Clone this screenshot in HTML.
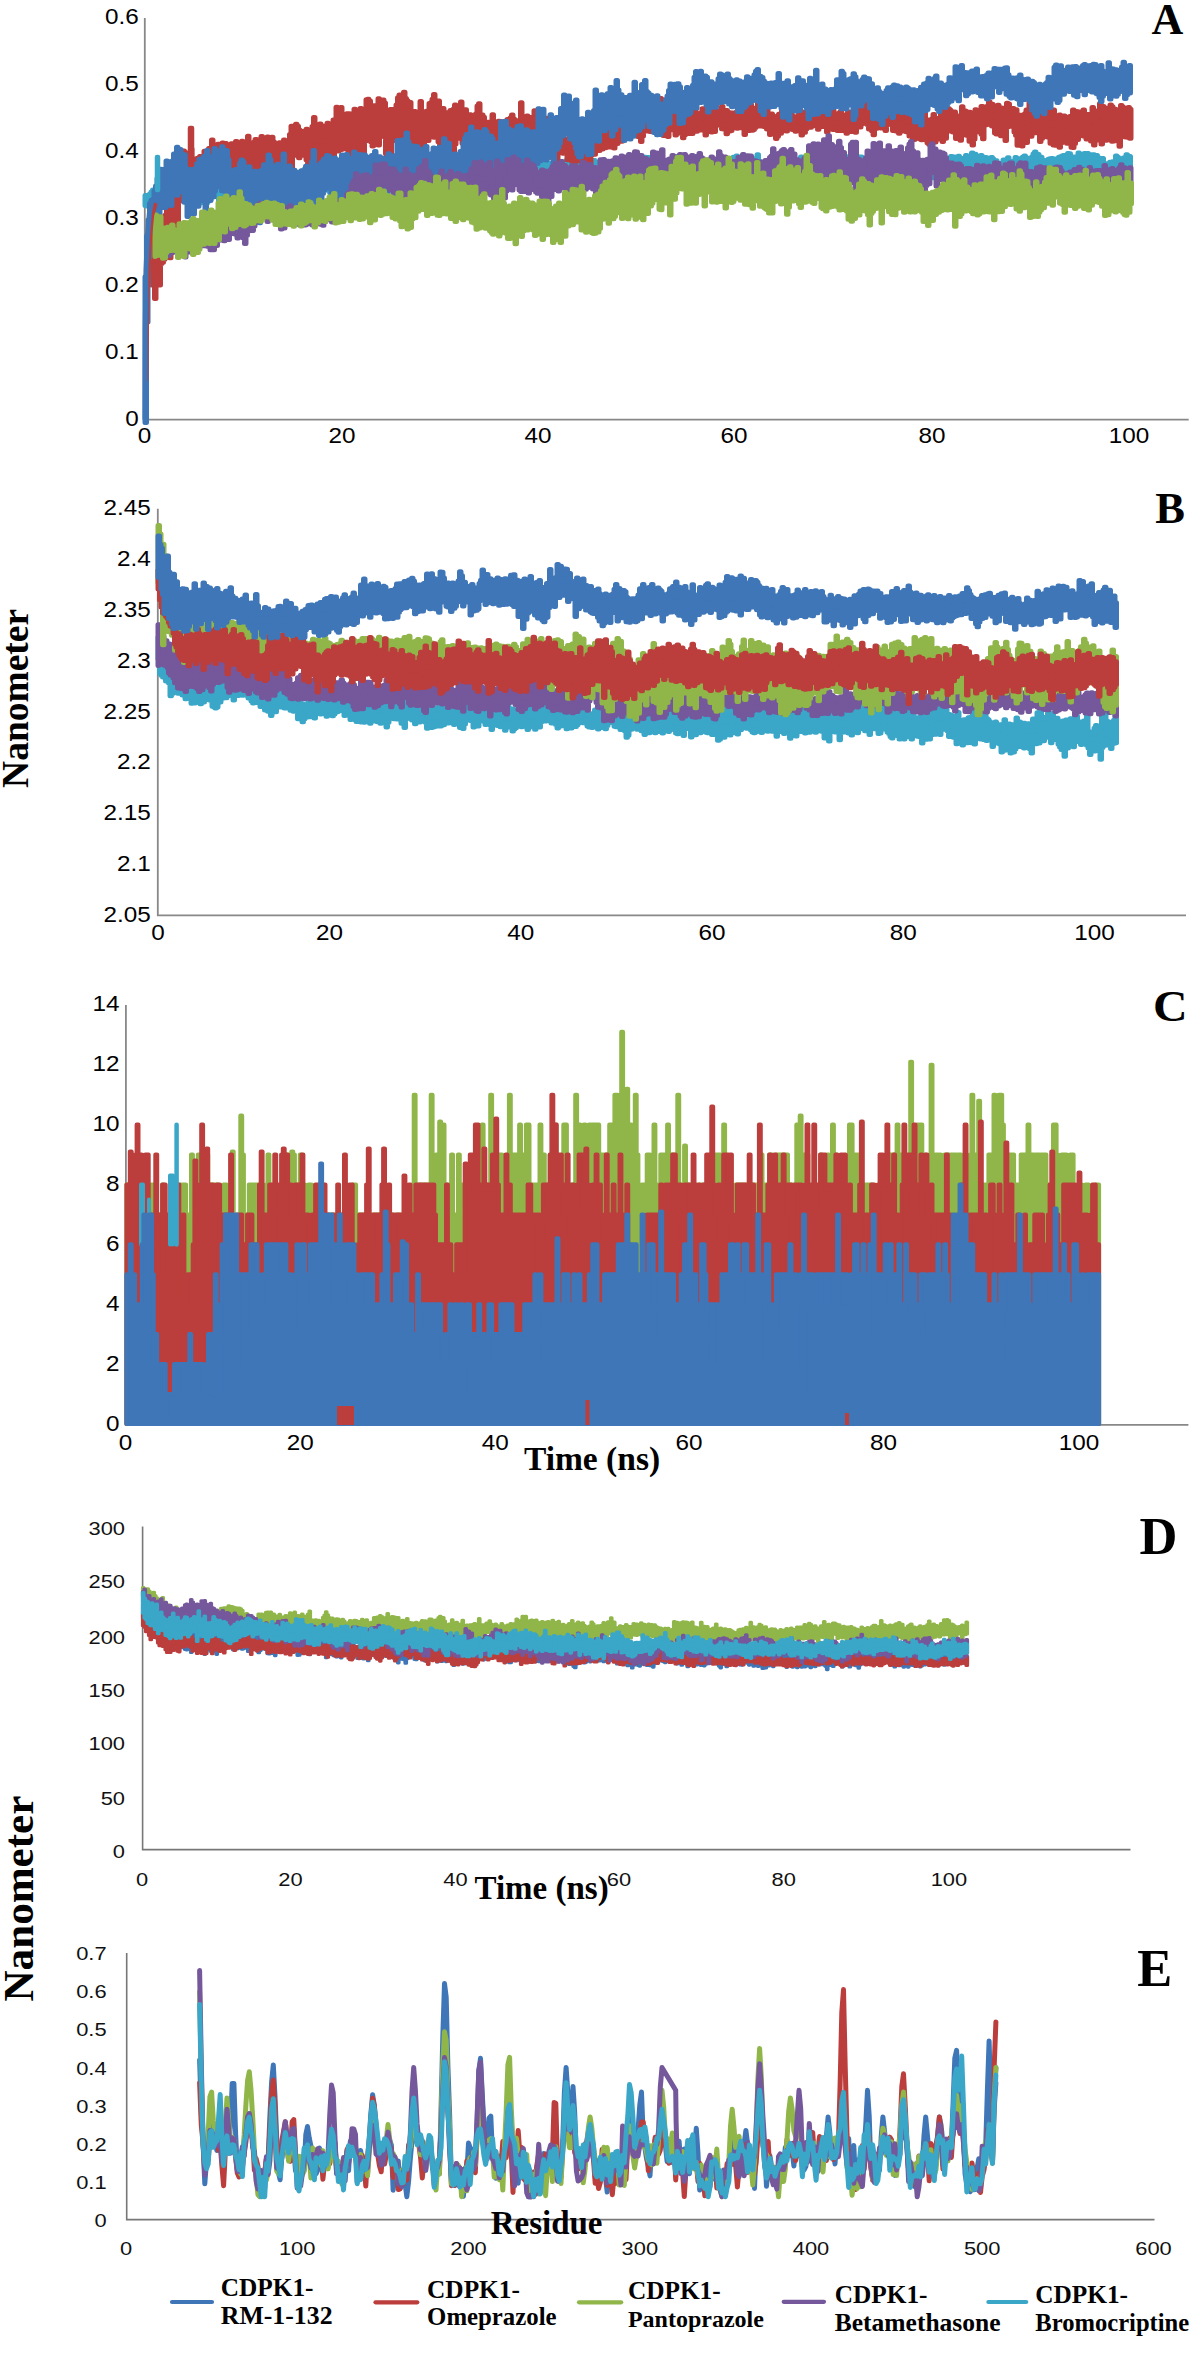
<!DOCTYPE html>
<html><head><meta charset="utf-8"><title>CDPK1 MD analysis</title>
<style>html,body{margin:0;padding:0;background:#fff;width:1192px;height:2361px;overflow:hidden}svg{display:block}</style>
</head><body>
<svg width="1192" height="2361" viewBox="0 0 1192 2361">
<path d="M144.8,18.0 V419.7 H1188.7" fill="none" stroke="#888" stroke-width="1.8"/>
<path d="M157.8,508.8 V915.3 H1186.0" fill="none" stroke="#888" stroke-width="1.8"/>
<path d="M125.9,1005.1 V1424.9 H1188.4" fill="none" stroke="#888" stroke-width="1.8"/>
<path d="M142.6,1526.4 V1849.6 H1130.5" fill="none" stroke="#777" stroke-width="1.6"/>
<path d="M126.7,1953.0 V2219.6 H1154.5" fill="none" stroke="#777" stroke-width="1.6"/>
<path d="M145.0,205.3V195.6h1.5v1.7h1.5v0.4h1.5v-3.6h1.5v-2.0h1.5v-2.0h1.5v0.9h1.5v-1.0h1.5v1.4h1.5v-0.8h1.5v-1.2h1.5v-3.1h1.5v-0.6h1.5v0.2h1.5v2.0h1.5v0.5h1.5v-3.4h1.5v-0.4h1.5v2.8h1.5v1.9h1.5v-3.0h1.5v-0.0h1.5v0.0h1.5v2.7h1.5v-3.1h1.5v2.5h1.5v-3.6h1.5v1.5h1.5v-2.2h1.5v3.2h1.5v-2.4h1.5v3.4h1.5v0.2h1.5v-0.9h1.5v-0.4h1.5v-4.7h1.5v6.7h1.5v-1.9h1.5v-4.9h1.5v6.2h1.5v2.1h1.5v0.4h1.5v-3.6h1.5v-0.6h1.5v-2.8h1.5v4.3h1.5v-4.3h1.5v3.8h1.5v-5.7h1.5v3.0h1.5v-1.2h1.5v-1.8h1.5v1.2h1.5v3.6h1.5v1.6h1.5v1.3h1.5v-2.3h1.5v-1.7h1.5v3.3h1.5v2.9h1.5v-5.1h1.5v-0.2h1.5v2.3h1.5v-5.3h1.5v1.5h1.5v3.8h1.5v-6.4h1.5v-0.1h1.5v5.9h1.5v-5.9h1.5v3.4h1.5v-0.7h1.5v-0.5h1.5v-0.7h1.5v-6.2h1.5v0.9h1.5v-0.7h1.5v2.9h1.5v2.3h1.5v-3.2h1.5v-0.7h1.5v4.7h1.5v-2.6h1.5v-3.0h1.5v-1.0h1.5v1.7h1.5v-2.6h1.5v2.4h1.5v-0.5h1.5v2.2h1.5v-5.3h1.5v-0.8h1.5v-2.6h1.5v7.2h1.5v-9.4h1.5v7.1h1.5v-0.7h1.5v0.1h1.5v2.9h1.5v-1.4h1.5v-5.0h1.5v3.1h1.5v-3.7h1.5v0.0h1.5v2.4h1.5v1.9h1.5v-7.2h1.5v4.3h1.5v-1.4h1.5v1.7h1.5v1.3h1.5v2.6h1.5v-2.7h1.5v-2.3h1.5v-3.1h1.5v0.2h1.5v5.3h1.5v-5.8h1.5v9.0h1.5v-7.6h1.5v5.0h1.5v2.4h1.5v-4.0h1.5v0.6h1.5v0.6h1.5v-1.5h1.5v0.7h1.5v-0.8h1.5v-0.4h1.5v1.7h1.5v1.9h1.5v-1.6h1.5v1.4h1.5v-2.1h1.5v-1.2h1.5v3.0h1.5v1.4h1.5v-7.3h1.5v8.2h1.5v-7.3h1.5v-3.3h1.5v0.0h1.5v-1.0h1.5v-1.3h1.5v-0.7h1.5v-1.9h1.5v8.4h1.5v-3.0h1.5v-6.3h1.5v8.0h1.5v-0.8h1.5v-5.2h1.5v2.5h1.5v9.3h1.5v-4.7h1.5v2.8h1.5v-1.7h1.5v1.0h1.5v-4.5h1.5v0.1h1.5v2.1h1.5v-8.9h1.5v2.4h1.5v1.7h1.5v3.8h1.5v-2.7h1.5v3.5h1.5v-1.4h1.5v-0.5h1.5v2.7h1.5v-1.0h1.5v-4.5h1.5v5.0h1.5v0.0h1.5v3.5h1.5v-0.2h1.5v-1.2h1.5v-4.3h1.5v2.8h1.5v-5.7h1.5v-0.2h1.5v-1.4h1.5v-0.0h1.5v-2.4h1.5v4.2h1.5v2.6h1.5v-1.2h1.5v-4.9h1.5v3.3h1.5v-0.3h1.5v-2.3h1.5v2.5h1.5v-2.6h1.5v1.0h1.5v-5.9h1.5v3.7h1.5v-1.3h1.5v8.5h1.5v-0.3h1.5v-2.1h1.5v-1.5h1.5v-1.0h1.5v4.7h1.5v-0.4h1.5v2.8h1.5v-3.2h1.5v4.3h1.5v3.2h1.5v-4.8h1.5v-1.8h1.5v-0.3h1.5v-0.4h1.5v0.1h1.5v-1.6h1.5v0.8h1.5v1.1h1.5v-1.8h1.5v-3.6h1.5v1.0h1.5v4.4h1.5v-2.4h1.5v-0.6h1.5v5.0h1.5v-8.4h1.5v-1.3h1.5v0.4h1.5v2.4h1.5v-7.7h1.5v1.9h1.5v3.4h1.5v-2.4h1.5v2.9h1.5v-2.3h1.5v0.8h1.5v1.6h1.5v-2.0h1.5v-2.4h1.5v3.1h1.5v-0.1h1.5v-4.9h1.5v4.4h1.5v-3.6h1.5v3.7h1.5v0.1h1.5v2.2h1.5v-1.3h1.5v3.0h1.5v-1.9h1.5v2.5h1.5v-2.7h1.5v1.9h1.5v1.8h1.5v-5.8h1.5v9.8h1.5v-7.2h1.5v3.9h1.5v5.3h1.5v-4.3h1.5v-4.4h1.5v3.9h1.5v-2.3h1.5v-1.5h1.5v-4.1h1.5v5.6h1.5v-4.5h1.5v-2.1h1.5v0.5h1.5v-2.3h1.5v8.3h1.5v-1.7h1.5v2.0h1.5v1.1h1.5v-0.3h1.5v-4.3h1.5v1.5h1.5v-0.6h1.5v3.9h1.5v-2.2h1.5v1.0h1.5v-1.8h1.5v-0.9h1.5v-2.8h1.5v0.1h1.5v2.1h1.5v-3.6h1.5v-1.7h1.5v6.1h1.5v-1.7h1.5v-3.7h1.5v4.0h1.5v-0.2h1.5v-0.3h1.5v0.4h1.5v-1.0h1.5v2.3h1.5v1.4h1.5v-3.4h1.5v3.6h1.5v0.3h1.5v-4.2h1.5v1.5h1.5v1.6h1.5v0.5h1.5v-1.7h1.5v-1.4h1.5v3.5h1.5v4.4h1.5v-2.0h1.5v-0.1h1.5v-1.9h1.5v2.9h1.5v1.0h1.5v-4.1h1.5v-0.7h1.5v-2.5h1.5v3.9h1.5v-0.3h1.5v-4.2h1.5v4.9h1.5v-3.4h1.5v-0.8h1.5v5.2h1.5v-5.3h1.5v1.0h1.5v1.8h1.5v-2.9h1.5v3.5h1.5v-0.4h1.5v-2.9h1.5v-2.8h1.5v4.3h1.5v0.4h1.5v-3.9h1.5v-2.4h1.5v3.4h1.5v-3.2h1.5v4.2h1.5v1.2h1.5v-1.4h1.5v3.0h1.5v-1.5h1.5v1.8h1.5v3.8h1.5v-4.5h1.5v2.8h1.5v3.7h1.5v-1.3h1.5v-0.4h1.5v-3.0h1.5v2.8h1.5v-2.4h1.5v-5.4h1.5v2.1h1.5v-3.5h1.5v-3.0h1.5v8.9h1.5v-4.3h1.5v2.3h1.5v3.7h1.5v-0.2h1.5v-2.5h1.5v-0.4h1.5v1.1h1.5v-0.3h1.5v-0.6h1.5v-2.3h1.5v0.5h1.5v-5.9h1.5v4.8h1.5v3.4h1.5v0.3h1.5v0.1h1.5v5.2h1.5v-2.9h1.5v-2.5h1.5v0.0h1.5v-0.6h1.5v2.1h1.5v-3.6h1.5v3.0h1.5v-2.4h1.5v-1.9h1.5v-2.2h1.5v0.6h1.5v2.5h1.5v-0.3h1.5v-1.6h1.5v0.2h1.5v4.9h1.5v-2.2h1.5v-3.7h1.5v-0.4h1.5v-2.0h1.5v2.0h1.5v-3.3h1.5v5.5h1.5v-3.2h1.5v-0.3h1.5v0.3h1.5v1.4h1.5v1.7h1.5v-0.9h1.5v1.7h1.5v1.0h1.5v3.5h1.5v-7.9h1.5v2.0h1.5v4.3h1.5v-10.2h1.5v6.5h1.5v3.7h1.5v2.9h1.5v-4.0h1.5v2.0h1.5v-0.2h1.5v2.3h1.5v-0.7h1.5v-4.8h1.5v3.9h1.5v0.2h1.5v-3.6h1.5v-3.9h1.5v3.0h1.5v4.2h1.5v-9.8h1.5v5.5h1.5v-2.7h1.5v1.9h1.5v-1.8h1.5v-1.3h1.5v7.5h1.5v-0.4h1.5v-4.3h1.5v6.3h1.5v-6.6h1.5v1.2h1.5v0.7h1.5v-5.5h1.5v3.6h1.5v-1.0h1.5v2.4h1.5v-6.0h1.5v2.1h1.5v4.2h1.5v0.9h1.5v-0.6h1.5v-4.9h1.5v7.8h1.5v-4.6h1.5v1.1h1.5v2.1h1.5v-3.8h1.5v-1.7h1.5v4.2h1.5v-5.7h1.5v2.9h1.5v5.5h1.5v-3.9h1.5v-0.5h1.5v1.4h1.5v-2.9h1.5v1.1h1.5v-0.1h1.5v4.0h1.5v-8.1h1.5v8.8h1.5v-0.4h1.5v-7.6h1.5v3.5h1.5v-4.2h1.5v-0.6h1.5v4.1h1.5v-2.2h1.5v1.3h1.5v-3.2h1.5v4.2h1.5v-3.0h1.5v-0.2h1.5v1.8h1.5v0.8h1.5v1.1h1.5v1.6h1.5v-0.4h1.5v0.4h1.5v1.7h1.5v3.2h1.5v-8.9h1.5v9.8h1.5v-6.4h1.5v4.6h1.5v-1.7h1.5v-4.3h1.5v1.2h1.5v-2.2h1.5v2.4h1.5v2.2h1.5v-5.4h1.5v1.9h1.5v0.6h1.5v1.7h1.5v-0.1h1.5v-2.4h1.5v3.7h1.5v-1.5h1.5v0.2h1.5v2.3h1.5v1.2h1.5v-0.7h1.5v-3.2h1.5v9.7h1.5v-5.0h1.5v-1.1h1.5v-3.2h1.5v1.5h1.5v0.7h1.5v0.6h1.5v0.5h1.5v-0.3h1.5v-4.9h1.5v4.3h1.5v-0.8h1.5v-0.5h1.5v-2.5h1.5v0.6h1.5v1.2h1.5v2.4h1.5v-4.2h1.5v-0.1h1.5v-0.3h1.5v1.4h1.5v-3.5h1.5v-0.5h1.5v-0.1h1.5v3.4h1.5v-2.2h1.5v1.7h1.5v-1.6h1.5v-2.8h1.5v1.2h1.5v-0.9h1.5v5.7h1.5v-4.1h1.5v-2.2h1.5v3.7h1.5v0.0h1.5v-1.6h1.5v1.1h1.5v-4.0h1.5v3.9h1.5v-2.6h1.5v0.3h1.5v-4.0h1.5v2.7h1.5v-1.6h1.5v3.4h1.5v0.6h1.5v1.4h1.5v-4.1h1.5v1.4h1.5v4.6h1.5v-4.0h1.5v0.4h1.5v0.9h1.5v3.2h1.5v-4.6h1.5v1.9h1.5v3.8h1.5v-2.3h1.5v6.1h1.5v-2.9h1.5v0.9h1.5v-1.7h1.5v-3.1h1.5v2.5h1.5v-1.7h1.5v-3.1h1.5v5.5h1.5v-0.1h1.5v-1.8h1.5v0.3h1.5v-4.1h1.5v1.0h1.5v0.2h1.5v2.2h1.5v-0.6h1.5v-3.5h1.5v-0.9h1.5v1.8h1.5v4.6h1.5v-3.0h1.5v0.7h1.5v-3.2h1.5v-3.0h1.5v-2.0h1.5v3.1h1.5v-0.5h1.5v2.4h1.5v0.4h1.5v3.0h1.5v0.3h1.5v2.3h1.5v2.2h1.5v-5.8h1.5v-0.6h1.5v-0.3h1.5v2.5h1.5v-2.0h1.5v3.4h1.5v-3.1h1.5v-2.0h1.5v-0.4h1.5v-0.8h1.5v-0.5h1.5v0.9h1.5v-0.3h1.5v-2.6h1.5v0.3h1.5v3.6h1.5v3.4h1.5v-3.7h1.5v-0.1h1.5v2.1h1.5v-6.0h1.5v1.3h1.5v2.2h1.5v0.5h1.5v-3.6h1.5v4.4h1.5v-4.4h1.5v3.6h1.5v-0.7h1.5v-1.7h1.5v0.1h1.5v4.1h1.5v-3.3h1.5v2.5h1.5v0.2h1.5v0.2h1.5v-0.1h1.5v4.8h1.5v1.3h1.5v2.2h1.5v-2.0h1.5v-2.5h1.5v0.9h1.5v-1.3h1.5v4.1h1.5v-9.8h1.5v1.1h1.5v5.7h1.5v-1.9h1.5v0.5h1.5v-3.6h1.5v-0.2h1.5v-3.0h1.5v2.2h1.5v-0.5h1.5V170.1h-1.5v-2.3h-1.5v1.3h-1.5v0.6h-1.5v2.3h-1.5v2.9h-1.5v0.2h-1.5v2.2h-1.5v0.0h-1.5v1.7h-1.5v-3.8h-1.5v-2.3h-1.5v2.7h-1.5v-3.3h-1.5v3.8h-1.5v1.0h-1.5v-3.5h-1.5v-0.3h-1.5v2.8h-1.5v-0.7h-1.5v-3.2h-1.5v-0.1h-1.5v-0.5h-1.5v-1.3h-1.5v3.2h-1.5v-4.8h-1.5v-1.9h-1.5v0.0h-1.5v3.9h-1.5v1.9h-1.5v-3.1h-1.5v4.3h-1.5v-5.8h-1.5v4.9h-1.5v-5.0h-1.5v2.5h-1.5v-3.3h-1.5v5.1h-1.5v1.6h-1.5v-4.5h-1.5v0.5h-1.5v3.4h-1.5v-2.4h-1.5v-1.1h-1.5v3.4h-1.5v3.4h-1.5v-4.8h-1.5v5.8h-1.5v-6.8h-1.5v1.9h-1.5v2.7h-1.5v-1.3h-1.5v2.3h-1.5v-1.9h-1.5v0.0h-1.5v1.9h-1.5v-1.6h-1.5v-5.1h-1.5v3.4h-1.5v-2.7h-1.5v-0.1h-1.5v1.1h-1.5v-1.2h-1.5v-1.0h-1.5v3.2h-1.5v-3.1h-1.5v1.5h-1.5v5.8h-1.5v-5.6h-1.5v1.2h-1.5v3.0h-1.5v-1.8h-1.5v1.0h-1.5v1.6h-1.5v-1.3h-1.5v-2.7h-1.5v0.6h-1.5v1.6h-1.5v3.8h-1.5v-3.2h-1.5v-1.5h-1.5v0.8h-1.5v3.0h-1.5v0.4h-1.5v-3.0h-1.5v-0.7h-1.5v3.7h-1.5v1.3h-1.5v-0.0h-1.5v-4.5h-1.5v0.9h-1.5v-1.8h-1.5v2.2h-1.5v-3.4h-1.5v-2.2h-1.5v-2.3h-1.5v4.5h-1.5v-2.1h-1.5v2.9h-1.5v-3.5h-1.5v2.4h-1.5v-1.3h-1.5v2.9h-1.5v-7.2h-1.5v2.8h-1.5v-1.5h-1.5v-0.3h-1.5v1.0h-1.5v4.0h-1.5v-2.5h-1.5v1.1h-1.5v-0.7h-1.5v2.8h-1.5v-2.3h-1.5v2.3h-1.5v-3.0h-1.5v3.3h-1.5v-2.6h-1.5v-2.2h-1.5v-0.1h-1.5v3.8h-1.5v-2.6h-1.5v0.5h-1.5v5.9h-1.5v-3.3h-1.5v-2.8h-1.5v1.1h-1.5v2.3h-1.5v-0.6h-1.5v5.5h-1.5v-0.1h-1.5v-0.9h-1.5v-2.5h-1.5v0.3h-1.5v-3.4h-1.5v4.4h-1.5v0.2h-1.5v0.4h-1.5v-1.1h-1.5v-0.1h-1.5v-1.7h-1.5v4.9h-1.5v0.1h-1.5v-0.8h-1.5v-3.0h-1.5v6.0h-1.5v1.3h-1.5v-0.4h-1.5v-6.3h-1.5v4.1h-1.5v-2.6h-1.5v0.4h-1.5v-1.2h-1.5v1.1h-1.5v0.5h-1.5v4.2h-1.5v-3.3h-1.5v-2.9h-1.5v-3.1h-1.5v3.6h-1.5v-4.3h-1.5v5.1h-1.5v-6.3h-1.5v3.9h-1.5v1.0h-1.5v-3.4h-1.5v5.6h-1.5v1.9h-1.5v-3.4h-1.5v0.4h-1.5v0.8h-1.5v2.2h-1.5v-2.5h-1.5v-3.1h-1.5v0.1h-1.5v-3.4h-1.5v4.0h-1.5v-6.0h-1.5v5.5h-1.5v-3.2h-1.5v-0.1h-1.5v1.8h-1.5v3.1h-1.5v-8.1h-1.5v6.0h-1.5v-5.1h-1.5v3.0h-1.5v-3.5h-1.5v2.9h-1.5v-2.2h-1.5v4.0h-1.5v3.2h-1.5v-2.8h-1.5v2.4h-1.5v-3.2h-1.5v-1.0h-1.5v2.3h-1.5v0.8h-1.5v-0.6h-1.5v-1.4h-1.5v2.2h-1.5v-5.8h-1.5v4.3h-1.5v1.5h-1.5v-4.0h-1.5v3.4h-1.5v-1.2h-1.5v-0.5h-1.5v4.0h-1.5v4.0h-1.5v-4.8h-1.5v3.7h-1.5v-3.1h-1.5v-4.3h-1.5v0.3h-1.5v-0.1h-1.5v1.8h-1.5v-3.3h-1.5v1.5h-1.5v1.0h-1.5v-1.8h-1.5v3.0h-1.5v-3.5h-1.5v4.5h-1.5v-2.6h-1.5v4.0h-1.5v3.4h-1.5v-2.5h-1.5v-5.5h-1.5v0.3h-1.5v5.0h-1.5v-4.1h-1.5v1.1h-1.5v-0.2h-1.5v-0.5h-1.5v-1.7h-1.5v3.1h-1.5v1.8h-1.5v-0.6h-1.5v-1.4h-1.5v3.2h-1.5v-0.3h-1.5v1.5h-1.5v-2.4h-1.5v0.4h-1.5v-0.1h-1.5v-3.5h-1.5v-3.1h-1.5v2.6h-1.5v2.2h-1.5v-3.0h-1.5v2.6h-1.5v3.8h-1.5v-4.4h-1.5v-1.0h-1.5v-1.3h-1.5v-0.3h-1.5v1.6h-1.5v-4.2h-1.5v-0.6h-1.5v1.7h-1.5v2.6h-1.5v-3.6h-1.5v3.0h-1.5v1.5h-1.5v-4.0h-1.5v7.3h-1.5v-2.5h-1.5v-0.5h-1.5v-4.7h-1.5v1.4h-1.5v2.3h-1.5v0.5h-1.5v0.6h-1.5v-2.7h-1.5v2.8h-1.5v7.7h-1.5v-8.2h-1.5v0.5h-1.5v-1.8h-1.5v5.1h-1.5v-3.1h-1.5v3.5h-1.5v-0.8h-1.5v0.3h-1.5v-1.8h-1.5v-3.3h-1.5v3.0h-1.5v-0.4h-1.5v-2.2h-1.5v0.2h-1.5v6.8h-1.5v-4.0h-1.5v-0.4h-1.5v4.6h-1.5v-3.3h-1.5v0.5h-1.5v-0.6h-1.5v-3.6h-1.5v3.7h-1.5v0.1h-1.5v2.8h-1.5v-6.5h-1.5v-0.1h-1.5v4.5h-1.5v-2.9h-1.5v4.2h-1.5v1.3h-1.5v-0.1h-1.5v2.1h-1.5v-0.8h-1.5v1.2h-1.5v-7.0h-1.5v-0.4h-1.5v6.0h-1.5v-6.9h-1.5v0.7h-1.5v-2.2h-1.5v-1.6h-1.5v4.5h-1.5v-4.1h-1.5v-1.4h-1.5v2.1h-1.5v-0.9h-1.5v3.9h-1.5v-4.3h-1.5v-0.3h-1.5v4.5h-1.5v-0.9h-1.5v-3.7h-1.5v4.3h-1.5v-1.0h-1.5v3.6h-1.5v-4.5h-1.5v0.4h-1.5v3.8h-1.5v-3.2h-1.5v0.9h-1.5v4.9h-1.5v-2.6h-1.5v0.1h-1.5v5.3h-1.5v-6.3h-1.5v2.6h-1.5v0.1h-1.5v-2.3h-1.5v1.3h-1.5v-1.3h-1.5v0.1h-1.5v1.5h-1.5v-1.6h-1.5v-3.3h-1.5v-0.2h-1.5v-0.3h-1.5v0.8h-1.5v2.1h-1.5v-1.2h-1.5v-0.5h-1.5v1.7h-1.5v-3.9h-1.5v2.8h-1.5v-1.5h-1.5v-1.3h-1.5v2.3h-1.5v-0.7h-1.5v-0.3h-1.5v-2.3h-1.5v1.1h-1.5v3.7h-1.5v-2.2h-1.5v-0.8h-1.5v2.7h-1.5v-0.6h-1.5v0.1h-1.5v-6.2h-1.5v5.5h-1.5v1.8h-1.5v-4.4h-1.5v5.9h-1.5v-1.9h-1.5v1.3h-1.5v3.4h-1.5v-2.0h-1.5v0.7h-1.5v0.2h-1.5v-0.4h-1.5v4.3h-1.5v-8.6h-1.5v6.3h-1.5v-9.0h-1.5v1.9h-1.5v-0.8h-1.5v1.6h-1.5v-0.3h-1.5v-1.1h-1.5v3.5h-1.5v3.2h-1.5v0.4h-1.5v0.3h-1.5v-0.5h-1.5v0.0h-1.5v-2.8h-1.5v-5.4h-1.5v11.9h-1.5v-8.4h-1.5v-0.2h-1.5v3.0h-1.5v2.7h-1.5v-4.5h-1.5v1.8h-1.5v-3.0h-1.5v3.1h-1.5v0.7h-1.5v-4.7h-1.5v0.5h-1.5v-1.5h-1.5v2.1h-1.5v-8.0h-1.5v8.3h-1.5v-3.5h-1.5v1.0h-1.5v-1.0h-1.5v1.1h-1.5v1.7h-1.5v-3.1h-1.5v3.2h-1.5v-3.7h-1.5v-0.5h-1.5v5.7h-1.5v-3.7h-1.5v10.1h-1.5v-5.9h-1.5v0.6h-1.5v1.4h-1.5v-1.1h-1.5v2.2h-1.5v-0.4h-1.5v-0.3h-1.5v-2.0h-1.5v2.9h-1.5v3.7h-1.5v-2.0h-1.5v1.8h-1.5v-3.7h-1.5v6.0h-1.5v-1.6h-1.5v1.5h-1.5v-3.2h-1.5v-0.4h-1.5v4.0h-1.5v-1.3h-1.5v-4.1h-1.5v4.7h-1.5v-2.2h-1.5v1.3h-1.5v-5.9h-1.5v8.1h-1.5v-8.0h-1.5v2.9h-1.5v-2.7h-1.5v5.8h-1.5v-10.4h-1.5v5.4h-1.5v-1.2h-1.5v1.0h-1.5v1.8h-1.5v1.3h-1.5v-0.2h-1.5v-4.2h-1.5v-3.1h-1.5v5.8h-1.5v4.0h-1.5v-4.9h-1.5v-1.1h-1.5v3.5h-1.5v-1.9h-1.5v-2.4h-1.5v5.3h-1.5v2.5h-1.5v1.0h-1.5v-0.5h-1.5v8.1h-1.5v-3.5h-1.5v-8.2h-1.5v6.1h-1.5v-4.5h-1.5v-0.0h-1.5v1.3h-1.5v1.8h-1.5v-5.6h-1.5v2.2h-1.5v1.9h-1.5v-2.6h-1.5v-4.3h-1.5v0.2h-1.5v5.1h-1.5v5.2h-1.5v-4.5h-1.5v0.2h-1.5v-0.2h-1.5v-0.4h-1.5v4.2h-1.5v4.6h-1.5v-3.3h-1.5v-2.8h-1.5v-2.7h-1.5v0.4h-1.5v-1.8h-1.5v-3.7h-1.5v5.7h-1.5v-1.7h-1.5v4.2h-1.5v-5.1h-1.5v1.7h-1.5v3.5h-1.5v-7.1h-1.5v8.0h-1.5v-1.5h-1.5v1.7h-1.5v-3.8h-1.5v4.9h-1.5v4.9h-1.5v-0.8h-1.5v-1.6h-1.5v4.3h-1.5v-7.0h-1.5v-1.4h-1.5v1.6h-1.5v-0.9h-1.5v0.7h-1.5v-2.8h-1.5v0.5h-1.5v-1.5h-1.5v6.1h-1.5v-7.0h-1.5v0.2h-1.5v2.0h-1.5v0.9h-1.5v1.7h-1.5v1.0h-1.5v-4.1h-1.5v-0.7h-1.5v-0.8h-1.5v-3.3h-1.5v4.1h-1.5v3.6h-1.5v-1.9h-1.5v1.0h-1.5v-3.5h-1.5v4.4h-1.5v-1.8h-1.5v3.5h-1.5v-5.4h-1.5v0.2h-1.5v-2.6h-1.5v4.1h-1.5v0.1h-1.5v-3.4h-1.5v2.3h-1.5v0.4h-1.5v0.0h-1.5v3.7h-1.5v-2.3h-1.5v2.3h-1.5v-2.4h-1.5v5.2h-1.5v-0.9h-1.5v-1.3h-1.5v-3.0h-1.5v6.5h-1.5v-2.1h-1.5v-1.0h-1.5v0.1h-1.5v5.2h-1.5v0.3h-1.5v0.5h-1.5v-6.9h-1.5v3.1h-1.5v2.6h-1.5v-2.7h-1.5v-3.3h-1.5v4.6h-1.5v-1.4h-1.5v6.1h-1.5v-6.0h-1.5v1.1h-1.5v0.9h-1.5v1.0h-1.5v0.2h-1.5v2.4h-1.5v1.7h-1.5v1.6h-1.5v-0.9h-1.5v-3.2h-1.5v2.5h-1.5v-2.7h-1.5v1.2h-1.5v-1.5h-1.5v4.8h-1.5v-3.9h-1.5v3.8h-1.5v-4.5h-1.5v3.6h-1.5v-1.2h-1.5v-2.7h-1.5v-3.1h-1.5v1.7h-1.5v2.9h-1.5v-4.2h-1.5v0.5h-1.5v-0.1h-1.5v0.5h-1.5v-0.3h-1.5v3.0h-1.5v-1.6h-1.5v4.6h-1.5v-1.0h-1.5v-3.0h-1.5v3.3h-1.5v0.9h-1.5v-4.4h-1.5v-2.1h-1.5v1.7h-1.5v0.4h-1.5v4.1h-1.5v-3.6h-1.5v-2.4h-1.5v0.2h-1.5v-1.7h-1.5v0.1h-1.5v6.2h-1.5v-6.3h-1.5v2.3h-1.5v-1.9h-1.5v-0.5h-1.5v0.3h-1.5v2.7h-1.5v2.1h-1.5v1.7h-1.5v-2.4h-1.5v-2.9h-1.5v2.2h-1.5v1.1h-1.5v-0.4h-1.5v0.2h-1.5v1.0h-1.5v-2.4h-1.5v2.4h-1.5v1.8h-1.5v-0.3h-1.5v1.2h-1.5v-1.6h-1.5v0.3h-1.5v-1.3h-1.5v5.1h-1.5v0.5h-1.5v-0.5h-1.5Z" fill="#3aa6c8" stroke="#3aa6c8" stroke-width="5.0" stroke-linejoin="round"/>
<path d="M150.0,284.0V247.1h1.5v-16.3h1.5v-4.5h1.5v4.4h1.5v11.5h1.5v-24.4h1.5v11.7h1.5v-0.2h1.5v1.5h1.5v-12.2h1.5v-3.3h1.5v-11.8h1.5v15.4h1.5v5.1h1.5v-23.8h1.5v-7.1h1.5v3.4h1.5v-9.4h1.5v-2.5h1.5v-24.1h1.5v-5.5h1.5v8.4h1.5v-12.5h1.5v1.7h1.5v8.2h1.5v1.2h1.5v3.7h1.5v-16.6h1.5v13.7h1.5v0.8h1.5v0.1h1.5v-5.2h1.5v13.2h1.5v-15.3h1.5v7.9h1.5v8.0h1.5v-21.1h1.5v4.7h1.5v-4.1h1.5v-3.3h1.5v1.6h1.5v-10.0h1.5v6.7h1.5v5.4h1.5v-6.2h1.5v-1.8h1.5v7.8h1.5v-4.5h1.5v-4.5h1.5v6.6h1.5v-6.2h1.5v4.2h1.5v1.0h1.5v-1.4h1.5v-3.4h1.5v3.9h1.5v-4.0h1.5v-2.2h1.5v2.8h1.5v-0.9h1.5v2.8h1.5v-4.9h1.5v5.4h1.5v1.3h1.5v6.7h1.5v-18.5h1.5v12.7h1.5v-5.9h1.5v4.8h1.5v-5.6h1.5v-2.7h1.5v5.3h1.5v-4.9h1.5v0.8h1.5v-4.2h1.5v1.4h1.5v4.6h1.5v-1.8h1.5v-3.6h1.5v4.4h1.5v10.3h1.5v-14.5h1.5v4.8h1.5v9.6h1.5v-4.5h1.5v-1.1h1.5v-3.3h1.5v5.2h1.5v-3.9h1.5v-4.0h1.5v4.4h1.5v-0.6h1.5v-0.7h1.5v-8.7h1.5v-8.3h1.5v2.2h1.5v2.1h1.5v-6.2h1.5v2.0h1.5v3.7h1.5v7.5h1.5v-4.4h1.5v-1.6h1.5v1.3h1.5v-3.5h1.5v4.8h1.5v5.1h1.5v-9.0h1.5v-3.7h1.5v-9.1h1.5v10.9h1.5v1.1h1.5v1.4h1.5v-6.7h1.5v7.6h1.5v4.8h1.5v-10.3h1.5v7.5h1.5v-10.5h1.5v14.3h1.5v-1.4h1.5v-11.6h1.5v-4.6h1.5v6.0h1.5v-18.6h1.5v12.0h1.5v-9.8h1.5v-2.1h1.5v9.9h1.5v13.0h1.5v-6.5h1.5v-10.1h1.5v0.1h1.5v8.2h1.5v-8.1h1.5v12.3h1.5v-16.9h1.5v6.2h1.5v10.8h1.5v-14.1h1.5v-3.7h1.5v15.6h1.5v-8.7h1.5v2.8h1.5v-18.4h1.5v-0.6h1.5v1.8h1.5v5.1h1.5v8.5h1.5v-8.9h1.5v6.8h1.5v3.3h1.5v-17.0h1.5v11.5h1.5v-9.0h1.5v-1.4h1.5v3.1h1.5v15.0h1.5v-3.0h1.5v7.2h1.5v-12.6h1.5v-0.1h1.5v5.5h1.5v-1.5h1.5v-8.6h1.5v-7.1h1.5v-2.7h1.5v11.6h1.5v1.9h1.5v-16.4h1.5v6.3h1.5v2.2h1.5v11.2h1.5v-9.4h1.5v10.1h1.5v2.5h1.5v-3.6h1.5v4.0h1.5v6.5h1.5v-0.9h1.5v-19.7h1.5v13.4h1.5v8.9h1.5v-11.1h1.5v-1.4h1.5v1.9h1.5v-9.7h1.5v-0.7h1.5v-3.5h1.5v-4.6h1.5v13.8h1.5v5.2h1.5v-12.7h1.5v17.8h1.5v-5.0h1.5v-5.1h1.5v10.1h1.5v-0.3h1.5v-5.6h1.5v6.5h1.5v-8.9h1.5v13.1h1.5v-14.2h1.5v-4.4h1.5v7.9h1.5v-0.1h1.5v-6.0h1.5v-4.7h1.5v7.8h1.5v4.9h1.5v-4.9h1.5v7.0h1.5v6.2h1.5v-8.2h1.5v6.8h1.5v0.0h1.5v1.9h1.5v-9.6h1.5v-7.8h1.5v-2.3h1.5v12.9h1.5v-1.8h1.5v2.3h1.5v6.1h1.5v3.4h1.5v-4.5h1.5v2.7h1.5v5.5h1.5v-15.7h1.5v10.8h1.5v6.3h1.5v-2.1h1.5v-8.5h1.5v0.2h1.5v0.3h1.5v0.9h1.5v3.7h1.5v-3.3h1.5v-3.6h1.5v2.6h1.5v-3.9h1.5v-3.2h1.5v4.0h1.5v3.2h1.5v5.1h1.5v-6.5h1.5v3.1h1.5v-21.1h1.5v27.6h1.5v1.3h1.5v-5.6h1.5v-10.1h1.5v11.9h1.5v3.2h1.5v-13.6h1.5v2.3h1.5v-8.9h1.5v8.0h1.5v-4.6h1.5v10.6h1.5v-13.8h1.5v10.6h1.5v1.4h1.5v2.5h1.5v-7.2h1.5v2.2h1.5v10.6h1.5v-1.4h1.5v0.8h1.5v3.0h1.5v4.2h1.5v-4.9h1.5v1.4h1.5v-0.6h1.5v1.7h1.5v2.5h1.5v2.4h1.5v4.3h1.5v-1.7h1.5v-4.9h1.5v7.9h1.5v-2.6h1.5v5.2h1.5v-3.4h1.5v5.4h1.5v-3.1h1.5v-4.6h1.5v1.6h1.5v1.5h1.5v0.1h1.5v-0.0h1.5v0.2h1.5v-1.7h1.5v0.4h1.5v-4.5h1.5v-7.0h1.5v3.6h1.5v-0.1h1.5v-1.0h1.5v-4.2h1.5v-4.6h1.5v5.4h1.5v0.5h1.5v-3.0h1.5v4.7h1.5v-6.5h1.5v3.7h1.5v-0.9h1.5v-2.7h1.5v-3.0h1.5v3.9h1.5v-3.1h1.5v-4.2h1.5v-3.9h1.5v9.2h1.5v-14.8h1.5v3.3h1.5v-5.6h1.5v-1.2h1.5v-5.1h1.5v-2.4h1.5v1.0h1.5v8.0h1.5v-3.3h1.5v5.6h1.5v-0.6h1.5v-2.5h1.5v3.0h1.5v-0.1h1.5v-1.3h1.5v-7.3h1.5v-2.8h1.5v17.2h1.5v-9.4h1.5v7.3h1.5v-9.4h1.5v1.6h1.5v-3.5h1.5v-4.6h1.5v7.6h1.5v-9.2h1.5v6.2h1.5v9.3h1.5v-2.5h1.5v-4.6h1.5v6.2h1.5v-9.7h1.5v9.6h1.5v-2.3h1.5v-2.4h1.5v7.4h1.5v0.9h1.5v-1.0h1.5v1.8h1.5v-3.2h1.5v5.8h1.5v-6.9h1.5v-0.4h1.5v1.4h1.5v-7.1h1.5v12.6h1.5v-2.0h1.5v-4.1h1.5v-3.3h1.5v5.5h1.5v-2.0h1.5v5.5h1.5v-6.4h1.5v-4.2h1.5v7.6h1.5v-1.4h1.5v0.4h1.5v-6.9h1.5v6.0h1.5v-4.6h1.5v2.2h1.5v-4.3h1.5v6.2h1.5v-3.1h1.5v0.6h1.5v2.4h1.5v-7.4h1.5v6.5h1.5v7.6h1.5v-10.0h1.5v7.6h1.5v-5.3h1.5v0.1h1.5v0.2h1.5v1.1h1.5v-0.3h1.5v-2.4h1.5v0.7h1.5v-2.6h1.5v3.9h1.5v-3.7h1.5v-3.2h1.5v6.5h1.5v-2.6h1.5v4.3h1.5v-10.2h1.5v5.1h1.5v-1.5h1.5v4.0h1.5v-3.7h1.5v-5.2h1.5v1.3h1.5v0.9h1.5v-2.8h1.5v7.4h1.5v1.5h1.5v-4.4h1.5v9.2h1.5v-2.5h1.5v0.2h1.5v1.8h1.5v4.5h1.5v0.8h1.5v-2.3h1.5v-4.6h1.5v-0.3h1.5v-2.9h1.5v-3.5h1.5v-0.9h1.5v5.7h1.5v-6.8h1.5v5.5h1.5v-0.2h1.5v5.3h1.5v0.7h1.5v1.6h1.5v-0.7h1.5v-2.7h1.5v5.7h1.5v-6.7h1.5v-2.0h1.5v3.8h1.5v-0.3h1.5v-2.4h1.5v-6.1h1.5v-1.7h1.5v-0.2h1.5v3.0h1.5v-1.1h1.5v-0.7h1.5v6.5h1.5v-7.8h1.5v2.1h1.5v6.0h1.5v-3.3h1.5v-5.6h1.5v10.9h1.5v-7.5h1.5v6.0h1.5v-0.6h1.5v-2.4h1.5v7.6h1.5v-2.7h1.5v-1.0h1.5v-1.4h1.5v-1.6h1.5v4.1h1.5v-0.6h1.5v1.3h1.5v-0.4h1.5v-3.9h1.5v5.1h1.5v-1.3h1.5v-4.5h1.5v5.3h1.5v-4.5h1.5v-2.2h1.5v-1.9h1.5v-1.7h1.5v2.4h1.5v-3.9h1.5v2.7h1.5v1.3h1.5v-5.9h1.5v12.2h1.5v-3.3h1.5v6.1h1.5v-7.6h1.5v2.5h1.5v-2.8h1.5v0.4h1.5v-6.7h1.5v2.0h1.5v-0.0h1.5v2.0h1.5v-3.5h1.5v3.2h1.5v-0.2h1.5v-2.2h1.5v4.6h1.5v-6.3h1.5v5.0h1.5v2.5h1.5v4.3h1.5v-8.9h1.5v10.5h1.5v0.9h1.5v-4.0h1.5v-7.4h1.5v9.1h1.5v-3.7h1.5v9.2h1.5v-16.1h1.5v8.4h1.5v4.4h1.5v-2.0h1.5v-1.2h1.5v7.8h1.5v-7.4h1.5v5.7h1.5v-3.2h1.5v-4.9h1.5v9.3h1.5v-1.6h1.5v3.1h1.5v-1.0h1.5v-3.1h1.5v-4.5h1.5v7.0h1.5v0.7h1.5v-3.7h1.5v-0.6h1.5v-8.9h1.5v3.2h1.5v-4.8h1.5v7.4h1.5v-4.2h1.5v-1.9h1.5v1.5h1.5v6.8h1.5v-3.7h1.5v-1.5h1.5v7.7h1.5v-3.5h1.5v2.2h1.5v-1.2h1.5v-10.3h1.5v8.5h1.5v-4.2h1.5v0.9h1.5v1.2h1.5v-0.9h1.5v3.4h1.5v4.7h1.5v-6.9h1.5v-3.8h1.5v2.4h1.5v2.0h1.5v-3.0h1.5v-4.7h1.5v3.4h1.5v-2.8h1.5v3.3h1.5v-3.9h1.5v-4.6h1.5v6.1h1.5v-3.6h1.5v5.5h1.5v-0.5h1.5v-2.7h1.5v-1.3h1.5v7.2h1.5v-4.5h1.5v0.3h1.5v7.6h1.5v-3.2h1.5v-9.4h1.5v0.6h1.5v5.5h1.5v1.4h1.5v-2.2h1.5v2.8h1.5v-1.6h1.5v17.6h1.5v-10.6h1.5v-1.6h1.5v0.2h1.5v2.8h1.5v-4.5h1.5v-3.6h1.5v6.4h1.5v-18.7h1.5v8.9h1.5v0.0h1.5v-4.6h1.5v5.2h1.5v2.7h1.5v-0.1h1.5v9.6h1.5v-9.9h1.5v-0.1h1.5v-6.7h1.5v9.7h1.5v6.8h1.5v-12.9h1.5v9.9h1.5v-6.2h1.5v-0.2h1.5v9.2h1.5v0.1h1.5v6.0h1.5v-10.3h1.5v8.4h1.5v-5.3h1.5v-2.1h1.5v6.8h1.5v3.8h1.5v2.7h1.5v-12.6h1.5v4.3h1.5v-11.0h1.5v7.7h1.5v-6.0h1.5v4.2h1.5v-3.8h1.5v0.9h1.5v3.0h1.5v-5.8h1.5v7.7h1.5v1.9h1.5v-5.3h1.5v6.7h1.5v-2.5h1.5v-11.0h1.5v7.1h1.5v2.5h1.5v-6.2h1.5v4.0h1.5v-11.4h1.5v10.5h1.5v-7.6h1.5v7.0h1.5v-5.3h1.5v5.3h1.5v-3.1h1.5v-5.5h1.5v1.9h1.5v12.4h1.5v-9.9h1.5v5.5h1.5v0.4h1.5v1.2h1.5v-10.9h1.5v1.6h1.5v7.6h1.5v0.0h1.5v2.0h1.5v-9.2h1.5v1.8h1.5V138.3h-1.5v-0.9h-1.5v-0.3h-1.5v-0.0h-1.5v-4.1h-1.5v0.5h-1.5v-1.5h-1.5v14.3h-1.5v-6.0h-1.5v-9.3h-1.5v3.4h-1.5v6.5h-1.5v0.4h-1.5v-1.3h-1.5v-11.0h-1.5v5.5h-1.5v5.8h-1.5v-5.3h-1.5v-3.3h-1.5v12.4h-1.5v-22.4h-1.5v18.4h-1.5v-5.9h-1.5v2.0h-1.5v8.9h-1.5v-18.0h-1.5v13.8h-1.5v-8.1h-1.5v1.3h-1.5v4.9h-1.5v-6.7h-1.5v3.7h-1.5v-5.3h-1.5v-0.1h-1.5v4.7h-1.5v4.2h-1.5v-3.7h-1.5v7.6h-1.5v4.2h-1.5v-0.4h-1.5v-5.1h-1.5v-3.0h-1.5v4.2h-1.5v-4.5h-1.5v-0.6h-1.5v0.3h-1.5v4.3h-1.5v4.4h-1.5v-7.2h-1.5v-4.7h-1.5v9.9h-1.5v-0.1h-1.5v-12.2h-1.5v10.3h-1.5v-7.3h-1.5v1.2h-1.5v-7.5h-1.5v2.8h-1.5v-0.6h-1.5v6.7h-1.5v3.0h-1.5v-13.6h-1.5v-1.6h-1.5v6.5h-1.5v-6.7h-1.5v-2.0h-1.5v12.1h-1.5v-11.0h-1.5v3.0h-1.5v14.2h-1.5v-1.5h-1.5v-6.7h-1.5v11.7h-1.5v-10.7h-1.5v3.8h-1.5v6.2h-1.5v-10.0h-1.5v-3.3h-1.5v-7.6h-1.5v1.9h-1.5v-2.8h-1.5v1.8h-1.5v1.8h-1.5v13.4h-1.5v-11.1h-1.5v0.5h-1.5v5.9h-1.5v-8.2h-1.5v3.8h-1.5v2.6h-1.5v-1.0h-1.5v-10.8h-1.5v3.9h-1.5v-4.8h-1.5v2.3h-1.5v0.3h-1.5v0.9h-1.5v0.0h-1.5v14.0h-1.5v-4.5h-1.5v-2.0h-1.5v-4.9h-1.5v4.1h-1.5v-2.0h-1.5v9.7h-1.5v5.9h-1.5v-12.8h-1.5v9.1h-1.5v-18.5h-1.5v12.5h-1.5v-8.0h-1.5v4.0h-1.5v-1.5h-1.5v10.4h-1.5v-3.7h-1.5v-4.2h-1.5v6.2h-1.5v-6.5h-1.5v-0.1h-1.5v-4.7h-1.5v3.7h-1.5v-1.6h-1.5v-1.4h-1.5v10.3h-1.5v-4.4h-1.5v7.7h-1.5v-13.0h-1.5v8.8h-1.5v-2.8h-1.5v4.9h-1.5v2.5h-1.5v-9.3h-1.5v9.3h-1.5v2.6h-1.5v-0.3h-1.5v-1.5h-1.5v-3.7h-1.5v-0.6h-1.5v1.1h-1.5v0.2h-1.5v-0.6h-1.5v-3.9h-1.5v2.1h-1.5v-2.7h-1.5v5.0h-1.5v-2.3h-1.5v-9.6h-1.5v8.2h-1.5v-4.7h-1.5v0.6h-1.5v-3.7h-1.5v2.8h-1.5v-1.1h-1.5v-6.1h-1.5v9.6h-1.5v-6.2h-1.5v3.8h-1.5v-6.0h-1.5v5.7h-1.5v-8.0h-1.5v-1.6h-1.5v1.5h-1.5v2.3h-1.5v5.8h-1.5v-6.9h-1.5v-1.0h-1.5v5.4h-1.5v-8.6h-1.5v7.9h-1.5v0.8h-1.5v-2.9h-1.5v9.4h-1.5v-4.0h-1.5v-7.6h-1.5v5.9h-1.5v-4.5h-1.5v-3.4h-1.5v1.5h-1.5v-2.1h-1.5v3.4h-1.5v3.1h-1.5v-4.9h-1.5v2.5h-1.5v7.6h-1.5v-6.8h-1.5v2.5h-1.5v3.6h-1.5v-2.0h-1.5v-6.6h-1.5v10.3h-1.5v-2.1h-1.5v-1.5h-1.5v-3.9h-1.5v4.9h-1.5v-3.8h-1.5v3.8h-1.5v-2.1h-1.5v-0.1h-1.5v1.1h-1.5v-2.1h-1.5v-1.5h-1.5v-4.9h-1.5v11.0h-1.5v-5.7h-1.5v-1.8h-1.5v2.1h-1.5v-1.7h-1.5v-2.9h-1.5v7.2h-1.5v-3.1h-1.5v-3.7h-1.5v-0.5h-1.5v4.0h-1.5v1.3h-1.5v-6.9h-1.5v4.8h-1.5v3.7h-1.5v3.5h-1.5v-5.2h-1.5v8.0h-1.5v-5.0h-1.5v-0.3h-1.5v-1.5h-1.5v2.9h-1.5v-3.5h-1.5v1.9h-1.5v-10.6h-1.5v4.7h-1.5v1.9h-1.5v5.4h-1.5v-3.4h-1.5v3.2h-1.5v-2.2h-1.5v4.7h-1.5v-4.7h-1.5v7.7h-1.5v2.1h-1.5v-5.5h-1.5v-1.9h-1.5v-2.1h-1.5v5.6h-1.5v-5.9h-1.5v0.5h-1.5v-3.2h-1.5v0.6h-1.5v-1.9h-1.5v-1.8h-1.5v3.1h-1.5v-6.1h-1.5v2.2h-1.5v5.4h-1.5v2.0h-1.5v0.8h-1.5v-1.1h-1.5v1.3h-1.5v-6.0h-1.5v5.0h-1.5v5.2h-1.5v-12.0h-1.5v5.2h-1.5v-1.4h-1.5v1.1h-1.5v0.8h-1.5v-1.2h-1.5v-2.1h-1.5v1.0h-1.5v4.5h-1.5v0.4h-1.5v0.2h-1.5v2.6h-1.5v-4.4h-1.5v-0.2h-1.5v-0.3h-1.5v-3.4h-1.5v-0.5h-1.5v-0.5h-1.5v0.1h-1.5v6.9h-1.5v-0.1h-1.5v0.8h-1.5v-5.2h-1.5v2.1h-1.5v2.1h-1.5v3.9h-1.5v-9.3h-1.5v2.4h-1.5v1.8h-1.5v-2.1h-1.5v2.4h-1.5v1.0h-1.5v-0.9h-1.5v0.2h-1.5v2.9h-1.5v-2.3h-1.5v2.4h-1.5v-4.1h-1.5v2.4h-1.5v3.0h-1.5v3.0h-1.5v-4.3h-1.5v-1.4h-1.5v-0.1h-1.5v-3.8h-1.5v6.7h-1.5v-10.5h-1.5v5.4h-1.5v-6.7h-1.5v1.8h-1.5v11.5h-1.5v-4.1h-1.5v-1.9h-1.5v5.1h-1.5v-9.6h-1.5v-3.6h-1.5v6.6h-1.5v-1.8h-1.5v-0.5h-1.5v3.6h-1.5v-3.6h-1.5v1.8h-1.5v3.0h-1.5v-1.3h-1.5v-1.4h-1.5v2.4h-1.5v0.1h-1.5v4.8h-1.5v5.5h-1.5v-8.5h-1.5v3.5h-1.5v-8.7h-1.5v2.7h-1.5v0.2h-1.5v2.1h-1.5v-10.2h-1.5v7.4h-1.5v-0.4h-1.5v-2.9h-1.5v7.2h-1.5v1.3h-1.5v6.0h-1.5v-4.8h-1.5v3.3h-1.5v3.7h-1.5v0.5h-1.5v4.0h-1.5v-5.1h-1.5v3.8h-1.5v0.5h-1.5v-1.9h-1.5v-1.2h-1.5v3.7h-1.5v-1.1h-1.5v2.4h-1.5v-1.9h-1.5v3.3h-1.5v-1.9h-1.5v-0.2h-1.5v6.0h-1.5v-0.5h-1.5v1.0h-1.5v8.6h-1.5v-5.5h-1.5v1.7h-1.5v7.9h-1.5v-9.3h-1.5v4.5h-1.5v-4.3h-1.5v-2.3h-1.5v3.5h-1.5v1.6h-1.5v-4.3h-1.5v4.5h-1.5v-0.2h-1.5v-2.2h-1.5v-3.8h-1.5v4.6h-1.5v-6.4h-1.5v-2.3h-1.5v2.2h-1.5v-4.6h-1.5v-6.4h-1.5v5.0h-1.5v12.1h-1.5v-1.2h-1.5v-9.2h-1.5v-2.3h-1.5v-0.9h-1.5v11.4h-1.5v-7.0h-1.5v-11.2h-1.5v8.9h-1.5v-6.6h-1.5v4.4h-1.5v-9.2h-1.5v4.1h-1.5v0.2h-1.5v8.8h-1.5v-0.1h-1.5v-9.2h-1.5v-3.0h-1.5v7.1h-1.5v5.4h-1.5v-4.6h-1.5v-2.6h-1.5v14.6h-1.5v-7.6h-1.5v-2.8h-1.5v-1.4h-1.5v4.0h-1.5v-1.2h-1.5v-0.9h-1.5v-4.3h-1.5v4.7h-1.5v-4.0h-1.5v-4.6h-1.5v-4.0h-1.5v16.0h-1.5v-7.1h-1.5v-2.1h-1.5v2.1h-1.5v-2.6h-1.5v2.1h-1.5v4.8h-1.5v4.9h-1.5v-0.1h-1.5v-2.7h-1.5v-0.9h-1.5v-3.5h-1.5v1.3h-1.5v0.8h-1.5v-7.3h-1.5v2.9h-1.5v-0.7h-1.5v-11.4h-1.5v4.5h-1.5v-1.0h-1.5v2.8h-1.5v5.7h-1.5v5.3h-1.5v-9.2h-1.5v5.0h-1.5v1.9h-1.5v-2.2h-1.5v-4.8h-1.5v-4.2h-1.5v7.9h-1.5v-7.7h-1.5v2.6h-1.5v-2.6h-1.5v-0.1h-1.5v8.4h-1.5v11.7h-1.5v-5.8h-1.5v6.7h-1.5v6.7h-1.5v-15.8h-1.5v2.6h-1.5v3.4h-1.5v-14.8h-1.5v-4.4h-1.5v14.6h-1.5v-7.1h-1.5v-4.1h-1.5v-4.4h-1.5v4.0h-1.5v-10.8h-1.5v5.3h-1.5v-2.6h-1.5v11.5h-1.5v-5.8h-1.5v4.4h-1.5v16.0h-1.5v-5.8h-1.5v-7.2h-1.5v6.5h-1.5v1.8h-1.5v-8.0h-1.5v18.3h-1.5v-12.2h-1.5v-0.6h-1.5v-9.4h-1.5v-6.3h-1.5v9.9h-1.5v-4.9h-1.5v-12.0h-1.5v16.8h-1.5v-1.0h-1.5v-15.9h-1.5v18.6h-1.5v-5.9h-1.5v2.7h-1.5v-8.6h-1.5v4.3h-1.5v17.6h-1.5v-4.5h-1.5v-9.1h-1.5v13.5h-1.5v-17.1h-1.5v-12.0h-1.5v8.6h-1.5v-1.3h-1.5v13.1h-1.5v-7.0h-1.5v-1.0h-1.5v-3.9h-1.5v12.9h-1.5v-4.4h-1.5v-4.4h-1.5v-0.8h-1.5v-7.9h-1.5v12.5h-1.5v18.2h-1.5v-9.6h-1.5v-3.7h-1.5v1.9h-1.5v4.3h-1.5v-12.8h-1.5v9.4h-1.5v4.3h-1.5v-1.9h-1.5v-5.0h-1.5v16.1h-1.5v-15.3h-1.5v-8.8h-1.5v10.6h-1.5v0.3h-1.5v0.4h-1.5v-15.6h-1.5v17.1h-1.5v-6.6h-1.5v-1.1h-1.5v14.2h-1.5v-2.9h-1.5v11.8h-1.5v-7.3h-1.5v3.9h-1.5v-8.0h-1.5v17.0h-1.5v-3.0h-1.5v-12.7h-1.5v-6.1h-1.5v11.2h-1.5v-15.2h-1.5v0.2h-1.5v-1.4h-1.5v5.9h-1.5v6.5h-1.5v-7.2h-1.5v14.6h-1.5v-5.1h-1.5v-9.6h-1.5v-5.7h-1.5v10.8h-1.5v-0.1h-1.5v2.6h-1.5v-5.1h-1.5v2.7h-1.5v-1.6h-1.5v-2.2h-1.5v18.3h-1.5v-14.2h-1.5v11.3h-1.5v2.6h-1.5v2.4h-1.5v-6.5h-1.5v2.4h-1.5v2.0h-1.5v-2.9h-1.5v-5.0h-1.5v8.9h-1.5v0.2h-1.5v-4.7h-1.5v-2.0h-1.5v3.2h-1.5v-4.8h-1.5v1.5h-1.5v-2.1h-1.5v1.0h-1.5v-3.7h-1.5v13.6h-1.5v-2.3h-1.5v-5.1h-1.5v-6.0h-1.5v5.0h-1.5v4.8h-1.5v-7.1h-1.5v2.3h-1.5v4.1h-1.5v3.9h-1.5v-1.0h-1.5v1.0h-1.5v-3.0h-1.5v-0.4h-1.5v-1.5h-1.5v0.9h-1.5v2.1h-1.5v-2.0h-1.5v-6.0h-1.5v11.7h-1.5v0.7h-1.5v1.8h-1.5v-3.5h-1.5v2.8h-1.5v-14.8h-1.5v8.8h-1.5v-2.6h-1.5v5.7h-1.5v4.2h-1.5v-2.9h-1.5v-0.7h-1.5v-3.6h-1.5v12.9h-1.5v-3.6h-1.5v-1.4h-1.5v-3.9h-1.5v-3.6h-1.5v13.9h-1.5v-2.1h-1.5v7.2h-1.5v4.4h-1.5v-4.8h-1.5v5.4h-1.5v0.2h-1.5v0.4h-1.5v-8.4h-1.5v2.5h-1.5v7.1h-1.5v-2.8h-1.5v-7.3h-1.5v-2.2h-1.5v-3.4h-1.5v9.0h-1.5v2.1h-1.5v-2.6h-1.5v12.0h-1.5v26.4h-1.5v-16.6h-1.5v12.3h-1.5v19.7h-1.5v-2.1h-1.5v16.8h-1.5v-14.3h-1.5v1.9h-1.5v3.5h-1.5v10.3h-1.5v3.0h-1.5v1.2h-1.5v21.5h-1.5v-11.1h-1.5v3.9h-1.5v20.9h-1.5v-32.7h-1.5v19.0h-1.5v-0.5h-1.5Z" fill="#bb3e3c" stroke="#bb3e3c" stroke-width="5.0" stroke-linejoin="round"/>
<path d="M145.0,422.1V276.7h1.5v-40.8h1.5v-16.0h1.5v-16.5h1.5v-3.1h1.5v-0.0h1.5v-9.2h1.5v-5.1h1.5v-7.6h1.5v10.9h1.5v-20.1h1.5v4.0h1.5v-3.7h1.5v2.0h1.5v-10.5h1.5v13.3h1.5v-12.6h1.5v4.1h1.5v-4.9h1.5v-6.8h1.5v2.2h1.5v-9.0h1.5v11.2h1.5v-9.1h1.5v4.8h1.5v8.1h1.5v-7.6h1.5v5.1h1.5v7.8h1.5v-7.6h1.5v21.0h1.5v-12.2h1.5v2.7h1.5v-7.3h1.5v5.9h1.5v1.6h1.5v-12.4h1.5v5.0h1.5v0.0h1.5v-8.0h1.5v8.8h1.5v-14.6h1.5v5.6h1.5v9.8h1.5v-1.6h1.5v-5.3h1.5v-10.6h1.5v7.4h1.5v-4.9h1.5v0.1h1.5v1.6h1.5v-5.9h1.5v6.9h1.5v-1.2h1.5v-1.8h1.5v8.9h1.5v12.9h1.5v-1.4h1.5v1.7h1.5v-2.1h1.5v-1.1h1.5v3.6h1.5v-3.0h1.5v-6.8h1.5v-3.3h1.5v1.7h1.5v9.9h1.5v-0.6h1.5v4.6h1.5v-8.9h1.5v4.6h1.5v1.0h1.5v2.0h1.5v-3.1h1.5v12.8h1.5v-7.9h1.5v-3.0h1.5v-2.7h1.5v-0.1h1.5v-5.5h1.5v8.9h1.5v-5.4h1.5v-13.2h1.5v4.4h1.5v13.8h1.5v-7.3h1.5v10.9h1.5v-8.1h1.5v-4.6h1.5v5.0h1.5v-0.6h1.5v1.4h1.5v-16.0h1.5v20.9h1.5v13.0h1.5v-16.5h1.5v-5.5h1.5v6.0h1.5v2.9h1.5v-4.6h1.5v22.2h1.5v-19.7h1.5v3.6h1.5v12.1h1.5v-17.6h1.5v8.6h1.5v-6.0h1.5v-7.1h1.5v17.7h1.5v-9.9h1.5v-1.9h1.5v-10.7h1.5v-10.9h1.5v18.4h1.5v-1.8h1.5v-1.8h1.5v1.6h1.5v-3.9h1.5v-1.5h1.5v-2.7h1.5v0.5h1.5v-4.0h1.5v0.5h1.5v5.9h1.5v4.9h1.5v5.4h1.5v-14.1h1.5v6.8h1.5v13.0h1.5v-16.2h1.5v-2.2h1.5v-4.3h1.5v6.3h1.5v4.5h1.5v-11.5h1.5v7.8h1.5v1.2h1.5v4.1h1.5v-9.5h1.5v-5.9h1.5v5.0h1.5v-2.2h1.5v7.7h1.5v-8.1h1.5v10.5h1.5v2.0h1.5v-11.9h1.5v8.2h1.5v-3.4h1.5v8.1h1.5v-11.2h1.5v-1.2h1.5v0.4h1.5v-4.4h1.5v9.7h1.5v-3.0h1.5v-1.5h1.5v1.4h1.5v7.3h1.5v-3.0h1.5v-4.6h1.5v11.0h1.5v-15.2h1.5v2.7h1.5v-0.1h1.5v7.5h1.5v-8.1h1.5v3.6h1.5v-18.7h1.5v5.0h1.5v6.9h1.5v-12.5h1.5v7.4h1.5v-6.1h1.5v-8.4h1.5v8.8h1.5v14.5h1.5v-10.4h1.5v9.1h1.5v1.5h1.5v-10.1h1.5v0.5h1.5v9.1h1.5v2.1h1.5v4.8h1.5v-13.6h1.5v1.6h1.5v-4.4h1.5v10.7h1.5v-2.9h1.5v1.2h1.5v-1.8h1.5v-5.6h1.5v11.1h1.5v-0.5h1.5v-10.2h1.5v-1.2h1.5v10.4h1.5v-1.9h1.5v-17.0h1.5v6.1h1.5v14.2h1.5v-15.8h1.5v17.3h1.5v0.7h1.5v-0.0h1.5v-7.1h1.5v4.1h1.5v0.9h1.5v-2.4h1.5v-5.2h1.5v7.1h1.5v-15.3h1.5v-5.1h1.5v-3.6h1.5v10.7h1.5v-8.6h1.5v-9.8h1.5v12.8h1.5v7.7h1.5v-8.5h1.5v-7.1h1.5v8.4h1.5v-6.3h1.5v3.1h1.5v-5.0h1.5v-2.5h1.5v2.0h1.5v6.0h1.5v-0.8h1.5v-0.8h1.5v2.7h1.5v7.5h1.5v-2.6h1.5v3.5h1.5v-1.2h1.5v-3.8h1.5v-20.2h1.5v17.6h1.5v-4.0h1.5v-14.2h1.5v8.0h1.5v-0.3h1.5v6.2h1.5v-4.6h1.5v7.8h1.5v-6.2h1.5v0.9h1.5v-6.5h1.5v11.8h1.5v-12.6h1.5v13.7h1.5v-5.4h1.5v2.2h1.5v-6.4h1.5v3.0h1.5v2.3h1.5v-3.2h1.5v2.2h1.5v-2.4h1.5v3.9h1.5v3.2h1.5v-30.0h1.5v22.5h1.5v1.2h1.5v-23.3h1.5v16.4h1.5v-4.5h1.5v0.7h1.5v5.9h1.5v-13.0h1.5v5.9h1.5v1.2h1.5v-0.4h1.5v-3.9h1.5v3.3h1.5v-3.1h1.5v-9.2h1.5v3.3h1.5v-16.9h1.5v8.4h1.5v-4.4h1.5v-2.9h1.5v6.7h1.5v3.4h1.5v-0.3h1.5v6.2h1.5v-12.1h1.5v20.5h1.5v0.8h1.5v2.3h1.5v-4.8h1.5v5.5h1.5v-4.5h1.5v11.6h1.5v-19.1h1.5v0.9h1.5v7.2h1.5v-1.1h1.5v-8.6h1.5v-20.6h1.5v12.4h1.5v-7.0h1.5v-0.2h1.5v-0.5h1.5v5.4h1.5v1.6h1.5v-3.9h1.5v-4.1h1.5v9.2h1.5v-15.3h1.5v10.4h1.5v-9.1h1.5v0.9h1.5v-9.3h1.5v9.5h1.5v5.6h1.5v-0.8h1.5v5.4h1.5v1.9h1.5v-4.7h1.5v5.4h1.5v-2.8h1.5v-4.7h1.5v9.0h1.5v2.5h1.5v-24.5h1.5v18.2h1.5v5.7h1.5v-4.6h1.5v-9.6h1.5v-7.6h1.5v14.9h1.5v-18.8h1.5v10.9h1.5v1.6h1.5v3.4h1.5v-1.2h1.5v3.7h1.5v3.3h1.5v6.4h1.5v-12.9h1.5v12.1h1.5v-4.1h1.5v6.8h1.5v-2.7h1.5v0.2h1.5v-8.5h1.5v-3.6h1.5v-5.5h1.5v-6.4h1.5v4.8h1.5v-2.5h1.5v-2.1h1.5v2.5h1.5v-2.9h1.5v2.9h1.5v10.2h1.5v2.2h1.5v-6.9h1.5v3.7h1.5v-8.5h1.5v2.8h1.5v-0.5h1.5v-0.3h1.5v-4.2h1.5v-7.9h1.5v-5.9h1.5v6.8h1.5v3.0h1.5v-10.0h1.5v5.1h1.5v2.2h1.5v-2.6h1.5v1.3h1.5v9.7h1.5v-1.4h1.5v-3.7h1.5v5.3h1.5v-0.9h1.5v-2.3h1.5v2.6h1.5v-7.7h1.5v-4.7h1.5v0.6h1.5v7.5h1.5v-3.0h1.5v-1.1h1.5v-4.2h1.5v4.5h1.5v1.6h1.5v0.7h1.5v3.0h1.5v0.4h1.5v-4.4h1.5v1.0h1.5v0.2h1.5v1.9h1.5v4.5h1.5v-3.2h1.5v-2.5h1.5v-4.8h1.5v8.6h1.5v-7.1h1.5v7.5h1.5v-7.4h1.5v-3.6h1.5v-3.6h1.5v-1.8h1.5v15.8h1.5v-8.6h1.5v0.8h1.5v3.5h1.5v6.2h1.5v-3.8h1.5v1.4h1.5v1.0h1.5v-2.6h1.5v2.8h1.5v4.2h1.5v-7.5h1.5v2.6h1.5v-11.8h1.5v15.9h1.5v-2.0h1.5v-4.1h1.5v0.7h1.5v-1.0h1.5v-2.1h1.5v11.3h1.5v-3.3h1.5v-2.1h1.5v5.3h1.5v-6.4h1.5v6.3h1.5v-14.2h1.5v5.6h1.5v6.8h1.5v-9.3h1.5v6.4h1.5v-1.9h1.5v0.6h1.5v1.7h1.5v-9.4h1.5v9.4h1.5v3.6h1.5v-2.2h1.5v-18.8h1.5v16.0h1.5v4.6h1.5v-6.0h1.5v-0.7h1.5v11.6h1.5v-6.6h1.5v3.3h1.5v4.2h1.5v-2.0h1.5v-5.2h1.5v2.1h1.5v2.5h1.5v-5.2h1.5v-9.1h1.5v8.2h1.5v-2.5h1.5v-14.2h1.5v2.3h1.5v9.9h1.5v0.1h1.5v-1.1h1.5v-2.9h1.5v-0.7h1.5v2.3h1.5v-7.4h1.5v3.1h1.5v4.1h1.5v1.8h1.5v-0.4h1.5v-0.2h1.5v-2.6h1.5v-2.5h1.5v3.7h1.5v-2.3h1.5v0.3h1.5v5.9h1.5v-0.9h1.5v4.2h1.5v4.2h1.5v3.4h1.5v-7.8h1.5v3.9h1.5v4.3h1.5v-0.8h1.5v-1.7h1.5v2.5h1.5v-5.4h1.5v-2.7h1.5v4.0h1.5v-1.8h1.5v-3.2h1.5v-1.7h1.5v6.8h1.5v-6.2h1.5v4.1h1.5v-2.8h1.5v6.9h1.5v-1.3h1.5v-1.8h1.5v-3.9h1.5v1.1h1.5v5.9h1.5v-4.2h1.5v1.1h1.5v-1.1h1.5v4.1h1.5v-0.0h1.5v-3.4h1.5v5.1h1.5v-8.3h1.5v3.3h1.5v-6.6h1.5v1.1h1.5v-2.3h1.5v-4.4h1.5v10.4h1.5v-4.8h1.5v-2.4h1.5v-3.1h1.5v-2.4h1.5v8.5h1.5v3.3h1.5v-4.8h1.5v8.5h1.5v-3.0h1.5v-3.3h1.5v1.0h1.5v-2.2h1.5v-6.2h1.5v6.5h1.5v-6.3h1.5v4.1h1.5v-15.4h1.5v10.2h1.5v3.1h1.5v-5.4h1.5v-9.2h1.5v9.6h1.5v-2.5h1.5v4.0h1.5v-3.8h1.5v0.4h1.5v0.2h1.5v-2.2h1.5v3.3h1.5v-2.3h1.5v-3.2h1.5v7.7h1.5v2.8h1.5v0.7h1.5v-3.6h1.5v6.8h1.5v-7.3h1.5v-0.9h1.5v-2.2h1.5v2.1h1.5v2.4h1.5v-4.9h1.5v-3.9h1.5v0.4h1.5v5.3h1.5v-5.1h1.5v-0.0h1.5v1.6h1.5v0.6h1.5v-3.5h1.5v-0.1h1.5v7.0h1.5v3.9h1.5v-0.5h1.5v-0.2h1.5v0.4h1.5v4.7h1.5v-5.4h1.5v4.2h1.5v-6.9h1.5v4.0h1.5v2.0h1.5v0.2h1.5v-1.8h1.5v-0.5h1.5v6.9h1.5v1.3h1.5v-5.8h1.5v1.2h1.5v4.7h1.5v-1.7h1.5v4.1h1.5v-5.4h1.5v6.4h1.5v-2.9h1.5v0.9h1.5v-4.7h1.5v-1.3h1.5v-5.4h1.5v1.9h1.5v-1.4h1.5v2.9h1.5v-13.4h1.5v-2.1h1.5v7.4h1.5v-5.3h1.5v-1.4h1.5v10.2h1.5v-5.8h1.5v4.3h1.5v-1.2h1.5v-6.2h1.5v6.3h1.5v2.5h1.5v-9.2h1.5v3.7h1.5v-3.9h1.5v10.5h1.5v-9.0h1.5v2.5h1.5v-1.1h1.5v-4.0h1.5v-1.0h1.5v5.4h1.5v-2.2h1.5v-1.9h1.5v-0.2h1.5v4.1h1.5v-5.4h1.5v0.2h1.5v8.7h1.5v-3.2h1.5v-0.9h1.5v-3.6h1.5v5.5h1.5v1.4h1.5v1.2h1.5v1.4h1.5v-12.1h1.5v8.5h1.5v-2.5h1.5v0.2h1.5v2.3h1.5v-1.5h1.5v3.3h1.5v3.6h1.5v-5.7h1.5v-3.9h1.5v-4.8h1.5v10.8h1.5v1.0h1.5v-5.1h1.5v-3.5h1.5V93.1h-1.5v-2.4h-1.5v4.4h-1.5v3.4h-1.5v-9.4h-1.5v0.9h-1.5v0.2h-1.5v1.5h-1.5v2.5h-1.5v2.0h-1.5v-2.7h-1.5v-4.4h-1.5v0.5h-1.5v9.3h-1.5v-17.0h-1.5v7.9h-1.5v3.7h-1.5v-4.6h-1.5v7.3h-1.5v5.3h-1.5v-3.9h-1.5v-3.4h-1.5v-0.7h-1.5v-7.8h-1.5v5.7h-1.5v0.6h-1.5v-1.0h-1.5v-4.9h-1.5v4.5h-1.5v-1.1h-1.5v5.3h-1.5v-12.7h-1.5v0.8h-1.5v7.5h-1.5v-1.3h-1.5v7.7h-1.5v-4.3h-1.5v2.8h-1.5v-8.7h-1.5v3.2h-1.5v1.8h-1.5v-8.3h-1.5v1.4h-1.5v6.3h-1.5v3.3h-1.5v-3.8h-1.5v1.7h-1.5v8.4h-1.5v1.8h-1.5v-5.8h-1.5v-3.5h-1.5v5.1h-1.5v1.3h-1.5v7.9h-1.5v-3.0h-1.5v-2.3h-1.5v4.7h-1.5v7.0h-1.5v-7.2h-1.5v5.0h-1.5v-6.0h-1.5v4.3h-1.5v6.4h-1.5v-2.8h-1.5v-10.0h-1.5v6.6h-1.5v-8.1h-1.5v-4.0h-1.5v-1.4h-1.5v-5.4h-1.5v8.3h-1.5v-2.8h-1.5v-0.7h-1.5v8.4h-1.5v-4.9h-1.5v-0.8h-1.5v-5.8h-1.5v3.2h-1.5v0.7h-1.5v1.3h-1.5v-1.5h-1.5v-5.2h-1.5v2.8h-1.5v-6.8h-1.5v-0.2h-1.5v-2.7h-1.5v4.7h-1.5v3.3h-1.5v-5.2h-1.5v-1.2h-1.5v0.2h-1.5v-1.6h-1.5v12.2h-1.5v0.1h-1.5v-5.2h-1.5v7.1h-1.5v-4.3h-1.5v1.3h-1.5v-5.3h-1.5v5.3h-1.5v-6.5h-1.5v3.1h-1.5v-2.6h-1.5v-1.0h-1.5v-1.6h-1.5v4.6h-1.5v-1.1h-1.5v-2.0h-1.5v5.1h-1.5v1.9h-1.5v-9.0h-1.5v0.7h-1.5v0.8h-1.5v2.0h-1.5v10.5h-1.5v-2.4h-1.5v-1.4h-1.5v-3.8h-1.5v3.6h-1.5v4.2h-1.5v0.1h-1.5v1.5h-1.5v2.7h-1.5v2.1h-1.5v-3.8h-1.5v-1.8h-1.5v5.3h-1.5v4.3h-1.5v-2.3h-1.5v-5.5h-1.5v1.9h-1.5v-1.2h-1.5v-5.9h-1.5v6.0h-1.5v-2.4h-1.5v7.6h-1.5v1.0h-1.5v-7.5h-1.5v8.5h-1.5v13.3h-1.5v-10.8h-1.5v3.9h-1.5v1.5h-1.5v2.6h-1.5v-8.6h-1.5v1.5h-1.5v-3.9h-1.5v1.9h-1.5v0.3h-1.5v-2.7h-1.5v-3.5h-1.5v2.9h-1.5v2.4h-1.5v-9.9h-1.5v7.3h-1.5v1.4h-1.5v0.6h-1.5v0.4h-1.5v5.2h-1.5v-12.0h-1.5v6.6h-1.5v-3.8h-1.5v5.0h-1.5v3.0h-1.5v-2.7h-1.5v10.9h-1.5v-8.0h-1.5v3.1h-1.5v-2.6h-1.5v0.7h-1.5v-9.4h-1.5v10.4h-1.5v-11.1h-1.5v0.6h-1.5v-10.1h-1.5v0.8h-1.5v-4.0h-1.5v5.7h-1.5v1.2h-1.5v4.3h-1.5v-4.6h-1.5v-1.3h-1.5v-0.8h-1.5v16.3h-1.5v4.0h-1.5v-22.7h-1.5v2.3h-1.5v5.7h-1.5v-4.4h-1.5v8.5h-1.5v-10.9h-1.5v8.5h-1.5v2.1h-1.5v-3.9h-1.5v-1.3h-1.5v2.6h-1.5v0.7h-1.5v-1.4h-1.5v2.0h-1.5v0.5h-1.5v0.7h-1.5v6.0h-1.5v-6.8h-1.5v-0.2h-1.5v4.0h-1.5v-3.0h-1.5v-3.0h-1.5v6.4h-1.5v2.1h-1.5v-3.4h-1.5v1.0h-1.5v2.9h-1.5v-2.9h-1.5v-1.6h-1.5v8.7h-1.5v-10.0h-1.5v-11.6h-1.5v8.6h-1.5v-4.8h-1.5v-2.2h-1.5v11.8h-1.5v-4.4h-1.5v4.9h-1.5v-0.1h-1.5v-3.5h-1.5v-1.8h-1.5v-4.1h-1.5v18.4h-1.5v-17.8h-1.5v-0.6h-1.5v5.3h-1.5v10.4h-1.5v-9.0h-1.5v-8.5h-1.5v4.6h-1.5v-2.2h-1.5v0.3h-1.5v3.9h-1.5v-0.0h-1.5v-0.2h-1.5v0.7h-1.5v-1.4h-1.5v-4.4h-1.5v2.9h-1.5v10.4h-1.5v-13.4h-1.5v9.8h-1.5v-9.0h-1.5v-6.8h-1.5v5.2h-1.5v-3.1h-1.5v3.5h-1.5v-2.0h-1.5v4.1h-1.5v-2.9h-1.5v3.7h-1.5v2.4h-1.5v1.5h-1.5v-3.0h-1.5v7.0h-1.5v-1.5h-1.5v1.6h-1.5v-6.6h-1.5v-1.7h-1.5v1.2h-1.5v2.4h-1.5v-3.6h-1.5v0.8h-1.5v-2.1h-1.5v-3.2h-1.5v3.0h-1.5v-2.2h-1.5v2.7h-1.5v0.3h-1.5v-3.6h-1.5v3.4h-1.5v5.0h-1.5v-1.2h-1.5v-0.7h-1.5v2.2h-1.5v-1.0h-1.5v5.5h-1.5v-6.8h-1.5v-4.0h-1.5v0.2h-1.5v-3.7h-1.5v4.6h-1.5v-5.4h-1.5v5.9h-1.5v5.0h-1.5v-4.9h-1.5v-1.9h-1.5v6.4h-1.5v5.2h-1.5v1.5h-1.5v-0.5h-1.5v-3.8h-1.5v6.6h-1.5v6.4h-1.5v-6.9h-1.5v7.4h-1.5v-11.0h-1.5v-3.6h-1.5v2.4h-1.5v-3.4h-1.5v1.6h-1.5v2.6h-1.5v11.3h-1.5v-5.5h-1.5v3.0h-1.5v4.7h-1.5v4.8h-1.5v-4.9h-1.5v9.2h-1.5v-8.8h-1.5v8.9h-1.5v-5.1h-1.5v2.9h-1.5v-17.5h-1.5v5.8h-1.5v5.9h-1.5v-6.0h-1.5v0.3h-1.5v-10.1h-1.5v2.7h-1.5v13.4h-1.5v-4.0h-1.5v7.2h-1.5v-0.5h-1.5v1.6h-1.5v-3.4h-1.5v8.3h-1.5v-2.2h-1.5v5.0h-1.5v-15.3h-1.5v-1.7h-1.5v9.4h-1.5v9.2h-1.5v-14.3h-1.5v-8.8h-1.5v1.1h-1.5v6.3h-1.5v-3.3h-1.5v8.1h-1.5v-5.5h-1.5v11.7h-1.5v-12.4h-1.5v2.1h-1.5v-7.2h-1.5v9.9h-1.5v2.5h-1.5v-5.9h-1.5v5.5h-1.5v-5.7h-1.5v16.6h-1.5v-6.1h-1.5v4.0h-1.5v-1.1h-1.5v3.4h-1.5v12.8h-1.5v-9.6h-1.5v10.0h-1.5v-6.7h-1.5v2.0h-1.5v-2.2h-1.5v4.3h-1.5v4.6h-1.5v0.3h-1.5v-3.1h-1.5v-5.3h-1.5v-5.7h-1.5v-5.9h-1.5v-2.5h-1.5v4.4h-1.5v-4.6h-1.5v-2.7h-1.5v-10.8h-1.5v11.4h-1.5v3.8h-1.5v0.2h-1.5v6.7h-1.5v4.4h-1.5v2.0h-1.5v-7.5h-1.5v22.5h-1.5v-13.8h-1.5v4.1h-1.5v-1.0h-1.5v3.9h-1.5v2.4h-1.5v-6.4h-1.5v5.3h-1.5v-6.1h-1.5v8.0h-1.5v-7.1h-1.5v9.8h-1.5v-2.7h-1.5v-1.8h-1.5v-0.6h-1.5v11.3h-1.5v-11.6h-1.5v-5.5h-1.5v8.7h-1.5v4.2h-1.5v-3.5h-1.5v-4.2h-1.5v2.3h-1.5v-0.2h-1.5v-4.2h-1.5v8.1h-1.5v-9.7h-1.5v11.6h-1.5v-6.6h-1.5v5.8h-1.5v-8.1h-1.5v2.1h-1.5v1.5h-1.5v1.5h-1.5v8.9h-1.5v-10.9h-1.5v4.5h-1.5v10.9h-1.5v-0.4h-1.5v-6.8h-1.5v7.6h-1.5v0.6h-1.5v-9.6h-1.5v-4.0h-1.5v5.6h-1.5v-9.7h-1.5v1.9h-1.5v20.8h-1.5v-15.7h-1.5v13.7h-1.5v-9.8h-1.5v-3.2h-1.5v2.8h-1.5v2.5h-1.5v-2.3h-1.5v-1.8h-1.5v-3.1h-1.5v10.6h-1.5v-7.8h-1.5v-5.3h-1.5v16.4h-1.5v-3.0h-1.5v18.9h-1.5v-12.9h-1.5v5.3h-1.5v-6.2h-1.5v0.6h-1.5v1.4h-1.5v7.9h-1.5v0.1h-1.5v-6.9h-1.5v-5.8h-1.5v-0.3h-1.5v2.1h-1.5v4.8h-1.5v-3.6h-1.5v1.8h-1.5v10.2h-1.5v-5.2h-1.5v9.1h-1.5v-10.3h-1.5v-7.8h-1.5v8.0h-1.5v-5.8h-1.5v13.3h-1.5v-8.2h-1.5v-2.3h-1.5v-6.6h-1.5v12.1h-1.5v2.3h-1.5v-11.5h-1.5v-5.4h-1.5v9.0h-1.5v-3.8h-1.5v8.1h-1.5v-2.5h-1.5v1.2h-1.5v4.9h-1.5v-5.9h-1.5v-14.8h-1.5v15.8h-1.5v-9.4h-1.5v4.9h-1.5v-5.5h-1.5v5.4h-1.5v5.0h-1.5v6.9h-1.5v-11.1h-1.5v3.1h-1.5v-1.0h-1.5v-0.3h-1.5v11.4h-1.5v-10.1h-1.5v3.5h-1.5v-3.6h-1.5v5.5h-1.5v-7.9h-1.5v-0.3h-1.5v3.5h-1.5v-2.9h-1.5v-4.8h-1.5v2.1h-1.5v-1.4h-1.5v12.6h-1.5v-2.7h-1.5v-4.9h-1.5v12.8h-1.5v-10.3h-1.5v0.6h-1.5v10.8h-1.5v-15.3h-1.5v-0.6h-1.5v3.8h-1.5v1.1h-1.5v3.6h-1.5v-0.4h-1.5v-3.3h-1.5v12.3h-1.5v1.2h-1.5v-13.3h-1.5v-0.9h-1.5v7.3h-1.5v2.5h-1.5v-1.3h-1.5v9.3h-1.5v-15.5h-1.5v7.8h-1.5v3.4h-1.5v-3.0h-1.5v-13.4h-1.5v-1.4h-1.5v1.0h-1.5v5.3h-1.5v2.1h-1.5v3.1h-1.5v5.9h-1.5v-7.6h-1.5v-5.1h-1.5v17.2h-1.5v4.8h-1.5v1.5h-1.5v-17.8h-1.5v14.0h-1.5v-5.0h-1.5v-1.7h-1.5v-4.6h-1.5v4.7h-1.5v4.3h-1.5v-1.9h-1.5v4.2h-1.5v6.6h-1.5v-0.2h-1.5v-3.9h-1.5v5.1h-1.5v-3.2h-1.5v-10.7h-1.5v0.5h-1.5v16.8h-1.5v-0.6h-1.5v-8.3h-1.5v-15.3h-1.5v2.6h-1.5v6.5h-1.5v2.1h-1.5v-12.4h-1.5v4.0h-1.5v14.1h-1.5v1.0h-1.5v-15.7h-1.5v-11.4h-1.5v19.1h-1.5v2.3h-1.5v-14.2h-1.5v3.9h-1.5v12.8h-1.5v0.8h-1.5v13.9h-1.5v-19.8h-1.5v8.1h-1.5v-9.5h-1.5v1.1h-1.5v10.1h-1.5v-12.4h-1.5v14.2h-1.5v-8.9h-1.5v3.8h-1.5v-3.9h-1.5v-5.0h-1.5v-4.4h-1.5v-6.7h-1.5v14.6h-1.5v1.8h-1.5v-1.7h-1.5v5.8h-1.5v-3.7h-1.5v-6.8h-1.5v9.0h-1.5v-17.5h-1.5v2.5h-1.5v-3.5h-1.5v1.0h-1.5v-0.1h-1.5v-3.8h-1.5v-9.6h-1.5v5.3h-1.5v3.2h-1.5v5.2h-1.5v5.6h-1.5v0.5h-1.5v3.3h-1.5v-12.1h-1.5v-2.5h-1.5v23.8h-1.5v-18.0h-1.5v8.9h-1.5v-7.7h-1.5v1.1h-1.5v12.2h-1.5v-5.1h-1.5v3.4h-1.5v9.4h-1.5v-10.2h-1.5v9.2h-1.5v-9.0h-1.5v12.7h-1.5v-19.5h-1.5v5.1h-1.5v-16.4h-1.5v5.9h-1.5v-8.2h-1.5v5.4h-1.5v6.4h-1.5v-13.1h-1.5v-4.8h-1.5v11.2h-1.5v17.0h-1.5v-8.5h-1.5v7.5h-1.5v-16.7h-1.5v19.5h-1.5v-8.4h-1.5v-7.1h-1.5v16.1h-1.5v8.6h-1.5v0.7h-1.5v-11.1h-1.5v19.2h-1.5v6.1h-1.5v-6.4h-1.5v-3.3h-1.5v35.7h-1.5v64.4h-1.5v100.6h-1.5Z" fill="#3f76b8" stroke="#3f76b8" stroke-width="5.0" stroke-linejoin="round"/>
<path d="M165.0,237.8V228.7h1.5v1.4h1.5v1.3h1.5v-3.6h1.5v6.7h1.5v-1.7h1.5v-2.8h1.5v4.8h1.5v-1.5h1.5v2.2h1.5v-2.2h1.5v1.9h1.5v3.5h1.5v4.5h1.5v-5.6h1.5v-1.4h1.5v0.3h1.5v1.1h1.5v-1.7h1.5v-3.1h1.5v-4.3h1.5v-0.5h1.5v-1.9h1.5v7.5h1.5v-9.1h1.5v10.5h1.5v-6.3h1.5v-0.8h1.5v6.0h1.5v-6.9h1.5v6.1h1.5v3.1h1.5v-1.3h1.5v-7.4h1.5v-0.1h1.5v-5.8h1.5v-0.9h1.5v3.3h1.5v-2.9h1.5v-2.4h1.5v5.5h1.5v-6.5h1.5v1.6h1.5v-5.1h1.5v4.2h1.5v-2.2h1.5v3.0h1.5v-4.3h1.5v8.5h1.5v-5.7h1.5v-0.1h1.5v-0.0h1.5v4.2h1.5v-6.5h1.5v3.0h1.5v-6.3h1.5v3.4h1.5v-2.2h1.5v0.3h1.5v-0.1h1.5v-6.2h1.5v-2.0h1.5v2.5h1.5v-4.4h1.5v1.2h1.5v2.3h1.5v0.2h1.5v-3.4h1.5v-0.4h1.5v5.6h1.5v-0.3h1.5v1.5h1.5v-5.1h1.5v2.8h1.5v-2.0h1.5v6.8h1.5v-3.0h1.5v-3.9h1.5v5.0h1.5v3.2h1.5v-4.7h1.5v-1.1h1.5v7.1h1.5v-9.4h1.5v3.4h1.5v1.0h1.5v-1.5h1.5v4.8h1.5v-1.1h1.5v1.1h1.5v-3.7h1.5v5.5h1.5v-0.4h1.5v-3.9h1.5v1.2h1.5v-3.6h1.5v2.1h1.5v-0.4h1.5v-1.9h1.5v2.1h1.5v4.2h1.5v-0.6h1.5v-4.8h1.5v-4.9h1.5v2.7h1.5v3.6h1.5v-5.5h1.5v-1.7h1.5v4.4h1.5v-0.5h1.5v-4.9h1.5v2.1h1.5v1.6h1.5v0.0h1.5v-3.7h1.5v-1.3h1.5v4.0h1.5v-1.9h1.5v-0.5h1.5v-0.9h1.5v-0.7h1.5v-6.6h1.5v-1.8h1.5v-0.7h1.5v-6.5h1.5v-3.0h1.5v-2.5h1.5v-6.3h1.5v2.2h1.5v3.8h1.5v-1.7h1.5v-1.5h1.5v-1.2h1.5v3.9h1.5v-4.5h1.5v7.9h1.5v-2.8h1.5v2.6h1.5v-5.4h1.5v-1.5h1.5v-10.5h1.5v6.2h1.5v-3.2h1.5v4.7h1.5v-8.6h1.5v-0.1h1.5v-0.1h1.5v4.0h1.5v0.5h1.5v2.6h1.5v-1.9h1.5v0.9h1.5v-0.9h1.5v2.6h1.5v5.8h1.5v-2.7h1.5v0.2h1.5v5.7h1.5v3.7h1.5v-4.4h1.5v-10.9h1.5v8.7h1.5v-3.9h1.5v4.2h1.5v-2.3h1.5v0.8h1.5v4.4h1.5v-6.1h1.5v0.4h1.5v-6.8h1.5v4.0h1.5v-6.3h1.5v9.2h1.5v-14.9h1.5v13.2h1.5v-2.4h1.5v2.4h1.5v2.9h1.5v3.6h1.5v-1.0h1.5v0.0h1.5v3.9h1.5v-1.5h1.5v-6.8h1.5v-3.8h1.5v14.7h1.5v-7.4h1.5v1.3h1.5v-4.2h1.5v-0.7h1.5v-3.1h1.5v3.1h1.5v8.8h1.5v-2.5h1.5v-1.1h1.5v-6.5h1.5v4.6h1.5v-1.9h1.5v6.7h1.5v-7.0h1.5v6.2h1.5v-6.5h1.5v0.8h1.5v-2.5h1.5v-5.0h1.5v1.2h1.5v-7.6h1.5v3.0h1.5v3.0h1.5v4.6h1.5v-11.1h1.5v4.5h1.5v8.2h1.5v-9.5h1.5v0.1h1.5v-1.2h1.5v-1.4h1.5v10.8h1.5v-3.2h1.5v5.1h1.5v-0.4h1.5v-13.8h1.5v19.0h1.5v-0.2h1.5v-14.9h1.5v9.1h1.5v-6.0h1.5v-2.5h1.5v-6.2h1.5v1.1h1.5v2.9h1.5v-0.3h1.5v-6.2h1.5v2.3h1.5v0.3h1.5v0.5h1.5v8.4h1.5v-0.2h1.5v-2.7h1.5v8.6h1.5v-8.4h1.5v-5.8h1.5v11.3h1.5v-7.4h1.5v8.5h1.5v-7.1h1.5v3.1h1.5v4.3h1.5v0.9h1.5v4.0h1.5v-5.4h1.5v-2.0h1.5v3.7h1.5v-2.9h1.5v4.7h1.5v4.9h1.5v-5.4h1.5v-5.6h1.5v-2.8h1.5v1.4h1.5v-4.7h1.5v5.6h1.5v-1.9h1.5v-2.9h1.5v-2.7h1.5v7.6h1.5v-3.5h1.5v2.8h1.5v-0.4h1.5v2.4h1.5v1.6h1.5v-6.3h1.5v6.0h1.5v-6.0h1.5v10.7h1.5v-7.8h1.5v-1.0h1.5v-1.2h1.5v-4.1h1.5v0.7h1.5v3.2h1.5v0.7h1.5v0.8h1.5v-3.1h1.5v2.4h1.5v5.8h1.5v-5.4h1.5v8.2h1.5v-0.9h1.5v-6.4h1.5v-8.6h1.5v5.5h1.5v-5.7h1.5v5.2h1.5v2.5h1.5v-5.9h1.5v4.5h1.5v-4.1h1.5v-1.0h1.5v2.3h1.5v-5.2h1.5v2.5h1.5v3.6h1.5v1.3h1.5v-9.2h1.5v3.3h1.5v-2.4h1.5v3.2h1.5v0.8h1.5v-6.3h1.5v6.0h1.5v-2.2h1.5v-1.3h1.5v-5.4h1.5v0.2h1.5v3.2h1.5v0.5h1.5v-0.2h1.5v4.1h1.5v2.7h1.5v-3.6h1.5v5.6h1.5v-1.4h1.5v-2.8h1.5v2.0h1.5v-10.1h1.5v3.0h1.5v-1.8h1.5v1.0h1.5v-0.9h1.5v6.4h1.5v-9.8h1.5v11.7h1.5v2.1h1.5v-1.3h1.5v-2.6h1.5v-0.7h1.5v7.9h1.5v-11.4h1.5v5.4h1.5v5.0h1.5v-5.9h1.5v-3.4h1.5v-2.0h1.5v6.6h1.5v-1.5h1.5v-5.1h1.5v1.9h1.5v2.0h1.5v-0.4h1.5v0.9h1.5v-3.4h1.5v3.9h1.5v-1.6h1.5v-1.2h1.5v4.2h1.5v-7.3h1.5v4.0h1.5v0.9h1.5v3.9h1.5v-2.3h1.5v-0.1h1.5v4.2h1.5v-2.9h1.5v-4.3h1.5v3.8h1.5v-1.8h1.5v2.5h1.5v1.1h1.5v-10.8h1.5v3.8h1.5v6.6h1.5v-3.9h1.5v-1.2h1.5v1.1h1.5v5.5h1.5v0.9h1.5v-0.8h1.5v2.7h1.5v-5.1h1.5v0.3h1.5v-0.8h1.5v-3.6h1.5v1.4h1.5v2.6h1.5v-6.9h1.5v3.8h1.5v-0.3h1.5v-2.1h1.5v3.1h1.5v-2.8h1.5v8.7h1.5v0.7h1.5v-4.7h1.5v0.6h1.5v2.1h1.5v-1.6h1.5v1.0h1.5v-0.8h1.5v1.5h1.5v-3.1h1.5v0.2h1.5v3.4h1.5v-6.5h1.5v-1.7h1.5v-7.1h1.5v9.0h1.5v0.9h1.5v-3.5h1.5v-2.0h1.5v-0.7h1.5v-2.0h1.5v-0.9h1.5v10.7h1.5v-4.2h1.5v-2.0h1.5v-2.8h1.5v-1.8h1.5v12.8h1.5v-8.4h1.5v10.7h1.5v-4.8h1.5v10.0h1.5v-8.9h1.5v3.3h1.5v-2.1h1.5v-3.8h1.5v-1.9h1.5v5.8h1.5v-16.5h1.5v1.1h1.5v6.2h1.5v-9.2h1.5v10.0h1.5v4.5h1.5v-14.2h1.5v1.5h1.5v2.5h1.5v-2.3h1.5v-6.1h1.5v4.0h1.5v7.9h1.5v-15.9h1.5v12.0h1.5v-3.3h1.5v11.8h1.5v-3.6h1.5v-0.7h1.5v-5.6h1.5v-5.0h1.5v6.1h1.5v8.7h1.5v-3.5h1.5v6.4h1.5v0.8h1.5v-0.5h1.5v2.2h1.5v-17.2h1.5v-2.1h1.5v13.4h1.5v-13.3h1.5v19.7h1.5v-2.8h1.5v3.5h1.5v5.3h1.5v4.6h1.5v-12.3h1.5v-2.6h1.5v-6.7h1.5v2.1h1.5v9.2h1.5v-6.4h1.5v-12.5h1.5v7.1h1.5v2.1h1.5v-7.7h1.5v-1.8h1.5v9.6h1.5v-0.9h1.5v-1.1h1.5v5.8h1.5v-3.2h1.5v-7.6h1.5v11.8h1.5v-6.5h1.5v18.7h1.5v-15.5h1.5v-3.7h1.5v11.7h1.5v-11.0h1.5v-4.2h1.5v13.5h1.5v3.1h1.5v-2.0h1.5v-8.5h1.5v-5.4h1.5v-3.7h1.5v-2.6h1.5v9.4h1.5v4.7h1.5v-1.9h1.5v-0.9h1.5v7.1h1.5v10.7h1.5v-7.3h1.5v-2.9h1.5v5.4h1.5v-4.3h1.5v-2.2h1.5v1.1h1.5v-14.5h1.5v-2.1h1.5v5.9h1.5v-0.6h1.5v3.3h1.5v3.6h1.5v-3.8h1.5v2.4h1.5v-1.5h1.5v1.0h1.5v3.7h1.5v4.5h1.5v5.8h1.5v0.1h1.5v-5.0h1.5v3.6h1.5v-0.1h1.5v-2.3h1.5v2.7h1.5v-2.9h1.5v1.6h1.5v3.3h1.5v0.2h1.5v0.9h1.5v-1.5h1.5v1.5h1.5v-1.5h1.5v3.1h1.5v-1.6h1.5v-0.7h1.5v1.2h1.5v-5.3h1.5v3.0h1.5v0.3h1.5v0.2h1.5v-3.0h1.5v3.6h1.5v-1.8h1.5v0.2h1.5v-1.6h1.5v2.2h1.5v2.7h1.5v-3.2h1.5v-5.1h1.5v4.3h1.5v-3.9h1.5v4.6h1.5v1.1h1.5v-0.0h1.5v-0.9h1.5v-3.3h1.5v0.9h1.5v0.7h1.5v-3.4h1.5v-0.0h1.5v6.2h1.5v1.0h1.5v-1.3h1.5v-1.1h1.5v-3.2h1.5v-1.7h1.5v5.9h1.5v-4.1h1.5v-1.6h1.5v7.7h1.5v3.2h1.5v-1.0h1.5v-1.5h1.5v1.9h1.5v-0.3h1.5v-0.1h1.5v-5.1h1.5v4.0h1.5v-5.1h1.5v5.4h1.5v0.3h1.5v-4.7h1.5v3.5h1.5v-0.1h1.5v0.5h1.5v3.2h1.5v-6.3h1.5v-0.6h1.5v3.6h1.5v-4.4h1.5v0.2h1.5v0.2h1.5v3.0h1.5v2.2h1.5v5.5h1.5v-3.1h1.5v-1.4h1.5v-0.8h1.5v-0.9h1.5v0.6h1.5v1.8h1.5v-4.8h1.5v3.7h1.5v-1.6h1.5v-4.5h1.5v3.4h1.5v-1.2h1.5v0.9h1.5v0.6h1.5v2.2h1.5v-0.8h1.5v-4.9h1.5v4.3h1.5v0.0h1.5v-0.7h1.5v3.3h1.5v-3.8h1.5v1.0h1.5v-1.0h1.5v4.8h1.5v-2.8h1.5v-7.1h1.5v8.0h1.5v-0.9h1.5v0.2h1.5v-3.4h1.5v-0.7h1.5v7.4h1.5v-2.6h1.5v0.0h1.5v-3.6h1.5v-2.1h1.5v-3.0h1.5v6.7h1.5v-3.7h1.5v4.4h1.5v-2.7h1.5v3.1h1.5v-4.8h1.5V185.5h-1.5v3.6h-1.5v-7.5h-1.5v2.6h-1.5v-6.2h-1.5v5.9h-1.5v0.9h-1.5v-1.2h-1.5v-1.2h-1.5v4.9h-1.5v-2.1h-1.5v6.1h-1.5v-8.6h-1.5v2.4h-1.5v-3.4h-1.5v9.2h-1.5v-9.7h-1.5v8.6h-1.5v-2.7h-1.5v-1.8h-1.5v-0.6h-1.5v0.0h-1.5v0.4h-1.5v3.3h-1.5v-7.6h-1.5v3.4h-1.5v-1.6h-1.5v0.1h-1.5v5.0h-1.5v-4.5h-1.5v0.1h-1.5v5.7h-1.5v-4.8h-1.5v3.0h-1.5v-4.2h-1.5v1.7h-1.5v-2.5h-1.5v-2.7h-1.5v5.2h-1.5v-0.9h-1.5v-1.7h-1.5v5.2h-1.5v-3.7h-1.5v3.9h-1.5v3.0h-1.5v-1.8h-1.5v-9.7h-1.5v0.8h-1.5v3.8h-1.5v-0.2h-1.5v-0.5h-1.5v2.3h-1.5v-1.2h-1.5v1.1h-1.5v-4.5h-1.5v5.4h-1.5v-0.9h-1.5v-3.2h-1.5v2.1h-1.5v2.9h-1.5v-2.6h-1.5v-2.2h-1.5v1.0h-1.5v0.7h-1.5v3.5h-1.5v-6.3h-1.5v5.8h-1.5v-0.1h-1.5v-4.3h-1.5v-5.5h-1.5v8.7h-1.5v-0.7h-1.5v0.6h-1.5v-8.1h-1.5v5.5h-1.5v4.8h-1.5v-6.8h-1.5v2.0h-1.5v1.2h-1.5v-7.6h-1.5v10.9h-1.5v-7.6h-1.5v4.0h-1.5v-1.9h-1.5v-2.9h-1.5v2.1h-1.5v3.3h-1.5v-0.5h-1.5v-1.9h-1.5v-5.0h-1.5v-0.9h-1.5v7.9h-1.5v-0.5h-1.5v-4.3h-1.5v-0.7h-1.5v2.2h-1.5v-0.0h-1.5v5.9h-1.5v-4.0h-1.5v-0.3h-1.5v1.4h-1.5v0.1h-1.5v-0.6h-1.5v0.6h-1.5v1.0h-1.5v-3.4h-1.5v0.8h-1.5v5.3h-1.5v-0.5h-1.5v-5.7h-1.5v1.8h-1.5v-1.2h-1.5v-0.1h-1.5v-0.3h-1.5v-1.2h-1.5v-0.3h-1.5v2.5h-1.5v3.9h-1.5v1.1h-1.5v-5.1h-1.5v5.6h-1.5v-4.1h-1.5v-1.8h-1.5v4.7h-1.5v6.9h-1.5v-19.5h-1.5v-0.7h-1.5v6.2h-1.5v-2.0h-1.5v8.2h-1.5v-20.3h-1.5v7.0h-1.5v-1.6h-1.5v-4.2h-1.5v17.0h-1.5v-3.7h-1.5v5.5h-1.5v10.1h-1.5v-1.9h-1.5v-10.6h-1.5v4.8h-1.5v-1.7h-1.5v-5.7h-1.5v4.1h-1.5v-2.3h-1.5v-2.4h-1.5v15.6h-1.5v-16.2h-1.5v6.0h-1.5v-2.7h-1.5v-4.1h-1.5v-2.5h-1.5v12.9h-1.5v-1.3h-1.5v-2.7h-1.5v10.5h-1.5v-12.3h-1.5v-5.0h-1.5v9.8h-1.5v0.9h-1.5v-12.6h-1.5v-1.0h-1.5v-2.0h-1.5v4.9h-1.5v-2.1h-1.5v2.1h-1.5v-2.5h-1.5v8.3h-1.5v-9.8h-1.5v6.6h-1.5v-6.4h-1.5v5.4h-1.5v6.7h-1.5v-6.9h-1.5v1.5h-1.5v-6.3h-1.5v13.3h-1.5v-2.1h-1.5v5.3h-1.5v3.8h-1.5v-13.3h-1.5v0.9h-1.5v-1.5h-1.5v8.1h-1.5v-6.5h-1.5v-14.0h-1.5v5.1h-1.5v7.3h-1.5v4.0h-1.5v-7.0h-1.5v11.1h-1.5v-9.0h-1.5v1.5h-1.5v-0.1h-1.5v2.2h-1.5v-5.6h-1.5v-3.1h-1.5v5.7h-1.5v-5.1h-1.5v-5.2h-1.5v-7.9h-1.5v10.6h-1.5v-3.3h-1.5v10.1h-1.5v-11.8h-1.5v-1.0h-1.5v7.3h-1.5v5.8h-1.5v-12.8h-1.5v16.4h-1.5v-6.0h-1.5v2.9h-1.5v0.1h-1.5v2.1h-1.5v-0.5h-1.5v5.1h-1.5v3.8h-1.5v-6.1h-1.5v1.1h-1.5v6.6h-1.5v-3.5h-1.5v0.3h-1.5v1.7h-1.5v-10.3h-1.5v-1.6h-1.5v-3.9h-1.5v0.9h-1.5v0.2h-1.5v-0.1h-1.5v-9.1h-1.5v11.4h-1.5v-1.7h-1.5v-2.5h-1.5v-9.1h-1.5v10.7h-1.5v4.6h-1.5v-4.3h-1.5v-0.9h-1.5v-1.8h-1.5v2.7h-1.5v0.2h-1.5v5.4h-1.5v-2.8h-1.5v1.1h-1.5v-0.7h-1.5v-8.4h-1.5v5.0h-1.5v-1.8h-1.5v5.2h-1.5v1.8h-1.5v-6.8h-1.5v-0.5h-1.5v-0.5h-1.5v-4.7h-1.5v3.9h-1.5v-2.0h-1.5v-1.8h-1.5v4.6h-1.5v-1.7h-1.5v-0.7h-1.5v1.0h-1.5v-0.9h-1.5v3.9h-1.5v3.8h-1.5v-2.3h-1.5v4.9h-1.5v-7.5h-1.5v2.0h-1.5v-2.2h-1.5v8.6h-1.5v-5.8h-1.5v-0.2h-1.5v-5.8h-1.5v1.9h-1.5v-0.8h-1.5v4.7h-1.5v-1.5h-1.5v-0.4h-1.5v3.0h-1.5v-4.1h-1.5v2.6h-1.5v0.9h-1.5v-2.5h-1.5v-1.8h-1.5v6.3h-1.5v-7.9h-1.5v0.4h-1.5v-1.8h-1.5v5.8h-1.5v-4.1h-1.5v8.1h-1.5v-7.7h-1.5v-3.9h-1.5v3.0h-1.5v2.1h-1.5v0.0h-1.5v0.3h-1.5v-7.6h-1.5v9.0h-1.5v0.9h-1.5v-7.1h-1.5v6.5h-1.5v3.2h-1.5v-1.9h-1.5v-0.3h-1.5v-0.1h-1.5v5.8h-1.5v-3.7h-1.5v-3.9h-1.5v-1.6h-1.5v3.1h-1.5v-4.4h-1.5v4.0h-1.5v3.5h-1.5v-6.7h-1.5v1.0h-1.5v0.8h-1.5v-0.7h-1.5v3.8h-1.5v-2.9h-1.5v13.0h-1.5v-8.4h-1.5v0.5h-1.5v-1.0h-1.5v-4.7h-1.5v1.8h-1.5v5.8h-1.5v-8.6h-1.5v2.1h-1.5v-7.9h-1.5v4.0h-1.5v5.0h-1.5v-3.7h-1.5v4.3h-1.5v1.1h-1.5v-1.1h-1.5v-1.5h-1.5v-0.5h-1.5v0.6h-1.5v7.8h-1.5v-5.7h-1.5v9.7h-1.5v-4.8h-1.5v-1.3h-1.5v-0.2h-1.5v2.4h-1.5v-6.0h-1.5v8.5h-1.5v-3.1h-1.5v3.7h-1.5v-5.2h-1.5v-1.8h-1.5v7.7h-1.5v-2.3h-1.5v2.8h-1.5v8.7h-1.5v-1.2h-1.5v-5.6h-1.5v-0.2h-1.5v-2.2h-1.5v-2.0h-1.5v0.9h-1.5v1.9h-1.5v1.6h-1.5v-6.1h-1.5v1.3h-1.5v5.0h-1.5v10.0h-1.5v-4.9h-1.5v-3.3h-1.5v-4.2h-1.5v13.1h-1.5v-6.0h-1.5v2.7h-1.5v-5.0h-1.5v-2.2h-1.5v-3.9h-1.5v-8.6h-1.5v10.7h-1.5v-3.6h-1.5v1.6h-1.5v5.1h-1.5v-1.7h-1.5v0.2h-1.5v-2.7h-1.5v0.7h-1.5v9.0h-1.5v-5.0h-1.5v9.0h-1.5v-0.1h-1.5v-8.1h-1.5v0.9h-1.5v3.7h-1.5v-6.8h-1.5v1.9h-1.5v1.2h-1.5v-1.3h-1.5v-1.8h-1.5v-1.3h-1.5v-0.8h-1.5v-9.6h-1.5v14.5h-1.5v-5.4h-1.5v-5.5h-1.5v9.6h-1.5v-8.1h-1.5v8.0h-1.5v-1.6h-1.5v-4.9h-1.5v-0.5h-1.5v0.3h-1.5v-5.1h-1.5v10.3h-1.5v-12.8h-1.5v6.7h-1.5v0.8h-1.5v6.2h-1.5v7.0h-1.5v-7.2h-1.5v6.9h-1.5v6.6h-1.5v-4.8h-1.5v-6.5h-1.5v7.4h-1.5v-1.6h-1.5v-10.4h-1.5v6.7h-1.5v-5.5h-1.5v3.5h-1.5v-1.4h-1.5v-7.2h-1.5v14.5h-1.5v-15.6h-1.5v9.7h-1.5v5.8h-1.5v-4.4h-1.5v-8.4h-1.5v11.2h-1.5v-7.2h-1.5v14.1h-1.5v-8.2h-1.5v1.2h-1.5v-1.4h-1.5v2.9h-1.5v-1.7h-1.5v8.2h-1.5v1.4h-1.5v-7.6h-1.5v-2.7h-1.5v6.2h-1.5v-6.2h-1.5v8.7h-1.5v-7.2h-1.5v-1.9h-1.5v0.4h-1.5v-3.7h-1.5v4.2h-1.5v-0.0h-1.5v-1.6h-1.5v1.5h-1.5v-4.6h-1.5v6.8h-1.5v-0.0h-1.5v-6.3h-1.5v2.2h-1.5v9.4h-1.5v-7.3h-1.5v-3.8h-1.5v2.4h-1.5v-1.8h-1.5v-4.4h-1.5v10.1h-1.5v-10.8h-1.5v8.3h-1.5v-5.4h-1.5v3.0h-1.5v4.9h-1.5v-0.0h-1.5v-4.1h-1.5v-6.9h-1.5v7.6h-1.5v0.2h-1.5v-2.3h-1.5v-1.5h-1.5v3.9h-1.5v1.3h-1.5v-3.7h-1.5v7.9h-1.5v-10.1h-1.5v0.8h-1.5v-4.5h-1.5v4.5h-1.5v-7.4h-1.5v5.0h-1.5v-1.5h-1.5v-3.4h-1.5v-0.6h-1.5v-2.2h-1.5v1.0h-1.5v8.0h-1.5v-5.8h-1.5v0.3h-1.5v1.3h-1.5v1.3h-1.5v-0.4h-1.5v3.2h-1.5v2.1h-1.5v1.6h-1.5v3.9h-1.5v-6.0h-1.5v0.3h-1.5v2.3h-1.5v-4.8h-1.5v7.1h-1.5v-5.0h-1.5v1.8h-1.5v-0.3h-1.5v-2.1h-1.5v9.8h-1.5v-0.5h-1.5v1.7h-1.5v1.2h-1.5v3.3h-1.5v2.0h-1.5v4.8h-1.5v-2.9h-1.5v6.1h-1.5v-1.4h-1.5v-1.0h-1.5v4.3h-1.5v-3.2h-1.5v4.6h-1.5v1.1h-1.5v-3.6h-1.5v-2.2h-1.5v0.6h-1.5v3.1h-1.5v1.8h-1.5v3.5h-1.5v-0.6h-1.5v-2.0h-1.5v1.1h-1.5v-0.3h-1.5v1.2h-1.5v-0.8h-1.5v1.1h-1.5v-1.2h-1.5v-1.3h-1.5v0.5h-1.5v1.3h-1.5v0.9h-1.5v-2.3h-1.5v-1.3h-1.5v3.8h-1.5v-0.9h-1.5v-1.5h-1.5v-0.9h-1.5v0.4h-1.5v-0.8h-1.5v-2.2h-1.5v4.7h-1.5v-0.3h-1.5v-1.9h-1.5v0.7h-1.5v5.4h-1.5v-7.5h-1.5v8.5h-1.5v-9.0h-1.5v0.5h-1.5v-2.4h-1.5v1.8h-1.5v0.2h-1.5v-0.9h-1.5v-0.3h-1.5v0.8h-1.5v1.9h-1.5v-3.5h-1.5v0.2h-1.5v-0.1h-1.5v-4.2h-1.5v5.8h-1.5v-1.1h-1.5v0.3h-1.5v2.9h-1.5v4.2h-1.5v4.3h-1.5v-1.7h-1.5v-1.6h-1.5v3.9h-1.5v4.3h-1.5v8.3h-1.5v-5.5h-1.5v-3.1h-1.5v1.2h-1.5v-2.3h-1.5v4.1h-1.5v-3.5h-1.5v-0.8h-1.5v-0.2h-1.5v-1.4h-1.5v0.1h-1.5v7.4h-1.5v-4.3h-1.5v-0.2h-1.5v5.7h-1.5v-2.3h-1.5v1.4h-1.5v-2.3h-1.5v2.9h-1.5v4.9h-1.5v-1.4h-1.5v5.7h-1.5v-1.7h-1.5v1.8h-1.5v-4.3h-1.5v0.8h-1.5v-2.0h-1.5v0.5h-1.5v1.0h-1.5v-4.0h-1.5v2.1h-1.5v-2.3h-1.5v6.6h-1.5v-0.4h-1.5v-1.6h-1.5v1.7h-1.5v2.8h-1.5v1.2h-1.5v-2.3h-1.5v2.9h-1.5v4.4h-1.5v-5.6h-1.5v-0.4h-1.5v-1.7h-1.5v3.4h-1.5v-4.6h-1.5v4.0h-1.5v-6.1h-1.5v1.5h-1.5v5.4h-1.5v-5.4h-1.5v8.1h-1.5v-7.1h-1.5v-10.3h-1.5Z" fill="#75579c" stroke="#75579c" stroke-width="5.0" stroke-linejoin="round"/>
<path d="M155.0,256.6V214.9h1.5v13.0h1.5v7.7h1.5v-18.9h1.5v13.4h1.5v-2.0h1.5v3.1h1.5v1.6h1.5v-5.5h1.5v0.3h1.5v2.6h1.5v-5.2h1.5v4.6h1.5v4.6h1.5v0.6h1.5v-3.8h1.5v-7.2h1.5v5.2h1.5v1.9h1.5v-8.5h1.5v1.4h1.5v-1.0h1.5v4.5h1.5v-0.5h1.5v-6.4h1.5v-1.9h1.5v6.0h1.5v-0.3h1.5v-3.8h1.5v3.6h1.5v4.5h1.5v-16.4h1.5v-0.2h1.5v4.9h1.5v5.9h1.5v-8.4h1.5v-1.6h1.5v-2.7h1.5v2.3h1.5v5.7h1.5v-5.8h1.5v5.4h1.5v-14.7h1.5v-4.4h1.5v5.5h1.5v-3.8h1.5v0.8h1.5v-5.0h1.5v9.5h1.5v0.2h1.5v0.7h1.5v-7.1h1.5v-1.9h1.5v5.4h1.5v-1.4h1.5v-0.5h1.5v-9.1h1.5v6.4h1.5v4.5h1.5v1.5h1.5v-0.8h1.5v2.4h1.5v-1.1h1.5v2.1h1.5v1.1h1.5v5.6h1.5v-2.6h1.5v-3.0h1.5v-2.3h1.5v6.7h1.5v-7.4h1.5v2.0h1.5v-3.4h1.5v1.0h1.5v-2.3h1.5v7.1h1.5v-6.1h1.5v1.5h1.5v-0.5h1.5v-1.1h1.5v5.8h1.5v-4.3h1.5v4.8h1.5v0.4h1.5v-4.2h1.5v8.5h1.5v-2.5h1.5v2.9h1.5v2.9h1.5v-0.7h1.5v-5.8h1.5v2.1h1.5v1.3h1.5v-4.2h1.5v-2.6h1.5v2.6h1.5v3.5h1.5v-9.6h1.5v6.1h1.5v-2.3h1.5v-2.2h1.5v-0.1h1.5v-3.8h1.5v0.9h1.5v2.8h1.5v3.2h1.5v-1.5h1.5v2.9h1.5v-3.0h1.5v-6.9h1.5v4.4h1.5v-2.3h1.5v0.9h1.5v5.7h1.5v-8.2h1.5v5.2h1.5v-8.7h1.5v6.8h1.5v-7.4h1.5v-3.0h1.5v10.4h1.5v0.9h1.5v-0.1h1.5v0.4h1.5v-5.5h1.5v1.5h1.5v0.5h1.5v4.7h1.5v-5.9h1.5v-6.1h1.5v0.8h1.5v-1.4h1.5v1.1h1.5v4.5h1.5v-5.0h1.5v3.2h1.5v3.7h1.5v-4.3h1.5v1.3h1.5v1.4h1.5v-2.6h1.5v-1.3h1.5v5.5h1.5v1.2h1.5v-8.9h1.5v5.0h1.5v-1.5h1.5v-2.4h1.5v-0.7h1.5v-4.7h1.5v11.2h1.5v-2.1h1.5v-7.3h1.5v3.7h1.5v2.2h1.5v-1.1h1.5v0.7h1.5v0.6h1.5v0.6h1.5v3.9h1.5v-0.5h1.5v2.6h1.5v-10.7h1.5v-0.0h1.5v7.8h1.5v4.0h1.5v-1.8h1.5v-3.5h1.5v4.4h1.5v-2.8h1.5v-8.3h1.5v7.9h1.5v-3.1h1.5v-2.5h1.5v-7.9h1.5v-0.8h1.5v-1.3h1.5v-2.7h1.5v6.0h1.5v-5.2h1.5v3.5h1.5v0.3h1.5v-2.2h1.5v0.8h1.5v8.2h1.5v-7.7h1.5v4.5h1.5v-13.7h1.5v0.4h1.5v8.6h1.5v-1.9h1.5v2.8h1.5v4.2h1.5v-9.2h1.5v17.3h1.5v-7.2h1.5v4.3h1.5v0.7h1.5v-13.5h1.5v2.2h1.5v-4.6h1.5v6.6h1.5v4.2h1.5v-7.7h1.5v2.9h1.5v-3.0h1.5v2.5h1.5v2.4h1.5v-1.5h1.5v7.7h1.5v-7.8h1.5v2.2h1.5v3.6h1.5v-6.2h1.5v15.1h1.5v-3.4h1.5v4.5h1.5v2.1h1.5v-9.4h1.5v-2.0h1.5v10.9h1.5v2.6h1.5v-4.3h1.5v-0.1h1.5v-0.7h1.5v12.9h1.5v-10.6h1.5v-7.6h1.5v0.5h1.5v1.0h1.5v4.3h1.5v-13.1h1.5v13.6h1.5v5.4h1.5v2.9h1.5v-0.2h1.5v-5.3h1.5v4.1h1.5v-1.8h1.5v-5.2h1.5v9.4h1.5v-1.8h1.5v0.6h1.5v-13.8h1.5v8.2h1.5v-1.6h1.5v5.3h1.5v-10.1h1.5v2.6h1.5v1.8h1.5v3.9h1.5v-4.5h1.5v1.3h1.5v6.9h1.5v-2.3h1.5v1.3h1.5v-9.2h1.5v6.8h1.5v-0.5h1.5v-6.5h1.5v6.7h1.5v-6.3h1.5v1.6h1.5v5.0h1.5v4.4h1.5v1.6h1.5v-0.3h1.5v-7.6h1.5v7.5h1.5v-10.5h1.5v8.1h1.5v-4.9h1.5v-0.0h1.5v-13.8h1.5v10.4h1.5v-6.5h1.5v1.9h1.5v-4.2h1.5v-4.8h1.5v6.3h1.5v-5.8h1.5v5.7h1.5v-2.2h1.5v-1.7h1.5v-5.2h1.5v6.0h1.5v8.7h1.5v-0.6h1.5v2.4h1.5v-3.6h1.5v7.6h1.5v-6.8h1.5v13.4h1.5v-17.7h1.5v11.3h1.5v-13.1h1.5v8.4h1.5v-11.9h1.5v-4.4h1.5v4.7h1.5v-8.5h1.5v6.2h1.5v0.5h1.5v-9.5h1.5v-4.9h1.5v-1.4h1.5v-0.7h1.5v-3.2h1.5v5.1h1.5v1.8h1.5v5.9h1.5v5.1h1.5v-0.5h1.5v-5.8h1.5v-0.9h1.5v-3.0h1.5v9.9h1.5v-2.9h1.5v3.6h1.5v-11.5h1.5v17.6h1.5v-7.2h1.5v-1.8h1.5v-8.5h1.5v17.2h1.5v-10.9h1.5v10.5h1.5v-9.1h1.5v-9.0h1.5v-4.7h1.5v-1.4h1.5v2.0h1.5v-2.4h1.5v-0.4h1.5v4.8h1.5v2.0h1.5v6.1h1.5v-8.3h1.5v2.0h1.5v-1.5h1.5v1.5h1.5v-0.7h1.5v2.1h1.5v8.3h1.5v-17.9h1.5v1.3h1.5v9.3h1.5v-16.0h1.5v-3.4h1.5v6.0h1.5v-6.2h1.5v11.9h1.5v-4.4h1.5v-0.9h1.5v7.5h1.5v-4.2h1.5v6.7h1.5v-2.7h1.5v-5.2h1.5v12.8h1.5v0.5h1.5v-0.8h1.5v-4.9h1.5v2.3h1.5v-12.4h1.5v-2.7h1.5v8.6h1.5v-9.7h1.5v0.8h1.5v7.3h1.5v-5.3h1.5v8.6h1.5v-0.3h1.5v1.3h1.5v-4.8h1.5v-3.4h1.5v6.8h1.5v5.0h1.5v-3.3h1.5v-2.9h1.5v-1.4h1.5v9.7h1.5v-19.9h1.5v6.2h1.5v-0.1h1.5v18.1h1.5v-11.2h1.5v6.7h1.5v-2.8h1.5v1.1h1.5v-12.2h1.5v1.0h1.5v4.3h1.5v10.1h1.5v-1.2h1.5v-14.1h1.5v19.9h1.5v-7.3h1.5v2.2h1.5v1.2h1.5v-3.6h1.5v-13.7h1.5v12.5h1.5v5.5h1.5v1.0h1.5v-8.4h1.5v9.5h1.5v-2.8h1.5v-0.9h1.5v4.0h1.5v-0.2h1.5v-3.2h1.5v3.3h1.5v-12.0h1.5v0.7h1.5v-2.1h1.5v-2.4h1.5v-1.3h1.5v-7.5h1.5v9.7h1.5v1.4h1.5v1.4h1.5v1.1h1.5v-5.1h1.5v3.2h1.5v6.6h1.5v-6.6h1.5v1.2h1.5v-3.7h1.5v7.7h1.5v2.8h1.5v-1.6h1.5v1.5h1.5v-6.6h1.5v-15.9h1.5v16.7h1.5v-6.5h1.5v8.1h1.5v0.8h1.5v7.3h1.5v-6.2h1.5v5.2h1.5v0.5h1.5v-5.6h1.5v7.6h1.5v1.0h1.5v-0.9h1.5v-3.9h1.5v1.4h1.5v1.9h1.5v-3.5h1.5v-3.5h1.5v-0.4h1.5v0.8h1.5v6.5h1.5v3.6h1.5v-14.4h1.5v11.9h1.5v-6.1h1.5v-0.4h1.5v0.6h1.5v8.5h1.5v-2.3h1.5v5.1h1.5v10.1h1.5v-3.0h1.5v-0.7h1.5v-3.6h1.5v-1.1h1.5v-6.9h1.5v1.1h1.5v-6.3h1.5v2.3h1.5v4.5h1.5v-1.1h1.5v-0.8h1.5v3.6h1.5v-2.3h1.5v2.2h1.5v5.0h1.5v-5.6h1.5v-6.7h1.5v2.6h1.5v5.3h1.5v-11.0h1.5v9.5h1.5v0.9h1.5v-9.5h1.5v4.8h1.5v-4.1h1.5v10.7h1.5v4.9h1.5v-14.6h1.5v5.0h1.5v-8.9h1.5v1.7h1.5v6.9h1.5v-7.5h1.5v8.2h1.5v4.4h1.5v-7.7h1.5v5.6h1.5v-9.0h1.5v12.4h1.5v-4.0h1.5v-3.4h1.5v-2.1h1.5v3.4h1.5v5.1h1.5v-3.8h1.5v3.2h1.5v4.6h1.5v1.9h1.5v2.9h1.5v-5.2h1.5v2.3h1.5v2.5h1.5v4.1h1.5v-9.6h1.5v4.1h1.5v-4.9h1.5v-1.0h1.5v2.4h1.5v-3.5h1.5v-1.9h1.5v-3.4h1.5v4.1h1.5v-3.0h1.5v4.4h1.5v-9.6h1.5v3.2h1.5v0.5h1.5v-8.9h1.5v14.8h1.5v-10.2h1.5v8.6h1.5v-4.3h1.5v2.9h1.5v-5.4h1.5v-1.5h1.5v7.4h1.5v-0.2h1.5v2.6h1.5v3.7h1.5v-3.6h1.5v1.8h1.5v-6.7h1.5v6.4h1.5v-3.0h1.5v-2.9h1.5v-1.3h1.5v0.1h1.5v0.8h1.5v3.2h1.5v-11.3h1.5v10.9h1.5v-7.0h1.5v-5.5h1.5v11.4h1.5v5.4h1.5v-10.2h1.5v8.0h1.5v1.4h1.5v-12.9h1.5v5.5h1.5v-10.6h1.5v1.0h1.5v8.6h1.5v-2.1h1.5v-0.2h1.5v3.3h1.5v-9.3h1.5v8.0h1.5v-2.8h1.5v3.1h1.5v-3.7h1.5v-8.2h1.5v2.9h1.5v7.3h1.5v1.2h1.5v-1.1h1.5v0.3h1.5v6.2h1.5v2.8h1.5v1.7h1.5v-1.0h1.5v-0.3h1.5v-9.1h1.5v5.6h1.5v3.1h1.5v-0.3h1.5v-3.8h1.5v0.2h1.5v-4.6h1.5v-4.4h1.5v-0.3h1.5v-9.4h1.5v9.0h1.5v-0.9h1.5v-6.6h1.5v-0.0h1.5v5.9h1.5v0.4h1.5v10.1h1.5v-7.8h1.5v7.9h1.5v-1.2h1.5v-9.9h1.5v6.2h1.5v6.0h1.5v-9.5h1.5v5.7h1.5v-2.2h1.5v-5.5h1.5v9.0h1.5v-5.5h1.5v-3.9h1.5v7.2h1.5v-6.6h1.5v4.9h1.5v-10.2h1.5v8.3h1.5v2.5h1.5v0.2h1.5v0.4h1.5v-6.6h1.5v1.9h1.5v-0.3h1.5v-2.2h1.5v3.7h1.5v2.9h1.5v1.2h1.5v9.9h1.5v-1.1h1.5v-12.3h1.5v12.3h1.5v-5.9h1.5v0.9h1.5v-2.2h1.5v-5.3h1.5v3.1h1.5v5.0h1.5v-8.9h1.5v8.5h1.5v-3.6h1.5v5.3h1.5v0.3h1.5v-6.2h1.5v-9.5h1.5v13.0h1.5v-2.6h1.5V203.7h-1.5v8.5h-1.5v-0.7h-1.5v3.7h-1.5v-0.6h-1.5v-2.2h-1.5v-1.5h-1.5v-8.0h-1.5v3.1h-1.5v-0.3h-1.5v6.3h-1.5v-13.6h-1.5v12.4h-1.5v-3.1h-1.5v-3.0h-1.5v10.1h-1.5v-3.5h-1.5v4.2h-1.5v-9.6h-1.5v0.3h-1.5v-8.7h-1.5v5.1h-1.5v-6.1h-1.5v-0.3h-1.5v5.6h-1.5v-6.1h-1.5v9.5h-1.5v-9.4h-1.5v14.3h-1.5v-12.4h-1.5v-2.8h-1.5v13.7h-1.5v-6.7h-1.5v0.0h-1.5v-4.6h-1.5v9.0h-1.5v-8.2h-1.5v10.5h-1.5v-7.3h-1.5v1.5h-1.5v2.8h-1.5v-2.9h-1.5v1.0h-1.5v-1.7h-1.5v10.2h-1.5v-7.4h-1.5v-1.5h-1.5v-0.1h-1.5v-5.7h-1.5v-7.6h-1.5v5.2h-1.5v-5.9h-1.5v16.1h-1.5v-5.5h-1.5v-5.3h-1.5v8.7h-1.5v-7.1h-1.5v6.7h-1.5v4.9h-1.5v-0.2h-1.5v2.4h-1.5v2.4h-1.5v4.1h-1.5v-5.2h-1.5v2.5h-1.5v2.7h-1.5v-7.3h-1.5v8.3h-1.5v-10.3h-1.5v-0.3h-1.5v-7.8h-1.5v8.8h-1.5v-5.2h-1.5v-6.9h-1.5v15.6h-1.5v-15.5h-1.5v13.3h-1.5v-5.9h-1.5v-0.8h-1.5v-10.5h-1.5v12.7h-1.5v-1.4h-1.5v-2.8h-1.5v4.0h-1.5v2.4h-1.5v-2.1h-1.5v6.8h-1.5v-11.5h-1.5v11.7h-1.5v-3.2h-1.5v1.5h-1.5v9.8h-1.5v-12.8h-1.5v-4.3h-1.5v9.4h-1.5v-0.4h-1.5v-3.9h-1.5v3.2h-1.5v0.9h-1.5v-0.0h-1.5v-7.7h-1.5v9.6h-1.5v1.1h-1.5v-8.0h-1.5v5.1h-1.5v1.7h-1.5v-2.0h-1.5v-1.0h-1.5v-8.8h-1.5v2.2h-1.5v6.9h-1.5v-2.8h-1.5v-6.4h-1.5v12.1h-1.5v2.5h-1.5v-2.9h-1.5v-7.4h-1.5v20.1h-1.5v-18.8h-1.5v2.2h-1.5v-4.4h-1.5v2.3h-1.5v2.4h-1.5v-9.9h-1.5v7.2h-1.5v2.2h-1.5v1.1h-1.5v-3.8h-1.5v5.5h-1.5v-2.6h-1.5v4.8h-1.5v-1.8h-1.5v8.0h-1.5v-0.6h-1.5v-9.4h-1.5v14.8h-1.5v-4.8h-1.5v-4.3h-1.5v5.3h-1.5v-9.0h-1.5v-1.5h-1.5v-9.9h-1.5v5.3h-1.5v-0.2h-1.5v5.8h-1.5v-10.7h-1.5v5.7h-1.5v4.9h-1.5v-2.8h-1.5v1.4h-1.5v-6.0h-1.5v7.7h-1.5v-4.9h-1.5v-8.9h-1.5v7.3h-1.5v2.4h-1.5v-1.6h-1.5v8.2h-1.5v-4.8h-1.5v4.4h-1.5v-10.8h-1.5v8.1h-1.5v-5.6h-1.5v-2.6h-1.5v3.2h-1.5v-1.2h-1.5v17.6h-1.5v-18.9h-1.5v1.6h-1.5v-3.5h-1.5v6.2h-1.5v-0.9h-1.5v3.9h-1.5v1.9h-1.5v11.6h-1.5v-10.3h-1.5v-8.2h-1.5v4.6h-1.5v-2.5h-1.5v-8.9h-1.5v5.8h-1.5v9.5h-1.5v-5.7h-1.5v4.7h-1.5v4.6h-1.5v-3.3h-1.5v6.0h-1.5v-6.9h-1.5v4.8h-1.5v-7.9h-1.5v-3.9h-1.5v2.2h-1.5v-9.5h-1.5v1.7h-1.5v8.1h-1.5v-2.7h-1.5v-2.4h-1.5v-6.0h-1.5v0.4h-1.5v7.2h-1.5v-8.1h-1.5v8.9h-1.5v-0.7h-1.5v4.5h-1.5v-3.8h-1.5v1.5h-1.5v-1.2h-1.5v-9.3h-1.5v-1.3h-1.5v1.7h-1.5v-2.7h-1.5v7.6h-1.5v-1.0h-1.5v-1.5h-1.5v-6.5h-1.5v6.8h-1.5v-12.6h-1.5v13.5h-1.5v-4.1h-1.5v1.2h-1.5v8.2h-1.5v-3.7h-1.5v-7.6h-1.5v-7.5h-1.5v8.9h-1.5v3.5h-1.5v-0.8h-1.5v-5.5h-1.5v12.4h-1.5v7.1h-1.5v-18.2h-1.5v-4.5h-1.5v1.2h-1.5v11.1h-1.5v-11.6h-1.5v-0.9h-1.5v2.3h-1.5v7.9h-1.5v-2.3h-1.5v13.8h-1.5v-1.7h-1.5v1.7h-1.5v-3.4h-1.5v-0.7h-1.5v-1.2h-1.5v-6.4h-1.5v0.4h-1.5v4.4h-1.5v-10.1h-1.5v0.5h-1.5v-1.6h-1.5v6.2h-1.5v7.1h-1.5v-5.2h-1.5v1.6h-1.5v-9.0h-1.5v7.9h-1.5v0.6h-1.5v-7.1h-1.5v-4.7h-1.5v7.9h-1.5v-5.9h-1.5v-8.2h-1.5v12.0h-1.5v-1.0h-1.5v4.4h-1.5v1.0h-1.5v-8.7h-1.5v5.3h-1.5v0.4h-1.5v8.3h-1.5v-15.6h-1.5v0.2h-1.5v8.9h-1.5v-9.9h-1.5v7.0h-1.5v3.8h-1.5v-5.2h-1.5v-0.8h-1.5v5.8h-1.5v-9.7h-1.5v-4.1h-1.5v-7.0h-1.5v1.3h-1.5v23.5h-1.5v-20.6h-1.5v-1.0h-1.5v9.6h-1.5v0.5h-1.5v-4.2h-1.5v12.9h-1.5v-4.4h-1.5v-12.6h-1.5v16.9h-1.5v-6.1h-1.5v-3.7h-1.5v10.8h-1.5v-17.4h-1.5v-2.6h-1.5v4.9h-1.5v-10.7h-1.5v9.7h-1.5v-4.2h-1.5v9.0h-1.5v6.4h-1.5v-3.3h-1.5v-0.3h-1.5v19.4h-1.5v-21.6h-1.5v2.9h-1.5v6.7h-1.5v-7.8h-1.5v1.2h-1.5v13.2h-1.5v-0.4h-1.5v-9.2h-1.5v-2.9h-1.5v-1.5h-1.5v3.1h-1.5v4.4h-1.5v2.8h-1.5v-0.9h-1.5v8.4h-1.5v-2.4h-1.5v1.8h-1.5v6.8h-1.5v-9.5h-1.5v2.6h-1.5v4.5h-1.5v-4.3h-1.5v6.2h-1.5v-8.2h-1.5v3.9h-1.5v-10.3h-1.5v4.1h-1.5v10.1h-1.5v-1.8h-1.5v-2.4h-1.5v-1.4h-1.5v5.2h-1.5v-10.1h-1.5v1.6h-1.5v2.9h-1.5v-19.6h-1.5v23.4h-1.5v2.2h-1.5v-8.7h-1.5v-0.5h-1.5v13.6h-1.5v-12.0h-1.5v6.2h-1.5v-2.5h-1.5v4.4h-1.5v-4.6h-1.5v13.8h-1.5v3.6h-1.5v-3.8h-1.5v5.0h-1.5v0.1h-1.5v-0.6h-1.5v-9.1h-1.5v0.1h-1.5v3.0h-1.5v5.5h-1.5v-3.4h-1.5v-9.6h-1.5v10.7h-1.5v-9.3h-1.5v-0.6h-1.5v1.9h-1.5v-7.4h-1.5v2.7h-1.5v7.4h-1.5v-3.1h-1.5v0.1h-1.5v4.4h-1.5v-4.0h-1.5v14.1h-1.5v-7.0h-1.5v3.2h-1.5v10.1h-1.5v-2.4h-1.5v-4.7h-1.5v-6.2h-1.5v1.0h-1.5v12.3h-1.5v-8.7h-1.5v0.6h-1.5v-7.1h-1.5v-2.1h-1.5v9.5h-1.5v-8.4h-1.5v13.2h-1.5v-9.1h-1.5v-3.2h-1.5v4.6h-1.5v2.8h-1.5v0.8h-1.5v-5.2h-1.5v-6.8h-1.5v5.1h-1.5v-3.4h-1.5v4.8h-1.5v-7.3h-1.5v4.8h-1.5v3.7h-1.5v5.4h-1.5v-5.4h-1.5v-2.6h-1.5v2.0h-1.5v13.2h-1.5v-7.9h-1.5v0.6h-1.5v-1.2h-1.5v3.2h-1.5v-0.0h-1.5v-4.8h-1.5v-2.2h-1.5v-1.6h-1.5v-4.8h-1.5v8.3h-1.5v2.8h-1.5v-10.6h-1.5v-9.1h-1.5v2.4h-1.5v15.4h-1.5v-1.8h-1.5v-1.6h-1.5v-9.8h-1.5v5.7h-1.5v1.5h-1.5v-6.9h-1.5v4.5h-1.5v0.8h-1.5v1.4h-1.5v-7.4h-1.5v8.6h-1.5v-5.7h-1.5v-4.5h-1.5v3.3h-1.5v-8.7h-1.5v4.6h-1.5v-5.9h-1.5v0.8h-1.5v-2.4h-1.5v9.1h-1.5v-6.7h-1.5v4.6h-1.5v-10.1h-1.5v5.1h-1.5v8.9h-1.5v-11.3h-1.5v3.6h-1.5v4.6h-1.5v-6.5h-1.5v-1.0h-1.5v3.1h-1.5v-2.6h-1.5v2.0h-1.5v0.3h-1.5v-7.9h-1.5v9.7h-1.5v-0.4h-1.5v-3.7h-1.5v1.0h-1.5v0.1h-1.5v0.9h-1.5v-1.7h-1.5v-3.8h-1.5v7.5h-1.5v-9.6h-1.5v-2.5h-1.5v6.2h-1.5v-5.3h-1.5v3.6h-1.5v3.3h-1.5v0.4h-1.5v6.2h-1.5v-2.6h-1.5v3.9h-1.5v8.4h-1.5v-4.7h-1.5v6.1h-1.5v-12.1h-1.5v8.6h-1.5v-4.0h-1.5v5.4h-1.5v-5.8h-1.5v-1.8h-1.5v-1.6h-1.5v1.4h-1.5v-3.7h-1.5v2.2h-1.5v-4.9h-1.5v-1.1h-1.5v1.7h-1.5v0.5h-1.5v-0.6h-1.5v-6.0h-1.5v7.5h-1.5v0.9h-1.5v-4.3h-1.5v-1.7h-1.5v2.0h-1.5v8.4h-1.5v-2.9h-1.5v-2.0h-1.5v7.8h-1.5v-6.8h-1.5v-0.1h-1.5v0.7h-1.5v0.8h-1.5v1.7h-1.5v-3.5h-1.5v3.8h-1.5v-8.6h-1.5v3.4h-1.5v3.9h-1.5v-4.5h-1.5v-2.8h-1.5v9.9h-1.5v-9.5h-1.5v5.3h-1.5v1.3h-1.5v-4.5h-1.5v8.3h-1.5v-3.0h-1.5v2.0h-1.5v1.7h-1.5v0.3h-1.5v0.5h-1.5v-6.0h-1.5v-1.6h-1.5v0.5h-1.5v2.8h-1.5v-3.1h-1.5v-1.6h-1.5v7.4h-1.5v-6.2h-1.5v5.5h-1.5v-0.8h-1.5v-0.1h-1.5v3.2h-1.5v-1.9h-1.5v5.9h-1.5v-7.3h-1.5v-0.8h-1.5v0.7h-1.5v1.3h-1.5v-3.4h-1.5v4.8h-1.5v1.2h-1.5v-5.1h-1.5v7.5h-1.5v-2.5h-1.5v-2.2h-1.5v-0.1h-1.5v1.5h-1.5v3.5h-1.5v-2.0h-1.5v0.4h-1.5v0.0h-1.5v-0.1h-1.5v-1.5h-1.5v1.1h-1.5v-1.5h-1.5v-2.0h-1.5v4.7h-1.5v-5.3h-1.5v-0.4h-1.5v4.8h-1.5v-9.1h-1.5v5.0h-1.5v-6.4h-1.5v2.0h-1.5v1.1h-1.5v-3.4h-1.5v2.0h-1.5v0.9h-1.5v3.0h-1.5v1.7h-1.5v-0.8h-1.5v0.3h-1.5v-3.7h-1.5v2.6h-1.5v3.6h-1.5v0.4h-1.5v-5.3h-1.5v0.3h-1.5v-2.8h-1.5v9.2h-1.5v0.9h-1.5v-5.2h-1.5v-7.1h-1.5v10.9h-1.5v-3.5h-1.5v3.5h-1.5v3.1h-1.5v-5.9h-1.5v7.1h-1.5v-8.5h-1.5v-1.9h-1.5v5.8h-1.5v-3.0h-1.5v10.9h-1.5v-8.6h-1.5v-1.8h-1.5v5.2h-1.5v12.8h-1.5v-1.9h-1.5v-5.5h-1.5v11.1h-1.5v-5.6h-1.5v2.6h-1.5v3.1h-1.5v-9.3h-1.5v4.2h-1.5v1.9h-1.5v4.0h-1.5v-4.0h-1.5v2.9h-1.5v6.0h-1.5v3.4h-1.5v-9.1h-1.5v5.7h-1.5v5.4h-1.5v-14.8h-1.5v9.3h-1.5v-2.2h-1.5v-1.7h-1.5v-2.8h-1.5v14.0h-1.5v-2.8h-1.5v-2.4h-1.5v4.7h-1.5v1.5h-1.5v-9.3h-1.5v2.3h-1.5v-0.3h-1.5v-1.5h-1.5v1.8h-1.5v-0.5h-1.5v-2.6h-1.5v5.2h-1.5v5.2h-1.5v0.5h-1.5v-3.9h-1.5v-4.8h-1.5v5.8h-1.5v-2.0h-1.5v2.4h-1.5Z" fill="#90b64a" stroke="#90b64a" stroke-width="5.0" stroke-linejoin="round"/>
<path d="M146.0,380.0 147.0,300.0 148.5,262.0 150.0,235.0 152.0,215.0 155.0,205.0" fill="none" stroke="#bb3e3c" stroke-width="4.5" stroke-linejoin="round" stroke-linecap="round"/>
<path d="M145.0,419.0 145.2,330.0 146.0,270.0 147.5,235.0 149.5,212.0 152.0,200.0" fill="none" stroke="#3f76b8" stroke-width="5.0" stroke-linejoin="round" stroke-linecap="round"/>
<path d="M190.0,165.0 190.0,128.0 192.0,128.0 192.0,165.0" fill="none" stroke="#bb3e3c" stroke-width="4.5" stroke-linejoin="round" stroke-linecap="round"/>
<path d="M157.0,190.0 157.0,157.0 158.0,157.0 158.0,190.0" fill="none" stroke="#3aa6c8" stroke-width="4.5" stroke-linejoin="round" stroke-linecap="round"/>
<text transform="translate(138.8,426.4) scale(1.090,1)" font-family="Liberation Sans" font-size="22.3" font-weight="normal" text-anchor="end" fill="#000" >0</text>
<text transform="translate(138.8,359.4) scale(1.090,1)" font-family="Liberation Sans" font-size="22.3" font-weight="normal" text-anchor="end" fill="#000" >0.1</text>
<text transform="translate(138.8,292.3) scale(1.090,1)" font-family="Liberation Sans" font-size="22.3" font-weight="normal" text-anchor="end" fill="#000" >0.2</text>
<text transform="translate(138.8,225.2) scale(1.090,1)" font-family="Liberation Sans" font-size="22.3" font-weight="normal" text-anchor="end" fill="#000" >0.3</text>
<text transform="translate(138.8,158.2) scale(1.090,1)" font-family="Liberation Sans" font-size="22.3" font-weight="normal" text-anchor="end" fill="#000" >0.4</text>
<text transform="translate(138.8,91.1) scale(1.090,1)" font-family="Liberation Sans" font-size="22.3" font-weight="normal" text-anchor="end" fill="#000" >0.5</text>
<text transform="translate(138.8,24.0) scale(1.090,1)" font-family="Liberation Sans" font-size="22.3" font-weight="normal" text-anchor="end" fill="#000" >0.6</text>
<text transform="translate(144.5,443.4) scale(1.090,1)" font-family="Liberation Sans" font-size="22.3" font-weight="normal" text-anchor="middle" fill="#000" >0</text>
<text transform="translate(342.0,443.4) scale(1.090,1)" font-family="Liberation Sans" font-size="22.3" font-weight="normal" text-anchor="middle" fill="#000" >20</text>
<text transform="translate(538.0,443.4) scale(1.090,1)" font-family="Liberation Sans" font-size="22.3" font-weight="normal" text-anchor="middle" fill="#000" >40</text>
<text transform="translate(734.0,443.4) scale(1.090,1)" font-family="Liberation Sans" font-size="22.3" font-weight="normal" text-anchor="middle" fill="#000" >60</text>
<text transform="translate(932.0,443.4) scale(1.090,1)" font-family="Liberation Sans" font-size="22.3" font-weight="normal" text-anchor="middle" fill="#000" >80</text>
<text transform="translate(1129.0,443.4) scale(1.090,1)" font-family="Liberation Sans" font-size="22.3" font-weight="normal" text-anchor="middle" fill="#000" >100</text>
<text x="1167.4" y="33.5" font-family="Liberation Serif" font-size="44.0" font-weight="bold" text-anchor="middle" fill="#000" >A</text>
<path d="M158.0,659.1V637.3h1.5v10.9h1.5v-4.4h1.5v6.0h1.5v2.1h1.5v14.3h1.5v-3.1h1.5v-3.3h1.5v7.3h1.5v5.6h1.5v0.8h1.5v-5.4h1.5v-2.1h1.5v10.5h1.5v-2.0h1.5v5.7h1.5v2.2h1.5v-1.2h1.5v7.3h1.5v-6.3h1.5v1.3h1.5v0.4h1.5v5.2h1.5v-4.4h1.5v-2.1h1.5v3.2h1.5v-1.2h1.5v1.7h1.5v2.7h1.5v-2.7h1.5v-5.5h1.5v5.7h1.5v-2.2h1.5v0.2h1.5v7.9h1.5v-5.1h1.5v-1.5h1.5v3.6h1.5v-0.3h1.5v1.8h1.5v-4.0h1.5v-1.9h1.5v-0.6h1.5v-2.5h1.5v3.8h1.5v1.1h1.5v-2.9h1.5v0.4h1.5v-6.2h1.5v2.3h1.5v-4.2h1.5v9.0h1.5v-7.0h1.5v2.6h1.5v-4.0h1.5v-0.1h1.5v0.0h1.5v0.1h1.5v0.0h1.5v0.8h1.5v3.8h1.5v4.7h1.5v-8.0h1.5v10.1h1.5v-3.1h1.5v2.4h1.5v2.1h1.5v-2.9h1.5v-1.0h1.5v5.5h1.5v-1.2h1.5v2.3h1.5v3.2h1.5v-2.4h1.5v-1.3h1.5v3.7h1.5v-1.8h1.5v3.9h1.5v-3.5h1.5v-2.7h1.5v2.3h1.5v-1.0h1.5v1.0h1.5v-6.3h1.5v4.9h1.5v-2.1h1.5v2.4h1.5v5.9h1.5v-2.0h1.5v-3.4h1.5v-0.1h1.5v0.9h1.5v3.0h1.5v4.8h1.5v-0.2h1.5v2.3h1.5v0.1h1.5v2.7h1.5v2.4h1.5v-4.0h1.5v-4.3h1.5v4.8h1.5v0.1h1.5v-3.3h1.5v-4.0h1.5v2.4h1.5v-1.2h1.5v0.9h1.5v0.6h1.5v-4.3h1.5v4.4h1.5v-4.0h1.5v1.3h1.5v0.9h1.5v1.0h1.5v-3.2h1.5v3.9h1.5v0.3h1.5v-6.1h1.5v-0.8h1.5v0.2h1.5v2.3h1.5v-0.5h1.5v2.9h1.5v-3.4h1.5v0.1h1.5v5.1h1.5v0.8h1.5v1.4h1.5v4.0h1.5v-3.4h1.5v5.4h1.5v-0.6h1.5v-0.6h1.5v-0.7h1.5v-1.1h1.5v-0.0h1.5v-0.6h1.5v1.3h1.5v-6.1h1.5v5.1h1.5v1.2h1.5v-1.0h1.5v-1.2h1.5v1.4h1.5v-2.0h1.5v2.0h1.5v-1.7h1.5v-2.4h1.5v5.0h1.5v-3.5h1.5v-0.6h1.5v-0.5h1.5v3.0h1.5v-8.4h1.5v-1.2h1.5v2.4h1.5v-1.9h1.5v5.3h1.5v2.0h1.5v-3.1h1.5v0.0h1.5v2.7h1.5v4.9h1.5v-9.0h1.5v4.1h1.5v-4.4h1.5v-1.7h1.5v6.2h1.5v-0.6h1.5v1.9h1.5v0.8h1.5v2.6h1.5v-11.9h1.5v12.9h1.5v-3.8h1.5v-3.8h1.5v0.2h1.5v4.1h1.5v7.1h1.5v-8.4h1.5v3.4h1.5v2.0h1.5v2.5h1.5v-3.1h1.5v-1.7h1.5v1.2h1.5v-1.9h1.5v4.1h1.5v-8.0h1.5v3.3h1.5v-4.1h1.5v-1.4h1.5v4.3h1.5v3.7h1.5v-1.2h1.5v-7.6h1.5v-2.7h1.5v6.8h1.5v1.6h1.5v4.0h1.5v-2.2h1.5v-2.3h1.5v2.4h1.5v-2.7h1.5v-5.2h1.5v4.5h1.5v3.5h1.5v0.8h1.5v-0.5h1.5v-1.2h1.5v-9.6h1.5v6.8h1.5v1.2h1.5v-6.6h1.5v9.6h1.5v-7.7h1.5v2.0h1.5v2.8h1.5v-4.5h1.5v2.3h1.5v7.4h1.5v-0.6h1.5v-3.0h1.5v-0.7h1.5v6.9h1.5v-6.7h1.5v3.3h1.5v-4.2h1.5v7.8h1.5v1.3h1.5v-0.8h1.5v-1.3h1.5v-6.2h1.5v11.6h1.5v-6.2h1.5v-2.8h1.5v2.6h1.5v2.2h1.5v1.0h1.5v-4.9h1.5v-1.1h1.5v2.9h1.5v-4.7h1.5v-3.0h1.5v2.3h1.5v4.4h1.5v1.0h1.5v-2.6h1.5v-2.0h1.5v8.5h1.5v-1.5h1.5v-4.6h1.5v-0.4h1.5v-0.2h1.5v1.9h1.5v-3.2h1.5v2.8h1.5v-4.7h1.5v-4.1h1.5v0.1h1.5v3.1h1.5v5.9h1.5v-0.9h1.5v-1.4h1.5v0.7h1.5v5.8h1.5v-2.4h1.5v-0.4h1.5v5.5h1.5v-8.3h1.5v2.8h1.5v-2.5h1.5v3.3h1.5v-1.0h1.5v-0.1h1.5v5.0h1.5v-5.8h1.5v-0.8h1.5v4.0h1.5v-1.3h1.5v-3.5h1.5v1.2h1.5v-4.0h1.5v4.1h1.5v2.7h1.5v1.7h1.5v-0.1h1.5v4.3h1.5v-5.7h1.5v-0.2h1.5v-3.5h1.5v7.1h1.5v-2.6h1.5v-3.7h1.5v4.1h1.5v2.4h1.5v-5.8h1.5v2.5h1.5v-3.9h1.5v-2.4h1.5v3.0h1.5v0.6h1.5v-1.8h1.5v2.3h1.5v-3.5h1.5v9.0h1.5v-8.9h1.5v9.2h1.5v-1.9h1.5v-0.3h1.5v3.9h1.5v-2.3h1.5v-3.6h1.5v-3.5h1.5v2.6h1.5v4.6h1.5v-13.4h1.5v4.8h1.5v6.5h1.5v-6.4h1.5v2.3h1.5v-3.2h1.5v3.7h1.5v3.4h1.5v0.3h1.5v-6.2h1.5v0.9h1.5v-5.1h1.5v2.4h1.5v2.0h1.5v5.2h1.5v-6.7h1.5v-0.8h1.5v10.0h1.5v-3.8h1.5v-3.6h1.5v4.8h1.5v-1.7h1.5v-7.0h1.5v5.0h1.5v-5.3h1.5v1.7h1.5v6.0h1.5v3.9h1.5v-3.1h1.5v1.8h1.5v-2.5h1.5v-5.4h1.5v5.9h1.5v-3.5h1.5v-0.1h1.5v-3.8h1.5v1.8h1.5v0.7h1.5v2.7h1.5v-1.2h1.5v-2.6h1.5v5.3h1.5v-1.6h1.5v-5.6h1.5v7.7h1.5v0.9h1.5v1.1h1.5v-9.3h1.5v4.7h1.5v1.2h1.5v-5.4h1.5v4.6h1.5v-0.1h1.5v4.7h1.5v-4.5h1.5v-0.9h1.5v-3.0h1.5v14.2h1.5v-11.2h1.5v0.9h1.5v-0.2h1.5v-2.6h1.5v6.4h1.5v-2.3h1.5v-6.9h1.5v7.5h1.5v-4.6h1.5v-0.8h1.5v5.3h1.5v-0.3h1.5v-1.2h1.5v-4.6h1.5v1.3h1.5v-6.8h1.5v2.5h1.5v1.4h1.5v4.4h1.5v5.1h1.5v0.8h1.5v2.6h1.5v-5.0h1.5v-3.4h1.5v4.9h1.5v-1.9h1.5v0.3h1.5v-0.9h1.5v-3.6h1.5v0.8h1.5v-9.3h1.5v0.1h1.5v3.8h1.5v7.7h1.5v-5.8h1.5v7.8h1.5v0.5h1.5v-10.3h1.5v8.0h1.5v-1.1h1.5v-7.4h1.5v-3.2h1.5v10.3h1.5v1.7h1.5v-7.8h1.5v4.3h1.5v2.7h1.5v5.7h1.5v-3.9h1.5v1.2h1.5v4.4h1.5v-1.4h1.5v-2.6h1.5v6.1h1.5v-12.1h1.5v6.2h1.5v-5.9h1.5v1.7h1.5v2.9h1.5v-5.1h1.5v-0.1h1.5v-3.2h1.5v2.7h1.5v7.9h1.5v-9.3h1.5v5.3h1.5v-0.4h1.5v7.2h1.5v-4.9h1.5v3.7h1.5v-5.0h1.5v0.0h1.5v-11.9h1.5v12.5h1.5v1.4h1.5v-8.0h1.5v-0.0h1.5v2.8h1.5v-5.9h1.5v8.1h1.5v2.3h1.5v3.1h1.5v1.5h1.5v-2.0h1.5v-5.2h1.5v7.9h1.5v-0.9h1.5v-5.3h1.5v-1.6h1.5v6.1h1.5v-4.9h1.5v-2.6h1.5v-2.2h1.5v-2.1h1.5v7.2h1.5v-3.4h1.5v2.4h1.5v0.0h1.5v-7.9h1.5v6.9h1.5v-3.7h1.5v5.3h1.5v-8.1h1.5v9.8h1.5v-0.1h1.5v-5.7h1.5v6.7h1.5v-8.0h1.5v14.7h1.5v-11.0h1.5v2.7h1.5v-4.0h1.5v4.0h1.5v4.1h1.5v5.1h1.5v-9.6h1.5v2.0h1.5v2.7h1.5v-1.9h1.5v-4.5h1.5v6.4h1.5v-8.2h1.5v12.9h1.5v-9.3h1.5v5.4h1.5v-4.0h1.5v-2.7h1.5v4.2h1.5v-1.6h1.5v3.4h1.5v3.3h1.5v2.3h1.5v-5.8h1.5v0.2h1.5v5.1h1.5v-9.5h1.5v3.2h1.5v6.9h1.5v-7.5h1.5v-4.5h1.5v5.8h1.5v-4.0h1.5v6.4h1.5v-9.0h1.5v3.4h1.5v-5.7h1.5v-1.1h1.5v0.5h1.5v9.6h1.5v-9.7h1.5v-2.6h1.5v11.1h1.5v-1.7h1.5v0.5h1.5v0.7h1.5v6.1h1.5v-3.1h1.5v3.2h1.5v-9.3h1.5v8.9h1.5v1.3h1.5v4.4h1.5v-7.4h1.5v0.2h1.5v4.0h1.5v-6.3h1.5v-0.1h1.5v1.8h1.5v-9.0h1.5v-3.2h1.5v7.2h1.5v3.2h1.5v-7.5h1.5v9.9h1.5v-0.6h1.5v0.9h1.5v-6.2h1.5v4.4h1.5v1.3h1.5v1.9h1.5v1.7h1.5v5.5h1.5v-3.7h1.5v-3.1h1.5v5.8h1.5v1.8h1.5v-4.9h1.5v4.4h1.5v-3.8h1.5v-5.7h1.5v13.5h1.5v-4.4h1.5v-4.8h1.5v0.4h1.5v3.4h1.5v-1.0h1.5v-2.2h1.5v-6.5h1.5v8.4h1.5v-4.6h1.5v7.1h1.5v-5.2h1.5v-0.6h1.5v0.5h1.5v2.5h1.5v-2.4h1.5v7.5h1.5v0.0h1.5v-12.4h1.5v-0.0h1.5v7.3h1.5v-13.5h1.5v5.1h1.5v-8.1h1.5v8.2h1.5v-0.3h1.5v2.7h1.5v-2.6h1.5v-4.8h1.5v0.6h1.5v3.6h1.5v-3.6h1.5v6.7h1.5v2.8h1.5v-4.8h1.5v3.7h1.5v5.4h1.5v-0.7h1.5v-5.5h1.5v9.7h1.5v-10.8h1.5v11.7h1.5v-9.6h1.5v-3.4h1.5v1.9h1.5v5.0h1.5v-11.4h1.5v2.0h1.5v10.2h1.5v-2.6h1.5v-1.7h1.5v1.6h1.5v-2.6h1.5v3.8h1.5v-10.8h1.5v17.4h1.5v1.3h1.5v1.5h1.5v-0.0h1.5v-6.0h1.5v-2.7h1.5v1.7h1.5v3.0h1.5v-1.9h1.5v-12.3h1.5v4.8h1.5v-8.4h1.5v8.7h1.5v0.6h1.5v7.8h1.5v0.1h1.5v-4.1h1.5v-5.4h1.5v-5.7h1.5V742.7h-1.5v0.5h-1.5v-1.2h-1.5v6.5h-1.5v-3.1h-1.5v-2.1h-1.5v-4.4h-1.5v6.4h-1.5v-3.6h-1.5v5.8h-1.5v11.8h-1.5v-13.4h-1.5v4.4h-1.5v-8.0h-1.5v8.7h-1.5v-0.8h-1.5v-1.5h-1.5v5.9h-1.5v-6.7h-1.5v-2.7h-1.5v-3.4h-1.5v-1.0h-1.5v3.3h-1.5v0.5h-1.5v-4.3h-1.5v0.3h-1.5v0.9h-1.5v-5.1h-1.5v10.3h-1.5v-3.3h-1.5v-3.2h-1.5v-4.2h-1.5v12.0h-1.5v-6.2h-1.5v14.4h-1.5v-15.2h-1.5v8.6h-1.5v-2.6h-1.5v-2.7h-1.5v-5.0h-1.5v-3.3h-1.5v3.4h-1.5v-4.3h-1.5v7.6h-1.5v-9.2h-1.5v2.3h-1.5v1.5h-1.5v-2.4h-1.5v5.8h-1.5v-1.1h-1.5v-1.8h-1.5v5.2h-1.5v-7.7h-1.5v8.5h-1.5v-1.7h-1.5v-0.7h-1.5v11.5h-1.5v-3.8h-1.5v-2.9h-1.5v-3.5h-1.5v2.7h-1.5v2.5h-1.5v-5.7h-1.5v4.4h-1.5v-5.4h-1.5v5.4h-1.5v-0.9h-1.5v3.2h-1.5v3.1h-1.5v-11.2h-1.5v12.1h-1.5v-4.0h-1.5v0.2h-1.5v-4.3h-1.5v5.4h-1.5v-14.9h-1.5v16.6h-1.5v-7.6h-1.5v-2.4h-1.5v1.0h-1.5v-0.0h-1.5v0.0h-1.5v3.6h-1.5v-8.6h-1.5v0.6h-1.5v-2.1h-1.5v4.0h-1.5v-10.3h-1.5v9.4h-1.5v-1.7h-1.5v1.1h-1.5v-4.7h-1.5v-1.7h-1.5v2.9h-1.5v8.6h-1.5v-15.6h-1.5v14.3h-1.5v-3.1h-1.5v-1.9h-1.5v5.0h-1.5v-0.2h-1.5v-1.8h-1.5v4.3h-1.5v-9.9h-1.5v7.5h-1.5v-6.1h-1.5v7.2h-1.5v-7.0h-1.5v0.5h-1.5v-2.2h-1.5v1.1h-1.5v0.5h-1.5v-5.8h-1.5v-6.6h-1.5v3.2h-1.5v1.9h-1.5v-6.0h-1.5v11.3h-1.5v-3.4h-1.5v-3.2h-1.5v6.2h-1.5v-3.8h-1.5v4.0h-1.5v0.1h-1.5v4.6h-1.5v-6.8h-1.5v6.9h-1.5v-5.4h-1.5v3.7h-1.5v5.5h-1.5v-6.1h-1.5v-4.4h-1.5v3.7h-1.5v-2.3h-1.5v1.9h-1.5v-6.6h-1.5v9.9h-1.5v-3.5h-1.5v-0.5h-1.5v0.2h-1.5v1.6h-1.5v2.0h-1.5v-7.6h-1.5v-0.7h-1.5v8.3h-1.5v-3.2h-1.5v-4.5h-1.5v-2.9h-1.5v6.1h-1.5v3.6h-1.5v-1.5h-1.5v-2.9h-1.5v-1.5h-1.5v-3.6h-1.5v-0.8h-1.5v1.3h-1.5v-2.1h-1.5v6.1h-1.5v0.6h-1.5v-5.9h-1.5v-0.8h-1.5v1.9h-1.5v-0.0h-1.5v-2.1h-1.5v7.9h-1.5v-5.8h-1.5v-7.5h-1.5v9.5h-1.5v-1.9h-1.5v-0.3h-1.5v-0.6h-1.5v-1.6h-1.5v6.3h-1.5v-2.7h-1.5v-2.9h-1.5v1.0h-1.5v7.0h-1.5v-5.5h-1.5v3.3h-1.5v-1.8h-1.5v-1.9h-1.5v2.9h-1.5v0.0h-1.5v0.4h-1.5v7.2h-1.5v-17.7h-1.5v0.8h-1.5v9.2h-1.5v-7.9h-1.5v6.8h-1.5v-2.2h-1.5v12.2h-1.5v-7.3h-1.5v-0.5h-1.5v4.9h-1.5v-7.4h-1.5v0.6h-1.5v-5.5h-1.5v0.9h-1.5v0.2h-1.5v5.4h-1.5v-3.3h-1.5v-2.6h-1.5v2.1h-1.5v3.9h-1.5v-2.3h-1.5v-7.3h-1.5v10.4h-1.5v-3.9h-1.5v2.1h-1.5v0.2h-1.5v-3.9h-1.5v4.0h-1.5v4.3h-1.5v-7.9h-1.5v4.0h-1.5v-0.8h-1.5v7.0h-1.5v-10.8h-1.5v-4.5h-1.5v0.4h-1.5v10.2h-1.5v-2.0h-1.5v-2.8h-1.5v2.7h-1.5v-1.4h-1.5v6.3h-1.5v-6.5h-1.5v-6.5h-1.5v8.0h-1.5v-4.0h-1.5v-3.6h-1.5v7.5h-1.5v-7.3h-1.5v-1.6h-1.5v5.4h-1.5v4.7h-1.5v-2.7h-1.5v0.4h-1.5v-1.2h-1.5v3.0h-1.5v0.8h-1.5v-0.6h-1.5v-2.2h-1.5v-1.8h-1.5v-1.6h-1.5v1.8h-1.5v-6.2h-1.5v5.4h-1.5v-0.7h-1.5v2.9h-1.5v-6.6h-1.5v10.9h-1.5v-1.0h-1.5v-4.5h-1.5v-0.9h-1.5v-2.7h-1.5v10.1h-1.5v-2.9h-1.5v-3.5h-1.5v-2.4h-1.5v11.0h-1.5v-10.5h-1.5v4.7h-1.5v7.8h-1.5v1.1h-1.5v-5.2h-1.5v-9.2h-1.5v6.3h-1.5v2.4h-1.5v-3.2h-1.5v-6.0h-1.5v7.3h-1.5v-0.4h-1.5v-8.2h-1.5v4.6h-1.5v-3.5h-1.5v7.5h-1.5v-7.2h-1.5v5.8h-1.5v3.4h-1.5v-10.4h-1.5v6.8h-1.5v6.0h-1.5v-11.3h-1.5v-2.3h-1.5v2.7h-1.5v2.9h-1.5v6.3h-1.5v-3.9h-1.5v-1.8h-1.5v-1.7h-1.5v5.8h-1.5v-0.8h-1.5v-3.3h-1.5v-0.4h-1.5v-1.8h-1.5v-1.3h-1.5v5.3h-1.5v-7.0h-1.5v5.8h-1.5v-5.6h-1.5v8.2h-1.5v-6.4h-1.5v4.9h-1.5v-1.3h-1.5v-3.9h-1.5v6.6h-1.5v-7.5h-1.5v-5.1h-1.5v7.6h-1.5v5.0h-1.5v-7.0h-1.5v-0.3h-1.5v9.1h-1.5v-5.1h-1.5v1.2h-1.5v-1.8h-1.5v-5.7h-1.5v6.0h-1.5v-4.7h-1.5v2.5h-1.5v-3.9h-1.5v6.1h-1.5v-1.0h-1.5v7.1h-1.5v1.9h-1.5v-6.1h-1.5v-1.3h-1.5v-3.2h-1.5v2.8h-1.5v-5.5h-1.5v2.9h-1.5v-0.1h-1.5v-0.5h-1.5v-4.1h-1.5v0.4h-1.5v-0.1h-1.5v-2.9h-1.5v5.9h-1.5v3.4h-1.5v-4.6h-1.5v3.3h-1.5v-2.5h-1.5v1.8h-1.5v2.3h-1.5v-4.1h-1.5v0.8h-1.5v-3.7h-1.5v5.5h-1.5v-1.0h-1.5v0.4h-1.5v-0.9h-1.5v-2.9h-1.5v-2.7h-1.5v2.3h-1.5v-1.9h-1.5v0.0h-1.5v2.0h-1.5v1.8h-1.5v1.9h-1.5v-5.9h-1.5v5.3h-1.5v2.0h-1.5v-2.5h-1.5v0.2h-1.5v3.1h-1.5v-2.9h-1.5v-1.2h-1.5v-0.9h-1.5v2.1h-1.5v-2.8h-1.5v5.0h-1.5v-3.7h-1.5v-3.4h-1.5v0.0h-1.5v2.1h-1.5v-7.1h-1.5v3.7h-1.5v1.0h-1.5v0.3h-1.5v-1.6h-1.5v-1.0h-1.5v3.3h-1.5v5.3h-1.5v-8.6h-1.5v3.2h-1.5v7.6h-1.5v-2.0h-1.5v-0.9h-1.5v-5.3h-1.5v3.5h-1.5v5.1h-1.5v-3.7h-1.5v-4.7h-1.5v-1.3h-1.5v6.8h-1.5v-4.8h-1.5v3.1h-1.5v0.7h-1.5v2.0h-1.5v1.3h-1.5v1.9h-1.5v-5.2h-1.5v1.3h-1.5v-3.4h-1.5v1.2h-1.5v5.4h-1.5v-3.2h-1.5v-1.8h-1.5v1.6h-1.5v-1.0h-1.5v-0.2h-1.5v-3.7h-1.5v2.1h-1.5v-2.1h-1.5v7.5h-1.5v-4.6h-1.5v-4.6h-1.5v0.6h-1.5v3.8h-1.5v-5.0h-1.5v-1.8h-1.5v3.3h-1.5v0.1h-1.5v4.9h-1.5v-8.5h-1.5v-0.1h-1.5v9.6h-1.5v-7.9h-1.5v1.2h-1.5v-2.7h-1.5v1.4h-1.5v-0.9h-1.5v5.9h-1.5v4.4h-1.5v-13.7h-1.5v12.7h-1.5v-4.5h-1.5v-2.5h-1.5v1.5h-1.5v2.6h-1.5v-6.5h-1.5v4.7h-1.5v-6.0h-1.5v6.3h-1.5v-1.4h-1.5v-1.2h-1.5v4.2h-1.5v-4.5h-1.5v5.7h-1.5v0.2h-1.5v-4.7h-1.5v3.9h-1.5v1.1h-1.5v0.6h-1.5v0.4h-1.5v-6.0h-1.5v1.4h-1.5v5.4h-1.5v-5.9h-1.5v-3.2h-1.5v-0.9h-1.5v1.0h-1.5v2.8h-1.5v-3.0h-1.5v-1.7h-1.5v6.4h-1.5v-4.7h-1.5v1.0h-1.5v-2.9h-1.5v-0.2h-1.5v-0.5h-1.5v2.4h-1.5v8.8h-1.5v-5.8h-1.5v1.5h-1.5v-6.0h-1.5v1.6h-1.5v0.2h-1.5v-2.3h-1.5v1.9h-1.5v-5.1h-1.5v4.0h-1.5v-0.3h-1.5v5.0h-1.5v4.8h-1.5v-6.4h-1.5v-1.3h-1.5v-1.0h-1.5v4.9h-1.5v-8.1h-1.5v6.6h-1.5v-5.0h-1.5v4.3h-1.5v-2.7h-1.5v-3.3h-1.5v8.1h-1.5v-1.2h-1.5v-6.7h-1.5v5.9h-1.5v1.0h-1.5v-2.0h-1.5v1.9h-1.5v-1.2h-1.5v-0.5h-1.5v1.0h-1.5v-1.7h-1.5v-0.7h-1.5v-0.5h-1.5v1.0h-1.5v-5.0h-1.5v-0.3h-1.5v-4.5h-1.5v5.7h-1.5v-8.7h-1.5v2.6h-1.5v0.1h-1.5v1.6h-1.5v0.8h-1.5v-3.2h-1.5v5.4h-1.5v1.8h-1.5v-5.8h-1.5v0.7h-1.5v-2.5h-1.5v8.1h-1.5v-7.4h-1.5v1.2h-1.5v1.8h-1.5v2.1h-1.5v-3.5h-1.5v3.0h-1.5v-1.3h-1.5v5.9h-1.5v-5.8h-1.5v4.4h-1.5v0.0h-1.5v-1.4h-1.5v1.7h-1.5v-0.1h-1.5v1.8h-1.5v3.1h-1.5v-5.0h-1.5v-3.0h-1.5v4.9h-1.5v-7.3h-1.5v-0.6h-1.5v0.4h-1.5v-1.0h-1.5v0.0h-1.5v-1.9h-1.5v-0.4h-1.5v-1.0h-1.5v1.2h-1.5v-3.9h-1.5v1.6h-1.5v1.1h-1.5v-5.7h-1.5v5.9h-1.5v4.7h-1.5v-4.2h-1.5v1.5h-1.5v6.3h-1.5v-5.8h-1.5v1.7h-1.5v-3.5h-1.5v2.2h-1.5v-7.7h-1.5v3.2h-1.5v0.9h-1.5v-5.4h-1.5v-1.3h-1.5v2.7h-1.5v-0.8h-1.5v1.5h-1.5v-2.1h-1.5v-3.9h-1.5v1.0h-1.5v-3.0h-1.5v-3.0h-1.5v2.9h-1.5v0.2h-1.5v-7.2h-1.5v4.1h-1.5v3.5h-1.5v-4.9h-1.5v3.7h-1.5v5.5h-1.5v-5.6h-1.5v1.0h-1.5v0.2h-1.5v-2.1h-1.5v4.3h-1.5v-0.4h-1.5v0.7h-1.5v0.5h-1.5v3.5h-1.5v-1.4h-1.5v6.3h-1.5v1.2h-1.5v-1.1h-1.5v-0.7h-1.5v-6.9h-1.5v0.7h-1.5v-4.7h-1.5v3.7h-1.5v-0.4h-1.5v3.3h-1.5v-2.7h-1.5v4.4h-1.5v-8.1h-1.5v3.0h-1.5v-3.4h-1.5v7.7h-1.5v-5.7h-1.5v6.1h-1.5v-5.5h-1.5v-4.3h-1.5v4.8h-1.5v0.5h-1.5v-4.3h-1.5v0.5h-1.5v-2.5h-1.5v-6.0h-1.5v6.8h-1.5v-5.7h-1.5v-0.7h-1.5v5.4h-1.5v1.3h-1.5v2.1h-1.5v-12.8h-1.5v-1.9h-1.5v0.1h-1.5v-8.2h-1.5v4.1h-1.5v-1.7h-1.5v-1.8h-1.5v-15.6h-1.5Z" fill="#3aa6c8" stroke="#3aa6c8" stroke-width="5.0" stroke-linejoin="round"/>
<path d="M158.0,665.4V624.8h1.5v0.6h1.5v1.5h1.5v10.1h1.5v7.4h1.5v-3.7h1.5v12.1h1.5v-8.7h1.5v10.0h1.5v-7.8h1.5v11.0h1.5v0.2h1.5v-3.2h1.5v6.8h1.5v0.6h1.5v1.2h1.5v2.2h1.5v-8.6h1.5v8.1h1.5v-0.7h1.5v-6.2h1.5v7.1h1.5v-0.3h1.5v4.6h1.5v1.3h1.5v-15.1h1.5v14.5h1.5v-8.2h1.5v6.9h1.5v-4.9h1.5v2.8h1.5v-3.9h1.5v2.4h1.5v-5.5h1.5v-0.1h1.5v3.4h1.5v2.2h1.5v-3.5h1.5v-1.2h1.5v9.9h1.5v-16.5h1.5v3.3h1.5v2.5h1.5v1.8h1.5v-5.1h1.5v1.9h1.5v13.1h1.5v1.7h1.5v-5.2h1.5v0.2h1.5v-4.4h1.5v6.5h1.5v3.3h1.5v0.3h1.5v-8.9h1.5v9.4h1.5v-7.9h1.5v5.8h1.5v1.1h1.5v1.1h1.5v1.6h1.5v-6.7h1.5v-4.2h1.5v5.3h1.5v4.2h1.5v-2.0h1.5v-5.5h1.5v12.2h1.5v-4.9h1.5v9.3h1.5v-10.0h1.5v3.2h1.5v-1.6h1.5v4.3h1.5v-2.6h1.5v-3.2h1.5v-4.8h1.5v11.1h1.5v-3.6h1.5v-6.1h1.5v3.7h1.5v-1.3h1.5v-1.5h1.5v3.7h1.5v-2.2h1.5v2.4h1.5v4.3h1.5v-0.4h1.5v8.4h1.5v-2.6h1.5v0.9h1.5v-0.3h1.5v-2.3h1.5v-5.1h1.5v9.6h1.5v-12.2h1.5v6.5h1.5v1.1h1.5v-1.5h1.5v0.0h1.5v3.2h1.5v-1.2h1.5v0.6h1.5v-4.0h1.5v0.6h1.5v2.7h1.5v-0.2h1.5v-3.3h1.5v1.2h1.5v-1.2h1.5v7.5h1.5v-7.1h1.5v3.5h1.5v0.4h1.5v-5.0h1.5v-0.5h1.5v0.3h1.5v3.6h1.5v1.0h1.5v-0.7h1.5v3.4h1.5v0.2h1.5v-6.3h1.5v2.9h1.5v5.9h1.5v-2.1h1.5v-1.7h1.5v2.7h1.5v-4.1h1.5v-1.8h1.5v2.9h1.5v3.1h1.5v0.7h1.5v4.5h1.5v-4.8h1.5v-6.9h1.5v1.7h1.5v3.2h1.5v-0.8h1.5v-3.1h1.5v0.0h1.5v0.1h1.5v4.6h1.5v0.0h1.5v5.8h1.5v-1.5h1.5v0.2h1.5v-3.7h1.5v0.1h1.5v-1.2h1.5v-1.2h1.5v0.3h1.5v-5.8h1.5v0.9h1.5v8.2h1.5v-4.1h1.5v2.8h1.5v0.1h1.5v-1.0h1.5v3.4h1.5v-5.0h1.5v0.2h1.5v1.1h1.5v-8.5h1.5v5.8h1.5v2.7h1.5v-2.9h1.5v-0.5h1.5v-2.2h1.5v5.3h1.5v1.6h1.5v-2.5h1.5v-4.9h1.5v7.9h1.5v-2.3h1.5v3.8h1.5v1.1h1.5v-4.9h1.5v4.1h1.5v-2.0h1.5v3.1h1.5v-0.5h1.5v-0.8h1.5v-7.2h1.5v4.0h1.5v-7.2h1.5v6.4h1.5v-0.6h1.5v-6.5h1.5v13.8h1.5v-9.6h1.5v-3.0h1.5v5.1h1.5v-0.9h1.5v-3.1h1.5v7.7h1.5v1.4h1.5v0.5h1.5v-0.5h1.5v2.4h1.5v-7.9h1.5v-2.9h1.5v8.7h1.5v-4.1h1.5v-2.5h1.5v4.9h1.5v-3.8h1.5v-0.6h1.5v2.0h1.5v-0.1h1.5v-7.3h1.5v8.5h1.5v3.7h1.5v0.4h1.5v-2.9h1.5v-2.2h1.5v5.9h1.5v-0.6h1.5v-1.7h1.5v-2.8h1.5v2.9h1.5v-7.1h1.5v7.7h1.5v0.1h1.5v5.0h1.5v-1.6h1.5v-5.9h1.5v7.0h1.5v0.1h1.5v0.0h1.5v-7.1h1.5v4.9h1.5v-2.4h1.5v-5.3h1.5v2.7h1.5v-0.1h1.5v-5.4h1.5v-1.2h1.5v4.6h1.5v-0.5h1.5v1.6h1.5v0.7h1.5v-0.3h1.5v-3.1h1.5v4.9h1.5v-4.3h1.5v0.8h1.5v1.9h1.5v-0.4h1.5v-7.3h1.5v1.4h1.5v9.1h1.5v-9.2h1.5v1.3h1.5v4.6h1.5v-2.3h1.5v-2.1h1.5v1.4h1.5v2.8h1.5v-6.6h1.5v9.3h1.5v-3.1h1.5v-1.2h1.5v4.8h1.5v0.2h1.5v1.2h1.5v1.7h1.5v-2.4h1.5v-1.5h1.5v4.4h1.5v-0.6h1.5v2.5h1.5v-1.4h1.5v-4.2h1.5v-0.3h1.5v-2.1h1.5v3.9h1.5v-2.7h1.5v0.7h1.5v4.6h1.5v-11.1h1.5v2.7h1.5v7.3h1.5v-3.6h1.5v-4.4h1.5v-0.5h1.5v-3.1h1.5v3.5h1.5v-3.0h1.5v1.6h1.5v2.1h1.5v-3.9h1.5v4.3h1.5v5.7h1.5v-9.1h1.5v12.2h1.5v-2.2h1.5v6.0h1.5v-0.7h1.5v-2.3h1.5v0.4h1.5v-6.3h1.5v0.9h1.5v2.7h1.5v-5.8h1.5v1.4h1.5v6.2h1.5v1.2h1.5v0.1h1.5v-6.7h1.5v1.9h1.5v-2.9h1.5v2.9h1.5v5.8h1.5v-6.7h1.5v-0.2h1.5v1.8h1.5v5.5h1.5v0.2h1.5v1.9h1.5v-2.8h1.5v-1.7h1.5v4.1h1.5v-3.6h1.5v3.4h1.5v-2.2h1.5v-5.0h1.5v3.3h1.5v4.5h1.5v-4.3h1.5v-1.2h1.5v0.8h1.5v2.0h1.5v1.7h1.5v-4.3h1.5v10.3h1.5v-7.2h1.5v0.2h1.5v-5.1h1.5v2.3h1.5v1.6h1.5v-4.6h1.5v-5.9h1.5v2.7h1.5v8.0h1.5v-8.7h1.5v5.6h1.5v-4.7h1.5v8.3h1.5v2.6h1.5v-5.0h1.5v1.3h1.5v-0.6h1.5v-1.9h1.5v-3.8h1.5v8.4h1.5v-3.7h1.5v-1.1h1.5v1.4h1.5v3.1h1.5v-2.6h1.5v-2.4h1.5v0.8h1.5v-0.3h1.5v-0.7h1.5v3.3h1.5v-0.2h1.5v1.6h1.5v-0.7h1.5v4.5h1.5v-0.7h1.5v-2.5h1.5v-6.6h1.5v3.0h1.5v-1.2h1.5v-2.1h1.5v1.9h1.5v-8.6h1.5v6.9h1.5v-6.9h1.5v7.5h1.5v-4.2h1.5v-2.9h1.5v2.7h1.5v7.6h1.5v-4.2h1.5v3.6h1.5v3.8h1.5v-0.6h1.5v1.0h1.5v-2.3h1.5v-0.1h1.5v2.6h1.5v-2.7h1.5v-0.0h1.5v5.1h1.5v-4.1h1.5v-0.9h1.5v2.2h1.5v-4.7h1.5v-2.2h1.5v-1.4h1.5v4.9h1.5v-5.9h1.5v3.4h1.5v-1.7h1.5v2.4h1.5v0.1h1.5v2.1h1.5v-2.6h1.5v2.4h1.5v1.3h1.5v-3.0h1.5v-1.6h1.5v6.9h1.5v-2.7h1.5v5.1h1.5v-3.0h1.5v-0.4h1.5v3.7h1.5v-15.4h1.5v12.5h1.5v-4.1h1.5v1.0h1.5v2.7h1.5v-8.6h1.5v8.3h1.5v0.7h1.5v-3.7h1.5v-2.0h1.5v3.5h1.5v-5.4h1.5v3.0h1.5v-2.0h1.5v3.2h1.5v3.8h1.5v0.3h1.5v-0.1h1.5v-1.5h1.5v0.3h1.5v4.5h1.5v-6.1h1.5v-2.6h1.5v4.0h1.5v-0.8h1.5v-2.3h1.5v-2.6h1.5v-1.0h1.5v3.4h1.5v0.2h1.5v3.7h1.5v-1.7h1.5v0.3h1.5v0.6h1.5v4.3h1.5v-5.9h1.5v0.5h1.5v1.6h1.5v-10.0h1.5v5.8h1.5v4.6h1.5v-5.4h1.5v3.3h1.5v-2.4h1.5v1.6h1.5v-2.5h1.5v-0.1h1.5v-4.1h1.5v2.0h1.5v2.4h1.5v-1.3h1.5v0.3h1.5v4.1h1.5v-1.9h1.5v-8.1h1.5v9.0h1.5v-1.3h1.5v-0.1h1.5v0.5h1.5v-3.6h1.5v-0.3h1.5v-1.1h1.5v1.1h1.5v1.6h1.5v-1.1h1.5v2.3h1.5v-0.2h1.5v1.8h1.5v3.0h1.5v-7.2h1.5v5.4h1.5v-1.5h1.5v-3.1h1.5v1.6h1.5v4.0h1.5v-3.4h1.5v-1.6h1.5v4.7h1.5v-1.5h1.5v0.1h1.5v-0.3h1.5v3.5h1.5v-3.4h1.5v3.8h1.5v0.1h1.5v-1.1h1.5v-3.3h1.5v4.3h1.5v-3.9h1.5v2.5h1.5v-4.1h1.5v2.3h1.5v0.5h1.5v-0.2h1.5v-1.5h1.5v0.1h1.5v0.1h1.5v-4.2h1.5v-1.9h1.5v0.1h1.5v3.2h1.5v-0.6h1.5v-5.9h1.5v3.7h1.5v5.1h1.5v0.0h1.5v-3.1h1.5v4.0h1.5v-2.6h1.5v-0.1h1.5v1.0h1.5v-1.6h1.5v-0.2h1.5v-0.1h1.5v-5.6h1.5v4.5h1.5v-0.9h1.5v2.5h1.5v4.2h1.5v-1.9h1.5v-0.4h1.5v2.8h1.5v-3.3h1.5v-1.5h1.5v2.4h1.5v-0.6h1.5v-0.7h1.5v0.9h1.5v3.2h1.5v-4.8h1.5v5.1h1.5v1.4h1.5v-1.8h1.5v1.1h1.5v-2.1h1.5v0.4h1.5v-4.0h1.5v7.9h1.5v-9.6h1.5v3.4h1.5v1.0h1.5v-1.2h1.5v-0.6h1.5v0.7h1.5v-5.9h1.5v4.1h1.5v-6.3h1.5v-0.0h1.5v3.4h1.5v2.8h1.5v0.5h1.5v1.0h1.5v-1.5h1.5v4.3h1.5v-0.0h1.5v2.7h1.5v-7.0h1.5v2.6h1.5v2.2h1.5v-5.5h1.5v5.0h1.5v-6.4h1.5v1.2h1.5v0.0h1.5v-5.4h1.5v-0.4h1.5v6.0h1.5v-3.4h1.5v-2.7h1.5v5.4h1.5v2.8h1.5v-0.5h1.5v0.9h1.5v-1.6h1.5v-1.1h1.5v5.9h1.5v-3.1h1.5v-0.2h1.5v3.9h1.5v4.3h1.5v-9.6h1.5v1.3h1.5v1.7h1.5v-1.3h1.5v-0.9h1.5v-3.2h1.5v-5.1h1.5v4.4h1.5v1.7h1.5v4.7h1.5v-0.0h1.5v1.8h1.5v-1.5h1.5v-4.6h1.5v5.4h1.5v1.1h1.5v2.5h1.5v-4.9h1.5v-1.7h1.5v-1.8h1.5v7.2h1.5v2.9h1.5v-10.3h1.5v1.8h1.5v1.1h1.5v-2.2h1.5v0.8h1.5v6.7h1.5v-6.7h1.5v-3.9h1.5v4.1h1.5v-1.3h1.5v2.2h1.5v0.7h1.5v-5.7h1.5v-0.4h1.5v4.7h1.5v-0.0h1.5v4.6h1.5V716.1h-1.5v-4.8h-1.5v-4.1h-1.5v3.8h-1.5v1.6h-1.5v-2.8h-1.5v-0.5h-1.5v0.7h-1.5v-0.5h-1.5v3.5h-1.5v-1.8h-1.5v2.9h-1.5v-4.9h-1.5v-1.4h-1.5v2.0h-1.5v-2.4h-1.5v-0.1h-1.5v6.5h-1.5v-4.2h-1.5v2.6h-1.5v0.7h-1.5v-2.4h-1.5v-0.8h-1.5v0.9h-1.5v-1.5h-1.5v3.0h-1.5v-4.5h-1.5v7.1h-1.5v-5.8h-1.5v-1.0h-1.5v-3.9h-1.5v2.8h-1.5v-1.0h-1.5v1.0h-1.5v2.3h-1.5v-3.9h-1.5v1.8h-1.5v1.8h-1.5v1.3h-1.5v0.5h-1.5v1.0h-1.5v-4.5h-1.5v0.5h-1.5v0.3h-1.5v-1.4h-1.5v3.3h-1.5v-2.8h-1.5v2.4h-1.5v-0.5h-1.5v-5.7h-1.5v0.8h-1.5v3.8h-1.5v-0.7h-1.5v-3.1h-1.5v0.0h-1.5v-4.0h-1.5v6.2h-1.5v-2.6h-1.5v7.9h-1.5v-5.6h-1.5v2.2h-1.5v-2.8h-1.5v2.5h-1.5v4.4h-1.5v-2.7h-1.5v0.2h-1.5v-5.3h-1.5v2.5h-1.5v1.5h-1.5v-2.5h-1.5v-1.9h-1.5v-2.0h-1.5v-3.1h-1.5v8.8h-1.5v-5.4h-1.5v2.2h-1.5v-1.4h-1.5v2.0h-1.5v1.0h-1.5v0.5h-1.5v2.2h-1.5v-1.1h-1.5v-0.6h-1.5v-0.4h-1.5v-1.5h-1.5v3.2h-1.5v3.6h-1.5v-0.3h-1.5v-4.0h-1.5v1.0h-1.5v-2.0h-1.5v1.5h-1.5v-2.2h-1.5v-2.4h-1.5v2.6h-1.5v0.4h-1.5v1.7h-1.5v-0.2h-1.5v3.7h-1.5v-7.7h-1.5v7.3h-1.5v-6.5h-1.5v-1.3h-1.5v-2.8h-1.5v0.6h-1.5v4.0h-1.5v-4.8h-1.5v10.5h-1.5v-3.9h-1.5v-2.7h-1.5v0.9h-1.5v-0.3h-1.5v-2.7h-1.5v3.8h-1.5v0.4h-1.5v-0.5h-1.5v-3.5h-1.5v-2.6h-1.5v3.9h-1.5v-2.1h-1.5v-0.9h-1.5v7.1h-1.5v-3.0h-1.5v2.7h-1.5v1.6h-1.5v-0.1h-1.5v3.4h-1.5v-5.8h-1.5v-0.5h-1.5v1.5h-1.5v4.9h-1.5v-1.6h-1.5v0.8h-1.5v-1.6h-1.5v1.3h-1.5v0.1h-1.5v-6.0h-1.5v2.4h-1.5v-2.7h-1.5v2.3h-1.5v-2.6h-1.5v5.6h-1.5v0.9h-1.5v-5.7h-1.5v2.8h-1.5v-1.2h-1.5v-1.6h-1.5v2.9h-1.5v-0.6h-1.5v-0.5h-1.5v-2.3h-1.5v5.8h-1.5v1.0h-1.5v-7.6h-1.5v-3.3h-1.5v0.0h-1.5v0.5h-1.5v2.0h-1.5v4.6h-1.5v-4.6h-1.5v1.8h-1.5v-1.5h-1.5v1.4h-1.5v-4.1h-1.5v-0.3h-1.5v2.5h-1.5v2.1h-1.5v-4.6h-1.5v-0.0h-1.5v1.2h-1.5v-0.0h-1.5v-1.3h-1.5v6.1h-1.5v-1.0h-1.5v-1.5h-1.5v0.8h-1.5v2.9h-1.5v2.0h-1.5v-1.3h-1.5v1.2h-1.5v-0.6h-1.5v-0.9h-1.5v-0.6h-1.5v5.8h-1.5v-2.6h-1.5v-3.2h-1.5v1.4h-1.5v4.1h-1.5v-6.4h-1.5v-2.2h-1.5v5.7h-1.5v-2.0h-1.5v4.7h-1.5v-7.2h-1.5v7.0h-1.5v-3.3h-1.5v3.6h-1.5v-1.5h-1.5v0.9h-1.5v2.6h-1.5v0.0h-1.5v-1.0h-1.5v1.1h-1.5v-5.2h-1.5v-0.3h-1.5v-2.8h-1.5v1.0h-1.5v-5.5h-1.5v2.4h-1.5v-0.0h-1.5v0.1h-1.5v4.5h-1.5v2.9h-1.5v-6.7h-1.5v4.5h-1.5v-3.2h-1.5v-0.9h-1.5v4.3h-1.5v-2.3h-1.5v0.2h-1.5v-0.4h-1.5v2.7h-1.5v2.5h-1.5v-1.4h-1.5v-1.1h-1.5v1.5h-1.5v-1.2h-1.5v0.8h-1.5v-4.2h-1.5v-2.4h-1.5v5.6h-1.5v1.7h-1.5v-3.5h-1.5v-7.7h-1.5v2.9h-1.5v2.4h-1.5v1.1h-1.5v-1.3h-1.5v3.5h-1.5v-2.0h-1.5v0.2h-1.5v1.3h-1.5v1.4h-1.5v4.0h-1.5v-5.5h-1.5v3.4h-1.5v1.5h-1.5v-3.5h-1.5v8.0h-1.5v-10.0h-1.5v1.7h-1.5v4.8h-1.5v-3.3h-1.5v1.1h-1.5v-5.9h-1.5v-1.3h-1.5v-1.6h-1.5v0.5h-1.5v1.7h-1.5v-1.7h-1.5v-1.5h-1.5v0.8h-1.5v-1.4h-1.5v-0.9h-1.5v5.2h-1.5v3.3h-1.5v5.1h-1.5v3.6h-1.5v-0.5h-1.5v-3.5h-1.5v-0.4h-1.5v-3.4h-1.5v-4.7h-1.5v8.0h-1.5v-3.4h-1.5v0.4h-1.5v2.2h-1.5v-4.1h-1.5v7.1h-1.5v-4.0h-1.5v4.4h-1.5v-0.3h-1.5v-0.1h-1.5v-3.8h-1.5v-1.9h-1.5v1.9h-1.5v1.5h-1.5v1.4h-1.5v-4.9h-1.5v7.2h-1.5v-2.3h-1.5v-3.7h-1.5v-1.1h-1.5v1.5h-1.5v-0.2h-1.5v-6.3h-1.5v3.2h-1.5v-3.7h-1.5v3.1h-1.5v1.3h-1.5v4.2h-1.5v3.0h-1.5v-1.4h-1.5v1.5h-1.5v-2.3h-1.5v-1.5h-1.5v4.5h-1.5v0.1h-1.5v0.6h-1.5v-4.2h-1.5v-5.6h-1.5v0.2h-1.5v3.2h-1.5v2.0h-1.5v-0.8h-1.5v5.1h-1.5v-4.6h-1.5v0.1h-1.5v2.4h-1.5v4.4h-1.5v-4.6h-1.5v-2.6h-1.5v-5.5h-1.5v5.8h-1.5v-4.7h-1.5v4.0h-1.5v-2.7h-1.5v-8.0h-1.5v1.8h-1.5v12.0h-1.5v-4.5h-1.5v-0.3h-1.5v1.0h-1.5v1.9h-1.5v1.6h-1.5v-3.3h-1.5v8.0h-1.5v-7.0h-1.5v1.5h-1.5v4.6h-1.5v-5.7h-1.5v6.6h-1.5v-12.7h-1.5v-0.2h-1.5v-3.3h-1.5v2.7h-1.5v-4.8h-1.5v-9.2h-1.5v3.7h-1.5v0.7h-1.5v-0.8h-1.5v4.2h-1.5v9.1h-1.5v-5.8h-1.5v-2.6h-1.5v3.7h-1.5v2.4h-1.5v-1.2h-1.5v-0.9h-1.5v5.6h-1.5v-7.9h-1.5v1.7h-1.5v7.5h-1.5v-3.6h-1.5v-3.1h-1.5v3.1h-1.5v3.2h-1.5v-0.3h-1.5v-5.9h-1.5v2.7h-1.5v1.2h-1.5v-0.6h-1.5v-2.4h-1.5v0.1h-1.5v3.0h-1.5v0.3h-1.5v-2.4h-1.5v-1.8h-1.5v0.5h-1.5v-3.6h-1.5v-0.3h-1.5v-0.9h-1.5v-3.4h-1.5v6.4h-1.5v-7.6h-1.5v9.2h-1.5v-7.4h-1.5v9.9h-1.5v-10.2h-1.5v3.6h-1.5v2.2h-1.5v-3.3h-1.5v3.8h-1.5v-2.9h-1.5v6.5h-1.5v-6.5h-1.5v9.2h-1.5v-5.9h-1.5v4.0h-1.5v-8.0h-1.5v3.0h-1.5v-7.4h-1.5v1.4h-1.5v-0.5h-1.5v4.4h-1.5v-0.3h-1.5v12.0h-1.5v-1.7h-1.5v-3.5h-1.5v-3.4h-1.5v2.7h-1.5v1.5h-1.5v-2.5h-1.5v2.7h-1.5v-0.6h-1.5v-2.5h-1.5v-1.9h-1.5v11.2h-1.5v-9.7h-1.5v-2.3h-1.5v2.3h-1.5v2.3h-1.5v-1.7h-1.5v-5.5h-1.5v5.7h-1.5v4.3h-1.5v-0.8h-1.5v-6.3h-1.5v3.1h-1.5v-2.8h-1.5v3.8h-1.5v-9.0h-1.5v-0.8h-1.5v3.9h-1.5v-3.0h-1.5v11.6h-1.5v-3.3h-1.5v-0.8h-1.5v-0.5h-1.5v0.6h-1.5v-0.7h-1.5v-0.1h-1.5v-2.6h-1.5v0.8h-1.5v0.0h-1.5v2.8h-1.5v-3.7h-1.5v-4.1h-1.5v0.5h-1.5v4.0h-1.5v-7.5h-1.5v2.2h-1.5v2.4h-1.5v1.8h-1.5v-0.3h-1.5v-0.5h-1.5v3.3h-1.5v-1.5h-1.5v-1.3h-1.5v-1.2h-1.5v10.9h-1.5v-1.7h-1.5v-6.7h-1.5v-1.4h-1.5v-4.5h-1.5v7.4h-1.5v0.0h-1.5v-2.9h-1.5v-5.3h-1.5v3.9h-1.5v4.0h-1.5v-1.9h-1.5v-7.5h-1.5v1.2h-1.5v-0.3h-1.5v1.2h-1.5v9.0h-1.5v-2.8h-1.5v-7.1h-1.5v4.3h-1.5v-1.7h-1.5v2.4h-1.5v0.5h-1.5v4.3h-1.5v-5.5h-1.5v-2.9h-1.5v0.4h-1.5v2.9h-1.5v-3.9h-1.5v-2.4h-1.5v7.6h-1.5v-2.4h-1.5v5.2h-1.5v-3.0h-1.5v4.5h-1.5v-8.9h-1.5v4.0h-1.5v-3.3h-1.5v5.7h-1.5v-6.7h-1.5v1.8h-1.5v-6.9h-1.5v15.7h-1.5v-8.9h-1.5v-1.1h-1.5v10.2h-1.5v-7.6h-1.5v8.2h-1.5v-3.0h-1.5v-4.3h-1.5v-3.2h-1.5v-1.3h-1.5v3.0h-1.5v-8.2h-1.5v5.7h-1.5v4.0h-1.5v-3.2h-1.5v-1.5h-1.5v-0.1h-1.5v1.3h-1.5v-1.7h-1.5v3.0h-1.5v-2.9h-1.5v0.1h-1.5v-2.5h-1.5v4.9h-1.5v-4.7h-1.5v0.6h-1.5v2.9h-1.5v-3.4h-1.5v-2.7h-1.5v2.3h-1.5v5.6h-1.5v-7.3h-1.5v2.2h-1.5v0.4h-1.5v3.1h-1.5v0.4h-1.5v-2.1h-1.5v-2.5h-1.5v-1.3h-1.5v5.6h-1.5v-4.9h-1.5v0.2h-1.5v4.4h-1.5v0.8h-1.5v-1.8h-1.5v-0.4h-1.5v0.8h-1.5v1.0h-1.5v-0.6h-1.5v-5.3h-1.5v1.4h-1.5v-1.3h-1.5v-0.4h-1.5v-3.3h-1.5v-2.8h-1.5v1.2h-1.5v-1.2h-1.5v2.9h-1.5v1.6h-1.5v4.2h-1.5v-9.9h-1.5v2.2h-1.5v8.1h-1.5v3.3h-1.5v-6.2h-1.5v-2.9h-1.5v0.7h-1.5v6.9h-1.5v-7.8h-1.5v1.7h-1.5v1.7h-1.5v-1.1h-1.5v-2.4h-1.5v-4.7h-1.5v-3.2h-1.5v5.5h-1.5v6.5h-1.5v-3.3h-1.5v-1.4h-1.5v1.5h-1.5v-4.7h-1.5v3.4h-1.5v-1.4h-1.5v1.6h-1.5v0.8h-1.5v0.2h-1.5v-7.6h-1.5v3.7h-1.5v3.3h-1.5v2.5h-1.5v-4.6h-1.5v-8.2h-1.5v1.3h-1.5v-1.4h-1.5v2.0h-1.5v-2.8h-1.5v4.0h-1.5v0.1h-1.5v-4.5h-1.5v3.7h-1.5v2.7h-1.5v6.4h-1.5v-3.1h-1.5v-6.0h-1.5v-0.4h-1.5v4.6h-1.5v-4.7h-1.5v8.5h-1.5v-7.4h-1.5v9.0h-1.5v-2.7h-1.5v-1.2h-1.5v-2.9h-1.5v1.8h-1.5v-3.3h-1.5v-4.6h-1.5v8.1h-1.5v-3.0h-1.5v7.8h-1.5v-9.5h-1.5v-0.1h-1.5v6.8h-1.5v-0.9h-1.5v0.2h-1.5v-8.1h-1.5v3.0h-1.5v-4.7h-1.5v-4.7h-1.5v1.6h-1.5v-2.1h-1.5v-5.5h-1.5v-2.9h-1.5v0.7h-1.5v-5.4h-1.5v-4.2h-1.5v-1.9h-1.5v11.4h-1.5Z" fill="#75579c" stroke="#75579c" stroke-width="5.0" stroke-linejoin="round"/>
<path d="M158.0,582.5V525.6h1.5v8.5h1.5v12.3h1.5v-2.2h1.5v11.0h1.5v11.6h1.5v10.8h1.5v21.4h1.5v7.7h1.5v-23.4h1.5v13.8h1.5v1.0h1.5v16.4h1.5v-1.9h1.5v-4.4h1.5v7.8h1.5v7.8h1.5v-11.9h1.5v-5.6h1.5v9.9h1.5v-2.0h1.5v-3.3h1.5v6.6h1.5v-1.7h1.5v7.8h1.5v-5.7h1.5v4.0h1.5v8.4h1.5v-3.9h1.5v-2.9h1.5v-2.0h1.5v3.3h1.5v0.8h1.5v-7.1h1.5v-9.2h1.5v5.7h1.5v2.3h1.5v0.2h1.5v-9.3h1.5v2.2h1.5v6.5h1.5v-1.6h1.5v1.8h1.5v-2.9h1.5v5.5h1.5v3.8h1.5v-4.4h1.5v3.6h1.5v0.4h1.5v-0.6h1.5v11.3h1.5v-7.5h1.5v-3.0h1.5v4.0h1.5v-12.7h1.5v5.8h1.5v7.1h1.5v-1.0h1.5v-5.7h1.5v3.7h1.5v-12.4h1.5v3.9h1.5v-1.1h1.5v10.8h1.5v-6.3h1.5v8.6h1.5v2.3h1.5v6.1h1.5v-3.8h1.5v4.8h1.5v-7.6h1.5v12.7h1.5v-2.6h1.5v-3.7h1.5v-1.7h1.5v8.8h1.5v-4.4h1.5v-1.1h1.5v-0.4h1.5v5.8h1.5v0.6h1.5v-0.4h1.5v-5.5h1.5v1.3h1.5v-5.6h1.5v2.8h1.5v3.1h1.5v0.2h1.5v0.4h1.5v-1.9h1.5v-1.3h1.5v5.4h1.5v-2.3h1.5v-5.3h1.5v4.1h1.5v7.6h1.5v2.6h1.5v-4.6h1.5v-1.5h1.5v1.4h1.5v-0.4h1.5v0.3h1.5v-1.4h1.5v-3.6h1.5v1.4h1.5v0.7h1.5v-1.0h1.5v0.1h1.5v3.5h1.5v1.8h1.5v-3.8h1.5v-3.7h1.5v5.5h1.5v-1.0h1.5v0.7h1.5v2.3h1.5v-0.3h1.5v2.5h1.5v-1.7h1.5v-1.8h1.5v4.3h1.5v-5.1h1.5v-3.3h1.5v4.3h1.5v-1.4h1.5v2.2h1.5v-3.1h1.5v4.8h1.5v-1.9h1.5v-1.9h1.5v-3.3h1.5v3.5h1.5v-0.8h1.5v-1.0h1.5v-0.5h1.5v3.4h1.5v-6.2h1.5v2.9h1.5v-2.9h1.5v0.3h1.5v2.5h1.5v-1.8h1.5v-0.6h1.5v1.8h1.5v2.3h1.5v0.3h1.5v-2.7h1.5v-3.3h1.5v2.5h1.5v0.3h1.5v3.4h1.5v-4.3h1.5v0.7h1.5v1.9h1.5v1.6h1.5v-2.2h1.5v0.7h1.5v1.4h1.5v1.6h1.5v-4.9h1.5v4.9h1.5v-3.5h1.5v-0.7h1.5v4.4h1.5v-7.5h1.5v5.1h1.5v0.9h1.5v-7.3h1.5v9.4h1.5v-2.6h1.5v6.5h1.5v-8.1h1.5v5.0h1.5v-6.9h1.5v6.0h1.5v-3.9h1.5v1.1h1.5v-1.0h1.5v-3.9h1.5v0.1h1.5v0.8h1.5v4.7h1.5v-0.3h1.5v2.6h1.5v-0.1h1.5v2.5h1.5v-0.1h1.5v-1.8h1.5v-4.4h1.5v-2.0h1.5v6.5h1.5v4.0h1.5v-2.4h1.5v-1.3h1.5v-0.1h1.5v3.6h1.5v-4.6h1.5v0.6h1.5v2.2h1.5v-1.9h1.5v1.0h1.5v1.4h1.5v-1.5h1.5v2.6h1.5v-4.2h1.5v4.4h1.5v-7.4h1.5v6.4h1.5v-1.4h1.5v-0.3h1.5v-0.1h1.5v-0.3h1.5v0.8h1.5v1.4h1.5v1.3h1.5v-2.8h1.5v3.8h1.5v-2.9h1.5v1.6h1.5v-1.2h1.5v0.1h1.5v-1.0h1.5v1.1h1.5v-4.0h1.5v0.9h1.5v-2.2h1.5v1.6h1.5v0.3h1.5v2.0h1.5v-1.5h1.5v5.0h1.5v-1.4h1.5v0.7h1.5v-4.4h1.5v2.8h1.5v0.6h1.5v0.1h1.5v-5.4h1.5v2.4h1.5v5.4h1.5v-0.8h1.5v-0.9h1.5v-0.5h1.5v-6.1h1.5v5.3h1.5v1.2h1.5v-11.0h1.5v7.4h1.5v6.9h1.5v-8.4h1.5v7.8h1.5v-8.7h1.5v-3.3h1.5v2.5h1.5v3.8h1.5v-8.9h1.5v4.3h1.5v4.2h1.5v-2.2h1.5v9.6h1.5v0.5h1.5v-6.6h1.5v4.0h1.5v-2.5h1.5v-9.3h1.5v2.6h1.5v-3.2h1.5v2.0h1.5v-0.4h1.5v10.6h1.5v-3.6h1.5v10.2h1.5v2.5h1.5v-15.5h1.5v5.3h1.5v4.3h1.5v-11.3h1.5v5.6h1.5v-15.5h1.5v8.6h1.5v-6.1h1.5v14.9h1.5v-4.3h1.5v-8.0h1.5v10.6h1.5v-1.5h1.5v3.4h1.5v-4.7h1.5v13.3h1.5v-3.3h1.5v-9.6h1.5v-4.0h1.5v9.7h1.5v8.0h1.5v-0.2h1.5v-8.1h1.5v3.4h1.5v12.7h1.5v-12.0h1.5v3.7h1.5v4.9h1.5v-10.4h1.5v11.8h1.5v-23.5h1.5v10.8h1.5v-6.2h1.5v-9.5h1.5v6.3h1.5v-3.4h1.5v11.8h1.5v-2.1h1.5v17.7h1.5v-2.2h1.5v-2.5h1.5v-4.9h1.5v7.0h1.5v4.4h1.5v10.7h1.5v-10.6h1.5v-0.4h1.5v-10.4h1.5v14.8h1.5v-14.3h1.5v-6.9h1.5v4.9h1.5v10.2h1.5v-8.7h1.5v-3.6h1.5v1.6h1.5v-1.5h1.5v-12.9h1.5v14.8h1.5v7.1h1.5v2.1h1.5v11.1h1.5v-10.6h1.5v-7.1h1.5v12.3h1.5v-5.2h1.5v0.2h1.5v-11.5h1.5v-1.5h1.5v-1.5h1.5v-2.8h1.5v23.7h1.5v-10.3h1.5v2.9h1.5v-9.0h1.5v7.8h1.5v-4.8h1.5v3.9h1.5v-2.4h1.5v3.8h1.5v-2.3h1.5v-3.0h1.5v10.1h1.5v1.3h1.5v-2.6h1.5v-12.6h1.5v8.8h1.5v-10.1h1.5v2.6h1.5v-4.2h1.5v6.0h1.5v-1.5h1.5v-1.4h1.5v13.3h1.5v-15.2h1.5v12.9h1.5v-17.9h1.5v13.1h1.5v3.2h1.5v0.9h1.5v-6.8h1.5v15.5h1.5v-18.2h1.5v-11.2h1.5v16.3h1.5v-5.4h1.5v-2.0h1.5v-15.5h1.5v3.8h1.5v6.9h1.5v7.3h1.5v-2.2h1.5v10.1h1.5v5.7h1.5v-18.3h1.5v14.4h1.5v-21.7h1.5v-6.4h1.5v16.0h1.5v-5.0h1.5v-0.8h1.5v7.8h1.5v-17.5h1.5v15.8h1.5v0.1h1.5v-12.9h1.5v5.8h1.5v-6.8h1.5v2.3h1.5v13.9h1.5v-13.8h1.5v12.4h1.5v-1.9h1.5v-8.7h1.5v8.5h1.5v0.9h1.5v7.5h1.5v-8.9h1.5v11.0h1.5v-8.6h1.5v-8.0h1.5v17.7h1.5v-3.6h1.5v6.3h1.5v-0.1h1.5v-16.4h1.5v28.1h1.5v-16.3h1.5v8.9h1.5v-1.3h1.5v-4.6h1.5v-3.3h1.5v0.6h1.5v-8.6h1.5v12.7h1.5v9.0h1.5v-8.5h1.5v-0.9h1.5v-3.0h1.5v5.0h1.5v-6.7h1.5v-4.0h1.5v0.2h1.5v3.5h1.5v-0.0h1.5v-8.1h1.5v11.5h1.5v-12.0h1.5v3.8h1.5v-2.1h1.5v-0.8h1.5v4.5h1.5v0.1h1.5v-4.5h1.5v2.9h1.5v-15.0h1.5v3.7h1.5v-3.6h1.5v10.1h1.5v-18.4h1.5v20.1h1.5v0.2h1.5v-1.6h1.5v-12.6h1.5v13.6h1.5v-8.3h1.5v-8.2h1.5v2.6h1.5v0.8h1.5v10.3h1.5v-5.3h1.5v4.3h1.5v9.5h1.5v-11.7h1.5v13.8h1.5v-6.3h1.5v0.9h1.5v11.0h1.5v11.5h1.5v-7.0h1.5v-4.3h1.5v1.5h1.5v-13.0h1.5v7.9h1.5v1.3h1.5v-11.7h1.5v-8.3h1.5v12.0h1.5v-6.7h1.5v-2.2h1.5v10.8h1.5v-15.0h1.5v10.7h1.5v-0.9h1.5v5.8h1.5v-10.4h1.5v-6.9h1.5v14.0h1.5v-15.1h1.5v0.3h1.5v-1.4h1.5v2.9h1.5v-0.3h1.5v9.0h1.5v-5.5h1.5v18.7h1.5v-16.7h1.5v9.8h1.5v-11.3h1.5v4.4h1.5v15.6h1.5v-31.2h1.5v16.1h1.5v-12.8h1.5v9.1h1.5v7.7h1.5v-18.2h1.5v7.8h1.5v-9.5h1.5v6.1h1.5v6.8h1.5v-5.9h1.5v-6.1h1.5v23.4h1.5v-12.9h1.5v6.3h1.5v-7.1h1.5v11.6h1.5v-9.6h1.5v11.1h1.5v-7.7h1.5v-5.0h1.5v17.1h1.5v-10.2h1.5v-0.3h1.5v-5.2h1.5v12.5h1.5v-6.6h1.5v-1.0h1.5v-1.7h1.5v4.9h1.5v-5.5h1.5v3.7h1.5v0.8h1.5v-4.7h1.5v2.7h1.5v-0.0h1.5v9.2h1.5v19.3h1.5v-21.8h1.5v6.0h1.5v-3.6h1.5v14.1h1.5v-9.1h1.5v2.5h1.5v-4.2h1.5v7.8h1.5v-6.3h1.5v-2.0h1.5v-2.1h1.5v-6.4h1.5v0.9h1.5v-11.6h1.5v9.1h1.5v-1.7h1.5v-12.7h1.5v4.5h1.5v12.3h1.5v-1.4h1.5v-3.0h1.5v-6.5h1.5v4.0h1.5v-10.2h1.5v7.2h1.5v5.9h1.5v3.4h1.5v3.8h1.5v-2.0h1.5v0.4h1.5v2.3h1.5v-14.3h1.5v-5.8h1.5v0.2h1.5v3.3h1.5v1.7h1.5v1.5h1.5v-4.3h1.5v12.5h1.5v-6.8h1.5v5.3h1.5v4.9h1.5v-2.9h1.5v4.3h1.5v-0.5h1.5v2.1h1.5v-13.3h1.5v11.2h1.5v-8.8h1.5v7.2h1.5v-1.9h1.5v14.4h1.5v-17.0h1.5v-0.2h1.5v0.7h1.5v3.3h1.5v-6.3h1.5v-6.9h1.5v13.0h1.5v-7.4h1.5v3.8h1.5v-4.4h1.5v0.9h1.5v-1.5h1.5v-9.8h1.5v20.1h1.5v10.1h1.5v-21.2h1.5v4.9h1.5v-1.4h1.5v-0.4h1.5v2.3h1.5v-5.6h1.5v-3.5h1.5v2.0h1.5v-9.5h1.5v3.7h1.5v8.2h1.5v-3.8h1.5v-0.2h1.5v8.7h1.5v-10.1h1.5v6.8h1.5v6.7h1.5v2.6h1.5v-10.9h1.5v12.2h1.5v-1.6h1.5v9.2h1.5v-2.5h1.5v-8.1h1.5v-1.5h1.5v-0.7h1.5v19.2h1.5v-27.2h1.5v13.3h1.5v-6.8h1.5V705.3h-1.5v-5.8h-1.5v12.4h-1.5v-5.3h-1.5v-9.4h-1.5v11.0h-1.5v0.3h-1.5v-1.8h-1.5v-4.2h-1.5v-5.9h-1.5v-10.0h-1.5v3.7h-1.5v-3.6h-1.5v-3.4h-1.5v-5.9h-1.5v5.5h-1.5v-2.4h-1.5v2.6h-1.5v-14.5h-1.5v4.5h-1.5v2.2h-1.5v5.5h-1.5v6.8h-1.5v-5.4h-1.5v6.3h-1.5v-5.2h-1.5v9.6h-1.5v-5.1h-1.5v2.2h-1.5v-4.0h-1.5v15.9h-1.5v-15.7h-1.5v2.0h-1.5v-2.8h-1.5v1.5h-1.5v4.7h-1.5v-0.8h-1.5v0.1h-1.5v-4.8h-1.5v-3.4h-1.5v-0.3h-1.5v9.8h-1.5v7.6h-1.5v-4.2h-1.5v-8.4h-1.5v12.9h-1.5v-19.3h-1.5v7.3h-1.5v7.9h-1.5v8.4h-1.5v-11.5h-1.5v4.5h-1.5v0.5h-1.5v2.6h-1.5v-3.0h-1.5v1.3h-1.5v-19.3h-1.5v-1.1h-1.5v3.5h-1.5v11.1h-1.5v-13.4h-1.5v4.4h-1.5v-4.5h-1.5v6.0h-1.5v14.1h-1.5v-10.6h-1.5v14.0h-1.5v-17.5h-1.5v11.0h-1.5v-6.1h-1.5v-1.7h-1.5v-11.7h-1.5v8.7h-1.5v7.3h-1.5v-7.5h-1.5v-6.1h-1.5v3.9h-1.5v4.1h-1.5v-5.1h-1.5v3.1h-1.5v4.9h-1.5v10.0h-1.5v-21.4h-1.5v3.6h-1.5v2.3h-1.5v0.9h-1.5v4.5h-1.5v4.1h-1.5v5.9h-1.5v-0.9h-1.5v10.0h-1.5v5.4h-1.5v-0.0h-1.5v-9.2h-1.5v-5.5h-1.5v-0.6h-1.5v-0.3h-1.5v2.0h-1.5v2.7h-1.5v-4.8h-1.5v-9.6h-1.5v10.4h-1.5v-0.9h-1.5v-21.3h-1.5v8.0h-1.5v2.1h-1.5v4.3h-1.5v-5.3h-1.5v-3.8h-1.5v19.8h-1.5v-22.1h-1.5v8.0h-1.5v4.7h-1.5v-3.4h-1.5v3.7h-1.5v-1.2h-1.5v6.2h-1.5v-8.1h-1.5v3.9h-1.5v-15.8h-1.5v14.0h-1.5v4.5h-1.5v-3.9h-1.5v-16.7h-1.5v9.1h-1.5v-4.0h-1.5v1.8h-1.5v4.6h-1.5v5.1h-1.5v-18.0h-1.5v16.5h-1.5v-12.0h-1.5v5.9h-1.5v-3.2h-1.5v-3.6h-1.5v9.6h-1.5v3.8h-1.5v-3.0h-1.5v6.9h-1.5v-4.0h-1.5v-6.1h-1.5v-2.8h-1.5v3.1h-1.5v-10.4h-1.5v7.3h-1.5v-9.9h-1.5v6.7h-1.5v3.7h-1.5v-3.5h-1.5v13.3h-1.5v-0.5h-1.5v-2.8h-1.5v14.0h-1.5v-16.0h-1.5v9.3h-1.5v-8.3h-1.5v-6.4h-1.5v1.2h-1.5v25.9h-1.5v-14.8h-1.5v-4.7h-1.5v14.7h-1.5v-9.1h-1.5v17.1h-1.5v-10.5h-1.5v-3.1h-1.5v2.0h-1.5v2.9h-1.5v-10.9h-1.5v-5.1h-1.5v5.8h-1.5v3.8h-1.5v-0.2h-1.5v-3.5h-1.5v-7.2h-1.5v-17.2h-1.5v10.8h-1.5v3.8h-1.5v-6.1h-1.5v-1.6h-1.5v7.1h-1.5v-3.4h-1.5v-5.1h-1.5v2.1h-1.5v14.6h-1.5v-10.0h-1.5v9.4h-1.5v-9.9h-1.5v-11.1h-1.5v16.4h-1.5v-7.8h-1.5v-0.8h-1.5v0.2h-1.5v9.9h-1.5v-10.1h-1.5v13.7h-1.5v-3.1h-1.5v3.1h-1.5v8.9h-1.5v-10.1h-1.5v-1.8h-1.5v3.3h-1.5v1.0h-1.5v1.4h-1.5v3.9h-1.5v5.4h-1.5v1.5h-1.5v0.2h-1.5v-1.3h-1.5v-7.5h-1.5v0.2h-1.5v8.5h-1.5v-8.4h-1.5v-3.3h-1.5v3.6h-1.5v10.9h-1.5v-5.7h-1.5v-4.0h-1.5v12.1h-1.5v2.3h-1.5v1.8h-1.5v-22.7h-1.5v8.9h-1.5v12.1h-1.5v-12.4h-1.5v-4.1h-1.5v-9.0h-1.5v4.1h-1.5v3.4h-1.5v3.0h-1.5v-15.8h-1.5v10.1h-1.5v3.6h-1.5v-1.3h-1.5v-5.9h-1.5v10.6h-1.5v-5.3h-1.5v-7.0h-1.5v-7.7h-1.5v-9.7h-1.5v3.4h-1.5v15.0h-1.5v3.5h-1.5v-10.7h-1.5v10.1h-1.5v-0.1h-1.5v-2.2h-1.5v10.8h-1.5v-10.3h-1.5v-1.4h-1.5v4.8h-1.5v-5.5h-1.5v14.3h-1.5v-9.1h-1.5v-7.8h-1.5v5.8h-1.5v-8.0h-1.5v-1.1h-1.5v2.9h-1.5v0.6h-1.5v7.9h-1.5v-10.8h-1.5v1.6h-1.5v26.8h-1.5v-11.8h-1.5v-2.4h-1.5v15.2h-1.5v-2.7h-1.5v-12.0h-1.5v-2.9h-1.5v8.9h-1.5v-5.0h-1.5v-1.5h-1.5v-3.5h-1.5v3.6h-1.5v-2.6h-1.5v-3.9h-1.5v1.8h-1.5v2.6h-1.5v-5.2h-1.5v18.9h-1.5v-14.5h-1.5v6.9h-1.5v-1.4h-1.5v5.2h-1.5v-11.2h-1.5v-7.5h-1.5v7.8h-1.5v-2.9h-1.5v-2.0h-1.5v15.3h-1.5v-14.3h-1.5v16.5h-1.5v4.7h-1.5v-15.3h-1.5v-2.2h-1.5v-0.1h-1.5v2.5h-1.5v2.6h-1.5v4.7h-1.5v-4.6h-1.5v9.6h-1.5v-4.1h-1.5v-7.1h-1.5v16.1h-1.5v-19.8h-1.5v10.4h-1.5v-2.8h-1.5v1.2h-1.5v-8.1h-1.5v-0.6h-1.5v1.0h-1.5v-4.1h-1.5v15.3h-1.5v-4.4h-1.5v-11.4h-1.5v6.1h-1.5v3.4h-1.5v14.6h-1.5v-4.5h-1.5v10.6h-1.5v-6.2h-1.5v-9.2h-1.5v11.4h-1.5v1.0h-1.5v-18.0h-1.5v3.3h-1.5v-3.2h-1.5v-7.9h-1.5v-0.8h-1.5v-9.7h-1.5v9.0h-1.5v-15.8h-1.5v11.6h-1.5v14.6h-1.5v-2.2h-1.5v13.5h-1.5v-19.2h-1.5v19.5h-1.5v-4.0h-1.5v-5.8h-1.5v-4.9h-1.5v6.8h-1.5v-15.3h-1.5v2.1h-1.5v-0.2h-1.5v-1.1h-1.5v-9.6h-1.5v-0.8h-1.5v19.5h-1.5v-5.4h-1.5v-4.5h-1.5v-11.0h-1.5v19.8h-1.5v-5.6h-1.5v-6.4h-1.5v-7.1h-1.5v-4.5h-1.5v-1.5h-1.5v0.4h-1.5v1.7h-1.5v8.5h-1.5v-7.0h-1.5v7.0h-1.5v1.5h-1.5v14.6h-1.5v-13.6h-1.5v1.0h-1.5v-11.0h-1.5v12.6h-1.5v-4.6h-1.5v-6.3h-1.5v-1.9h-1.5v-7.6h-1.5v7.2h-1.5v-2.1h-1.5v17.6h-1.5v-1.3h-1.5v-14.7h-1.5v-0.7h-1.5v-5.5h-1.5v2.6h-1.5v-6.3h-1.5v5.3h-1.5v4.4h-1.5v0.9h-1.5v-1.9h-1.5v-3.9h-1.5v3.2h-1.5v-7.0h-1.5v7.5h-1.5v-7.0h-1.5v-4.6h-1.5v7.7h-1.5v-3.8h-1.5v2.1h-1.5v5.6h-1.5v-9.5h-1.5v2.1h-1.5v3.3h-1.5v-2.8h-1.5v-1.0h-1.5v6.6h-1.5v-7.9h-1.5v0.3h-1.5v-2.1h-1.5v-0.3h-1.5v1.5h-1.5v-1.7h-1.5v-3.3h-1.5v0.5h-1.5v1.5h-1.5v-3.6h-1.5v0.2h-1.5v3.5h-1.5v1.5h-1.5v0.5h-1.5v-5.0h-1.5v-0.1h-1.5v2.0h-1.5v3.8h-1.5v-1.0h-1.5v0.3h-1.5v-3.1h-1.5v1.4h-1.5v-2.1h-1.5v3.6h-1.5v-1.5h-1.5v1.4h-1.5v5.5h-1.5v-4.0h-1.5v-1.5h-1.5v-0.9h-1.5v1.4h-1.5v-3.1h-1.5v-0.9h-1.5v0.0h-1.5v-0.1h-1.5v-0.7h-1.5v4.4h-1.5v0.5h-1.5v-1.7h-1.5v-4.8h-1.5v3.6h-1.5v-3.0h-1.5v3.8h-1.5v2.5h-1.5v-0.7h-1.5v-5.2h-1.5v1.2h-1.5v4.0h-1.5v-5.0h-1.5v1.1h-1.5v-2.2h-1.5v-1.6h-1.5v4.2h-1.5v-4.5h-1.5v0.1h-1.5v-0.9h-1.5v6.8h-1.5v-3.4h-1.5v-3.5h-1.5v-3.3h-1.5v3.8h-1.5v7.8h-1.5v-2.4h-1.5v1.2h-1.5v-4.3h-1.5v2.2h-1.5v1.2h-1.5v-3.1h-1.5v-4.0h-1.5v3.8h-1.5v4.3h-1.5v-3.8h-1.5v-3.9h-1.5v-0.9h-1.5v6.1h-1.5v0.7h-1.5v-5.0h-1.5v2.0h-1.5v1.2h-1.5v-3.4h-1.5v2.2h-1.5v3.0h-1.5v-4.7h-1.5v0.8h-1.5v-1.0h-1.5v0.4h-1.5v0.1h-1.5v6.2h-1.5v-12.2h-1.5v2.1h-1.5v2.9h-1.5v2.5h-1.5v-1.8h-1.5v-6.2h-1.5v1.5h-1.5v4.7h-1.5v-1.3h-1.5v-0.6h-1.5v2.4h-1.5v-2.7h-1.5v1.6h-1.5v3.3h-1.5v-2.9h-1.5v7.3h-1.5v-6.5h-1.5v2.4h-1.5v1.9h-1.5v-0.9h-1.5v-0.1h-1.5v-4.3h-1.5v5.6h-1.5v0.3h-1.5v-2.6h-1.5v-3.4h-1.5v-0.5h-1.5v0.8h-1.5v1.2h-1.5v3.4h-1.5v0.1h-1.5v-1.7h-1.5v5.2h-1.5v-5.6h-1.5v-2.4h-1.5v3.5h-1.5v-3.3h-1.5v-0.2h-1.5v1.9h-1.5v2.8h-1.5v-3.1h-1.5v-2.2h-1.5v4.5h-1.5v-3.9h-1.5v-0.5h-1.5v1.3h-1.5v0.4h-1.5v4.1h-1.5v-2.4h-1.5v4.6h-1.5v-3.4h-1.5v0.7h-1.5v-2.2h-1.5v-0.6h-1.5v-0.9h-1.5v3.1h-1.5v-3.3h-1.5v-2.7h-1.5v4.1h-1.5v-2.6h-1.5v1.1h-1.5v5.3h-1.5v-6.3h-1.5v1.6h-1.5v-5.9h-1.5v4.5h-1.5v1.5h-1.5v4.1h-1.5v-2.2h-1.5v0.0h-1.5v-5.3h-1.5v2.7h-1.5v6.0h-1.5v-2.9h-1.5v2.4h-1.5v-2.7h-1.5v2.1h-1.5v-6.3h-1.5v8.9h-1.5v-0.0h-1.5v-11.2h-1.5v-0.2h-1.5v-1.4h-1.5v-4.9h-1.5v7.9h-1.5v-12.9h-1.5v-0.8h-1.5v-0.4h-1.5v5.3h-1.5v0.3h-1.5v5.8h-1.5v-6.6h-1.5v4.3h-1.5v-9.8h-1.5v6.4h-1.5v2.1h-1.5v1.0h-1.5v-3.9h-1.5v13.6h-1.5v-10.8h-1.5v-6.1h-1.5v6.3h-1.5v0.1h-1.5v7.8h-1.5v-15.9h-1.5v1.2h-1.5v-1.5h-1.5v-1.1h-1.5v4.6h-1.5v-2.0h-1.5v4.8h-1.5v1.4h-1.5v-3.6h-1.5v10.6h-1.5v-3.8h-1.5v-5.2h-1.5v3.1h-1.5v4.9h-1.5v3.8h-1.5v-6.9h-1.5v-4.7h-1.5v-2.3h-1.5v-2.9h-1.5v-0.7h-1.5v11.0h-1.5v-8.7h-1.5v-4.6h-1.5v9.5h-1.5v-6.2h-1.5v3.5h-1.5v20.7h-1.5v-18.4h-1.5v8.5h-1.5v-1.2h-1.5v-2.6h-1.5v-1.3h-1.5v2.8h-1.5v-14.8h-1.5v-0.1h-1.5v-3.2h-1.5v-0.4h-1.5v-12.8h-1.5v5.8h-1.5v-13.9h-1.5v34.0h-1.5v-41.4h-1.5v-20.0h-1.5v-1.7h-1.5Z" fill="#90b64a" stroke="#90b64a" stroke-width="5.0" stroke-linejoin="round"/>
<path d="M158.0,589.1V570.2h1.5v5.6h1.5v17.7h1.5v10.7h1.5v-1.9h1.5v8.9h1.5v-5.1h1.5v5.3h1.5v-2.1h1.5v8.0h1.5v7.6h1.5v-1.7h1.5v10.3h1.5v3.9h1.5v-3.6h1.5v3.9h1.5v4.0h1.5v0.8h1.5v-1.9h1.5v-6.8h1.5v10.8h1.5v-10.4h1.5v3.8h1.5v0.7h1.5v-3.8h1.5v1.9h1.5v-7.9h1.5v4.5h1.5v6.2h1.5v-4.1h1.5v2.0h1.5v-3.1h1.5v2.4h1.5v1.2h1.5v-5.2h1.5v-0.9h1.5v-1.0h1.5v10.4h1.5v-12.3h1.5v2.1h1.5v-0.9h1.5v4.3h1.5v1.8h1.5v0.6h1.5v-7.4h1.5v6.4h1.5v4.4h1.5v-3.0h1.5v1.0h1.5v-4.3h1.5v-4.6h1.5v20.0h1.5v-13.4h1.5v2.6h1.5v7.6h1.5v-11.8h1.5v4.0h1.5v8.7h1.5v-2.0h1.5v3.4h1.5v-6.5h1.5v6.4h1.5v-5.4h1.5v-2.1h1.5v2.6h1.5v-1.5h1.5v13.7h1.5v0.0h1.5v0.5h1.5v2.4h1.5v-3.1h1.5v-0.0h1.5v-2.2h1.5v-7.7h1.5v-9.3h1.5v-1.6h1.5v7.3h1.5v-14.1h1.5v9.2h1.5v6.1h1.5v-3.1h1.5v-2.8h1.5v-2.3h1.5v0.6h1.5v0.4h1.5v3.4h1.5v5.2h1.5v11.0h1.5v-11.3h1.5v1.9h1.5v-11.7h1.5v6.1h1.5v0.8h1.5v-6.0h1.5v4.3h1.5v5.3h1.5v-9.5h1.5v8.0h1.5v7.7h1.5v-5.5h1.5v6.0h1.5v-6.7h1.5v5.2h1.5v-6.3h1.5v12.0h1.5v1.0h1.5v-1.9h1.5v3.5h1.5v1.7h1.5v-3.3h1.5v2.7h1.5v-5.7h1.5v-1.9h1.5v-1.3h1.5v3.2h1.5v4.8h1.5v-7.1h1.5v-4.8h1.5v1.4h1.5v2.1h1.5v0.5h1.5v-4.1h1.5v2.6h1.5v-3.5h1.5v0.0h1.5v-3.6h1.5v4.2h1.5v-1.2h1.5v9.6h1.5v-16.3h1.5v17.8h1.5v-1.0h1.5v-4.7h1.5v-3.8h1.5v-1.5h1.5v0.5h1.5v7.3h1.5v2.7h1.5v-10.4h1.5v-0.4h1.5v9.3h1.5v-16.7h1.5v5.0h1.5v8.3h1.5v-7.5h1.5v0.6h1.5v10.7h1.5v4.9h1.5v-7.7h1.5v-2.0h1.5v3.2h1.5v-14.4h1.5v15.4h1.5v3.2h1.5v-3.3h1.5v13.8h1.5v-18.3h1.5v1.0h1.5v4.9h1.5v2.2h1.5v-3.0h1.5v6.0h1.5v-10.1h1.5v4.5h1.5v1.6h1.5v0.3h1.5v10.1h1.5v-12.0h1.5v6.2h1.5v-4.6h1.5v10.0h1.5v3.3h1.5v-7.3h1.5v1.9h1.5v-7.3h1.5v-4.9h1.5v0.1h1.5v4.1h1.5v-10.6h1.5v6.0h1.5v0.7h1.5v4.6h1.5v1.0h1.5v4.4h1.5v-18.8h1.5v17.3h1.5v-1.7h1.5v-0.0h1.5v2.5h1.5v5.8h1.5v-4.3h1.5v-2.1h1.5v-2.6h1.5v-9.0h1.5v2.8h1.5v5.5h1.5v-8.5h1.5v-0.6h1.5v7.5h1.5v-0.9h1.5v-14.5h1.5v7.3h1.5v2.5h1.5v-7.5h1.5v8.2h1.5v7.8h1.5v-2.5h1.5v-7.0h1.5v8.3h1.5v-3.3h1.5v4.8h1.5v-4.2h1.5v-3.3h1.5v-2.3h1.5v3.9h1.5v3.6h1.5v4.0h1.5v-6.1h1.5v3.2h1.5v-2.0h1.5v-15.8h1.5v13.4h1.5v6.9h1.5v-0.6h1.5v6.7h1.5v-13.7h1.5v4.8h1.5v-0.3h1.5v7.4h1.5v1.0h1.5v-3.9h1.5v-15.2h1.5v3.6h1.5v16.5h1.5v-18.2h1.5v1.9h1.5v10.3h1.5v-6.7h1.5v9.7h1.5v-0.5h1.5v-8.3h1.5v11.5h1.5v-14.5h1.5v8.0h1.5v-7.5h1.5v-4.3h1.5v9.6h1.5v-5.0h1.5v-6.8h1.5v5.5h1.5v-14.7h1.5v20.8h1.5v-8.8h1.5v-3.5h1.5v-2.7h1.5v20.0h1.5v-7.6h1.5v-2.3h1.5v-9.7h1.5v-0.8h1.5v-4.3h1.5v10.1h1.5v7.2h1.5v-0.8h1.5v-11.8h1.5v6.8h1.5v7.9h1.5v-6.6h1.5v5.1h1.5v-1.5h1.5v7.4h1.5v-8.6h1.5v6.8h1.5v2.2h1.5v-8.8h1.5v-0.1h1.5v4.0h1.5v1.9h1.5v-1.9h1.5v3.4h1.5v6.3h1.5v-19.6h1.5v11.0h1.5v1.4h1.5v4.0h1.5v-5.5h1.5v-3.7h1.5v-0.9h1.5v-5.0h1.5v1.8h1.5v-0.1h1.5v1.4h1.5v-4.6h1.5v-6.8h1.5v-0.0h1.5v7.5h1.5v3.3h1.5v-8.6h1.5v-3.1h1.5v14.7h1.5v-6.0h1.5v-1.2h1.5v4.1h1.5v10.8h1.5v-1.9h1.5v0.5h1.5v9.0h1.5v-13.5h1.5v7.5h1.5v-5.9h1.5v1.6h1.5v5.1h1.5v11.0h1.5v-23.5h1.5v8.4h1.5v7.9h1.5v-4.3h1.5v6.0h1.5v-1.3h1.5v0.4h1.5v-2.4h1.5v-3.9h1.5v4.6h1.5v-2.5h1.5v-6.6h1.5v-2.4h1.5v8.3h1.5v0.3h1.5v-13.2h1.5v5.9h1.5v0.8h1.5v-6.4h1.5v1.9h1.5v-4.7h1.5v7.7h1.5v-1.7h1.5v-7.0h1.5v5.1h1.5v1.5h1.5v-1.6h1.5v-8.6h1.5v11.7h1.5v-6.6h1.5v-1.9h1.5v-0.7h1.5v3.4h1.5v-5.1h1.5v7.6h1.5v-2.1h1.5v-2.5h1.5v3.9h1.5v-0.5h1.5v0.9h1.5v5.2h1.5v-4.4h1.5v-4.2h1.5v-4.7h1.5v5.1h1.5v2.3h1.5v8.4h1.5v-8.4h1.5v3.9h1.5v4.7h1.5v-7.8h1.5v2.8h1.5v8.0h1.5v1.1h1.5v-8.1h1.5v1.0h1.5v4.8h1.5v0.3h1.5v-0.7h1.5v-8.5h1.5v13.4h1.5v-5.4h1.5v2.1h1.5v1.5h1.5v2.1h1.5v-4.4h1.5v-3.0h1.5v8.2h1.5v-0.7h1.5v-10.0h1.5v1.0h1.5v9.3h1.5v-7.7h1.5v7.1h1.5v4.9h1.5v-5.4h1.5v-11.4h1.5v11.7h1.5v-13.2h1.5v8.9h1.5v-4.3h1.5v-0.9h1.5v-1.5h1.5v7.3h1.5v1.2h1.5v-8.3h1.5v-0.5h1.5v9.2h1.5v1.2h1.5v-8.3h1.5v-1.3h1.5v8.8h1.5v-10.0h1.5v2.3h1.5v5.9h1.5v-5.4h1.5v0.6h1.5v0.8h1.5v2.0h1.5v-3.5h1.5v-9.6h1.5v-3.2h1.5v13.3h1.5v-4.1h1.5v1.3h1.5v3.0h1.5v-3.5h1.5v-0.3h1.5v0.1h1.5v-4.2h1.5v1.5h1.5v2.2h1.5v-0.7h1.5v3.8h1.5v0.6h1.5v1.7h1.5v5.3h1.5v-2.9h1.5v1.5h1.5v-3.1h1.5v-3.7h1.5v-6.0h1.5v2.9h1.5v1.6h1.5v-1.4h1.5v6.3h1.5v-1.9h1.5v-0.9h1.5v3.2h1.5v4.1h1.5v-3.7h1.5v2.2h1.5v-1.7h1.5v1.5h1.5v-6.9h1.5v-4.2h1.5v6.7h1.5v-7.5h1.5v6.3h1.5v-4.0h1.5v0.7h1.5v-3.1h1.5v12.5h1.5v-6.6h1.5v0.2h1.5v-7.3h1.5v7.6h1.5v-9.4h1.5v12.4h1.5v-2.4h1.5v-0.1h1.5v-3.3h1.5v-1.1h1.5v2.8h1.5v1.3h1.5v-2.9h1.5v-11.1h1.5v6.1h1.5v5.8h1.5v1.3h1.5v-4.0h1.5v-2.1h1.5v3.2h1.5v9.8h1.5v-8.8h1.5v-8.7h1.5v10.7h1.5v1.4h1.5v2.5h1.5v0.1h1.5v-1.8h1.5v1.6h1.5v3.1h1.5v-0.5h1.5v-1.6h1.5v8.3h1.5v-1.4h1.5v-8.7h1.5v7.4h1.5v-0.6h1.5v-9.3h1.5v7.3h1.5v-12.2h1.5v14.6h1.5v-6.6h1.5v1.8h1.5v-3.4h1.5v10.2h1.5v-0.0h1.5v-3.8h1.5v1.8h1.5v1.3h1.5v-9.8h1.5v3.9h1.5v-5.2h1.5v9.4h1.5v-8.0h1.5v14.4h1.5v-2.6h1.5v-8.3h1.5v6.6h1.5v-8.6h1.5v2.0h1.5v1.7h1.5v-3.1h1.5v2.4h1.5v5.0h1.5v-11.3h1.5v6.4h1.5v5.8h1.5v-1.7h1.5v-2.4h1.5v-10.0h1.5v13.7h1.5v-4.0h1.5v-3.4h1.5v-1.9h1.5v-1.3h1.5v-11.2h1.5v5.2h1.5v-2.9h1.5v-2.3h1.5v2.9h1.5v-1.6h1.5v3.0h1.5v-2.5h1.5v4.3h1.5v-0.9h1.5v5.5h1.5v-0.3h1.5v8.7h1.5v-4.7h1.5v-4.4h1.5v8.6h1.5v1.0h1.5v-0.8h1.5v-2.5h1.5v-1.1h1.5v3.5h1.5v-3.3h1.5v0.7h1.5v8.0h1.5v-3.2h1.5v3.7h1.5v-0.1h1.5v2.2h1.5v-15.9h1.5v-0.8h1.5v6.2h1.5v-1.8h1.5v-9.2h1.5v1.9h1.5v0.2h1.5v6.4h1.5v1.5h1.5v-2.5h1.5v10.1h1.5v-0.7h1.5v-4.9h1.5v3.7h1.5v3.2h1.5v-12.1h1.5v1.1h1.5v-3.8h1.5v2.5h1.5v4.6h1.5v-1.4h1.5v-6.4h1.5v16.2h1.5v-17.2h1.5v8.3h1.5v-0.6h1.5v-0.4h1.5v0.6h1.5v6.2h1.5v-14.2h1.5v6.3h1.5v0.4h1.5v-2.3h1.5v-2.4h1.5v9.0h1.5v0.1h1.5v5.3h1.5v0.6h1.5v-4.9h1.5v3.6h1.5v-7.2h1.5v2.6h1.5v-2.1h1.5v2.7h1.5v5.7h1.5v-10.9h1.5v2.6h1.5v0.3h1.5v-0.2h1.5v-3.5h1.5v10.2h1.5v-0.4h1.5v-5.0h1.5v5.0h1.5v-18.4h1.5v6.0h1.5v9.9h1.5v-8.2h1.5v-3.6h1.5v1.8h1.5v2.3h1.5v-6.0h1.5v5.3h1.5v2.0h1.5v-1.4h1.5v2.4h1.5v-2.2h1.5v-2.1h1.5v0.8h1.5v3.1h1.5v-3.8h1.5v3.0h1.5v2.4h1.5v-4.7h1.5v5.1h1.5v-6.6h1.5v1.5h1.5v-0.7h1.5v14.3h1.5v-10.1h1.5V684.6h-1.5v2.6h-1.5v2.5h-1.5v-0.3h-1.5v4.1h-1.5v-5.9h-1.5v-5.3h-1.5v1.8h-1.5v0.0h-1.5v-0.1h-1.5v1.2h-1.5v11.1h-1.5v-10.5h-1.5v0.1h-1.5v-1.4h-1.5v-1.4h-1.5v-5.5h-1.5v4.7h-1.5v-6.8h-1.5v8.1h-1.5v2.3h-1.5v1.9h-1.5v-6.2h-1.5v7.0h-1.5v-4.1h-1.5v1.3h-1.5v-1.4h-1.5v-1.3h-1.5v3.3h-1.5v10.0h-1.5v0.4h-1.5v0.3h-1.5v-5.9h-1.5v-6.5h-1.5v-2.3h-1.5v2.3h-1.5v6.2h-1.5v-6.9h-1.5v0.7h-1.5v3.4h-1.5v1.2h-1.5v0.2h-1.5v10.3h-1.5v-1.1h-1.5v-7.9h-1.5v-3.0h-1.5v-5.5h-1.5v-2.9h-1.5v2.8h-1.5v7.0h-1.5v-4.6h-1.5v5.3h-1.5v-7.9h-1.5v6.3h-1.5v-2.5h-1.5v-2.2h-1.5v8.0h-1.5v-3.0h-1.5v2.0h-1.5v-12.0h-1.5v4.8h-1.5v1.2h-1.5v-9.1h-1.5v6.8h-1.5v3.2h-1.5v6.2h-1.5v-10.1h-1.5v3.2h-1.5v6.3h-1.5v-8.8h-1.5v-2.6h-1.5v6.0h-1.5v-10.3h-1.5v15.9h-1.5v-8.8h-1.5v1.8h-1.5v8.9h-1.5v-4.7h-1.5v-5.3h-1.5v7.0h-1.5v7.1h-1.5v-5.8h-1.5v0.4h-1.5v-2.5h-1.5v3.4h-1.5v-8.8h-1.5v3.0h-1.5v-5.5h-1.5v-2.5h-1.5v9.5h-1.5v1.1h-1.5v-10.4h-1.5v2.7h-1.5v11.2h-1.5v-11.8h-1.5v4.9h-1.5v-5.3h-1.5v-1.8h-1.5v-2.3h-1.5v18.1h-1.5v-25.6h-1.5v0.3h-1.5v-0.7h-1.5v4.5h-1.5v-3.6h-1.5v1.0h-1.5v5.6h-1.5v-6.3h-1.5v10.6h-1.5v-0.0h-1.5v11.7h-1.5v-8.1h-1.5v10.3h-1.5v-7.3h-1.5v-3.1h-1.5v1.8h-1.5v-0.4h-1.5v-5.8h-1.5v1.2h-1.5v7.7h-1.5v-2.1h-1.5v1.1h-1.5v0.1h-1.5v4.5h-1.5v-6.9h-1.5v-3.6h-1.5v5.6h-1.5v0.7h-1.5v4.3h-1.5v5.2h-1.5v-12.8h-1.5v-1.5h-1.5v2.2h-1.5v3.1h-1.5v-6.2h-1.5v-1.6h-1.5v7.8h-1.5v-9.1h-1.5v24.0h-1.5v-19.3h-1.5v-2.9h-1.5v8.9h-1.5v-10.2h-1.5v5.7h-1.5v2.8h-1.5v-10.8h-1.5v10.9h-1.5v-4.1h-1.5v2.2h-1.5v3.1h-1.5v-3.9h-1.5v-0.3h-1.5v-4.1h-1.5v-2.5h-1.5v5.9h-1.5v-5.0h-1.5v9.8h-1.5v-5.6h-1.5v-7.4h-1.5v3.7h-1.5v4.3h-1.5v-7.6h-1.5v-0.8h-1.5v10.0h-1.5v-6.3h-1.5v-3.5h-1.5v4.2h-1.5v-2.7h-1.5v9.5h-1.5v-9.2h-1.5v8.3h-1.5v-6.4h-1.5v-0.9h-1.5v-2.6h-1.5v1.9h-1.5v-2.7h-1.5v7.4h-1.5v4.5h-1.5v-0.6h-1.5v-9.6h-1.5v-3.8h-1.5v11.1h-1.5v-7.6h-1.5v6.2h-1.5v-5.9h-1.5v-2.6h-1.5v-6.6h-1.5v11.6h-1.5v-6.8h-1.5v10.5h-1.5v-9.2h-1.5v5.0h-1.5v5.9h-1.5v-4.0h-1.5v3.6h-1.5v-5.7h-1.5v7.0h-1.5v-0.6h-1.5v-9.1h-1.5v11.8h-1.5v-13.6h-1.5v3.7h-1.5v3.9h-1.5v-1.2h-1.5v7.6h-1.5v-6.3h-1.5v-1.5h-1.5v8.2h-1.5v-0.4h-1.5v-11.3h-1.5v9.4h-1.5v0.3h-1.5v-8.2h-1.5v-5.5h-1.5v13.0h-1.5v-10.7h-1.5v2.6h-1.5v-3.2h-1.5v9.5h-1.5v-6.9h-1.5v2.9h-1.5v-3.7h-1.5v-0.3h-1.5v5.0h-1.5v-9.2h-1.5v-1.0h-1.5v6.8h-1.5v6.5h-1.5v-7.2h-1.5v-1.6h-1.5v2.4h-1.5v0.3h-1.5v0.7h-1.5v3.4h-1.5v6.7h-1.5v-3.9h-1.5v3.4h-1.5v-2.4h-1.5v4.2h-1.5v-1.7h-1.5v1.9h-1.5v-3.4h-1.5v-3.0h-1.5v-2.4h-1.5v-6.8h-1.5v13.9h-1.5v-0.7h-1.5v-1.4h-1.5v-0.1h-1.5v1.2h-1.5v-0.6h-1.5v4.9h-1.5v-4.0h-1.5v0.3h-1.5v-6.5h-1.5v6.8h-1.5v-6.0h-1.5v9.3h-1.5v-4.3h-1.5v-5.8h-1.5v-1.3h-1.5v1.9h-1.5v-1.4h-1.5v6.7h-1.5v-5.2h-1.5v7.0h-1.5v-2.8h-1.5v-9.6h-1.5v9.0h-1.5v-5.0h-1.5v8.9h-1.5v-1.7h-1.5v-3.7h-1.5v2.6h-1.5v-7.1h-1.5v-1.1h-1.5v1.5h-1.5v-3.1h-1.5v-5.0h-1.5v9.7h-1.5v0.1h-1.5v2.7h-1.5v-10.5h-1.5v0.6h-1.5v3.6h-1.5v7.6h-1.5v-9.9h-1.5v6.0h-1.5v-6.9h-1.5v-0.9h-1.5v5.4h-1.5v-10.1h-1.5v5.8h-1.5v5.2h-1.5v-5.2h-1.5v0.2h-1.5v3.9h-1.5v-4.6h-1.5v-0.5h-1.5v-0.3h-1.5v-3.2h-1.5v7.8h-1.5v-3.7h-1.5v-2.6h-1.5v0.1h-1.5v-0.8h-1.5v8.8h-1.5v-7.6h-1.5v11.9h-1.5v-3.1h-1.5v-1.6h-1.5v3.2h-1.5v3.8h-1.5v-5.4h-1.5v3.9h-1.5v-0.9h-1.5v5.3h-1.5v-7.9h-1.5v5.4h-1.5v0.8h-1.5v0.1h-1.5v9.3h-1.5v-6.5h-1.5v2.6h-1.5v-1.6h-1.5v1.3h-1.5v4.2h-1.5v-5.9h-1.5v-1.9h-1.5v8.9h-1.5v-1.2h-1.5v-10.4h-1.5v2.6h-1.5v-7.0h-1.5v14.3h-1.5v-4.3h-1.5v-16.6h-1.5v10.3h-1.5v-10.1h-1.5v-0.1h-1.5v-0.3h-1.5v20.6h-1.5v-22.1h-1.5v0.2h-1.5v5.4h-1.5v-4.4h-1.5v4.2h-1.5v-6.7h-1.5v7.0h-1.5v3.5h-1.5v-0.2h-1.5v-4.3h-1.5v12.8h-1.5v-3.8h-1.5v4.6h-1.5v-2.8h-1.5v-12.1h-1.5v12.3h-1.5v-3.5h-1.5v-1.9h-1.5v6.6h-1.5v2.1h-1.5v3.6h-1.5v-9.9h-1.5v-2.7h-1.5v2.7h-1.5v1.7h-1.5v-11.0h-1.5v5.0h-1.5v3.5h-1.5v2.0h-1.5v1.2h-1.5v-5.8h-1.5v-1.5h-1.5v-1.8h-1.5v-2.3h-1.5v-9.5h-1.5v10.5h-1.5v-7.1h-1.5v9.9h-1.5v-2.9h-1.5v-7.6h-1.5v8.6h-1.5v5.8h-1.5v0.3h-1.5v-11.9h-1.5v-0.8h-1.5v2.2h-1.5v3.4h-1.5v-5.2h-1.5v6.6h-1.5v-5.5h-1.5v-1.5h-1.5v16.9h-1.5v-8.4h-1.5v-5.7h-1.5v5.4h-1.5v9.1h-1.5v-6.4h-1.5v-8.0h-1.5v12.5h-1.5v-1.2h-1.5v-5.5h-1.5v-5.3h-1.5v4.4h-1.5v4.2h-1.5v-5.8h-1.5v9.9h-1.5v-6.6h-1.5v1.3h-1.5v3.3h-1.5v-4.9h-1.5v0.0h-1.5v-0.6h-1.5v0.8h-1.5v-1.3h-1.5v9.3h-1.5v-16.6h-1.5v18.2h-1.5v-9.6h-1.5v-6.6h-1.5v-5.2h-1.5v6.4h-1.5v3.8h-1.5v-5.3h-1.5v14.4h-1.5v-12.1h-1.5v8.8h-1.5v-7.9h-1.5v-7.9h-1.5v9.8h-1.5v-7.2h-1.5v4.5h-1.5v2.9h-1.5v-6.7h-1.5v6.0h-1.5v-3.3h-1.5v-2.6h-1.5v3.7h-1.5v-3.2h-1.5v6.8h-1.5v-4.0h-1.5v0.6h-1.5v5.1h-1.5v-7.8h-1.5v5.2h-1.5v6.9h-1.5v-3.9h-1.5v5.0h-1.5v2.1h-1.5v1.3h-1.5v-7.4h-1.5v-1.3h-1.5v-1.0h-1.5v-1.6h-1.5v1.7h-1.5v-11.2h-1.5v10.0h-1.5v3.7h-1.5v-14.9h-1.5v7.6h-1.5v8.7h-1.5v-7.1h-1.5v2.7h-1.5v4.5h-1.5v-11.4h-1.5v7.6h-1.5v4.1h-1.5v-3.0h-1.5v-6.7h-1.5v6.9h-1.5v-10.1h-1.5v12.3h-1.5v-11.2h-1.5v5.7h-1.5v2.3h-1.5v-0.2h-1.5v-2.9h-1.5v7.4h-1.5v-4.1h-1.5v4.2h-1.5v-14.0h-1.5v14.7h-1.5v-10.1h-1.5v-2.5h-1.5v4.0h-1.5v-9.0h-1.5v2.9h-1.5v-5.8h-1.5v6.9h-1.5v-6.3h-1.5v10.7h-1.5v5.3h-1.5v-8.3h-1.5v2.5h-1.5v-2.7h-1.5v-2.5h-1.5v-3.7h-1.5v2.2h-1.5v-2.6h-1.5v3.9h-1.5v-2.9h-1.5v9.3h-1.5v-11.0h-1.5v8.4h-1.5v-7.2h-1.5v7.8h-1.5v-0.4h-1.5v-6.0h-1.5v9.5h-1.5v-5.1h-1.5v-6.1h-1.5v4.5h-1.5v-8.3h-1.5v-5.5h-1.5v6.6h-1.5v7.5h-1.5v-7.6h-1.5v5.6h-1.5v-4.8h-1.5v3.0h-1.5v3.4h-1.5v7.1h-1.5v8.8h-1.5v-9.4h-1.5v-4.0h-1.5v4.8h-1.5v3.5h-1.5v-5.7h-1.5v0.5h-1.5v-1.1h-1.5v-5.3h-1.5v17.8h-1.5v-11.8h-1.5v-8.5h-1.5v1.6h-1.5v-1.3h-1.5v3.1h-1.5v6.7h-1.5v-8.9h-1.5v5.4h-1.5v1.9h-1.5v-19.5h-1.5v6.0h-1.5v-8.7h-1.5v6.5h-1.5v0.9h-1.5v3.8h-1.5v-10.4h-1.5v15.2h-1.5v-7.5h-1.5v3.1h-1.5v6.5h-1.5v-7.3h-1.5v-6.0h-1.5v5.3h-1.5v0.9h-1.5v-1.5h-1.5v-0.3h-1.5v0.7h-1.5v5.7h-1.5v-7.9h-1.5v3.6h-1.5v-2.7h-1.5v-3.9h-1.5v-0.4h-1.5v16.7h-1.5v1.7h-1.5v-2.4h-1.5v-2.5h-1.5v-0.2h-1.5v3.3h-1.5v-1.0h-1.5v-8.8h-1.5v1.9h-1.5v0.4h-1.5v-9.8h-1.5v3.3h-1.5v5.2h-1.5v5.8h-1.5v-11.7h-1.5v9.5h-1.5v-9.7h-1.5v-2.8h-1.5v8.3h-1.5v-4.3h-1.5v-0.6h-1.5v-1.7h-1.5v0.5h-1.5v-2.1h-1.5v3.5h-1.5v-1.2h-1.5v10.3h-1.5v-13.7h-1.5v-2.3h-1.5v2.4h-1.5v-4.1h-1.5v3.2h-1.5v-7.3h-1.5v4.9h-1.5v6.5h-1.5v-7.2h-1.5v3.3h-1.5v-0.5h-1.5v-2.9h-1.5v6.2h-1.5v-2.6h-1.5v0.9h-1.5v8.9h-1.5v-15.2h-1.5v5.0h-1.5v-4.6h-1.5v5.6h-1.5v3.2h-1.5v-4.4h-1.5v1.4h-1.5v-2.7h-1.5v-5.3h-1.5v13.2h-1.5v-5.4h-1.5v-3.6h-1.5v3.7h-1.5v-0.3h-1.5v-1.8h-1.5v-2.6h-1.5v-3.4h-1.5v-5.0h-1.5v-3.1h-1.5v-11.0h-1.5v-6.5h-1.5v-0.6h-1.5v-3.6h-1.5v-4.3h-1.5v-1.9h-1.5v-2.3h-1.5v-1.1h-1.5v-6.0h-1.5v-7.2h-1.5v-11.4h-1.5Z" fill="#bb3e3c" stroke="#bb3e3c" stroke-width="5.0" stroke-linejoin="round"/>
<path d="M158.0,577.3V536.0h1.5v8.5h1.5v3.8h1.5v9.3h1.5v15.0h1.5v0.6h1.5v-17.3h1.5v16.3h1.5v13.6h1.5v2.6h1.5v-14.2h1.5v11.9h1.5v-4.3h1.5v9.4h1.5v1.9h1.5v5.3h1.5v-9.7h1.5v12.9h1.5v-12.4h1.5v7.3h1.5v3.1h1.5v-4.4h1.5v-2.9h1.5v12.5h1.5v-21.1h1.5v10.5h1.5v2.1h1.5v-6.1h1.5v5.4h1.5v1.3h1.5v-13.9h1.5v9.6h1.5v-6.1h1.5v14.6h1.5v-13.2h1.5v2.1h1.5v7.0h1.5v2.6h1.5v0.8h1.5v-11.8h1.5v8.3h1.5v-3.7h1.5v10.5h1.5v-5.3h1.5v-4.4h1.5v-2.8h1.5v2.7h1.5v-1.1h1.5v-5.0h1.5v8.2h1.5v3.5h1.5v-1.3h1.5v2.3h1.5v2.6h1.5v-2.6h1.5v5.8h1.5v-7.4h1.5v4.4h1.5v-8.4h1.5v8.6h1.5v-0.2h1.5v2.4h1.5v-2.8h1.5v12.0h1.5v-7.1h1.5v-13.4h1.5v11.4h1.5v8.0h1.5v-1.5h1.5v1.3h1.5v1.4h1.5v-7.6h1.5v2.0h1.5v-0.4h1.5v2.8h1.5v3.0h1.5v5.2h1.5v-9.2h1.5v3.9h1.5v-4.6h1.5v-3.5h1.5v-0.4h1.5v2.0h1.5v5.6h1.5v-2.3h1.5v-10.5h1.5v12.9h1.5v-7.0h1.5v-3.4h1.5v13.4h1.5v-4.2h1.5v-4.5h1.5v5.0h1.5v0.0h1.5v0.7h1.5v2.1h1.5v-4.7h1.5v0.9h1.5v-2.6h1.5v-0.9h1.5v-3.2h1.5v-0.3h1.5v-0.3h1.5v8.1h1.5v-6.2h1.5v2.7h1.5v-5.6h1.5v1.6h1.5v-3.0h1.5v4.4h1.5v2.9h1.5v-10.6h1.5v-0.6h1.5v4.0h1.5v-3.8h1.5v-2.4h1.5v4.0h1.5v1.0h1.5v-4.3h1.5v7.5h1.5v-0.9h1.5v5.2h1.5v-8.3h1.5v-2.9h1.5v-3.0h1.5v5.8h1.5v-0.4h1.5v-1.7h1.5v3.7h1.5v-5.4h1.5v-3.8h1.5v7.6h1.5v-1.9h1.5v-0.3h1.5v-0.8h1.5v-12.6h1.5v9.0h1.5v-14.8h1.5v9.8h1.5v-3.0h1.5v4.3h1.5v-4.3h1.5v-2.0h1.5v5.7h1.5v7.9h1.5v0.7h1.5v-14.8h1.5v5.7h1.5v7.0h1.5v-0.8h1.5v-9.1h1.5v1.1h1.5v7.8h1.5v6.4h1.5v-7.5h1.5v-3.6h1.5v5.9h1.5v-2.4h1.5v-5.4h1.5v-4.4h1.5v2.5h1.5v-2.9h1.5v7.6h1.5v0.7h1.5v-10.4h1.5v0.6h1.5v2.6h1.5v-4.8h1.5v5.9h1.5v-7.6h1.5v2.7h1.5v9.7h1.5v-5.8h1.5v6.5h1.5v-6.4h1.5v2.2h1.5v-1.4h1.5v-2.4h1.5v0.7h1.5v-10.0h1.5v11.8h1.5v-10.6h1.5v-1.6h1.5v4.6h1.5v0.5h1.5v1.0h1.5v4.1h1.5v2.8h1.5v-14.6h1.5v0.1h1.5v5.9h1.5v7.7h1.5v1.8h1.5v-4.5h1.5v4.9h1.5v0.2h1.5v-5.1h1.5v7.2h1.5v-1.6h1.5v-3.1h1.5v-4.6h1.5v-9.2h1.5v3.9h1.5v7.6h1.5v-1.1h1.5v3.7h1.5v0.7h1.5v0.9h1.5v1.8h1.5v-4.7h1.5v2.9h1.5v2.4h1.5v0.2h1.5v-2.0h1.5v-4.6h1.5v-3.3h1.5v-10.1h1.5v5.2h1.5v12.1h1.5v-13.0h1.5v6.5h1.5v-2.2h1.5v1.7h1.5v-0.2h1.5v3.4h1.5v0.2h1.5v-5.7h1.5v1.5h1.5v-0.1h1.5v6.9h1.5v1.9h1.5v-9.6h1.5v6.0h1.5v-5.1h1.5v-0.9h1.5v-3.5h1.5v9.9h1.5v-10.4h1.5v6.4h1.5v-0.9h1.5v3.6h1.5v4.9h1.5v-7.4h1.5v6.6h1.5v-8.9h1.5v14.2h1.5v-13.0h1.5v-0.5h1.5v-3.1h1.5v7.9h1.5v1.0h1.5v6.0h1.5v-9.0h1.5v7.8h1.5v-9.8h1.5v19.2h1.5v-10.4h1.5v-1.8h1.5v15.7h1.5v-19.6h1.5v8.4h1.5v-22.4h1.5v17.3h1.5v-8.4h1.5v2.8h1.5v-3.9h1.5v-13.0h1.5v9.6h1.5v-7.7h1.5v3.5h1.5v3.9h1.5v-4.7h1.5v0.3h1.5v6.9h1.5v-2.6h1.5v7.5h1.5v2.2h1.5v-0.7h1.5v3.1h1.5v-7.7h1.5v4.4h1.5v1.2h1.5v-1.3h1.5v-3.3h1.5v8.3h1.5v-1.7h1.5v1.6h1.5v4.0h1.5v-4.8h1.5v4.7h1.5v-0.7h1.5v1.7h1.5v0.8h1.5v-3.8h1.5v4.7h1.5v4.1h1.5v5.1h1.5v-5.5h1.5v-3.6h1.5v7.7h1.5v-5.3h1.5v-0.4h1.5v-1.2h1.5v-0.6h1.5v-4.9h1.5v-4.6h1.5v9.3h1.5v-5.5h1.5v5.5h1.5v-0.3h1.5v-3.0h1.5v1.1h1.5v5.5h1.5v1.4h1.5v3.4h1.5v-1.3h1.5v-1.9h1.5v3.5h1.5v0.3h1.5v-4.7h1.5v-2.9h1.5v-6.3h1.5v11.5h1.5v-15.7h1.5v3.8h1.5v5.2h1.5v-1.9h1.5v-4.1h1.5v0.6h1.5v-3.5h1.5v12.7h1.5v-4.3h1.5v-1.8h1.5v-3.3h1.5v1.8h1.5v1.5h1.5v7.4h1.5v-2.7h1.5v-1.2h1.5v0.5h1.5v-1.6h1.5v-4.9h1.5v4.0h1.5v-6.1h1.5v3.7h1.5v-8.4h1.5v13.3h1.5v-7.9h1.5v3.1h1.5v6.1h1.5v-2.6h1.5v-7.3h1.5v5.1h1.5v5.0h1.5v-3.3h1.5v1.8h1.5v-10.4h1.5v13.7h1.5v-0.5h1.5v-2.7h1.5v-0.7h1.5v-7.0h1.5v4.9h1.5v-3.2h1.5v1.0h1.5v-5.0h1.5v-1.5h1.5v11.3h1.5v-7.0h1.5v-0.8h1.5v1.2h1.5v1.5h1.5v0.3h1.5v4.9h1.5v-10.1h1.5v3.8h1.5v2.3h1.5v5.3h1.5v-14.2h1.5v-5.8h1.5v7.8h1.5v2.9h1.5v-9.5h1.5v10.0h1.5v-7.2h1.5v-1.2h1.5v3.9h1.5v-1.6h1.5v-5.7h1.5v12.7h1.5v-10.3h1.5v4.3h1.5v1.1h1.5v0.9h1.5v-1.6h1.5v-3.5h1.5v5.2h1.5v0.2h1.5v-4.3h1.5v1.6h1.5v3.2h1.5v4.3h1.5v-1.7h1.5v4.4h1.5v2.9h1.5v-7.1h1.5v8.8h1.5v-4.7h1.5v0.7h1.5v-3.5h1.5v13.1h1.5v1.1h1.5v-7.8h1.5v0.5h1.5v-2.0h1.5v-3.2h1.5v-3.8h1.5v12.2h1.5v-2.9h1.5v-7.2h1.5v7.4h1.5v3.6h1.5v-4.7h1.5v-0.1h1.5v-0.6h1.5v-0.8h1.5v-4.4h1.5v7.9h1.5v-4.4h1.5v0.5h1.5v-1.7h1.5v-2.6h1.5v4.2h1.5v5.8h1.5v-3.3h1.5v-4.7h1.5v5.1h1.5v0.8h1.5v-6.7h1.5v2.5h1.5v1.0h1.5v-1.6h1.5v-1.2h1.5v5.0h1.5v2.4h1.5v2.4h1.5v2.5h1.5v-4.1h1.5v-4.4h1.5v3.0h1.5v5.7h1.5v-2.9h1.5v4.7h1.5v-9.3h1.5v4.8h1.5v-2.9h1.5v4.6h1.5v-4.0h1.5v1.5h1.5v4.4h1.5v1.1h1.5v-6.8h1.5v5.6h1.5v2.6h1.5v-11.7h1.5v2.2h1.5v-2.0h1.5v-1.9h1.5v-2.9h1.5v7.6h1.5v-9.1h1.5v14.0h1.5v-7.3h1.5v-7.3h1.5v0.7h1.5v6.4h1.5v-2.5h1.5v-2.7h1.5v1.5h1.5v-1.5h1.5v8.5h1.5v-5.8h1.5v11.0h1.5v-0.4h1.5v-6.6h1.5v-0.9h1.5v0.0h1.5v3.1h1.5v3.3h1.5v-11.6h1.5v6.7h1.5v1.9h1.5v-11.5h1.5v3.3h1.5v4.2h1.5v-0.1h1.5v2.4h1.5v-7.9h1.5v9.7h1.5v-1.4h1.5v-12.7h1.5v6.0h1.5v6.6h1.5v1.2h1.5v-3.3h1.5v-3.7h1.5v7.7h1.5v-4.6h1.5v-0.7h1.5v6.7h1.5v-3.9h1.5v4.4h1.5v-6.4h1.5v-1.3h1.5v5.1h1.5v-2.1h1.5v-1.4h1.5v-0.9h1.5v6.1h1.5v-2.4h1.5v3.5h1.5v-6.3h1.5v10.9h1.5v-4.1h1.5v-5.1h1.5v4.7h1.5v-4.4h1.5v-2.8h1.5v4.7h1.5v-0.0h1.5v2.0h1.5v-5.6h1.5v4.6h1.5v-3.8h1.5v-1.4h1.5v4.7h1.5v-7.2h1.5v2.0h1.5v0.7h1.5v-8.6h1.5v2.7h1.5v4.0h1.5v2.6h1.5v1.1h1.5v0.8h1.5v0.3h1.5v7.8h1.5v-4.3h1.5v-4.3h1.5v-2.8h1.5v5.0h1.5v-5.8h1.5v-0.4h1.5v-0.6h1.5v-0.5h1.5v3.7h1.5v2.3h1.5v-1.8h1.5v0.2h1.5v1.5h1.5v-3.9h1.5v2.1h1.5v-3.7h1.5v1.1h1.5v-1.7h1.5v5.7h1.5v3.6h1.5v-1.1h1.5v0.7h1.5v-4.7h1.5v6.8h1.5v6.1h1.5v-7.5h1.5v-4.2h1.5v5.0h1.5v1.6h1.5v-0.4h1.5v1.1h1.5v-2.0h1.5v-5.7h1.5v9.1h1.5v-7.0h1.5v2.3h1.5v0.3h1.5v-2.3h1.5v9.6h1.5v-18.9h1.5v12.4h1.5v-3.9h1.5v-4.6h1.5v-1.4h1.5v2.1h1.5v-6.0h1.5v3.1h1.5v3.3h1.5v-1.4h1.5v-6.9h1.5v6.1h1.5v-4.8h1.5v3.8h1.5v-7.1h1.5v6.3h1.5v-0.5h1.5v-5.4h1.5v5.7h1.5v-4.8h1.5v5.2h1.5v1.3h1.5v1.9h1.5v-4.8h1.5v7.3h1.5v-0.6h1.5v3.1h1.5v-7.2h1.5v-12.8h1.5v12.9h1.5v-12.1h1.5v6.3h1.5v5.6h1.5v-3.4h1.5v-3.9h1.5v9.2h1.5v-11.5h1.5v12.1h1.5v-0.0h1.5v-0.2h1.5v-0.5h1.5v-2.7h1.5v6.2h1.5v1.5h1.5v-10.0h1.5v-2.8h1.5v7.7h1.5v-0.6h1.5v-4.2h1.5v8.7h1.5v-1.4h1.5v-1.5h1.5v6.8h1.5V627.6h-1.5v-5.7h-1.5v-5.8h-1.5v6.3h-1.5v-9.8h-1.5v1.4h-1.5v7.2h-1.5v-1.4h-1.5v-6.3h-1.5v9.5h-1.5v-4.7h-1.5v-0.2h-1.5v3.3h-1.5v-2.8h-1.5v6.0h-1.5v-7.5h-1.5v-5.7h-1.5v3.1h-1.5v-3.4h-1.5v-1.7h-1.5v6.7h-1.5v-8.2h-1.5v1.4h-1.5v6.0h-1.5v-8.3h-1.5v2.5h-1.5v7.6h-1.5v0.4h-1.5v-0.6h-1.5v-5.0h-1.5v5.5h-1.5v-9.2h-1.5v1.6h-1.5v-0.9h-1.5v1.0h-1.5v-3.7h-1.5v3.8h-1.5v9.0h-1.5v-6.6h-1.5v-2.3h-1.5v11.5h-1.5v-11.1h-1.5v-1.5h-1.5v6.6h-1.5v-3.0h-1.5v1.8h-1.5v1.3h-1.5v1.0h-1.5v0.3h-1.5v-1.1h-1.5v7.6h-1.5v0.8h-1.5v-5.5h-1.5v3.6h-1.5v-3.4h-1.5v5.2h-1.5v0.5h-1.5v-5.2h-1.5v1.3h-1.5v-5.1h-1.5v6.7h-1.5v2.0h-1.5v-5.2h-1.5v0.5h-1.5v2.0h-1.5v-2.0h-1.5v0.5h-1.5v9.0h-1.5v-11.0h-1.5v2.9h-1.5v1.7h-1.5v-10.8h-1.5v8.8h-1.5v0.8h-1.5v-7.9h-1.5v-0.4h-1.5v-2.5h-1.5v0.8h-1.5v9.4h-1.5v-2.3h-1.5v4.0h-1.5v-7.3h-1.5v0.9h-1.5v-6.9h-1.5v4.6h-1.5v-6.6h-1.5v3.3h-1.5v6.8h-1.5v-2.8h-1.5v3.8h-1.5v-4.8h-1.5v8.4h-1.5v4.7h-1.5v-3.0h-1.5v-6.4h-1.5v-5.3h-1.5v6.3h-1.5v-6.7h-1.5v0.9h-1.5v-1.9h-1.5v2.7h-1.5v-3.7h-1.5v3.2h-1.5v1.9h-1.5v-0.3h-1.5v0.4h-1.5v0.5h-1.5v0.5h-1.5v0.9h-1.5v1.1h-1.5v3.2h-1.5v-8.8h-1.5v7.8h-1.5v-3.5h-1.5v0.2h-1.5v6.0h-1.5v-3.5h-1.5v1.6h-1.5v-1.1h-1.5v3.0h-1.5v-6.2h-1.5v3.3h-1.5v-0.1h-1.5v-5.1h-1.5v-2.9h-1.5v-0.9h-1.5v10.1h-1.5v-3.8h-1.5v-4.4h-1.5v4.5h-1.5v2.7h-1.5v-0.4h-1.5v2.9h-1.5v-11.3h-1.5v6.9h-1.5v1.7h-1.5v-8.2h-1.5v-0.8h-1.5v0.1h-1.5v3.5h-1.5v6.7h-1.5v-8.3h-1.5v-0.4h-1.5v9.0h-1.5v-7.1h-1.5v-3.5h-1.5v4.0h-1.5v0.3h-1.5v4.5h-1.5v-10.5h-1.5v13.0h-1.5v-0.3h-1.5v0.6h-1.5v-4.7h-1.5v-1.1h-1.5v-0.4h-1.5v-1.0h-1.5v3.1h-1.5v-7.6h-1.5v-9.6h-1.5v4.4h-1.5v3.5h-1.5v4.7h-1.5v-3.9h-1.5v2.7h-1.5v3.1h-1.5v-0.1h-1.5v6.3h-1.5v-3.0h-1.5v-6.0h-1.5v-5.0h-1.5v6.0h-1.5v2.0h-1.5v-0.6h-1.5v8.7h-1.5v-4.2h-1.5v1.4h-1.5v6.5h-1.5v-7.3h-1.5v-0.4h-1.5v2.9h-1.5v-5.3h-1.5v7.4h-1.5v-3.8h-1.5v-4.6h-1.5v-4.6h-1.5v8.1h-1.5v-1.0h-1.5v6.7h-1.5v-13.0h-1.5v7.5h-1.5v0.1h-1.5v-5.2h-1.5v7.0h-1.5v0.0h-1.5v-12.2h-1.5v-4.4h-1.5v3.8h-1.5v1.2h-1.5v2.2h-1.5v-5.0h-1.5v4.4h-1.5v3.7h-1.5v-5.1h-1.5v4.4h-1.5v-5.7h-1.5v4.7h-1.5v2.6h-1.5v-4.8h-1.5v0.1h-1.5v3.6h-1.5v-1.7h-1.5v-1.7h-1.5v5.1h-1.5v-2.3h-1.5v2.9h-1.5v-6.0h-1.5v3.5h-1.5v-3.0h-1.5v4.1h-1.5v-3.7h-1.5v10.1h-1.5v-11.9h-1.5v7.9h-1.5v-4.3h-1.5v4.5h-1.5v4.0h-1.5v-6.1h-1.5v3.1h-1.5v-8.9h-1.5v-2.0h-1.5v6.9h-1.5v1.7h-1.5v-1.8h-1.5v-2.9h-1.5v2.2h-1.5v1.7h-1.5v-2.1h-1.5v-7.4h-1.5v2.3h-1.5v-11.0h-1.5v-0.0h-1.5v8.1h-1.5v-6.3h-1.5v-0.8h-1.5v9.8h-1.5v-0.0h-1.5v-6.0h-1.5v-0.0h-1.5v3.8h-1.5v7.5h-1.5v-7.9h-1.5v2.1h-1.5v1.8h-1.5v-5.2h-1.5v4.5h-1.5v-6.0h-1.5v3.3h-1.5v-4.2h-1.5v7.9h-1.5v1.4h-1.5v3.1h-1.5v-4.3h-1.5v5.3h-1.5v0.8h-1.5v-7.2h-1.5v-0.7h-1.5v-1.8h-1.5v1.5h-1.5v-4.3h-1.5v7.5h-1.5v-4.0h-1.5v-5.3h-1.5v0.1h-1.5v8.0h-1.5v0.9h-1.5v-0.4h-1.5v0.8h-1.5v2.0h-1.5v-0.7h-1.5v-1.6h-1.5v7.6h-1.5v-5.5h-1.5v10.0h-1.5v-7.9h-1.5v-5.4h-1.5v7.8h-1.5v1.0h-1.5v-3.4h-1.5v-2.9h-1.5v-0.4h-1.5v2.1h-1.5v-2.0h-1.5v-12.8h-1.5v8.1h-1.5v1.1h-1.5v2.2h-1.5v-1.0h-1.5v1.4h-1.5v-3.4h-1.5v5.0h-1.5v-3.2h-1.5v10.2h-1.5v-9.1h-1.5v-4.2h-1.5v5.5h-1.5v-9.3h-1.5v10.3h-1.5v-1.3h-1.5v-6.5h-1.5v9.3h-1.5v-6.0h-1.5v0.1h-1.5v3.3h-1.5v-0.9h-1.5v-2.1h-1.5v8.7h-1.5v-1.4h-1.5v0.0h-1.5v3.5h-1.5v0.9h-1.5v-1.2h-1.5v-3.0h-1.5v0.1h-1.5v4.7h-1.5v-6.4h-1.5v5.9h-1.5v-11.8h-1.5v1.2h-1.5v6.6h-1.5v-4.6h-1.5v-5.2h-1.5v13.0h-1.5v-9.6h-1.5v-0.5h-1.5v1.6h-1.5v-3.9h-1.5v13.9h-1.5v-10.8h-1.5v4.6h-1.5v4.8h-1.5v2.1h-1.5v2.5h-1.5v-9.2h-1.5v4.5h-1.5v-3.5h-1.5v-5.1h-1.5v-1.6h-1.5v2.7h-1.5v-0.5h-1.5v-1.3h-1.5v-8.7h-1.5v2.1h-1.5v5.0h-1.5v-3.4h-1.5v-3.0h-1.5v1.1h-1.5v-1.3h-1.5v5.2h-1.5v-7.3h-1.5v15.2h-1.5v-17.7h-1.5v-2.5h-1.5v1.3h-1.5v0.0h-1.5v3.8h-1.5v-15.6h-1.5v8.0h-1.5v1.4h-1.5v-2.7h-1.5v-6.8h-1.5v11.6h-1.5v-6.1h-1.5v5.3h-1.5v10.0h-1.5v-2.3h-1.5v1.4h-1.5v-1.2h-1.5v3.4h-1.5v9.0h-1.5v1.2h-1.5v3.6h-1.5v-1.4h-1.5v-3.4h-1.5v-3.6h-1.5v4.8h-1.5v-4.3h-1.5v1.2h-1.5v-9.5h-1.5v5.8h-1.5v-6.3h-1.5v1.2h-1.5v7.1h-1.5v6.0h-1.5v-14.1h-1.5v23.2h-1.5v-21.8h-1.5v5.6h-1.5v4.4h-1.5v-9.9h-1.5v-2.6h-1.5v2.3h-1.5v-1.7h-1.5v-0.9h-1.5v-3.1h-1.5v-1.1h-1.5v4.7h-1.5v-2.7h-1.5v2.9h-1.5v-4.5h-1.5v-1.9h-1.5v7.1h-1.5v-1.6h-1.5v-2.5h-1.5v0.6h-1.5v2.1h-1.5v-4.7h-1.5v3.4h-1.5v-2.2h-1.5v2.7h-1.5v1.5h-1.5v-3.9h-1.5v-2.4h-1.5v-0.6h-1.5v3.1h-1.5v8.0h-1.5v1.6h-1.5v-4.9h-1.5v5.6h-1.5v-7.5h-1.5v11.5h-1.5v-12.6h-1.5v-2.0h-1.5v0.4h-1.5v-3.7h-1.5v8.8h-1.5v-3.8h-1.5v-4.9h-1.5v1.1h-1.5v1.9h-1.5v6.1h-1.5v1.9h-1.5v-3.4h-1.5v6.8h-1.5v-10.3h-1.5v5.6h-1.5v-0.6h-1.5v-4.0h-1.5v-0.2h-1.5v-2.7h-1.5v-6.6h-1.5v19.4h-1.5v-9.0h-1.5v5.9h-1.5v-0.8h-1.5v-8.6h-1.5v-6.2h-1.5v15.3h-1.5v-1.4h-1.5v-11.4h-1.5v0.9h-1.5v2.3h-1.5v11.8h-1.5v-4.5h-1.5v-0.5h-1.5v5.4h-1.5v-9.3h-1.5v11.7h-1.5v-6.8h-1.5v-2.7h-1.5v1.7h-1.5v-3.6h-1.5v-3.9h-1.5v9.3h-1.5v-3.5h-1.5v0.8h-1.5v3.5h-1.5v1.1h-1.5v2.6h-1.5v5.0h-1.5v-4.9h-1.5v2.4h-1.5v3.7h-1.5v-6.1h-1.5v-1.4h-1.5v7.8h-1.5v-1.7h-1.5v1.9h-1.5v-5.3h-1.5v-9.1h-1.5v7.7h-1.5v-3.0h-1.5v0.4h-1.5v3.3h-1.5v-0.5h-1.5v-3.2h-1.5v1.6h-1.5v6.3h-1.5v-8.7h-1.5v3.7h-1.5v0.8h-1.5v-5.5h-1.5v8.5h-1.5v-7.1h-1.5v6.8h-1.5v-0.7h-1.5v7.5h-1.5v-2.5h-1.5v4.6h-1.5v-6.6h-1.5v5.6h-1.5v-10.6h-1.5v3.5h-1.5v8.5h-1.5v-9.0h-1.5v6.8h-1.5v0.0h-1.5v3.6h-1.5v5.9h-1.5v-1.9h-1.5v-8.8h-1.5v0.8h-1.5v3.9h-1.5v1.9h-1.5v-7.6h-1.5v11.5h-1.5v-4.4h-1.5v6.4h-1.5v1.0h-1.5v-2.2h-1.5v-0.5h-1.5v3.1h-1.5v-5.7h-1.5v1.9h-1.5v0.4h-1.5v-6.9h-1.5v2.3h-1.5v0.1h-1.5v-1.9h-1.5v1.9h-1.5v2.2h-1.5v7.4h-1.5v-5.5h-1.5v6.1h-1.5v-10.5h-1.5v7.3h-1.5v-7.7h-1.5v4.9h-1.5v1.9h-1.5v2.1h-1.5v-8.8h-1.5v3.2h-1.5v4.2h-1.5v-9.3h-1.5v3.4h-1.5v2.1h-1.5v-4.4h-1.5v4.1h-1.5v-2.9h-1.5v9.9h-1.5v-1.5h-1.5v-2.6h-1.5v0.6h-1.5v4.1h-1.5v-6.0h-1.5v-6.2h-1.5v1.7h-1.5v-0.8h-1.5v10.7h-1.5v-2.1h-1.5v-8.4h-1.5v-2.2h-1.5v2.0h-1.5v1.6h-1.5v8.8h-1.5v-5.9h-1.5v-5.1h-1.5v2.1h-1.5v-2.7h-1.5v-3.1h-1.5v-3.5h-1.5v3.2h-1.5v-1.6h-1.5v1.5h-1.5v0.5h-1.5v-4.5h-1.5v-4.3h-1.5v3.3h-1.5v-1.2h-1.5v1.4h-1.5v-5.0h-1.5v-0.3h-1.5v6.8h-1.5v3.6h-1.5v-6.1h-1.5v9.4h-1.5v-3.0h-1.5v-8.2h-1.5v10.1h-1.5v3.7h-1.5v-7.3h-1.5v-2.1h-1.5v-0.3h-1.5v-8.3h-1.5v2.2h-1.5v17.3h-1.5v-21.0h-1.5v3.6h-1.5v7.4h-1.5v-2.0h-1.5v6.1h-1.5v-1.3h-1.5v-6.0h-1.5v12.8h-1.5v-9.0h-1.5v1.8h-1.5v-11.5h-1.5v6.6h-1.5v9.3h-1.5v4.3h-1.5v-7.6h-1.5v8.2h-1.5v-16.0h-1.5v-0.1h-1.5v12.5h-1.5v-3.2h-1.5v-0.0h-1.5v3.8h-1.5v0.1h-1.5v-4.1h-1.5v-7.0h-1.5v1.3h-1.5v-7.8h-1.5v-4.7h-1.5v7.3h-1.5v-19.0h-1.5v-5.5h-1.5v-13.7h-1.5v1.9h-1.5Z" fill="#3f76b8" stroke="#3f76b8" stroke-width="5.0" stroke-linejoin="round"/>
<text transform="translate(150.8,514.9) scale(1.090,1)" font-family="Liberation Sans" font-size="22.3" font-weight="normal" text-anchor="end" fill="#000" >2.45</text>
<text transform="translate(150.8,565.8) scale(1.090,1)" font-family="Liberation Sans" font-size="22.3" font-weight="normal" text-anchor="end" fill="#000" >2.4</text>
<text transform="translate(150.8,616.6) scale(1.090,1)" font-family="Liberation Sans" font-size="22.3" font-weight="normal" text-anchor="end" fill="#000" >2.35</text>
<text transform="translate(150.8,667.5) scale(1.090,1)" font-family="Liberation Sans" font-size="22.3" font-weight="normal" text-anchor="end" fill="#000" >2.3</text>
<text transform="translate(150.8,718.5) scale(1.090,1)" font-family="Liberation Sans" font-size="22.3" font-weight="normal" text-anchor="end" fill="#000" >2.25</text>
<text transform="translate(150.8,769.4) scale(1.090,1)" font-family="Liberation Sans" font-size="22.3" font-weight="normal" text-anchor="end" fill="#000" >2.2</text>
<text transform="translate(150.8,820.2) scale(1.090,1)" font-family="Liberation Sans" font-size="22.3" font-weight="normal" text-anchor="end" fill="#000" >2.15</text>
<text transform="translate(150.8,871.2) scale(1.090,1)" font-family="Liberation Sans" font-size="22.3" font-weight="normal" text-anchor="end" fill="#000" >2.1</text>
<text transform="translate(150.8,922.0) scale(1.090,1)" font-family="Liberation Sans" font-size="22.3" font-weight="normal" text-anchor="end" fill="#000" >2.05</text>
<text transform="translate(158.0,940.4) scale(1.090,1)" font-family="Liberation Sans" font-size="22.3" font-weight="normal" text-anchor="middle" fill="#000" >0</text>
<text transform="translate(329.4,940.4) scale(1.090,1)" font-family="Liberation Sans" font-size="22.3" font-weight="normal" text-anchor="middle" fill="#000" >20</text>
<text transform="translate(520.7,940.4) scale(1.090,1)" font-family="Liberation Sans" font-size="22.3" font-weight="normal" text-anchor="middle" fill="#000" >40</text>
<text transform="translate(712.0,940.4) scale(1.090,1)" font-family="Liberation Sans" font-size="22.3" font-weight="normal" text-anchor="middle" fill="#000" >60</text>
<text transform="translate(903.3,940.4) scale(1.090,1)" font-family="Liberation Sans" font-size="22.3" font-weight="normal" text-anchor="middle" fill="#000" >80</text>
<text transform="translate(1094.6,940.4) scale(1.090,1)" font-family="Liberation Sans" font-size="22.3" font-weight="normal" text-anchor="middle" fill="#000" >100</text>
<text x="1170.0" y="522.9" font-family="Liberation Serif" font-size="44.5" font-weight="bold" text-anchor="middle" fill="#000" >B</text>
<path d="M126.5,1424.0 126.5,1184.6 133.3,1184.6 133.3,1244.4 138.4,1244.4 138.4,1304.3 140.1,1304.3 140.1,1274.3 143.5,1274.3 143.5,1244.4 145.2,1244.4 145.2,1214.5 150.3,1214.5 150.3,1184.6 155.4,1184.6 155.4,1214.5 157.1,1214.5 157.1,1244.4 158.8,1244.4 158.8,1214.5 162.2,1214.5 162.2,1184.6 163.9,1184.6 163.9,1244.4 165.6,1244.4 165.6,1214.5 167.3,1214.5 167.3,1244.4 169.0,1244.4 169.0,1214.5 179.2,1214.5 179.2,1184.6 180.9,1184.6 180.9,1214.5 182.6,1214.5 182.6,1184.6 186.0,1184.6 186.0,1214.5 191.1,1214.5 191.1,1154.6 192.8,1154.6 192.8,1214.5 197.9,1214.5 197.9,1154.6 199.6,1154.6 199.6,1184.6 206.4,1184.6 206.4,1154.6 208.1,1154.6 208.1,1214.5 209.8,1214.5 209.8,1184.6 218.3,1184.6 218.3,1214.5 223.4,1214.5 223.4,1184.6 226.8,1184.6 226.8,1214.5 231.9,1214.5 231.9,1151.6 233.6,1151.6 233.6,1274.3 235.3,1274.3 235.3,1244.4 240.4,1244.4 240.4,1115.7 242.1,1115.7 242.1,1154.6 243.8,1154.6 243.8,1214.5 248.9,1214.5 248.9,1184.6 259.1,1184.6 259.1,1244.4 260.8,1244.4 260.8,1184.6 262.5,1184.6 262.5,1214.5 265.9,1214.5 265.9,1184.6 267.6,1184.6 267.6,1154.6 269.3,1154.6 269.3,1184.6 271.0,1184.6 271.0,1214.5 281.2,1214.5 281.2,1244.4 282.9,1244.4 282.9,1184.6 286.3,1184.6 286.3,1154.6 288.0,1154.6 288.0,1184.6 291.4,1184.6 291.4,1151.6 293.1,1151.6 293.1,1154.6 294.8,1154.6 294.8,1184.6 296.5,1184.6 296.5,1214.5 298.2,1214.5 298.2,1184.6 299.9,1184.6 299.9,1154.6 301.6,1154.6 301.6,1184.6 305.0,1184.6 305.0,1244.4 308.4,1244.4 308.4,1184.6 311.8,1184.6 311.8,1214.5 315.2,1214.5 315.2,1304.3 316.9,1304.3 316.9,1244.4 318.6,1244.4 318.6,1184.6 323.7,1184.6 323.7,1244.4 325.4,1244.4 325.4,1214.5 328.8,1214.5 328.8,1274.3 330.5,1274.3 330.5,1214.5 332.2,1214.5 332.2,1244.4 333.9,1244.4 333.9,1214.5 335.6,1214.5 335.6,1244.4 337.3,1244.4 337.3,1214.5 340.7,1214.5 340.7,1244.4 344.1,1244.4 344.1,1214.5 345.8,1214.5 345.8,1244.4 349.2,1244.4 349.2,1214.5 352.6,1214.5 352.6,1184.6 356.0,1184.6 356.0,1214.5 359.4,1214.5 359.4,1274.3 361.1,1274.3 361.1,1214.5 364.5,1214.5 364.5,1244.4 366.2,1244.4 366.2,1214.5 371.3,1214.5 371.3,1274.3 373.0,1274.3 373.0,1214.5 390.0,1214.5 390.0,1274.3 391.7,1274.3 391.7,1214.5 393.4,1214.5 393.4,1244.4 395.1,1244.4 395.1,1274.3 396.8,1274.3 396.8,1214.5 400.2,1214.5 400.2,1244.4 401.9,1244.4 401.9,1274.3 403.6,1274.3 403.6,1214.5 410.4,1214.5 410.4,1244.4 412.1,1244.4 412.1,1184.6 413.8,1184.6 413.8,1094.8 415.5,1094.8 415.5,1244.4 417.2,1244.4 417.2,1274.3 418.9,1274.3 418.9,1184.6 420.6,1184.6 420.6,1274.3 422.3,1274.3 422.3,1184.6 427.4,1184.6 427.4,1214.5 429.1,1214.5 429.1,1184.6 430.8,1184.6 430.8,1094.8 432.5,1094.8 432.5,1214.5 434.2,1214.5 434.2,1244.4 435.9,1244.4 435.9,1154.6 439.3,1154.6 439.3,1121.7 441.0,1121.7 441.0,1124.7 444.4,1124.7 444.4,1184.6 447.8,1184.6 447.8,1214.5 451.2,1214.5 451.2,1154.6 452.9,1154.6 452.9,1244.4 454.6,1244.4 454.6,1214.5 458.0,1214.5 458.0,1154.6 459.7,1154.6 459.7,1184.6 464.8,1184.6 464.8,1244.4 468.2,1244.4 468.2,1214.5 469.9,1214.5 469.9,1184.6 471.6,1184.6 471.6,1214.5 473.3,1214.5 473.3,1184.6 475.0,1184.6 475.0,1154.6 478.4,1154.6 478.4,1184.6 480.1,1184.6 480.1,1244.4 481.8,1244.4 481.8,1124.7 483.5,1124.7 483.5,1184.6 486.9,1184.6 486.9,1214.5 488.6,1214.5 488.6,1184.6 490.3,1184.6 490.3,1094.8 492.0,1094.8 492.0,1154.6 493.7,1154.6 493.7,1184.6 495.4,1184.6 495.4,1154.6 497.1,1154.6 497.1,1184.6 498.8,1184.6 498.8,1154.6 502.2,1154.6 502.2,1184.6 507.3,1184.6 507.3,1154.6 509.0,1154.6 509.0,1094.8 510.7,1094.8 510.7,1154.6 517.5,1154.6 517.5,1184.6 519.2,1184.6 519.2,1124.7 520.9,1124.7 520.9,1154.6 524.3,1154.6 524.3,1214.5 526.0,1214.5 526.0,1124.7 529.4,1124.7 529.4,1184.6 534.5,1184.6 534.5,1214.5 536.2,1214.5 536.2,1184.6 539.6,1184.6 539.6,1124.7 541.3,1124.7 541.3,1214.5 543.0,1214.5 543.0,1154.6 544.7,1154.6 544.7,1184.6 549.8,1184.6 549.8,1154.6 554.9,1154.6 554.9,1124.7 556.6,1124.7 556.6,1184.6 563.4,1184.6 563.4,1124.7 566.8,1124.7 566.8,1184.6 568.5,1184.6 568.5,1244.4 570.2,1244.4 570.2,1184.6 575.3,1184.6 575.3,1094.8 577.0,1094.8 577.0,1124.7 580.4,1124.7 580.4,1184.6 583.8,1184.6 583.8,1124.7 585.5,1124.7 585.5,1184.6 588.9,1184.6 588.9,1124.7 590.6,1124.7 590.6,1214.5 592.3,1214.5 592.3,1124.7 595.7,1124.7 595.7,1184.6 597.4,1184.6 597.4,1124.7 599.1,1124.7 599.1,1154.6 609.3,1154.6 609.3,1124.7 612.8,1124.7 612.8,1154.6 614.5,1154.6 614.5,1094.8 617.9,1094.8 617.9,1124.7 619.6,1124.7 619.6,1094.8 621.3,1094.8 621.3,1031.9 623.0,1031.9 623.0,1124.7 624.7,1124.7 624.7,1094.8 626.4,1094.8 626.4,1088.8 628.1,1088.8 628.1,1124.7 631.5,1124.7 631.5,1154.6 634.9,1154.6 634.9,1094.8 636.6,1094.8 636.6,1154.6 638.3,1154.6 638.3,1214.5 640.0,1214.5 640.0,1244.4 641.7,1244.4 641.7,1184.6 645.1,1184.6 645.1,1214.5 646.8,1214.5 646.8,1154.6 650.2,1154.6 650.2,1184.6 653.6,1184.6 653.6,1124.7 655.3,1124.7 655.3,1184.6 660.4,1184.6 660.4,1154.6 667.2,1154.6 667.2,1124.7 668.9,1124.7 668.9,1154.6 674.0,1154.6 674.0,1214.5 675.7,1214.5 675.7,1184.6 677.4,1184.6 677.4,1094.8 679.1,1094.8 679.1,1214.5 680.8,1214.5 680.8,1184.6 684.2,1184.6 684.2,1145.7 685.9,1145.7 685.9,1184.6 696.1,1184.6 696.1,1214.5 699.5,1214.5 699.5,1184.6 706.3,1184.6 706.3,1214.5 708.0,1214.5 708.0,1184.6 709.7,1184.6 709.7,1214.5 713.1,1214.5 713.1,1154.6 716.5,1154.6 716.5,1184.6 718.2,1184.6 718.2,1154.6 719.9,1154.6 719.9,1184.6 721.6,1184.6 721.6,1154.6 723.3,1154.6 723.3,1124.7 725.0,1124.7 725.0,1184.6 731.8,1184.6 731.8,1214.5 735.2,1214.5 735.2,1184.6 742.0,1184.6 742.0,1214.5 743.7,1214.5 743.7,1184.6 745.4,1184.6 745.4,1214.5 748.8,1214.5 748.8,1184.6 752.2,1184.6 752.2,1244.4 753.9,1244.4 753.9,1184.6 760.7,1184.6 760.7,1154.6 762.4,1154.6 762.4,1184.6 769.2,1184.6 769.2,1154.6 772.6,1154.6 772.6,1184.6 776.0,1184.6 776.0,1154.6 782.8,1154.6 782.8,1184.6 784.5,1184.6 784.5,1154.6 787.9,1154.6 787.9,1184.6 791.3,1184.6 791.3,1214.5 793.0,1214.5 793.0,1184.6 796.4,1184.6 796.4,1124.7 799.8,1124.7 799.8,1115.7 801.5,1115.7 801.5,1214.5 803.2,1214.5 803.2,1154.6 808.3,1154.6 808.3,1184.6 815.1,1184.6 815.1,1274.3 816.8,1274.3 816.8,1214.5 818.5,1214.5 818.5,1184.6 820.2,1184.6 820.2,1154.6 821.9,1154.6 821.9,1184.6 827.0,1184.6 827.0,1154.6 828.7,1154.6 828.7,1184.6 832.1,1184.6 832.1,1124.7 833.8,1124.7 833.8,1154.6 837.2,1154.6 837.2,1184.6 838.9,1184.6 838.9,1214.5 844.0,1214.5 844.0,1184.6 845.7,1184.6 845.7,1214.5 847.4,1214.5 847.4,1184.6 849.1,1184.6 849.1,1124.7 852.5,1124.7 852.5,1154.6 855.9,1154.6 855.9,1184.6 857.6,1184.6 857.6,1154.6 861.0,1154.6 861.0,1184.6 864.4,1184.6 864.4,1244.4 866.1,1244.4 866.1,1184.6 869.5,1184.6 869.5,1214.5 871.2,1214.5 871.2,1184.6 872.9,1184.6 872.9,1214.5 878.0,1214.5 878.0,1184.6 879.7,1184.6 879.7,1214.5 883.1,1214.5 883.1,1184.6 888.2,1184.6 888.2,1154.6 891.6,1154.6 891.6,1184.6 893.3,1184.6 893.3,1154.6 895.0,1154.6 895.0,1184.6 896.7,1184.6 896.7,1124.7 898.4,1124.7 898.4,1154.6 901.8,1154.6 901.8,1214.5 903.5,1214.5 903.5,1184.6 905.2,1184.6 905.2,1154.6 908.6,1154.6 908.6,1214.5 910.3,1214.5 910.3,1061.8 912.0,1061.8 912.0,1184.6 917.1,1184.6 917.1,1124.7 918.8,1124.7 918.8,1184.6 920.5,1184.6 920.5,1124.7 922.2,1124.7 922.2,1184.6 923.9,1184.6 923.9,1154.6 925.6,1154.6 925.6,1184.6 929.0,1184.6 929.0,1274.3 930.7,1274.3 930.7,1064.8 932.4,1064.8 932.4,1154.6 934.1,1154.6 934.1,1184.6 935.8,1184.6 935.8,1154.6 937.5,1154.6 937.5,1184.6 939.2,1184.6 939.2,1154.6 940.9,1154.6 940.9,1214.5 944.3,1214.5 944.3,1154.6 946.0,1154.6 946.0,1214.5 947.7,1214.5 947.7,1154.6 949.4,1154.6 949.4,1214.5 951.1,1214.5 951.1,1154.6 956.2,1154.6 956.2,1214.5 957.9,1214.5 957.9,1154.6 961.3,1154.6 961.3,1214.5 963.0,1214.5 963.0,1184.6 969.8,1184.6 969.8,1154.6 971.5,1154.6 971.5,1094.8 973.2,1094.8 973.2,1154.6 978.3,1154.6 978.3,1100.8 980.0,1100.8 980.0,1184.6 985.1,1184.6 985.1,1214.5 986.8,1214.5 986.8,1184.6 988.5,1184.6 988.5,1154.6 993.6,1154.6 993.6,1094.8 995.3,1094.8 995.3,1154.6 998.7,1154.6 998.7,1094.8 1002.1,1094.8 1002.1,1124.7 1003.8,1124.7 1003.8,1154.6 1014.0,1154.6 1014.0,1184.6 1020.8,1184.6 1020.8,1154.6 1027.6,1154.6 1027.6,1124.7 1029.3,1124.7 1029.3,1184.6 1031.0,1184.6 1031.0,1154.6 1034.4,1154.6 1034.4,1214.5 1036.1,1214.5 1036.1,1154.6 1039.5,1154.6 1039.5,1184.6 1041.2,1184.6 1041.2,1154.6 1046.3,1154.6 1046.3,1184.6 1053.1,1184.6 1053.1,1124.7 1056.5,1124.7 1056.5,1154.6 1058.2,1154.6 1058.2,1184.6 1061.6,1184.6 1061.6,1154.6 1066.7,1154.6 1066.7,1184.6 1070.1,1184.6 1070.1,1154.6 1073.5,1154.6 1073.5,1184.6 1075.2,1184.6 1075.2,1214.5 1076.9,1214.5 1076.9,1244.4 1078.6,1244.4 1078.6,1184.6 1082.0,1184.6 1082.0,1214.5 1085.4,1214.5 1085.4,1184.6 1088.8,1184.6 1088.8,1214.5 1092.2,1214.5 1092.2,1244.4 1095.6,1244.4 1095.6,1184.6 1099.0,1184.6 1099.0,1424.0Z" fill="#90b64a" stroke="#90b64a" stroke-width="4.2" stroke-linejoin="round"/>
<path d="M126.5,1424.0 126.5,1184.6 129.9,1184.6 129.9,1151.6 131.6,1151.6 131.6,1214.5 135.0,1214.5 135.0,1154.6 136.7,1154.6 136.7,1124.7 138.4,1124.7 138.4,1184.6 140.1,1184.6 140.1,1154.6 141.8,1154.6 141.8,1214.5 145.2,1214.5 145.2,1154.6 148.6,1154.6 148.6,1214.5 152.0,1214.5 152.0,1244.4 153.7,1244.4 153.7,1274.3 155.4,1274.3 155.4,1154.6 157.1,1154.6 157.1,1274.3 158.8,1274.3 158.8,1214.5 162.2,1214.5 162.2,1184.6 165.6,1184.6 165.6,1214.5 167.3,1214.5 167.3,1274.3 170.7,1274.3 170.7,1214.5 174.1,1214.5 174.1,1184.6 175.8,1184.6 175.8,1244.4 177.5,1244.4 177.5,1184.6 179.2,1184.6 179.2,1304.3 180.9,1304.3 180.9,1244.4 182.6,1244.4 182.6,1214.5 184.3,1214.5 184.3,1304.3 187.7,1304.3 187.7,1274.3 192.8,1274.3 192.8,1244.4 194.5,1244.4 194.5,1160.6 196.2,1160.6 196.2,1184.6 197.9,1184.6 197.9,1214.5 201.3,1214.5 201.3,1124.7 203.0,1124.7 203.0,1184.6 206.4,1184.6 206.4,1148.6 208.1,1148.6 208.1,1184.6 213.2,1184.6 213.2,1214.5 216.6,1214.5 216.6,1184.6 220.0,1184.6 220.0,1274.3 221.7,1274.3 221.7,1214.5 225.1,1214.5 225.1,1244.4 226.8,1244.4 226.8,1214.5 230.2,1214.5 230.2,1154.6 231.9,1154.6 231.9,1244.4 233.6,1244.4 233.6,1304.3 235.3,1304.3 235.3,1244.4 237.0,1244.4 237.0,1214.5 242.1,1214.5 242.1,1244.4 247.2,1244.4 247.2,1214.5 252.3,1214.5 252.3,1274.3 254.0,1274.3 254.0,1244.4 259.1,1244.4 259.1,1184.6 260.8,1184.6 260.8,1151.6 262.5,1151.6 262.5,1214.5 269.3,1214.5 269.3,1184.6 272.7,1184.6 272.7,1214.5 274.4,1214.5 274.4,1154.6 276.1,1154.6 276.1,1184.6 279.5,1184.6 279.5,1244.4 281.2,1244.4 281.2,1154.6 282.9,1154.6 282.9,1148.6 284.6,1148.6 284.6,1154.6 288.0,1154.6 288.0,1184.6 291.4,1184.6 291.4,1214.5 294.8,1214.5 294.8,1184.6 301.6,1184.6 301.6,1154.6 303.3,1154.6 303.3,1214.5 308.4,1214.5 308.4,1244.4 311.8,1244.4 311.8,1214.5 313.5,1214.5 313.5,1244.4 315.2,1244.4 315.2,1184.6 316.9,1184.6 316.9,1244.4 318.6,1244.4 318.6,1184.6 325.4,1184.6 325.4,1214.5 328.8,1214.5 328.8,1274.3 332.2,1274.3 332.2,1214.5 333.9,1214.5 333.9,1244.4 337.3,1244.4 337.3,1184.6 339.0,1184.6 339.0,1214.5 344.1,1214.5 344.1,1154.6 345.8,1154.6 345.8,1214.5 349.2,1214.5 349.2,1184.6 352.6,1184.6 352.6,1244.4 354.3,1244.4 354.3,1274.3 356.0,1274.3 356.0,1304.3 357.7,1304.3 357.7,1244.4 359.4,1244.4 359.4,1214.5 366.2,1214.5 366.2,1184.6 367.9,1184.6 367.9,1148.6 369.6,1148.6 369.6,1274.3 371.3,1274.3 371.3,1244.4 373.0,1244.4 373.0,1214.5 381.5,1214.5 381.5,1184.6 383.2,1184.6 383.2,1148.6 384.9,1148.6 384.9,1214.5 388.3,1214.5 388.3,1184.6 390.0,1184.6 390.0,1214.5 393.4,1214.5 393.4,1244.4 395.1,1244.4 395.1,1214.5 403.6,1214.5 403.6,1175.6 405.3,1175.6 405.3,1214.5 408.7,1214.5 408.7,1184.6 410.4,1184.6 410.4,1214.5 415.5,1214.5 415.5,1184.6 422.3,1184.6 422.3,1214.5 424.0,1214.5 424.0,1184.6 425.7,1184.6 425.7,1214.5 427.4,1214.5 427.4,1184.6 434.2,1184.6 434.2,1214.5 435.9,1214.5 435.9,1244.4 437.6,1244.4 437.6,1274.3 439.3,1274.3 439.3,1244.4 442.7,1244.4 442.7,1304.3 444.4,1304.3 444.4,1244.4 446.1,1244.4 446.1,1184.6 447.8,1184.6 447.8,1304.3 449.5,1304.3 449.5,1244.4 451.2,1244.4 451.2,1274.3 456.3,1274.3 456.3,1244.4 459.7,1244.4 459.7,1274.3 461.4,1274.3 461.4,1244.4 463.1,1244.4 463.1,1274.3 464.8,1274.3 464.8,1163.6 466.5,1163.6 466.5,1184.6 469.9,1184.6 469.9,1154.6 475.0,1154.6 475.0,1124.7 478.4,1124.7 478.4,1184.6 483.5,1184.6 483.5,1148.6 485.2,1148.6 485.2,1184.6 492.0,1184.6 492.0,1154.6 493.7,1154.6 493.7,1184.6 495.4,1184.6 495.4,1118.7 497.1,1118.7 497.1,1184.6 498.8,1184.6 498.8,1214.5 505.6,1214.5 505.6,1154.6 507.3,1154.6 507.3,1184.6 510.7,1184.6 510.7,1214.5 527.7,1214.5 527.7,1184.6 531.1,1184.6 531.1,1274.3 532.8,1274.3 532.8,1214.5 539.6,1214.5 539.6,1244.4 543.0,1244.4 543.0,1184.6 549.8,1184.6 549.8,1154.6 551.5,1154.6 551.5,1094.8 553.2,1094.8 553.2,1214.5 554.9,1214.5 554.9,1124.7 556.6,1124.7 556.6,1184.6 558.3,1184.6 558.3,1154.6 561.7,1154.6 561.7,1184.6 563.4,1184.6 563.4,1274.3 565.1,1274.3 565.1,1184.6 566.8,1184.6 566.8,1154.6 568.5,1154.6 568.5,1214.5 570.2,1214.5 570.2,1244.4 571.9,1244.4 571.9,1184.6 573.6,1184.6 573.6,1244.4 575.3,1244.4 575.3,1214.5 577.0,1214.5 577.0,1184.6 578.7,1184.6 578.7,1154.6 583.8,1154.6 583.8,1214.5 585.5,1214.5 585.5,1148.6 587.2,1148.6 587.2,1184.6 588.9,1184.6 588.9,1214.5 592.3,1214.5 592.3,1184.6 595.7,1184.6 595.7,1154.6 597.4,1154.6 597.4,1184.6 600.8,1184.6 600.8,1214.5 602.5,1214.5 602.5,1244.4 605.9,1244.4 605.9,1154.6 607.6,1154.6 607.6,1214.5 612.8,1214.5 612.8,1184.6 614.5,1184.6 614.5,1214.5 619.6,1214.5 619.6,1154.6 621.3,1154.6 621.3,1214.5 623.0,1214.5 623.0,1244.4 624.7,1244.4 624.7,1214.5 626.4,1214.5 626.4,1184.6 628.1,1184.6 628.1,1244.4 629.8,1244.4 629.8,1304.3 631.5,1304.3 631.5,1334.2 633.2,1334.2 633.2,1274.3 636.6,1274.3 636.6,1304.3 641.7,1304.3 641.7,1334.2 643.4,1334.2 643.4,1304.3 645.1,1304.3 645.1,1274.3 646.8,1274.3 646.8,1214.5 651.9,1214.5 651.9,1244.4 653.6,1244.4 653.6,1214.5 658.7,1214.5 658.7,1244.4 660.4,1244.4 660.4,1184.6 662.1,1184.6 662.1,1214.5 665.5,1214.5 665.5,1184.6 672.3,1184.6 672.3,1154.6 675.7,1154.6 675.7,1184.6 680.8,1184.6 680.8,1274.3 682.5,1274.3 682.5,1214.5 684.2,1214.5 684.2,1184.6 689.3,1184.6 689.3,1214.5 692.7,1214.5 692.7,1154.6 694.4,1154.6 694.4,1214.5 696.1,1214.5 696.1,1244.4 697.8,1244.4 697.8,1184.6 699.5,1184.6 699.5,1214.5 702.9,1214.5 702.9,1184.6 706.3,1184.6 706.3,1154.6 711.4,1154.6 711.4,1106.7 713.1,1106.7 713.1,1184.6 714.8,1184.6 714.8,1214.5 718.2,1214.5 718.2,1184.6 719.9,1184.6 719.9,1244.4 721.6,1244.4 721.6,1184.6 723.3,1184.6 723.3,1154.6 728.4,1154.6 728.4,1184.6 730.1,1184.6 730.1,1154.6 731.8,1154.6 731.8,1244.4 735.2,1244.4 735.2,1214.5 736.9,1214.5 736.9,1184.6 748.8,1184.6 748.8,1154.6 750.5,1154.6 750.5,1184.6 753.9,1184.6 753.9,1244.4 755.6,1244.4 755.6,1214.5 759.0,1214.5 759.0,1124.7 760.7,1124.7 760.7,1214.5 767.5,1214.5 767.5,1184.6 769.2,1184.6 769.2,1154.6 770.9,1154.6 770.9,1214.5 774.3,1214.5 774.3,1154.6 776.0,1154.6 776.0,1184.6 781.1,1184.6 781.1,1214.5 782.8,1214.5 782.8,1154.6 784.5,1154.6 784.5,1184.6 787.9,1184.6 787.9,1214.5 789.6,1214.5 789.6,1184.6 791.3,1184.6 791.3,1244.4 793.0,1244.4 793.0,1214.5 794.7,1214.5 794.7,1184.6 801.5,1184.6 801.5,1244.4 803.2,1244.4 803.2,1214.5 804.9,1214.5 804.9,1184.6 806.6,1184.6 806.6,1124.7 808.3,1124.7 808.3,1214.5 811.7,1214.5 811.7,1184.6 813.4,1184.6 813.4,1124.7 815.1,1124.7 815.1,1214.5 816.8,1214.5 816.8,1184.6 820.2,1184.6 820.2,1154.6 825.3,1154.6 825.3,1184.6 835.5,1184.6 835.5,1154.6 837.2,1154.6 837.2,1184.6 838.9,1184.6 838.9,1244.4 840.6,1244.4 840.6,1154.6 842.3,1154.6 842.3,1274.3 844.0,1274.3 844.0,1154.6 845.7,1154.6 845.7,1214.5 849.1,1214.5 849.1,1184.6 850.8,1184.6 850.8,1214.5 859.3,1214.5 859.3,1184.6 861.0,1184.6 861.0,1121.7 862.7,1121.7 862.7,1214.5 864.4,1214.5 864.4,1244.4 866.1,1244.4 866.1,1214.5 871.2,1214.5 871.2,1184.6 874.6,1184.6 874.6,1244.4 878.0,1244.4 878.0,1184.6 879.7,1184.6 879.7,1154.6 883.1,1154.6 883.1,1184.6 886.5,1184.6 886.5,1124.7 888.2,1124.7 888.2,1184.6 893.3,1184.6 893.3,1154.6 895.0,1154.6 895.0,1274.3 896.7,1274.3 896.7,1214.5 898.4,1214.5 898.4,1244.4 900.1,1244.4 900.1,1274.3 901.8,1274.3 901.8,1184.6 903.5,1184.6 903.5,1124.7 905.2,1124.7 905.2,1184.6 908.6,1184.6 908.6,1154.6 912.0,1154.6 912.0,1214.5 913.7,1214.5 913.7,1124.7 915.4,1124.7 915.4,1214.5 917.1,1214.5 917.1,1184.6 920.5,1184.6 920.5,1154.6 922.2,1154.6 922.2,1184.6 925.6,1184.6 925.6,1154.6 927.3,1154.6 927.3,1214.5 930.7,1214.5 930.7,1184.6 932.4,1184.6 932.4,1244.4 934.1,1244.4 934.1,1214.5 944.3,1214.5 944.3,1244.4 946.0,1244.4 946.0,1154.6 947.7,1154.6 947.7,1214.5 951.1,1214.5 951.1,1244.4 954.5,1244.4 954.5,1274.3 956.2,1274.3 956.2,1244.4 957.9,1244.4 957.9,1214.5 961.3,1214.5 961.3,1184.6 964.7,1184.6 964.7,1124.7 966.4,1124.7 966.4,1274.3 968.1,1274.3 968.1,1244.4 969.8,1244.4 969.8,1214.5 974.9,1214.5 974.9,1244.4 976.6,1244.4 976.6,1214.5 980.0,1214.5 980.0,1121.7 981.7,1121.7 981.7,1214.5 986.8,1214.5 986.8,1244.4 990.2,1244.4 990.2,1184.6 993.6,1184.6 993.6,1214.5 995.3,1214.5 995.3,1274.3 997.0,1274.3 997.0,1244.4 998.7,1244.4 998.7,1184.6 1000.4,1184.6 1000.4,1304.3 1002.1,1304.3 1002.1,1244.4 1003.8,1244.4 1003.8,1214.5 1005.5,1214.5 1005.5,1142.7 1007.2,1142.7 1007.2,1274.3 1008.9,1274.3 1008.9,1184.6 1012.3,1184.6 1012.3,1244.4 1015.7,1244.4 1015.7,1274.3 1017.4,1274.3 1017.4,1214.5 1019.1,1214.5 1019.1,1244.4 1024.2,1244.4 1024.2,1214.5 1025.9,1214.5 1025.9,1274.3 1027.6,1274.3 1027.6,1304.3 1029.3,1304.3 1029.3,1244.4 1034.4,1244.4 1034.4,1214.5 1037.8,1214.5 1037.8,1334.2 1039.5,1334.2 1039.5,1214.5 1042.9,1214.5 1042.9,1244.4 1044.6,1244.4 1044.6,1274.3 1048.0,1274.3 1048.0,1214.5 1049.7,1214.5 1049.7,1184.6 1051.4,1184.6 1051.4,1151.6 1053.1,1151.6 1053.1,1214.5 1054.8,1214.5 1054.8,1244.4 1056.5,1244.4 1056.5,1214.5 1058.2,1214.5 1058.2,1244.4 1063.3,1244.4 1063.3,1184.6 1066.7,1184.6 1066.7,1244.4 1068.4,1244.4 1068.4,1184.6 1071.8,1184.6 1071.8,1244.4 1073.5,1244.4 1073.5,1184.6 1075.2,1184.6 1075.2,1244.4 1076.9,1244.4 1076.9,1214.5 1078.6,1214.5 1078.6,1172.6 1080.3,1172.6 1080.3,1244.4 1083.7,1244.4 1083.7,1214.5 1087.1,1214.5 1087.1,1244.4 1090.5,1244.4 1090.5,1214.5 1092.2,1214.5 1092.2,1184.6 1095.6,1184.6 1095.6,1244.4 1099.0,1244.4 1099.0,1424.0Z" fill="#bb3e3c" stroke="#bb3e3c" stroke-width="4.2" stroke-linejoin="round"/>
<path d="M176.6,1244.4 176.6,1124.7" fill="none" stroke="#3aa6c8" stroke-width="4.5" stroke-linejoin="round" stroke-linecap="round"/>
<path d="M141.0,1244.4 141.0,1184.6 143.0,1184.6 143.0,1244.4" fill="none" stroke="#3aa6c8" stroke-width="4.0" stroke-linejoin="round" stroke-linecap="round"/>
<path d="M149.0,1244.4 149.0,1199.5" fill="none" stroke="#3aa6c8" stroke-width="4.0" stroke-linejoin="round" stroke-linecap="round"/>
<path d="M170.0,1244.4 170.0,1175.6 173.0,1175.6 173.0,1244.4" fill="none" stroke="#3aa6c8" stroke-width="4.0" stroke-linejoin="round" stroke-linecap="round"/>
<path d="M126.5,1424.0 126.5,1274.3 129.9,1274.3 129.9,1244.4 131.6,1244.4 131.6,1304.3 133.3,1304.3 133.3,1274.3 135.0,1274.3 135.0,1304.3 141.8,1304.3 141.8,1244.4 143.5,1244.4 143.5,1214.5 145.2,1214.5 145.2,1244.4 148.6,1244.4 148.6,1214.5 152.0,1214.5 152.0,1274.3 153.7,1274.3 153.7,1364.1 155.4,1364.1 155.4,1334.2 157.1,1334.2 157.1,1394.1 160.5,1394.1 160.5,1364.1 165.6,1364.1 165.6,1424.0 167.3,1424.0 167.3,1394.1 174.1,1394.1 174.1,1364.1 177.5,1364.1 177.5,1394.1 179.2,1394.1 179.2,1364.1 189.4,1364.1 189.4,1334.2 191.1,1334.2 191.1,1364.1 203.0,1364.1 203.0,1394.1 206.4,1394.1 206.4,1364.1 208.1,1364.1 208.1,1334.2 211.5,1334.2 211.5,1394.1 214.9,1394.1 214.9,1274.3 216.6,1274.3 216.6,1304.3 218.3,1304.3 218.3,1394.1 220.0,1394.1 220.0,1334.2 221.7,1334.2 221.7,1244.4 223.4,1244.4 223.4,1274.3 225.1,1274.3 225.1,1214.5 226.8,1214.5 226.8,1244.4 228.5,1244.4 228.5,1214.5 231.9,1214.5 231.9,1244.4 233.6,1244.4 233.6,1214.5 237.0,1214.5 237.0,1364.1 238.7,1364.1 238.7,1274.3 245.5,1274.3 245.5,1334.2 247.2,1334.2 247.2,1274.3 250.6,1274.3 250.6,1244.4 254.0,1244.4 254.0,1274.3 255.7,1274.3 255.7,1244.4 257.4,1244.4 257.4,1274.3 259.1,1274.3 259.1,1304.3 262.5,1304.3 262.5,1274.3 265.9,1274.3 265.9,1244.4 267.6,1244.4 267.6,1274.3 269.3,1274.3 269.3,1244.4 274.4,1244.4 274.4,1274.3 276.1,1274.3 276.1,1244.4 286.3,1244.4 286.3,1274.3 291.4,1274.3 291.4,1304.3 293.1,1304.3 293.1,1334.2 294.8,1334.2 294.8,1274.3 296.5,1274.3 296.5,1244.4 298.2,1244.4 298.2,1274.3 301.6,1274.3 301.6,1244.4 305.0,1244.4 305.0,1274.3 310.1,1274.3 310.1,1244.4 311.8,1244.4 311.8,1304.3 313.5,1304.3 313.5,1244.4 320.3,1244.4 320.3,1163.6 322.0,1163.6 322.0,1214.5 325.4,1214.5 325.4,1244.4 328.8,1244.4 328.8,1214.5 332.2,1214.5 332.2,1304.3 333.9,1304.3 333.9,1244.4 339.0,1244.4 339.0,1214.5 340.7,1214.5 340.7,1244.4 342.4,1244.4 342.4,1304.3 344.1,1304.3 344.1,1274.3 345.8,1274.3 345.8,1244.4 354.3,1244.4 354.3,1274.3 357.7,1274.3 357.7,1334.2 361.1,1334.2 361.1,1274.3 366.2,1274.3 366.2,1304.3 367.9,1304.3 367.9,1274.3 373.0,1274.3 373.0,1334.2 376.4,1334.2 376.4,1304.3 381.5,1304.3 381.5,1274.3 384.9,1274.3 384.9,1211.5 386.6,1211.5 386.6,1244.4 388.3,1244.4 388.3,1304.3 395.1,1304.3 395.1,1274.3 398.5,1274.3 398.5,1304.3 400.2,1304.3 400.2,1274.3 401.9,1274.3 401.9,1241.4 403.6,1241.4 403.6,1274.3 405.3,1274.3 405.3,1244.4 407.0,1244.4 407.0,1304.3 412.1,1304.3 412.1,1334.2 417.2,1334.2 417.2,1274.3 418.9,1274.3 418.9,1334.2 420.6,1334.2 420.6,1304.3 435.9,1304.3 435.9,1364.1 437.6,1364.1 437.6,1304.3 441.0,1304.3 441.0,1334.2 442.7,1334.2 442.7,1364.1 446.1,1364.1 446.1,1334.2 449.5,1334.2 449.5,1304.3 451.2,1304.3 451.2,1334.2 454.6,1334.2 454.6,1304.3 456.3,1304.3 456.3,1334.2 459.7,1334.2 459.7,1304.3 463.1,1304.3 463.1,1394.1 464.8,1394.1 464.8,1364.1 466.5,1364.1 466.5,1304.3 469.9,1304.3 469.9,1334.2 478.4,1334.2 478.4,1304.3 480.1,1304.3 480.1,1334.2 485.2,1334.2 485.2,1364.1 488.6,1364.1 488.6,1304.3 492.0,1304.3 492.0,1334.2 500.5,1334.2 500.5,1304.3 509.0,1304.3 509.0,1364.1 510.7,1364.1 510.7,1304.3 512.4,1304.3 512.4,1364.1 514.1,1364.1 514.1,1334.2 524.3,1334.2 524.3,1304.3 527.7,1304.3 527.7,1334.2 529.4,1334.2 529.4,1304.3 534.5,1304.3 534.5,1274.3 536.2,1274.3 536.2,1304.3 537.9,1304.3 537.9,1364.1 539.6,1364.1 539.6,1274.3 541.3,1274.3 541.3,1304.3 556.6,1304.3 556.6,1238.4 558.3,1238.4 558.3,1304.3 560.0,1304.3 560.0,1364.1 561.7,1364.1 561.7,1304.3 563.4,1304.3 563.4,1274.3 568.5,1274.3 568.5,1304.3 573.6,1304.3 573.6,1274.3 575.3,1274.3 575.3,1304.3 578.7,1304.3 578.7,1274.3 580.4,1274.3 580.4,1304.3 588.9,1304.3 588.9,1274.3 592.3,1274.3 592.3,1244.4 594.0,1244.4 594.0,1304.3 595.7,1304.3 595.7,1244.4 597.4,1244.4 597.4,1304.3 604.2,1304.3 604.2,1274.3 617.9,1274.3 617.9,1244.4 619.6,1244.4 619.6,1274.3 621.3,1274.3 621.3,1244.4 624.7,1244.4 624.7,1274.3 626.4,1274.3 626.4,1214.5 628.1,1214.5 628.1,1244.4 636.6,1244.4 636.6,1274.3 641.7,1274.3 641.7,1214.5 643.4,1214.5 643.4,1274.3 646.8,1274.3 646.8,1304.3 648.5,1304.3 648.5,1244.4 653.6,1244.4 653.6,1274.3 658.7,1274.3 658.7,1334.2 660.4,1334.2 660.4,1211.5 662.1,1211.5 662.1,1274.3 663.8,1274.3 663.8,1304.3 665.5,1304.3 665.5,1274.3 670.6,1274.3 670.6,1304.3 672.3,1304.3 672.3,1274.3 674.0,1274.3 674.0,1304.3 680.8,1304.3 680.8,1274.3 682.5,1274.3 682.5,1304.3 684.2,1304.3 684.2,1244.4 687.6,1244.4 687.6,1334.2 689.3,1334.2 689.3,1214.5 691.0,1214.5 691.0,1274.3 696.1,1274.3 696.1,1304.3 701.2,1304.3 701.2,1244.4 704.6,1244.4 704.6,1274.3 706.3,1274.3 706.3,1304.3 711.4,1304.3 711.4,1364.1 713.1,1364.1 713.1,1304.3 718.2,1304.3 718.2,1364.1 719.9,1364.1 719.9,1304.3 721.6,1304.3 721.6,1274.3 725.0,1274.3 725.0,1304.3 726.7,1304.3 726.7,1274.3 728.4,1274.3 728.4,1304.3 730.1,1304.3 730.1,1244.4 733.5,1244.4 733.5,1334.2 736.9,1334.2 736.9,1244.4 738.6,1244.4 738.6,1304.3 742.0,1304.3 742.0,1274.3 743.7,1274.3 743.7,1244.4 747.1,1244.4 747.1,1274.3 755.6,1274.3 755.6,1304.3 757.3,1304.3 757.3,1214.5 759.0,1214.5 759.0,1364.1 760.7,1364.1 760.7,1274.3 762.4,1274.3 762.4,1304.3 765.8,1304.3 765.8,1244.4 769.2,1244.4 769.2,1304.3 772.6,1304.3 772.6,1334.2 776.0,1334.2 776.0,1274.3 782.8,1274.3 782.8,1304.3 784.5,1304.3 784.5,1274.3 787.9,1274.3 787.9,1304.3 789.6,1304.3 789.6,1244.4 791.3,1244.4 791.3,1304.3 794.7,1304.3 794.7,1274.3 796.4,1274.3 796.4,1304.3 799.8,1304.3 799.8,1274.3 801.5,1274.3 801.5,1364.1 803.2,1364.1 803.2,1214.5 804.9,1214.5 804.9,1304.3 806.6,1304.3 806.6,1274.3 808.3,1274.3 808.3,1394.1 810.0,1394.1 810.0,1274.3 813.4,1274.3 813.4,1304.3 816.8,1304.3 816.8,1274.3 825.3,1274.3 825.3,1304.3 827.0,1304.3 827.0,1274.3 833.8,1274.3 833.8,1304.3 837.2,1304.3 837.2,1214.5 838.9,1214.5 838.9,1274.3 842.3,1274.3 842.3,1304.3 844.0,1304.3 844.0,1274.3 847.4,1274.3 847.4,1304.3 850.8,1304.3 850.8,1274.3 854.2,1274.3 854.2,1244.4 857.6,1244.4 857.6,1274.3 862.7,1274.3 862.7,1244.4 864.4,1244.4 864.4,1274.3 867.8,1274.3 867.8,1334.2 869.5,1334.2 869.5,1244.4 872.9,1244.4 872.9,1214.5 874.6,1214.5 874.6,1304.3 876.3,1304.3 876.3,1274.3 881.4,1274.3 881.4,1304.3 884.8,1304.3 884.8,1244.4 886.5,1244.4 886.5,1274.3 889.9,1274.3 889.9,1244.4 891.6,1244.4 891.6,1274.3 898.4,1274.3 898.4,1244.4 900.1,1244.4 900.1,1304.3 903.5,1304.3 903.5,1364.1 905.2,1364.1 905.2,1244.4 906.9,1244.4 906.9,1274.3 910.3,1274.3 910.3,1304.3 912.0,1304.3 912.0,1274.3 915.4,1274.3 915.4,1304.3 920.5,1304.3 920.5,1274.3 925.6,1274.3 925.6,1304.3 927.3,1304.3 927.3,1334.2 929.0,1334.2 929.0,1274.3 934.1,1274.3 934.1,1304.3 937.5,1304.3 937.5,1244.4 939.2,1244.4 939.2,1274.3 944.3,1274.3 944.3,1244.4 946.0,1244.4 946.0,1274.3 947.7,1274.3 947.7,1304.3 952.8,1304.3 952.8,1214.5 956.2,1214.5 956.2,1274.3 957.9,1274.3 957.9,1244.4 959.6,1244.4 959.6,1184.6 961.3,1184.6 961.3,1304.3 964.7,1304.3 964.7,1214.5 966.4,1214.5 966.4,1304.3 969.8,1304.3 969.8,1244.4 973.2,1244.4 973.2,1274.3 981.7,1274.3 981.7,1304.3 983.4,1304.3 983.4,1274.3 985.1,1274.3 985.1,1304.3 993.6,1304.3 993.6,1274.3 995.3,1274.3 995.3,1304.3 1000.4,1304.3 1000.4,1274.3 1002.1,1274.3 1002.1,1364.1 1003.8,1364.1 1003.8,1304.3 1005.5,1304.3 1005.5,1274.3 1019.1,1274.3 1019.1,1214.5 1020.8,1214.5 1020.8,1274.3 1029.3,1274.3 1029.3,1304.3 1031.0,1304.3 1031.0,1334.2 1034.4,1334.2 1034.4,1274.3 1037.8,1274.3 1037.8,1304.3 1039.5,1304.3 1039.5,1274.3 1049.7,1274.3 1049.7,1304.3 1051.4,1304.3 1051.4,1274.3 1053.1,1274.3 1053.1,1304.3 1054.8,1304.3 1054.8,1208.5 1056.5,1208.5 1056.5,1274.3 1058.2,1274.3 1058.2,1304.3 1059.9,1304.3 1059.9,1274.3 1063.3,1274.3 1063.3,1244.4 1065.0,1244.4 1065.0,1274.3 1068.4,1274.3 1068.4,1304.3 1073.5,1304.3 1073.5,1244.4 1076.9,1244.4 1076.9,1274.3 1078.6,1274.3 1078.6,1304.3 1082.0,1304.3 1082.0,1274.3 1083.7,1274.3 1083.7,1304.3 1087.1,1304.3 1087.1,1274.3 1099.0,1274.3 1099.0,1424.0Z" fill="#3f76b8" stroke="#3f76b8" stroke-width="4.2" stroke-linejoin="round"/>
<rect x="337" y="1406" width="17" height="19" fill="#bb3e3c"/>
<rect x="585.5" y="1400" width="4" height="25" fill="#bb3e3c"/>
<rect x="845" y="1413" width="4" height="12" fill="#bb3e3c"/>
<text transform="translate(119.6,1011.0) scale(1.090,1)" font-family="Liberation Sans" font-size="22.3" font-weight="normal" text-anchor="end" fill="#000" >14</text>
<text transform="translate(119.6,1071.0) scale(1.090,1)" font-family="Liberation Sans" font-size="22.3" font-weight="normal" text-anchor="end" fill="#000" >12</text>
<text transform="translate(119.6,1131.0) scale(1.090,1)" font-family="Liberation Sans" font-size="22.3" font-weight="normal" text-anchor="end" fill="#000" >10</text>
<text transform="translate(119.6,1191.0) scale(1.090,1)" font-family="Liberation Sans" font-size="22.3" font-weight="normal" text-anchor="end" fill="#000" >8</text>
<text transform="translate(119.6,1251.0) scale(1.090,1)" font-family="Liberation Sans" font-size="22.3" font-weight="normal" text-anchor="end" fill="#000" >6</text>
<text transform="translate(119.6,1311.0) scale(1.090,1)" font-family="Liberation Sans" font-size="22.3" font-weight="normal" text-anchor="end" fill="#000" >4</text>
<text transform="translate(119.6,1371.0) scale(1.090,1)" font-family="Liberation Sans" font-size="22.3" font-weight="normal" text-anchor="end" fill="#000" >2</text>
<text transform="translate(119.6,1431.0) scale(1.090,1)" font-family="Liberation Sans" font-size="22.3" font-weight="normal" text-anchor="end" fill="#000" >0</text>
<text transform="translate(125.4,1450.0) scale(1.090,1)" font-family="Liberation Sans" font-size="22.3" font-weight="normal" text-anchor="middle" fill="#000" >0</text>
<text transform="translate(300.3,1450.0) scale(1.090,1)" font-family="Liberation Sans" font-size="22.3" font-weight="normal" text-anchor="middle" fill="#000" >20</text>
<text transform="translate(495.2,1450.0) scale(1.090,1)" font-family="Liberation Sans" font-size="22.3" font-weight="normal" text-anchor="middle" fill="#000" >40</text>
<text transform="translate(689.0,1450.0) scale(1.090,1)" font-family="Liberation Sans" font-size="22.3" font-weight="normal" text-anchor="middle" fill="#000" >60</text>
<text transform="translate(883.5,1450.0) scale(1.090,1)" font-family="Liberation Sans" font-size="22.3" font-weight="normal" text-anchor="middle" fill="#000" >80</text>
<text transform="translate(1079.0,1450.0) scale(1.090,1)" font-family="Liberation Sans" font-size="22.3" font-weight="normal" text-anchor="middle" fill="#000" >100</text>
<text transform="translate(1170.2,1021.0) scale(1.100,1)" font-family="Liberation Serif" font-size="43.5" font-weight="bold" text-anchor="middle" fill="#000" >C</text>
<text x="592.0" y="1469.8" font-family="Liberation Serif" font-size="33.5" font-weight="bold" text-anchor="middle" fill="#000" >Time (ns)</text>
<path d="M142.5,1618.2V1604.1h1.5v7.9h1.5v5.5h1.5v-6.6h1.5v8.9h1.5v0.2h1.5v-7.0h1.5v3.7h1.5v3.5h1.5v-3.5h1.5v6.6h1.5v0.4h1.5v-1.4h1.5v5.5h1.5v4.1h1.5v0.4h1.5v-0.6h1.5v4.1h1.5v-1.9h1.5v0.2h1.5v2.1h1.5v-2.8h1.5v1.3h1.5v2.0h1.5v-3.7h1.5v3.2h1.5v4.8h1.5v-5.4h1.5v-0.3h1.5v2.2h1.5v-1.4h1.5v-1.2h1.5v2.4h1.5v-7.0h1.5v4.4h1.5v1.7h1.5v2.6h1.5v0.2h1.5v-1.0h1.5v1.0h1.5v1.6h1.5v3.1h1.5v-5.3h1.5v-1.3h1.5v2.7h1.5v-5.0h1.5v3.0h1.5v0.4h1.5v-4.8h1.5v6.1h1.5v-0.0h1.5v-2.4h1.5v-6.2h1.5v4.4h1.5v-5.0h1.5v4.2h1.5v-0.6h1.5v2.1h1.5v-2.0h1.5v1.6h1.5v-2.3h1.5v-1.5h1.5v2.3h1.5v3.6h1.5v-0.4h1.5v2.1h1.5v-5.4h1.5v7.5h1.5v-8.2h1.5v1.9h1.5v0.7h1.5v-2.1h1.5v0.2h1.5v2.2h1.5v-0.8h1.5v0.2h1.5v2.2h1.5v3.5h1.5v-4.4h1.5v1.3h1.5v2.7h1.5v-3.0h1.5v2.5h1.5v-0.4h1.5v0.5h1.5v-1.8h1.5v3.6h1.5v-2.9h1.5v-0.8h1.5v0.7h1.5v-0.0h1.5v-5.5h1.5v4.7h1.5v-0.2h1.5v-3.0h1.5v3.5h1.5v2.6h1.5v0.0h1.5v-2.4h1.5v-5.1h1.5v4.7h1.5v3.9h1.5v-3.4h1.5v0.7h1.5v5.1h1.5v-5.6h1.5v6.4h1.5v-3.1h1.5v-1.6h1.5v2.7h1.5v0.8h1.5v0.5h1.5v-3.7h1.5v-1.6h1.5v-0.4h1.5v-3.3h1.5v-1.0h1.5v3.2h1.5v1.2h1.5v3.0h1.5v-3.3h1.5v2.6h1.5v2.9h1.5v-6.2h1.5v4.3h1.5v-0.8h1.5v-1.4h1.5v5.0h1.5v-0.8h1.5v0.7h1.5v3.0h1.5v-6.2h1.5v1.9h1.5v-2.8h1.5v1.5h1.5v0.3h1.5v0.0h1.5v-2.1h1.5v3.1h1.5v-1.2h1.5v1.0h1.5v1.9h1.5v0.7h1.5v0.3h1.5v1.1h1.5v-2.0h1.5v2.8h1.5v-2.2h1.5v0.7h1.5v2.3h1.5v-0.6h1.5v-3.3h1.5v1.8h1.5v-2.3h1.5v-2.7h1.5v1.6h1.5v-2.3h1.5v-1.8h1.5v1.6h1.5v-0.4h1.5v4.3h1.5v-0.4h1.5v2.4h1.5v-6.0h1.5v2.6h1.5v0.5h1.5v-0.6h1.5v3.8h1.5v-0.2h1.5v-1.4h1.5v0.6h1.5v-0.2h1.5v1.0h1.5v0.1h1.5v0.6h1.5v1.9h1.5v-3.7h1.5v-1.3h1.5v1.5h1.5v-2.6h1.5v5.9h1.5v-3.9h1.5v-2.6h1.5v2.6h1.5v-0.6h1.5v-1.0h1.5v5.4h1.5v-3.1h1.5v0.4h1.5v-0.6h1.5v1.0h1.5v-3.5h1.5v-0.9h1.5v-0.0h1.5v3.9h1.5v-1.4h1.5v2.9h1.5v-1.0h1.5v2.4h1.5v-1.0h1.5v-3.8h1.5v1.5h1.5v0.3h1.5v-0.2h1.5v-3.2h1.5v1.7h1.5v0.6h1.5v-1.0h1.5v5.5h1.5v-1.7h1.5v1.2h1.5v-1.5h1.5v-0.7h1.5v5.9h1.5v-2.3h1.5v1.4h1.5v-8.2h1.5v7.5h1.5v0.2h1.5v-5.1h1.5v0.7h1.5v-1.2h1.5v1.5h1.5v0.1h1.5v-2.6h1.5v-2.5h1.5v-2.4h1.5v1.2h1.5v0.1h1.5v2.4h1.5v-0.8h1.5v-1.0h1.5v-1.7h1.5v1.0h1.5v3.2h1.5v-0.7h1.5v-2.9h1.5v-0.5h1.5v2.9h1.5v-2.0h1.5v2.8h1.5v-2.8h1.5v2.0h1.5v6.4h1.5v-3.8h1.5v0.8h1.5v-0.6h1.5v0.1h1.5v2.5h1.5v-4.6h1.5v0.9h1.5v-4.1h1.5v5.8h1.5v2.8h1.5v-2.8h1.5v1.5h1.5v0.7h1.5v-1.2h1.5v-0.5h1.5v-4.4h1.5v7.5h1.5v0.5h1.5v-4.4h1.5v2.0h1.5v0.4h1.5v-3.0h1.5v-0.1h1.5v-0.6h1.5v1.0h1.5v-0.5h1.5v2.8h1.5v-0.6h1.5v0.6h1.5v1.5h1.5v-2.7h1.5v2.5h1.5v-2.1h1.5v-1.7h1.5v0.3h1.5v-0.5h1.5v-1.5h1.5v3.8h1.5v-2.6h1.5v4.8h1.5v2.3h1.5v-3.4h1.5v4.5h1.5v-0.3h1.5v-2.2h1.5v-1.3h1.5v0.9h1.5v-2.8h1.5v2.7h1.5v0.7h1.5v-0.9h1.5v-1.8h1.5v-1.6h1.5v1.8h1.5v3.8h1.5v-2.7h1.5v-1.4h1.5v-0.9h1.5v-1.0h1.5v-3.4h1.5v5.9h1.5v-0.5h1.5v0.5h1.5v-2.4h1.5v0.5h1.5v2.5h1.5v-3.9h1.5v2.8h1.5v-1.8h1.5v2.6h1.5v-2.2h1.5v0.6h1.5v0.3h1.5v-0.8h1.5v3.9h1.5v-0.6h1.5v0.7h1.5v1.9h1.5v-1.0h1.5v2.4h1.5v-4.6h1.5v1.1h1.5v4.3h1.5v-5.8h1.5v3.6h1.5v-1.3h1.5v1.3h1.5v0.8h1.5v0.9h1.5v-2.4h1.5v-1.8h1.5v1.3h1.5v2.3h1.5v0.2h1.5v-2.6h1.5v4.4h1.5v-1.2h1.5v0.2h1.5v-3.8h1.5v0.6h1.5v-1.2h1.5v0.1h1.5v3.0h1.5v-2.5h1.5v-0.9h1.5v2.9h1.5v-4.9h1.5v2.0h1.5v0.1h1.5v-0.4h1.5v-0.9h1.5v2.5h1.5v1.8h1.5v-0.2h1.5v-1.9h1.5v-2.6h1.5v4.1h1.5v-1.2h1.5v3.3h1.5v-1.5h1.5v-2.2h1.5v1.2h1.5v-0.0h1.5v-0.4h1.5v-0.5h1.5v0.0h1.5v-2.7h1.5v2.8h1.5v1.5h1.5v-0.4h1.5v3.8h1.5v-1.7h1.5v1.4h1.5v-2.0h1.5v0.7h1.5v-1.6h1.5v1.0h1.5v-3.9h1.5v2.7h1.5v1.0h1.5v-1.2h1.5v3.6h1.5v-1.3h1.5v-1.9h1.5v1.1h1.5v2.1h1.5v-4.1h1.5v2.8h1.5v-0.9h1.5v-2.8h1.5v1.0h1.5v2.0h1.5v-3.0h1.5v0.7h1.5v1.5h1.5v2.7h1.5v-0.3h1.5v-5.8h1.5v2.0h1.5v1.7h1.5v3.0h1.5v-2.9h1.5v-0.3h1.5v-2.0h1.5v1.8h1.5v1.2h1.5v-1.6h1.5v-0.5h1.5v2.2h1.5v5.0h1.5v-2.6h1.5v1.7h1.5v-1.2h1.5v-4.8h1.5v1.8h1.5v-3.0h1.5v3.5h1.5v-0.7h1.5v-1.5h1.5v2.2h1.5v-1.7h1.5v-2.6h1.5v1.2h1.5v2.6h1.5v-3.8h1.5v3.2h1.5v-1.1h1.5v-0.8h1.5v3.2h1.5v0.1h1.5v1.0h1.5v-0.8h1.5v-1.7h1.5v2.6h1.5v-0.8h1.5v-0.6h1.5v-1.3h1.5v1.6h1.5v1.2h1.5v-1.1h1.5v-1.2h1.5v4.2h1.5v-3.1h1.5v-3.0h1.5v1.6h1.5v1.2h1.5v-2.8h1.5v4.7h1.5v-3.9h1.5v-1.1h1.5v3.1h1.5v-1.9h1.5v1.2h1.5v0.7h1.5v1.7h1.5v-2.0h1.5v0.9h1.5v-2.0h1.5v0.4h1.5v-0.9h1.5v0.2h1.5v1.8h1.5v0.7h1.5v-0.6h1.5v0.5h1.5v-1.8h1.5v-0.1h1.5v0.4h1.5v-1.9h1.5v2.9h1.5v-1.0h1.5v-0.6h1.5v3.1h1.5v-1.8h1.5v1.7h1.5v-2.9h1.5v-1.7h1.5v0.9h1.5v1.3h1.5v0.1h1.5v-5.2h1.5v1.7h1.5v-0.5h1.5v-1.3h1.5v2.6h1.5v-0.7h1.5v1.8h1.5v-0.5h1.5v0.7h1.5v-0.2h1.5v-0.5h1.5v-1.2h1.5v0.4h1.5v0.7h1.5v0.6h1.5v-1.9h1.5v3.9h1.5v-0.2h1.5v0.4h1.5v-0.4h1.5v-0.9h1.5v1.4h1.5v-1.3h1.5v-1.3h1.5v2.2h1.5v-1.2h1.5v1.1h1.5v0.8h1.5v0.0h1.5v-3.2h1.5v4.7h1.5v-3.7h1.5v2.4h1.5v-1.3h1.5v-1.2h1.5v1.8h1.5v-1.0h1.5v3.0h1.5v-3.4h1.5v1.4h1.5v-1.1h1.5v-1.4h1.5v1.6h1.5v-0.8h1.5v-1.4h1.5v-0.8h1.5v2.3h1.5v-4.2h1.5v4.2h1.5v3.1h1.5v-2.7h1.5v-2.1h1.5v-1.3h1.5v3.3h1.5v-1.2h1.5v0.1h1.5v2.0h1.5v-6.2h1.5v5.5h1.5v-1.3h1.5v-0.5h1.5v2.0h1.5v-2.8h1.5v-0.1h1.5v-0.4h1.5v4.1h1.5V1663.5h-1.5v-1.5h-1.5v1.2h-1.5v-3.9h-1.5v4.1h-1.5v-0.8h-1.5v1.3h-1.5v-0.6h-1.5v-2.5h-1.5v2.7h-1.5v-4.2h-1.5v2.6h-1.5v1.0h-1.5v-0.3h-1.5v-0.2h-1.5v2.7h-1.5v-2.3h-1.5v-1.2h-1.5v1.0h-1.5v3.1h-1.5v-4.5h-1.5v0.0h-1.5v1.8h-1.5v-1.2h-1.5v2.6h-1.5v-2.8h-1.5v-0.8h-1.5v1.3h-1.5v2.8h-1.5v-4.9h-1.5v5.8h-1.5v1.0h-1.5v-1.7h-1.5v0.6h-1.5v0.7h-1.5v-1.7h-1.5v0.8h-1.5v-1.4h-1.5v0.7h-1.5v2.3h-1.5v-1.7h-1.5v-0.1h-1.5v1.8h-1.5v-3.5h-1.5v-1.9h-1.5v4.0h-1.5v-1.6h-1.5v-0.2h-1.5v3.0h-1.5v-1.4h-1.5v-1.5h-1.5v-2.5h-1.5v0.7h-1.5v-2.3h-1.5v2.3h-1.5v-0.0h-1.5v-1.0h-1.5v2.1h-1.5v-1.6h-1.5v-2.9h-1.5v3.7h-1.5v-0.8h-1.5v-2.1h-1.5v2.4h-1.5v2.4h-1.5v-0.9h-1.5v-1.5h-1.5v1.3h-1.5v0.7h-1.5v-2.3h-1.5v0.7h-1.5v2.4h-1.5v3.3h-1.5v-4.8h-1.5v2.3h-1.5v-1.0h-1.5v-1.2h-1.5v-1.2h-1.5v4.7h-1.5v-3.2h-1.5v1.4h-1.5v-0.3h-1.5v1.1h-1.5v1.0h-1.5v-2.5h-1.5v-1.2h-1.5v-0.8h-1.5v1.1h-1.5v0.6h-1.5v2.3h-1.5v-2.4h-1.5v1.5h-1.5v-0.8h-1.5v4.9h-1.5v-3.3h-1.5v-1.2h-1.5v-1.1h-1.5v-1.5h-1.5v2.4h-1.5v-1.1h-1.5v0.6h-1.5v2.2h-1.5v-1.8h-1.5v-1.2h-1.5v4.0h-1.5v-2.7h-1.5v0.9h-1.5v-1.1h-1.5v2.3h-1.5v-3.3h-1.5v3.4h-1.5v-3.1h-1.5v2.3h-1.5v1.3h-1.5v-3.0h-1.5v-0.9h-1.5v3.4h-1.5v-1.4h-1.5v-1.0h-1.5v-3.1h-1.5v5.7h-1.5v-6.9h-1.5v2.4h-1.5v1.7h-1.5v-2.6h-1.5v-0.4h-1.5v2.9h-1.5v-0.6h-1.5v-0.1h-1.5v2.9h-1.5v-2.4h-1.5v-1.7h-1.5v3.5h-1.5v-0.5h-1.5v2.5h-1.5v0.1h-1.5v0.4h-1.5v-2.7h-1.5v-0.7h-1.5v1.2h-1.5v-1.4h-1.5v-0.4h-1.5v1.7h-1.5v-2.9h-1.5v0.1h-1.5v1.7h-1.5v-1.9h-1.5v-1.7h-1.5v-0.2h-1.5v2.6h-1.5v1.2h-1.5v-0.1h-1.5v-0.6h-1.5v-2.9h-1.5v1.0h-1.5v0.9h-1.5v-3.5h-1.5v3.3h-1.5v1.9h-1.5v-1.7h-1.5v3.3h-1.5v-2.5h-1.5v0.1h-1.5v-0.4h-1.5v3.9h-1.5v-1.7h-1.5v-3.6h-1.5v1.1h-1.5v-3.5h-1.5v2.7h-1.5v-0.9h-1.5v1.5h-1.5v-1.3h-1.5v1.2h-1.5v0.9h-1.5v1.6h-1.5v-0.7h-1.5v0.3h-1.5v-3.3h-1.5v-1.8h-1.5v4.7h-1.5v-1.5h-1.5v1.0h-1.5v-2.1h-1.5v1.3h-1.5v-0.4h-1.5v3.4h-1.5v-2.9h-1.5v-3.6h-1.5v3.1h-1.5v1.9h-1.5v-2.1h-1.5v-0.8h-1.5v1.5h-1.5v-1.2h-1.5v-4.4h-1.5v3.0h-1.5v0.8h-1.5v-0.5h-1.5v-0.2h-1.5v-1.9h-1.5v3.2h-1.5v-0.9h-1.5v-0.5h-1.5v-0.6h-1.5v-1.0h-1.5v1.9h-1.5v1.8h-1.5v0.3h-1.5v3.5h-1.5v-1.3h-1.5v-0.1h-1.5v-3.1h-1.5v2.9h-1.5v-2.9h-1.5v0.6h-1.5v-1.5h-1.5v0.8h-1.5v3.6h-1.5v-0.8h-1.5v-2.0h-1.5v1.7h-1.5v-3.8h-1.5v6.7h-1.5v-5.8h-1.5v0.6h-1.5v3.0h-1.5v-1.6h-1.5v-1.1h-1.5v-1.3h-1.5v1.4h-1.5v-4.5h-1.5v2.4h-1.5v3.0h-1.5v-3.7h-1.5v-1.6h-1.5v-1.1h-1.5v1.3h-1.5v-1.4h-1.5v0.4h-1.5v1.8h-1.5v-0.7h-1.5v2.7h-1.5v-3.3h-1.5v1.9h-1.5v0.7h-1.5v-0.0h-1.5v0.4h-1.5v-2.2h-1.5v-1.4h-1.5v1.9h-1.5v2.1h-1.5v-1.8h-1.5v-1.1h-1.5v3.4h-1.5v0.6h-1.5v-2.1h-1.5v1.8h-1.5v-2.8h-1.5v1.0h-1.5v3.2h-1.5v3.7h-1.5v-1.3h-1.5v-2.9h-1.5v0.6h-1.5v0.3h-1.5v-3.8h-1.5v-0.3h-1.5v-0.8h-1.5v0.3h-1.5v1.6h-1.5v-3.7h-1.5v4.0h-1.5v-2.7h-1.5v0.6h-1.5v2.2h-1.5v-2.0h-1.5v1.0h-1.5v-2.5h-1.5v0.7h-1.5v-2.8h-1.5v2.8h-1.5v1.2h-1.5v-4.4h-1.5v3.6h-1.5v2.3h-1.5v-0.2h-1.5v-3.4h-1.5v3.1h-1.5v-1.0h-1.5v-0.7h-1.5v-1.5h-1.5v4.2h-1.5v-4.5h-1.5v3.3h-1.5v-3.1h-1.5v0.4h-1.5v-1.6h-1.5v2.8h-1.5v-0.3h-1.5v1.5h-1.5v-1.9h-1.5v-0.1h-1.5v1.6h-1.5v2.3h-1.5v-0.0h-1.5v-3.9h-1.5v-4.2h-1.5v4.0h-1.5v-3.0h-1.5v-0.8h-1.5v1.4h-1.5v-3.2h-1.5v3.3h-1.5v-1.4h-1.5v-1.6h-1.5v1.6h-1.5v-0.4h-1.5v-1.2h-1.5v2.1h-1.5v-0.8h-1.5v0.7h-1.5v4.6h-1.5v-4.3h-1.5v3.7h-1.5v-2.7h-1.5v5.6h-1.5v-4.1h-1.5v-4.0h-1.5v3.4h-1.5v2.7h-1.5v3.6h-1.5v-1.9h-1.5v-2.2h-1.5v2.9h-1.5v1.5h-1.5v0.1h-1.5v-3.3h-1.5v1.7h-1.5v1.3h-1.5v-2.5h-1.5v-2.9h-1.5v7.1h-1.5v-5.8h-1.5v-0.5h-1.5v0.2h-1.5v1.6h-1.5v0.6h-1.5v-1.9h-1.5v-0.2h-1.5v2.0h-1.5v-2.6h-1.5v1.4h-1.5v1.7h-1.5v-2.5h-1.5v-0.2h-1.5v-2.7h-1.5v0.6h-1.5v1.2h-1.5v-0.7h-1.5v-2.4h-1.5v5.7h-1.5v-1.0h-1.5v-2.9h-1.5v0.2h-1.5v-3.1h-1.5v1.1h-1.5v4.4h-1.5v-0.4h-1.5v-3.5h-1.5v0.2h-1.5v0.0h-1.5v-0.1h-1.5v2.8h-1.5v4.5h-1.5v-3.5h-1.5v-0.5h-1.5v-0.1h-1.5v-1.4h-1.5v5.1h-1.5v-7.6h-1.5v2.9h-1.5v-0.2h-1.5v-0.4h-1.5v-1.7h-1.5v-1.2h-1.5v-0.3h-1.5v2.1h-1.5v-2.0h-1.5v-1.4h-1.5v0.0h-1.5v-0.5h-1.5v-1.4h-1.5v2.2h-1.5v-2.2h-1.5v1.4h-1.5v3.0h-1.5v-1.7h-1.5v-0.7h-1.5v7.6h-1.5v-3.5h-1.5v0.1h-1.5v1.6h-1.5v-0.6h-1.5v-0.7h-1.5v-3.6h-1.5v4.4h-1.5v-3.3h-1.5v0.9h-1.5v-2.2h-1.5v-1.9h-1.5v-0.2h-1.5v1.7h-1.5v0.4h-1.5v-1.1h-1.5v2.0h-1.5v-1.4h-1.5v4.5h-1.5v-6.2h-1.5v4.8h-1.5v0.5h-1.5v-3.5h-1.5v2.2h-1.5v-0.9h-1.5v-3.8h-1.5v0.7h-1.5v-4.0h-1.5v10.1h-1.5v-8.5h-1.5v-0.8h-1.5v3.8h-1.5v-2.0h-1.5v1.7h-1.5v-3.0h-1.5v-3.9h-1.5v4.8h-1.5v-3.0h-1.5v5.4h-1.5v2.5h-1.5v-2.3h-1.5v-1.7h-1.5v-0.8h-1.5v3.2h-1.5v-0.0h-1.5v-4.1h-1.5v6.2h-1.5v0.1h-1.5v-5.0h-1.5v1.2h-1.5v-4.0h-1.5v0.7h-1.5v-2.0h-1.5v5.8h-1.5v-4.5h-1.5v2.2h-1.5v-2.1h-1.5v4.3h-1.5v-2.6h-1.5v0.4h-1.5v-1.3h-1.5v2.0h-1.5v5.2h-1.5v-5.9h-1.5v3.8h-1.5v-5.1h-1.5v5.5h-1.5v-0.3h-1.5v-4.1h-1.5v-0.3h-1.5v-1.3h-1.5v-0.6h-1.5v3.3h-1.5v2.1h-1.5v-2.9h-1.5v-4.2h-1.5v4.0h-1.5v-2.0h-1.5v2.5h-1.5v-1.9h-1.5v3.2h-1.5v-4.2h-1.5v-1.2h-1.5v2.6h-1.5v0.6h-1.5v-3.2h-1.5v1.7h-1.5v1.0h-1.5v-4.6h-1.5v0.3h-1.5v5.4h-1.5v-4.9h-1.5v-0.2h-1.5v1.8h-1.5v-1.6h-1.5v-0.8h-1.5v-1.6h-1.5v4.3h-1.5v2.0h-1.5v-0.6h-1.5v0.0h-1.5v6.1h-1.5v-9.2h-1.5v5.8h-1.5v0.9h-1.5v-0.5h-1.5v-3.3h-1.5v1.5h-1.5v0.7h-1.5v4.1h-1.5v-6.4h-1.5v-0.3h-1.5v-0.6h-1.5v4.6h-1.5v-0.4h-1.5v-2.8h-1.5v-0.6h-1.5v-1.7h-1.5v6.4h-1.5v-3.9h-1.5v-1.9h-1.5v3.1h-1.5v-0.3h-1.5v-5.3h-1.5v3.4h-1.5v-0.7h-1.5v0.7h-1.5v0.2h-1.5v-1.4h-1.5v0.8h-1.5v-2.3h-1.5v1.1h-1.5v3.6h-1.5v-2.6h-1.5v-3.2h-1.5v-2.8h-1.5v4.5h-1.5v-2.6h-1.5v-4.4h-1.5v-5.3h-1.5v3.4h-1.5v-3.2h-1.5v-1.8h-1.5v0.7h-1.5v-2.4h-1.5v-2.6h-1.5v2.3h-1.5v-2.6h-1.5v-4.6h-1.5v-3.7h-1.5v-0.8h-1.5Z" fill="#3f76b8" stroke="#3f76b8" stroke-width="3.2" stroke-linejoin="round"/>
<path d="M142.5,1625.7V1613.2h1.5v3.7h1.5v2.5h1.5v1.4h1.5v3.0h1.5v3.2h1.5v-5.3h1.5v2.0h1.5v2.8h1.5v-0.9h1.5v0.1h1.5v3.0h1.5v1.3h1.5v3.8h1.5v4.1h1.5v0.5h1.5v-3.7h1.5v5.9h1.5v-2.1h1.5v-0.7h1.5v-2.3h1.5v-1.4h1.5v-0.8h1.5v-5.9h1.5v7.4h1.5v-0.2h1.5v-1.5h1.5v1.6h1.5v-3.7h1.5v6.3h1.5v-0.1h1.5v-0.2h1.5v-1.0h1.5v3.0h1.5v0.6h1.5v1.9h1.5v-2.8h1.5v4.2h1.5v0.7h1.5v-3.0h1.5v-1.1h1.5v2.7h1.5v-2.0h1.5v0.9h1.5v-2.1h1.5v-2.4h1.5v-1.2h1.5v2.5h1.5v2.8h1.5v2.1h1.5v-3.5h1.5v4.5h1.5v-0.8h1.5v0.2h1.5v2.6h1.5v-6.0h1.5v-2.6h1.5v2.3h1.5v-2.9h1.5v-0.9h1.5v1.5h1.5v2.4h1.5v0.9h1.5v-2.2h1.5v-0.9h1.5v-0.7h1.5v-1.1h1.5v1.6h1.5v-2.3h1.5v0.1h1.5v2.5h1.5v2.4h1.5v-3.2h1.5v5.1h1.5v-1.8h1.5v1.6h1.5v1.3h1.5v-1.9h1.5v-0.7h1.5v3.2h1.5v-6.2h1.5v2.7h1.5v-1.2h1.5v1.0h1.5v1.3h1.5v0.6h1.5v1.1h1.5v-1.7h1.5v1.2h1.5v1.4h1.5v0.1h1.5v-0.4h1.5v-3.9h1.5v3.8h1.5v-2.6h1.5v1.3h1.5v1.2h1.5v-2.8h1.5v3.1h1.5v-0.5h1.5v1.1h1.5v-3.8h1.5v0.1h1.5v1.5h1.5v0.5h1.5v0.6h1.5v-0.2h1.5v-2.0h1.5v0.7h1.5v3.6h1.5v-10.8h1.5v8.8h1.5v1.6h1.5v-0.3h1.5v-3.7h1.5v-1.9h1.5v3.5h1.5v0.7h1.5v-1.0h1.5v-0.7h1.5v4.4h1.5v-0.0h1.5v-0.1h1.5v-1.1h1.5v3.1h1.5v-2.3h1.5v2.0h1.5v-1.9h1.5v-0.8h1.5v1.5h1.5v0.3h1.5v-4.8h1.5v3.3h1.5v0.6h1.5v3.3h1.5v-2.6h1.5v-3.8h1.5v6.0h1.5v-2.9h1.5v2.1h1.5v-1.8h1.5v1.9h1.5v1.4h1.5v-2.6h1.5v0.8h1.5v-0.7h1.5v1.7h1.5v-2.1h1.5v0.9h1.5v1.0h1.5v-2.0h1.5v5.8h1.5v-5.8h1.5v-2.9h1.5v0.9h1.5v2.1h1.5v-1.4h1.5v-2.1h1.5v5.2h1.5v-0.9h1.5v-0.1h1.5v-1.8h1.5v1.0h1.5v-1.8h1.5v1.6h1.5v1.8h1.5v1.2h1.5v2.8h1.5v-2.1h1.5v-3.7h1.5v2.4h1.5v0.2h1.5v-3.5h1.5v-0.5h1.5v2.4h1.5v-0.8h1.5v-1.6h1.5v-0.1h1.5v1.2h1.5v-0.1h1.5v-3.1h1.5v1.6h1.5v2.2h1.5v-0.4h1.5v-1.4h1.5v4.4h1.5v-0.2h1.5v-2.5h1.5v4.5h1.5v-1.3h1.5v0.9h1.5v-2.1h1.5v-1.1h1.5v-1.0h1.5v1.9h1.5v0.7h1.5v4.0h1.5v0.9h1.5v-1.2h1.5v-1.2h1.5v-2.6h1.5v3.0h1.5v-0.4h1.5v-0.5h1.5v-0.5h1.5v1.9h1.5v2.0h1.5v-1.7h1.5v-0.1h1.5v3.6h1.5v0.2h1.5v-1.7h1.5v-2.5h1.5v1.6h1.5v0.4h1.5v-1.6h1.5v0.9h1.5v2.6h1.5v2.6h1.5v-4.7h1.5v2.8h1.5v-0.1h1.5v-1.7h1.5v-2.3h1.5v-4.0h1.5v1.7h1.5v-2.3h1.5v-1.3h1.5v0.5h1.5v1.4h1.5v-0.5h1.5v1.4h1.5v-4.1h1.5v4.2h1.5v-0.3h1.5v-0.6h1.5v-1.5h1.5v2.3h1.5v3.1h1.5v0.2h1.5v0.7h1.5v-1.5h1.5v2.4h1.5v-2.5h1.5v-0.4h1.5v1.6h1.5v0.6h1.5v-2.2h1.5v1.8h1.5v-1.2h1.5v2.4h1.5v-3.0h1.5v2.2h1.5v-3.3h1.5v-0.5h1.5v5.2h1.5v-0.7h1.5v-3.0h1.5v1.4h1.5v-1.1h1.5v-1.4h1.5v1.6h1.5v-2.5h1.5v3.4h1.5v-2.7h1.5v-0.1h1.5v2.4h1.5v-1.7h1.5v3.1h1.5v-2.7h1.5v2.2h1.5v-0.7h1.5v4.1h1.5v-3.2h1.5v3.4h1.5v-1.0h1.5v-4.0h1.5v3.8h1.5v1.4h1.5v-2.3h1.5v0.7h1.5v0.3h1.5v-1.0h1.5v0.2h1.5v2.2h1.5v-2.3h1.5v2.9h1.5v-1.6h1.5v-1.9h1.5v2.1h1.5v-0.8h1.5v0.6h1.5v-1.4h1.5v-3.1h1.5v1.7h1.5v-1.3h1.5v-1.3h1.5v3.5h1.5v-0.6h1.5v2.3h1.5v-0.4h1.5v-3.1h1.5v1.8h1.5v-1.1h1.5v-2.2h1.5v0.4h1.5v0.1h1.5v1.9h1.5v-1.0h1.5v0.3h1.5v1.4h1.5v-0.2h1.5v0.6h1.5v-0.5h1.5v-0.2h1.5v0.4h1.5v1.1h1.5v0.9h1.5v-2.7h1.5v0.1h1.5v5.6h1.5v-6.2h1.5v1.3h1.5v-1.7h1.5v5.0h1.5v-1.2h1.5v-2.1h1.5v0.7h1.5v3.5h1.5v0.2h1.5v-2.3h1.5v-0.2h1.5v1.1h1.5v-1.3h1.5v-0.2h1.5v-0.8h1.5v1.2h1.5v-0.9h1.5v-0.7h1.5v0.6h1.5v3.4h1.5v-3.1h1.5v-3.2h1.5v2.5h1.5v-2.0h1.5v-1.1h1.5v3.4h1.5v-3.1h1.5v3.1h1.5v0.4h1.5v1.2h1.5v-1.5h1.5v1.3h1.5v-0.1h1.5v0.3h1.5v-0.8h1.5v0.0h1.5v1.2h1.5v-3.0h1.5v3.1h1.5v-0.4h1.5v-0.1h1.5v1.7h1.5v1.0h1.5v0.2h1.5v-2.0h1.5v0.3h1.5v1.1h1.5v-1.6h1.5v0.3h1.5v-0.4h1.5v-0.2h1.5v-0.3h1.5v-1.5h1.5v1.4h1.5v-0.8h1.5v1.6h1.5v-0.0h1.5v0.5h1.5v-0.7h1.5v1.1h1.5v1.1h1.5v1.2h1.5v-1.7h1.5v0.9h1.5v-1.8h1.5v0.3h1.5v-0.3h1.5v1.3h1.5v0.6h1.5v-0.6h1.5v-0.1h1.5v0.4h1.5v-0.2h1.5v1.2h1.5v-0.5h1.5v-1.2h1.5v1.6h1.5v-2.1h1.5v-1.1h1.5v1.5h1.5v-0.1h1.5v-3.6h1.5v0.6h1.5v0.5h1.5v0.8h1.5v-0.2h1.5v-1.2h1.5v2.4h1.5v0.4h1.5v0.2h1.5v-1.2h1.5v2.1h1.5v0.0h1.5v0.6h1.5v-3.1h1.5v1.9h1.5v-0.3h1.5v-0.3h1.5v1.2h1.5v1.1h1.5v-0.5h1.5v-2.2h1.5v-1.1h1.5v3.2h1.5v-1.7h1.5v2.2h1.5v-0.3h1.5v-0.6h1.5v-0.3h1.5v-0.0h1.5v-0.2h1.5v1.2h1.5v-0.7h1.5v0.3h1.5v-1.7h1.5v0.3h1.5v0.7h1.5v-0.8h1.5v-1.8h1.5v1.4h1.5v-0.3h1.5v1.3h1.5v-2.7h1.5v1.7h1.5v0.2h1.5v-3.8h1.5v4.1h1.5v-1.1h1.5v2.4h1.5v-2.0h1.5v0.9h1.5v0.2h1.5v-1.6h1.5v1.1h1.5v-4.1h1.5v2.7h1.5v-0.8h1.5v-0.3h1.5v-0.4h1.5v0.9h1.5v0.9h1.5v1.3h1.5v0.8h1.5v-1.4h1.5v1.9h1.5v-0.4h1.5v0.0h1.5v-2.8h1.5v-0.1h1.5v0.1h1.5v-0.9h1.5v0.8h1.5v0.8h1.5v-1.0h1.5v1.7h1.5v-1.1h1.5v-0.4h1.5v-0.9h1.5v3.7h1.5v-0.8h1.5v0.4h1.5v-1.6h1.5v1.6h1.5v-2.0h1.5v1.0h1.5v0.7h1.5v-0.3h1.5v0.6h1.5v-1.1h1.5v0.2h1.5v0.2h1.5v0.7h1.5v-1.0h1.5v-0.7h1.5v0.1h1.5v-1.1h1.5v0.3h1.5v1.3h1.5v-0.7h1.5v-0.3h1.5v1.1h1.5v-0.8h1.5v1.2h1.5v0.2h1.5v-1.8h1.5v-0.0h1.5v0.6h1.5v0.1h1.5v-2.2h1.5v-0.4h1.5v1.5h1.5v0.7h1.5v-0.4h1.5v1.4h1.5v-0.9h1.5v-0.0h1.5v1.2h1.5v2.1h1.5v-2.7h1.5v0.5h1.5v-1.5h1.5v0.3h1.5v1.4h1.5v0.1h1.5v-0.3h1.5v0.2h1.5v0.2h1.5v0.8h1.5v-0.4h1.5v1.6h1.5v-1.4h1.5v-1.0h1.5v1.5h1.5v-1.3h1.5v1.3h1.5v-1.0h1.5v-2.2h1.5v2.4h1.5v-1.1h1.5v1.9h1.5v0.6h1.5v-3.5h1.5v4.1h1.5v-2.0h1.5v-1.6h1.5v1.6h1.5v-2.3h1.5v0.7h1.5v0.0h1.5V1665.4h-1.5v-2.8h-1.5v0.6h-1.5v-0.4h-1.5v1.0h-1.5v-0.1h-1.5v1.7h-1.5v-0.8h-1.5v-0.1h-1.5v1.6h-1.5v-0.9h-1.5v-0.9h-1.5v-0.1h-1.5v0.7h-1.5v-1.0h-1.5v-0.3h-1.5v1.1h-1.5v-0.6h-1.5v0.5h-1.5v1.5h-1.5v-0.1h-1.5v-0.1h-1.5v0.2h-1.5v-0.5h-1.5v-1.8h-1.5v1.7h-1.5v-1.6h-1.5v-1.0h-1.5v-0.4h-1.5v1.0h-1.5v-0.5h-1.5v3.3h-1.5v-2.0h-1.5v-0.8h-1.5v3.0h-1.5v-4.2h-1.5v1.4h-1.5v-1.6h-1.5v1.7h-1.5v-0.1h-1.5v-2.0h-1.5v2.0h-1.5v-2.3h-1.5v1.4h-1.5v1.4h-1.5v1.2h-1.5v-1.4h-1.5v1.4h-1.5v-0.3h-1.5v-2.6h-1.5v-0.6h-1.5v3.4h-1.5v-2.1h-1.5v-0.5h-1.5v0.2h-1.5v0.7h-1.5v0.6h-1.5v1.5h-1.5v-0.1h-1.5v-1.7h-1.5v0.5h-1.5v-0.4h-1.5v1.8h-1.5v-2.0h-1.5v1.0h-1.5v-0.4h-1.5v-0.2h-1.5v0.8h-1.5v-1.2h-1.5v-0.4h-1.5v0.4h-1.5v-0.0h-1.5v-1.3h-1.5v1.5h-1.5v-1.3h-1.5v-1.8h-1.5v3.9h-1.5v-1.8h-1.5v-0.5h-1.5v-0.9h-1.5v3.9h-1.5v-3.1h-1.5v1.7h-1.5v2.8h-1.5v-1.4h-1.5v-1.4h-1.5v0.1h-1.5v0.1h-1.5v-2.2h-1.5v-1.0h-1.5v-0.2h-1.5v2.4h-1.5v-1.8h-1.5v2.4h-1.5v-1.3h-1.5v0.0h-1.5v0.6h-1.5v0.5h-1.5v0.1h-1.5v1.1h-1.5v-1.0h-1.5v-1.3h-1.5v1.9h-1.5v-3.4h-1.5v2.9h-1.5v-0.1h-1.5v-2.9h-1.5v2.4h-1.5v-1.8h-1.5v0.9h-1.5v-0.2h-1.5v2.3h-1.5v1.2h-1.5v-2.1h-1.5v-0.7h-1.5v2.5h-1.5v-2.6h-1.5v3.6h-1.5v-1.4h-1.5v-0.0h-1.5v1.6h-1.5v-2.2h-1.5v1.2h-1.5v-0.7h-1.5v-1.8h-1.5v1.7h-1.5v0.1h-1.5v-1.0h-1.5v0.8h-1.5v0.7h-1.5v-2.4h-1.5v1.1h-1.5v0.0h-1.5v-0.9h-1.5v1.6h-1.5v-0.0h-1.5v-1.2h-1.5v0.5h-1.5v-1.2h-1.5v-0.0h-1.5v-1.1h-1.5v1.3h-1.5v-2.1h-1.5v-0.1h-1.5v0.7h-1.5v0.1h-1.5v-0.8h-1.5v0.7h-1.5v0.2h-1.5v2.9h-1.5v-3.2h-1.5v1.8h-1.5v0.8h-1.5v-0.6h-1.5v2.0h-1.5v-0.3h-1.5v-0.5h-1.5v-2.0h-1.5v2.6h-1.5v-0.6h-1.5v0.4h-1.5v-3.6h-1.5v1.0h-1.5v1.4h-1.5v-1.3h-1.5v0.7h-1.5v-0.6h-1.5v1.0h-1.5v-1.6h-1.5v2.0h-1.5v-1.9h-1.5v-0.7h-1.5v-0.7h-1.5v2.0h-1.5v-0.5h-1.5v-2.1h-1.5v3.1h-1.5v-0.2h-1.5v0.1h-1.5v-0.8h-1.5v-0.4h-1.5v1.0h-1.5v3.3h-1.5v-1.5h-1.5v-0.9h-1.5v1.7h-1.5v-0.6h-1.5v-3.0h-1.5v-1.4h-1.5v2.8h-1.5v-2.4h-1.5v1.7h-1.5v-0.4h-1.5v0.2h-1.5v1.3h-1.5v-2.3h-1.5v-0.3h-1.5v1.0h-1.5v0.2h-1.5v-1.5h-1.5v-0.1h-1.5v-2.7h-1.5v2.4h-1.5v-2.5h-1.5v2.1h-1.5v-2.9h-1.5v6.0h-1.5v-1.5h-1.5v-1.2h-1.5v2.0h-1.5v-2.7h-1.5v3.9h-1.5v-1.0h-1.5v1.7h-1.5v-2.3h-1.5v2.4h-1.5v-1.5h-1.5v-0.7h-1.5v-1.1h-1.5v0.8h-1.5v1.0h-1.5v-2.2h-1.5v1.3h-1.5v-1.2h-1.5v2.3h-1.5v-2.4h-1.5v-0.9h-1.5v2.4h-1.5v-0.1h-1.5v2.7h-1.5v-3.8h-1.5v3.2h-1.5v-1.0h-1.5v-2.2h-1.5v-0.2h-1.5v1.2h-1.5v-2.2h-1.5v-0.6h-1.5v-0.9h-1.5v4.3h-1.5v-2.9h-1.5v-1.4h-1.5v-0.0h-1.5v-0.6h-1.5v0.2h-1.5v-0.6h-1.5v1.6h-1.5v2.8h-1.5v0.0h-1.5v-2.0h-1.5v1.3h-1.5v-1.7h-1.5v0.7h-1.5v-0.4h-1.5v0.6h-1.5v2.1h-1.5v-0.2h-1.5v-0.3h-1.5v1.3h-1.5v-1.7h-1.5v1.9h-1.5v0.1h-1.5v0.3h-1.5v-0.6h-1.5v0.6h-1.5v-1.0h-1.5v-0.7h-1.5v-0.5h-1.5v4.3h-1.5v-4.5h-1.5v-1.4h-1.5v1.4h-1.5v0.1h-1.5v-1.4h-1.5v1.8h-1.5v1.9h-1.5v-0.2h-1.5v-2.3h-1.5v-0.8h-1.5v0.1h-1.5v-1.5h-1.5v-0.7h-1.5v-1.8h-1.5v-0.5h-1.5v-0.4h-1.5v3.0h-1.5v-2.4h-1.5v0.9h-1.5v4.9h-1.5v-1.4h-1.5v1.6h-1.5v-0.8h-1.5v-1.9h-1.5v3.1h-1.5v-0.0h-1.5v-2.3h-1.5v-1.3h-1.5v5.2h-1.5v-4.5h-1.5v-0.2h-1.5v-0.3h-1.5v1.5h-1.5v-3.0h-1.5v2.5h-1.5v-1.6h-1.5v2.6h-1.5v-1.0h-1.5v0.3h-1.5v2.1h-1.5v-2.8h-1.5v0.7h-1.5v-1.2h-1.5v1.2h-1.5v-3.0h-1.5v0.3h-1.5v-1.9h-1.5v2.2h-1.5v-1.8h-1.5v2.0h-1.5v1.5h-1.5v-4.4h-1.5v-1.0h-1.5v2.0h-1.5v3.4h-1.5v-1.0h-1.5v-1.8h-1.5v5.4h-1.5v2.3h-1.5v1.8h-1.5v-1.6h-1.5v1.2h-1.5v-1.2h-1.5v-0.0h-1.5v-1.8h-1.5v-1.4h-1.5v1.6h-1.5v0.3h-1.5v-1.6h-1.5v-4.0h-1.5v6.6h-1.5v-0.2h-1.5v-3.8h-1.5v3.9h-1.5v-0.6h-1.5v-2.6h-1.5v-0.3h-1.5v-0.1h-1.5v-1.4h-1.5v-2.4h-1.5v2.7h-1.5v-3.0h-1.5v3.9h-1.5v-0.3h-1.5v1.1h-1.5v-2.0h-1.5v-0.0h-1.5v0.9h-1.5v-1.0h-1.5v-0.7h-1.5v5.4h-1.5v-2.9h-1.5v-3.6h-1.5v0.4h-1.5v1.7h-1.5v-3.8h-1.5v2.3h-1.5v-0.5h-1.5v0.4h-1.5v-6.9h-1.5v3.1h-1.5v-1.9h-1.5v5.4h-1.5v-1.3h-1.5v-2.8h-1.5v1.4h-1.5v-0.7h-1.5v-1.4h-1.5v1.4h-1.5v1.3h-1.5v0.4h-1.5v2.4h-1.5v2.2h-1.5v-2.9h-1.5v-0.5h-1.5v-2.9h-1.5v3.6h-1.5v-1.8h-1.5v-1.9h-1.5v-0.1h-1.5v1.6h-1.5v2.0h-1.5v3.1h-1.5v-7.1h-1.5v5.1h-1.5v-1.6h-1.5v-2.8h-1.5v-0.3h-1.5v1.1h-1.5v2.9h-1.5v0.8h-1.5v-3.2h-1.5v2.4h-1.5v-0.6h-1.5v-1.1h-1.5v-0.1h-1.5v2.0h-1.5v-5.0h-1.5v1.7h-1.5v-0.7h-1.5v3.5h-1.5v1.7h-1.5v-0.1h-1.5v-1.5h-1.5v-3.8h-1.5v-0.7h-1.5v2.2h-1.5v-0.9h-1.5v1.6h-1.5v-3.4h-1.5v1.8h-1.5v1.1h-1.5v0.0h-1.5v-2.1h-1.5v-0.8h-1.5v0.0h-1.5v0.7h-1.5v3.3h-1.5v-4.8h-1.5v1.9h-1.5v-0.1h-1.5v-2.3h-1.5v0.7h-1.5v1.7h-1.5v-1.8h-1.5v-1.3h-1.5v1.7h-1.5v-0.1h-1.5v-1.6h-1.5v3.0h-1.5v0.3h-1.5v-1.3h-1.5v-0.8h-1.5v1.3h-1.5v-1.4h-1.5v-2.2h-1.5v1.2h-1.5v-0.4h-1.5v0.0h-1.5v-2.4h-1.5v3.9h-1.5v-0.7h-1.5v3.2h-1.5v-4.6h-1.5v0.5h-1.5v3.1h-1.5v-2.2h-1.5v-0.4h-1.5v1.3h-1.5v0.0h-1.5v-2.0h-1.5v1.5h-1.5v0.2h-1.5v-1.9h-1.5v0.7h-1.5v1.1h-1.5v0.5h-1.5v0.3h-1.5v-3.5h-1.5v-1.5h-1.5v0.3h-1.5v0.3h-1.5v0.6h-1.5v-0.4h-1.5v2.3h-1.5v-1.3h-1.5v-1.6h-1.5v0.0h-1.5v6.2h-1.5v-8.1h-1.5v-1.5h-1.5v0.9h-1.5v1.1h-1.5v-1.5h-1.5v-3.0h-1.5v5.0h-1.5v0.1h-1.5v-0.4h-1.5v2.0h-1.5v1.4h-1.5v-4.4h-1.5v1.8h-1.5v-2.8h-1.5v3.2h-1.5v-1.0h-1.5v1.5h-1.5v4.2h-1.5v-1.7h-1.5v-0.3h-1.5v0.5h-1.5v-2.0h-1.5v0.6h-1.5v-0.1h-1.5v-0.2h-1.5v4.0h-1.5v-6.6h-1.5v0.4h-1.5v1.5h-1.5v4.6h-1.5v0.3h-1.5v-5.7h-1.5v5.3h-1.5v-1.7h-1.5v0.6h-1.5v1.1h-1.5v-5.3h-1.5v1.9h-1.5v1.0h-1.5v-3.7h-1.5v-0.8h-1.5v-1.0h-1.5v0.3h-1.5v-0.9h-1.5v2.0h-1.5v-1.4h-1.5v0.0h-1.5v6.2h-1.5v-0.6h-1.5v-5.5h-1.5v0.8h-1.5v4.0h-1.5v-2.1h-1.5v4.1h-1.5v-1.3h-1.5v1.3h-1.5v-2.8h-1.5v-5.0h-1.5v1.6h-1.5v-1.9h-1.5v1.3h-1.5v-2.8h-1.5v-5.0h-1.5v-1.3h-1.5v0.7h-1.5v-5.6h-1.5v8.0h-1.5v-4.2h-1.5v-5.4h-1.5v1.6h-1.5v-4.5h-1.5v-1.8h-1.5Z" fill="#bb3e3c" stroke="#bb3e3c" stroke-width="3.2" stroke-linejoin="round"/>
<path d="M142.5,1595.5V1587.7h1.5v1.7h1.5v3.9h1.5v-4.4h1.5v2.1h1.5v4.7h1.5v-1.6h1.5v-1.8h1.5v3.2h1.5v2.4h1.5v2.5h1.5v1.3h1.5v4.8h1.5v-8.9h1.5v10.7h1.5v-2.1h1.5v-0.2h1.5v-0.9h1.5v6.6h1.5v-0.7h1.5v0.5h1.5v-0.8h1.5v-3.5h1.5v2.7h1.5v1.2h1.5v-0.8h1.5v1.5h1.5v-2.5h1.5v-0.2h1.5v0.1h1.5v0.9h1.5v-2.1h1.5v-1.9h1.5v4.7h1.5v-3.7h1.5v6.0h1.5v1.4h1.5v-0.1h1.5v-0.6h1.5v-0.1h1.5v-5.3h1.5v5.8h1.5v-1.2h1.5v0.0h1.5v1.1h1.5v-0.8h1.5v1.0h1.5v-1.4h1.5v-0.3h1.5v3.6h1.5v-3.2h1.5v0.7h1.5v-5.4h1.5v5.7h1.5v-6.1h1.5v-0.1h1.5v3.6h1.5v-5.5h1.5v0.9h1.5v-0.3h1.5v0.6h1.5v0.8h1.5v-0.1h1.5v4.6h1.5v-4.3h1.5v0.8h1.5v1.4h1.5v3.7h1.5v3.2h1.5v-3.5h1.5v6.2h1.5v2.6h1.5v-6.1h1.5v2.3h1.5v3.2h1.5v-2.2h1.5v0.4h1.5v-6.0h1.5v4.6h1.5v-4.7h1.5v3.9h1.5v-3.0h1.5v-2.5h1.5v-0.4h1.5v3.5h1.5v-3.4h1.5v3.1h1.5v-1.1h1.5v1.7h1.5v0.3h1.5v2.1h1.5v-3.8h1.5v2.8h1.5v-0.2h1.5v1.6h1.5v-3.1h1.5v0.6h1.5v-0.5h1.5v-2.8h1.5v0.7h1.5v0.4h1.5v-1.7h1.5v3.5h1.5v-0.2h1.5v0.6h1.5v-0.5h1.5v-1.4h1.5v2.0h1.5v0.2h1.5v-0.2h1.5v-2.2h1.5v-3.0h1.5v9.8h1.5v-0.7h1.5v0.9h1.5v-1.1h1.5v2.4h1.5v-1.9h1.5v0.7h1.5v0.0h1.5v-3.8h1.5v-2.2h1.5v-3.3h1.5v3.0h1.5v2.9h1.5v2.0h1.5v-1.6h1.5v1.5h1.5v2.3h1.5v-3.1h1.5v0.3h1.5v4.0h1.5v-1.4h1.5v-2.4h1.5v1.9h1.5v2.3h1.5v0.3h1.5v-1.1h1.5v-2.2h1.5v0.5h1.5v2.5h1.5v-3.1h1.5v0.3h1.5v1.7h1.5v-0.7h1.5v0.9h1.5v-3.3h1.5v4.5h1.5v0.1h1.5v-4.1h1.5v3.0h1.5v0.3h1.5v-0.7h1.5v3.3h1.5v-8.1h1.5v1.2h1.5v-1.8h1.5v2.6h1.5v-4.0h1.5v1.0h1.5v4.8h1.5v-1.7h1.5v-2.3h1.5v-3.8h1.5v7.5h1.5v-1.9h1.5v-2.6h1.5v0.3h1.5v0.4h1.5v1.7h1.5v-1.3h1.5v4.7h1.5v1.4h1.5v-3.5h1.5v0.7h1.5v2.2h1.5v-4.7h1.5v4.2h1.5v0.0h1.5v0.1h1.5v0.3h1.5v2.3h1.5v-3.0h1.5v0.9h1.5v2.9h1.5v-3.7h1.5v-1.9h1.5v5.6h1.5v-5.3h1.5v0.6h1.5v-0.2h1.5v-2.3h1.5v0.0h1.5v2.5h1.5v1.7h1.5v-3.0h1.5v1.4h1.5v-4.0h1.5v-1.3h1.5v3.1h1.5v-1.8h1.5v3.6h1.5v4.1h1.5v0.5h1.5v-1.6h1.5v0.8h1.5v-5.1h1.5v4.4h1.5v1.4h1.5v-3.4h1.5v4.2h1.5v3.8h1.5v-6.5h1.5v-3.5h1.5v10.6h1.5v-5.6h1.5v-0.3h1.5v2.9h1.5v-3.1h1.5v1.6h1.5v-2.0h1.5v-0.7h1.5v3.3h1.5v-2.9h1.5v-5.5h1.5v8.1h1.5v-1.9h1.5v0.1h1.5v-0.4h1.5v-1.4h1.5v0.7h1.5v-3.0h1.5v3.3h1.5v2.7h1.5v-1.8h1.5v-0.9h1.5v1.6h1.5v0.9h1.5v3.9h1.5v-6.8h1.5v1.9h1.5v2.4h1.5v-1.8h1.5v-1.2h1.5v1.1h1.5v-2.4h1.5v4.4h1.5v-4.2h1.5v-0.1h1.5v-4.8h1.5v4.3h1.5v3.2h1.5v-6.2h1.5v-3.9h1.5v3.3h1.5v-3.3h1.5v8.1h1.5v-0.9h1.5v-3.1h1.5v-0.4h1.5v0.4h1.5v4.2h1.5v-4.6h1.5v1.9h1.5v3.0h1.5v-2.2h1.5v-1.1h1.5v0.6h1.5v2.3h1.5v-2.4h1.5v-0.6h1.5v1.8h1.5v2.5h1.5v-5.6h1.5v6.3h1.5v-3.9h1.5v2.9h1.5v-4.2h1.5v6.2h1.5v-2.7h1.5v-0.5h1.5v4.8h1.5v-1.1h1.5v-3.1h1.5v-1.3h1.5v0.3h1.5v-3.4h1.5v6.2h1.5v1.1h1.5v-4.4h1.5v-1.4h1.5v1.9h1.5v0.3h1.5v-1.5h1.5v2.5h1.5v1.3h1.5v0.3h1.5v3.1h1.5v-4.2h1.5v-3.7h1.5v1.7h1.5v3.6h1.5v-0.3h1.5v-1.2h1.5v-0.0h1.5v1.5h1.5v-2.2h1.5v-2.6h1.5v1.0h1.5v-0.2h1.5v-1.6h1.5v2.9h1.5v-6.8h1.5v4.2h1.5v-0.1h1.5v5.6h1.5v0.9h1.5v-1.0h1.5v-1.6h1.5v2.7h1.5v-2.0h1.5v-0.1h1.5v-1.9h1.5v1.4h1.5v0.7h1.5v-0.0h1.5v-0.4h1.5v-2.8h1.5v1.8h1.5v-1.3h1.5v0.5h1.5v0.1h1.5v-1.8h1.5v6.2h1.5v-4.7h1.5v2.2h1.5v-0.2h1.5v-2.1h1.5v0.5h1.5v0.0h1.5v1.0h1.5v-0.8h1.5v1.8h1.5v0.6h1.5v0.8h1.5v0.1h1.5v3.1h1.5v-1.6h1.5v-1.4h1.5v5.6h1.5v-5.5h1.5v3.0h1.5v-1.0h1.5v-1.0h1.5v-7.8h1.5v4.3h1.5v-3.6h1.5v1.4h1.5v-0.6h1.5v-0.5h1.5v-0.8h1.5v2.0h1.5v-1.6h1.5v0.5h1.5v1.6h1.5v4.7h1.5v-7.0h1.5v5.8h1.5v-0.8h1.5v0.7h1.5v0.3h1.5v0.3h1.5v-6.0h1.5v5.7h1.5v-1.6h1.5v1.4h1.5v-1.2h1.5v4.0h1.5v-1.2h1.5v1.4h1.5v-2.8h1.5v1.0h1.5v-5.0h1.5v6.0h1.5v3.3h1.5v-5.2h1.5v0.9h1.5v1.8h1.5v-2.0h1.5v0.7h1.5v1.0h1.5v-0.8h1.5v0.9h1.5v0.9h1.5v1.0h1.5v-0.0h1.5v2.1h1.5v-4.8h1.5v-0.5h1.5v1.7h1.5v-2.2h1.5v5.1h1.5v-6.6h1.5v1.9h1.5v-0.7h1.5v-6.1h1.5v7.4h1.5v-2.9h1.5v1.6h1.5v3.0h1.5v-4.8h1.5v-2.3h1.5v0.9h1.5v2.4h1.5v2.7h1.5v-3.5h1.5v4.7h1.5v-0.0h1.5v-2.2h1.5v-0.5h1.5v1.1h1.5v-0.8h1.5v1.4h1.5v1.0h1.5v-0.0h1.5v-1.9h1.5v2.9h1.5v-1.2h1.5v-1.6h1.5v-1.2h1.5v0.8h1.5v0.2h1.5v-1.6h1.5v2.3h1.5v-0.8h1.5v0.4h1.5v-2.8h1.5v1.1h1.5v-1.1h1.5v0.1h1.5v-0.0h1.5v-2.5h1.5v2.1h1.5v2.2h1.5v-5.6h1.5v0.9h1.5v3.4h1.5v2.7h1.5v-4.5h1.5v2.5h1.5v-0.4h1.5v-0.0h1.5v-2.2h1.5v-0.3h1.5v-3.9h1.5v5.9h1.5v-1.0h1.5v-2.1h1.5v1.6h1.5v-1.2h1.5v-1.8h1.5v0.2h1.5v1.0h1.5v2.6h1.5v-1.9h1.5v3.4h1.5v-0.1h1.5v-1.9h1.5v0.8h1.5v2.2h1.5v-2.1h1.5v0.2h1.5v-0.7h1.5v3.0h1.5v-1.6h1.5v2.1h1.5v-0.8h1.5v0.6h1.5v0.1h1.5v-3.1h1.5v1.5h1.5v0.1h1.5v-0.1h1.5v-1.0h1.5v0.7h1.5v2.3h1.5v-4.0h1.5v-1.2h1.5v0.1h1.5v2.1h1.5v2.5h1.5v-3.7h1.5v-5.7h1.5v6.9h1.5v-2.7h1.5v0.9h1.5v1.2h1.5v-0.3h1.5v-1.5h1.5v0.9h1.5v2.4h1.5v-3.5h1.5v-1.0h1.5v3.5h1.5v-4.8h1.5v3.8h1.5v-2.1h1.5v4.5h1.5v-0.5h1.5v-0.4h1.5v-1.8h1.5v-1.0h1.5v-1.1h1.5v3.6h1.5v-0.4h1.5v3.4h1.5v-2.5h1.5v-1.0h1.5v-1.3h1.5v1.7h1.5v1.2h1.5v-2.4h1.5v2.7h1.5v-4.4h1.5v-3.5h1.5v6.1h1.5v-0.1h1.5v-3.1h1.5v1.5h1.5v-0.0h1.5v0.8h1.5v1.2h1.5v-3.9h1.5v0.9h1.5v-4.7h1.5v4.1h1.5v-4.3h1.5v1.0h1.5v3.3h1.5v0.3h1.5v0.7h1.5v1.1h1.5v1.0h1.5v1.0h1.5v-1.4h1.5v1.3h1.5v-2.7h1.5v2.9h1.5v-1.6h1.5v-4.3h1.5V1634.0h-1.5v0.6h-1.5v-0.3h-1.5v6.5h-1.5v-7.0h-1.5v0.1h-1.5v-0.2h-1.5v2.1h-1.5v3.4h-1.5v-1.4h-1.5v-0.6h-1.5v0.9h-1.5v-4.5h-1.5v1.0h-1.5v0.1h-1.5v0.1h-1.5v-2.3h-1.5v2.5h-1.5v1.9h-1.5v-1.9h-1.5v1.0h-1.5v1.1h-1.5v-3.1h-1.5v3.9h-1.5v-1.5h-1.5v2.1h-1.5v-1.4h-1.5v-0.4h-1.5v0.6h-1.5v1.6h-1.5v-1.5h-1.5v0.4h-1.5v0.8h-1.5v-3.7h-1.5v1.7h-1.5v2.0h-1.5v-1.5h-1.5v-1.7h-1.5v5.4h-1.5v0.6h-1.5v-2.7h-1.5v2.0h-1.5v-3.7h-1.5v1.3h-1.5v-4.1h-1.5v2.9h-1.5v-0.0h-1.5v-0.7h-1.5v-1.5h-1.5v1.6h-1.5v1.5h-1.5v-3.9h-1.5v4.9h-1.5v0.3h-1.5v-3.2h-1.5v1.4h-1.5v0.3h-1.5v-0.7h-1.5v2.5h-1.5v-3.1h-1.5v3.0h-1.5v-3.5h-1.5v-0.6h-1.5v1.1h-1.5v1.2h-1.5v1.0h-1.5v-1.4h-1.5v4.1h-1.5v-5.4h-1.5v4.0h-1.5v-4.3h-1.5v-0.1h-1.5v4.4h-1.5v-0.9h-1.5v-2.0h-1.5v1.6h-1.5v-1.5h-1.5v3.6h-1.5v-3.1h-1.5v2.3h-1.5v0.5h-1.5v-6.5h-1.5v2.0h-1.5v1.8h-1.5v-2.3h-1.5v0.6h-1.5v2.3h-1.5v-4.0h-1.5v-0.2h-1.5v-4.8h-1.5v9.9h-1.5v-4.3h-1.5v1.2h-1.5v3.7h-1.5v-3.1h-1.5v-0.0h-1.5v0.7h-1.5v-4.1h-1.5v2.4h-1.5v6.0h-1.5v-4.5h-1.5v-1.1h-1.5v2.7h-1.5v0.2h-1.5v-1.2h-1.5v-1.2h-1.5v1.6h-1.5v-2.3h-1.5v2.5h-1.5v0.4h-1.5v-1.6h-1.5v0.4h-1.5v5.1h-1.5v-6.2h-1.5v1.7h-1.5v-0.3h-1.5v3.2h-1.5v0.1h-1.5v-0.6h-1.5v3.0h-1.5v-1.8h-1.5v0.2h-1.5v-2.1h-1.5v-1.1h-1.5v1.0h-1.5v0.1h-1.5v3.3h-1.5v-1.5h-1.5v0.2h-1.5v-1.0h-1.5v-2.0h-1.5v4.1h-1.5v-3.8h-1.5v-1.0h-1.5v2.2h-1.5v-0.6h-1.5v-1.6h-1.5v0.6h-1.5v-1.1h-1.5v-0.5h-1.5v3.6h-1.5v-3.3h-1.5v1.9h-1.5v-0.1h-1.5v0.0h-1.5v0.5h-1.5v-0.5h-1.5v-0.8h-1.5v4.5h-1.5v-0.7h-1.5v-1.8h-1.5v3.3h-1.5v-4.2h-1.5v1.0h-1.5v1.9h-1.5v-2.8h-1.5v2.5h-1.5v-0.2h-1.5v-1.1h-1.5v2.3h-1.5v-3.0h-1.5v4.5h-1.5v-4.7h-1.5v0.5h-1.5v-0.3h-1.5v4.5h-1.5v-2.3h-1.5v1.3h-1.5v-4.6h-1.5v-0.7h-1.5v-0.9h-1.5v1.9h-1.5v-0.8h-1.5v-1.7h-1.5v5.4h-1.5v-4.0h-1.5v0.7h-1.5v-2.3h-1.5v-0.9h-1.5v0.7h-1.5v6.8h-1.5v-3.9h-1.5v-1.2h-1.5v-0.7h-1.5v0.7h-1.5v-2.1h-1.5v-4.8h-1.5v3.1h-1.5v-1.9h-1.5v-0.6h-1.5v1.0h-1.5v4.4h-1.5v-2.6h-1.5v1.8h-1.5v0.7h-1.5v0.7h-1.5v3.1h-1.5v-1.2h-1.5v0.4h-1.5v2.0h-1.5v2.0h-1.5v-3.9h-1.5v-0.7h-1.5v-0.7h-1.5v-1.1h-1.5v-0.2h-1.5v1.0h-1.5v0.1h-1.5v-2.5h-1.5v0.4h-1.5v-1.3h-1.5v0.7h-1.5v-1.7h-1.5v2.6h-1.5v-2.7h-1.5v2.4h-1.5v0.2h-1.5v-4.5h-1.5v2.2h-1.5v-2.7h-1.5v3.4h-1.5v-0.2h-1.5v-0.1h-1.5v0.0h-1.5v2.9h-1.5v-2.1h-1.5v2.8h-1.5v-1.0h-1.5v1.8h-1.5v-0.5h-1.5v1.0h-1.5v-0.6h-1.5v1.0h-1.5v0.7h-1.5v0.8h-1.5v-6.7h-1.5v0.5h-1.5v-4.3h-1.5v2.7h-1.5v-0.3h-1.5v3.2h-1.5v0.1h-1.5v-2.8h-1.5v5.7h-1.5v0.7h-1.5v-3.7h-1.5v0.3h-1.5v1.4h-1.5v-1.8h-1.5v2.4h-1.5v-3.0h-1.5v-1.4h-1.5v3.9h-1.5v-1.0h-1.5v3.2h-1.5v-7.8h-1.5v-1.1h-1.5v2.5h-1.5v3.0h-1.5v-2.3h-1.5v-1.0h-1.5v9.0h-1.5v-4.8h-1.5v-6.6h-1.5v2.7h-1.5v-0.3h-1.5v5.7h-1.5v-4.4h-1.5v3.9h-1.5v2.8h-1.5v-2.0h-1.5v-3.1h-1.5v-3.2h-1.5v4.0h-1.5v-1.1h-1.5v1.2h-1.5v1.7h-1.5v-2.7h-1.5v2.5h-1.5v-0.1h-1.5v-3.3h-1.5v-0.5h-1.5v2.7h-1.5v-4.0h-1.5v3.0h-1.5v-5.3h-1.5v1.6h-1.5v4.5h-1.5v-3.4h-1.5v0.7h-1.5v-1.3h-1.5v0.7h-1.5v-2.9h-1.5v3.3h-1.5v-4.8h-1.5v1.3h-1.5v-1.3h-1.5v-1.6h-1.5v8.9h-1.5v-6.2h-1.5v6.9h-1.5v1.6h-1.5v-2.5h-1.5v0.3h-1.5v-4.7h-1.5v4.1h-1.5v1.1h-1.5v-2.8h-1.5v3.1h-1.5v3.3h-1.5v-5.2h-1.5v3.7h-1.5v-0.1h-1.5v-2.5h-1.5v-0.7h-1.5v-0.4h-1.5v1.9h-1.5v-3.5h-1.5v-4.5h-1.5v1.8h-1.5v-0.6h-1.5v1.0h-1.5v1.2h-1.5v2.9h-1.5v-4.3h-1.5v2.0h-1.5v3.3h-1.5v-0.2h-1.5v1.6h-1.5v-6.1h-1.5v3.4h-1.5v4.1h-1.5v-2.8h-1.5v-4.3h-1.5v2.7h-1.5v5.6h-1.5v-5.7h-1.5v0.4h-1.5v5.2h-1.5v-3.4h-1.5v-3.4h-1.5v-0.1h-1.5v-2.5h-1.5v3.2h-1.5v2.1h-1.5v0.3h-1.5v-1.2h-1.5v-2.1h-1.5v-1.2h-1.5v1.5h-1.5v-3.8h-1.5v2.5h-1.5v-4.5h-1.5v-0.9h-1.5v0.1h-1.5v7.0h-1.5v-1.2h-1.5v-1.0h-1.5v-3.7h-1.5v3.4h-1.5v0.9h-1.5v-2.0h-1.5v7.3h-1.5v-7.7h-1.5v3.4h-1.5v0.1h-1.5v-0.5h-1.5v0.8h-1.5v0.5h-1.5v-2.1h-1.5v1.2h-1.5v-1.0h-1.5v2.0h-1.5v-7.6h-1.5v4.4h-1.5v-0.1h-1.5v1.3h-1.5v-1.5h-1.5v0.5h-1.5v-0.5h-1.5v2.6h-1.5v-1.0h-1.5v-0.3h-1.5v-3.7h-1.5v1.3h-1.5v-1.8h-1.5v-0.8h-1.5v-2.7h-1.5v4.0h-1.5v-0.5h-1.5v0.3h-1.5v-1.6h-1.5v2.5h-1.5v-3.8h-1.5v6.0h-1.5v-0.3h-1.5v3.1h-1.5v-5.0h-1.5v4.2h-1.5v-2.4h-1.5v-1.3h-1.5v1.4h-1.5v2.7h-1.5v-3.9h-1.5v2.8h-1.5v-0.8h-1.5v-1.4h-1.5v3.2h-1.5v-2.6h-1.5v5.1h-1.5v-3.0h-1.5v2.2h-1.5v0.2h-1.5v0.7h-1.5v-1.8h-1.5v-1.0h-1.5v-0.7h-1.5v-2.6h-1.5v2.5h-1.5v-0.2h-1.5v-2.6h-1.5v0.2h-1.5v3.5h-1.5v-7.6h-1.5v0.7h-1.5v1.2h-1.5v1.3h-1.5v-0.7h-1.5v1.9h-1.5v-1.5h-1.5v-1.5h-1.5v3.2h-1.5v3.0h-1.5v-5.2h-1.5v0.2h-1.5v3.2h-1.5v-1.6h-1.5v-3.9h-1.5v-1.8h-1.5v-0.2h-1.5v-0.1h-1.5v1.8h-1.5v-3.9h-1.5v3.3h-1.5v-1.4h-1.5v1.6h-1.5v2.6h-1.5v2.1h-1.5v-8.2h-1.5v0.4h-1.5v4.8h-1.5v1.1h-1.5v-3.7h-1.5v2.6h-1.5v-0.7h-1.5v-1.1h-1.5v1.5h-1.5v-2.6h-1.5v4.6h-1.5v-1.6h-1.5v-1.9h-1.5v2.5h-1.5v-0.3h-1.5v-5.2h-1.5v1.2h-1.5v1.2h-1.5v-1.9h-1.5v0.1h-1.5v-1.5h-1.5v8.7h-1.5v-0.1h-1.5v-2.8h-1.5v-0.8h-1.5v0.9h-1.5v-1.4h-1.5v3.1h-1.5v1.3h-1.5v-1.3h-1.5v1.9h-1.5v-5.4h-1.5v-1.0h-1.5v1.4h-1.5v-3.1h-1.5v-3.6h-1.5v5.1h-1.5v-2.6h-1.5v2.4h-1.5v0.3h-1.5v-4.3h-1.5v-5.5h-1.5v6.3h-1.5v-3.7h-1.5v2.3h-1.5v1.3h-1.5v-2.7h-1.5v1.5h-1.5v7.4h-1.5v-2.8h-1.5v-0.7h-1.5v-2.2h-1.5v5.4h-1.5v-5.7h-1.5v0.4h-1.5v1.4h-1.5v-0.9h-1.5v4.0h-1.5v0.1h-1.5v-3.2h-1.5v0.6h-1.5v0.1h-1.5v5.9h-1.5v-4.1h-1.5v3.9h-1.5v-5.8h-1.5v2.1h-1.5v-5.2h-1.5v4.9h-1.5v-6.8h-1.5v-1.0h-1.5v2.2h-1.5v0.9h-1.5v1.7h-1.5v-2.8h-1.5v1.3h-1.5v1.6h-1.5v1.4h-1.5v-2.5h-1.5v-1.9h-1.5v-0.2h-1.5v3.8h-1.5v-2.1h-1.5v1.9h-1.5v-2.5h-1.5v-3.3h-1.5v8.0h-1.5v-7.5h-1.5v1.3h-1.5v-4.8h-1.5v-2.5h-1.5v0.4h-1.5v-3.8h-1.5v0.7h-1.5v0.7h-1.5v-4.3h-1.5v-0.0h-1.5v-3.7h-1.5v0.2h-1.5v0.1h-1.5v-1.6h-1.5v-5.8h-1.5Z" fill="#90b64a" stroke="#90b64a" stroke-width="3.2" stroke-linejoin="round"/>
<path d="M142.5,1602.3V1591.7h1.5v-2.5h1.5v6.5h1.5v2.2h1.5v-2.3h1.5v4.4h1.5v4.8h1.5v-6.3h1.5v4.9h1.5v-0.4h1.5v-2.0h1.5v0.5h1.5v-2.7h1.5v5.0h1.5v4.7h1.5v-6.2h1.5v2.7h1.5v1.6h1.5v-1.3h1.5v2.2h1.5v4.3h1.5v-4.0h1.5v4.4h1.5v-3.3h1.5v2.2h1.5v-1.8h1.5v-1.1h1.5v1.6h1.5v-4.9h1.5v-0.8h1.5v3.4h1.5v-2.1h1.5v-5.9h1.5v2.6h1.5v2.2h1.5v1.9h1.5v-2.2h1.5v0.9h1.5v2.5h1.5v-6.6h1.5v5.5h1.5v-5.6h1.5v3.3h1.5v7.0h1.5v-1.5h1.5v-6.2h1.5v4.3h1.5v0.7h1.5v1.6h1.5v0.3h1.5v1.7h1.5v0.5h1.5v4.2h1.5v-5.9h1.5v3.3h1.5v4.6h1.5v-5.9h1.5v0.6h1.5v4.2h1.5v-2.2h1.5v0.3h1.5v-2.4h1.5v2.3h1.5v3.1h1.5v5.4h1.5v-7.0h1.5v3.9h1.5v0.7h1.5v-3.1h1.5v2.9h1.5v-6.3h1.5v6.9h1.5v-6.4h1.5v1.4h1.5v4.9h1.5v-3.3h1.5v2.4h1.5v0.2h1.5v2.8h1.5v0.3h1.5v-0.7h1.5v2.0h1.5v-2.7h1.5v4.2h1.5v-1.5h1.5v0.5h1.5v4.3h1.5v-2.8h1.5v-3.4h1.5v5.4h1.5v-8.3h1.5v3.2h1.5v3.4h1.5v-7.4h1.5v8.4h1.5v-8.6h1.5v3.5h1.5v2.8h1.5v3.1h1.5v-1.5h1.5v2.5h1.5v1.6h1.5v-1.6h1.5v-4.6h1.5v2.3h1.5v2.0h1.5v-5.5h1.5v6.6h1.5v-3.2h1.5v0.7h1.5v-0.3h1.5v2.7h1.5v-0.8h1.5v0.4h1.5v-4.7h1.5v5.8h1.5v-2.3h1.5v2.0h1.5v-1.3h1.5v-3.0h1.5v-3.0h1.5v4.3h1.5v0.2h1.5v0.4h1.5v-0.9h1.5v3.5h1.5v2.6h1.5v3.7h1.5v-6.0h1.5v0.2h1.5v7.1h1.5v-2.4h1.5v-1.5h1.5v-1.4h1.5v-5.5h1.5v5.0h1.5v-1.4h1.5v0.6h1.5v1.3h1.5v-1.9h1.5v-5.4h1.5v0.3h1.5v-0.1h1.5v1.6h1.5v-0.6h1.5v0.3h1.5v0.4h1.5v5.4h1.5v-0.7h1.5v-0.2h1.5v-0.7h1.5v-3.4h1.5v-1.3h1.5v0.5h1.5v-1.0h1.5v0.2h1.5v5.8h1.5v-8.2h1.5v7.5h1.5v-6.1h1.5v3.6h1.5v0.7h1.5v-1.9h1.5v-1.7h1.5v1.5h1.5v6.9h1.5v0.3h1.5v-0.8h1.5v3.1h1.5v1.9h1.5v-4.2h1.5v3.2h1.5v-7.4h1.5v1.1h1.5v-1.8h1.5v7.6h1.5v-7.9h1.5v4.4h1.5v-5.3h1.5v4.0h1.5v1.7h1.5v0.8h1.5v-4.0h1.5v5.9h1.5v-1.2h1.5v-2.9h1.5v3.1h1.5v-2.3h1.5v0.8h1.5v-0.4h1.5v2.4h1.5v0.4h1.5v-8.9h1.5v6.1h1.5v0.2h1.5v-0.1h1.5v-1.0h1.5v-0.1h1.5v0.5h1.5v-0.4h1.5v4.2h1.5v-2.7h1.5v-2.2h1.5v4.6h1.5v-1.7h1.5v3.4h1.5v-0.5h1.5v-3.5h1.5v0.2h1.5v7.6h1.5v-6.6h1.5v2.9h1.5v-3.5h1.5v2.3h1.5v-2.9h1.5v-7.5h1.5v6.8h1.5v-4.5h1.5v6.9h1.5v-4.9h1.5v7.5h1.5v-1.0h1.5v2.4h1.5v1.6h1.5v0.6h1.5v-2.0h1.5v-2.7h1.5v4.4h1.5v-8.2h1.5v2.7h1.5v-1.6h1.5v0.5h1.5v-2.2h1.5v-2.6h1.5v-0.0h1.5v-3.2h1.5v1.1h1.5v5.1h1.5v-5.0h1.5v6.4h1.5v-2.6h1.5v0.7h1.5v-2.0h1.5v1.9h1.5v5.3h1.5v-1.3h1.5v3.9h1.5v-4.2h1.5v-0.1h1.5v-2.2h1.5v3.7h1.5v-1.4h1.5v-2.3h1.5v0.2h1.5v0.7h1.5v0.1h1.5v-2.3h1.5v1.0h1.5v8.5h1.5v-0.1h1.5v-3.3h1.5v0.5h1.5v-1.0h1.5v2.0h1.5v1.8h1.5v-3.4h1.5v6.4h1.5v-1.2h1.5v-3.1h1.5v5.2h1.5v-1.6h1.5v3.9h1.5v-10.0h1.5v7.1h1.5v-2.3h1.5v3.2h1.5v-5.3h1.5v2.1h1.5v4.3h1.5v-3.6h1.5v1.3h1.5v-1.8h1.5v-4.2h1.5v2.7h1.5v3.3h1.5v-4.7h1.5v-6.5h1.5v2.0h1.5v3.5h1.5v-1.8h1.5v-6.7h1.5v9.5h1.5v3.1h1.5v-1.7h1.5v0.8h1.5v-3.7h1.5v1.1h1.5v0.5h1.5v0.6h1.5v2.3h1.5v-3.4h1.5v0.0h1.5v-3.6h1.5v1.2h1.5v3.9h1.5v0.1h1.5v-9.0h1.5v5.2h1.5v1.4h1.5v2.1h1.5v-1.3h1.5v1.4h1.5v0.5h1.5v-7.2h1.5v4.0h1.5v-2.4h1.5v3.1h1.5v1.5h1.5v0.0h1.5v-0.1h1.5v0.2h1.5v2.7h1.5v0.9h1.5v-5.0h1.5v3.5h1.5v-0.9h1.5v1.2h1.5v2.4h1.5v-4.9h1.5v5.7h1.5v-0.4h1.5v-2.7h1.5v-0.1h1.5v1.6h1.5v-3.0h1.5v5.5h1.5v-2.7h1.5v-1.8h1.5v3.3h1.5v-5.8h1.5v1.2h1.5v-2.9h1.5v1.7h1.5v-1.7h1.5v-1.9h1.5v-1.6h1.5v1.8h1.5v5.1h1.5v-3.6h1.5v4.2h1.5v1.1h1.5v-2.1h1.5v-1.9h1.5v1.4h1.5v2.6h1.5v0.4h1.5v-6.9h1.5v4.1h1.5v-4.0h1.5v3.4h1.5v-7.8h1.5v2.1h1.5v3.9h1.5v-0.3h1.5v0.7h1.5v-0.1h1.5v-2.1h1.5v-1.7h1.5v2.3h1.5v1.7h1.5v0.5h1.5v-0.4h1.5v2.3h1.5v-1.1h1.5v0.1h1.5v1.6h1.5v-0.5h1.5v-1.1h1.5v-3.0h1.5v2.4h1.5v-1.8h1.5v0.5h1.5v2.4h1.5v-3.8h1.5v-1.2h1.5v1.1h1.5v-1.2h1.5v-0.8h1.5v0.6h1.5v0.4h1.5v5.4h1.5v-3.9h1.5v2.2h1.5v2.2h1.5v-3.4h1.5v-2.5h1.5v3.4h1.5v-1.1h1.5v-1.4h1.5v-1.6h1.5v3.7h1.5v-4.4h1.5v-2.6h1.5v5.7h1.5v-1.0h1.5v5.3h1.5v0.0h1.5v-1.6h1.5v-4.0h1.5v6.2h1.5v-5.4h1.5v-1.8h1.5v3.3h1.5v-4.1h1.5v7.0h1.5v-3.1h1.5v-2.5h1.5v2.7h1.5v-1.8h1.5v0.8h1.5v1.9h1.5v2.5h1.5v-0.6h1.5v-0.9h1.5v-1.1h1.5v-0.3h1.5v1.7h1.5v-2.8h1.5v5.5h1.5v-5.4h1.5v3.7h1.5v-3.3h1.5v-3.9h1.5v4.9h1.5v0.9h1.5v2.5h1.5v-2.1h1.5v-2.7h1.5v4.2h1.5v1.6h1.5v-3.4h1.5v1.5h1.5v2.0h1.5v-4.5h1.5v-1.0h1.5v-0.6h1.5v0.4h1.5v2.2h1.5v4.6h1.5v0.4h1.5v0.5h1.5v-0.3h1.5v-0.8h1.5v-1.8h1.5v-1.8h1.5v4.6h1.5v-5.1h1.5v-2.7h1.5v4.1h1.5v-2.6h1.5v1.9h1.5v-3.4h1.5v1.7h1.5v4.3h1.5v-1.7h1.5v1.5h1.5v2.6h1.5v-1.3h1.5v-3.1h1.5v-1.9h1.5v0.9h1.5v5.2h1.5v-9.9h1.5v7.3h1.5v-5.1h1.5v-1.6h1.5v-1.7h1.5v1.8h1.5v2.7h1.5v-8.3h1.5v6.9h1.5v-2.7h1.5v1.3h1.5v3.4h1.5v0.8h1.5v-0.0h1.5v-0.6h1.5v1.9h1.5v-6.4h1.5v2.8h1.5v0.9h1.5v-0.7h1.5v-1.5h1.5v0.9h1.5v2.9h1.5v1.7h1.5v-3.7h1.5v2.3h1.5v-2.0h1.5v-1.4h1.5v-1.2h1.5v2.0h1.5v-3.8h1.5v6.3h1.5v-0.7h1.5v-1.6h1.5v2.1h1.5v-0.7h1.5v-2.7h1.5v2.3h1.5v0.3h1.5v-0.8h1.5v4.8h1.5v-7.3h1.5v5.4h1.5v-1.8h1.5v-5.0h1.5v2.3h1.5v2.6h1.5v1.0h1.5v-5.4h1.5v-1.1h1.5v-0.2h1.5v4.1h1.5v-4.4h1.5v2.6h1.5v2.6h1.5v1.1h1.5v0.7h1.5v1.5h1.5v-2.3h1.5v0.4h1.5v-2.1h1.5v-0.2h1.5v-1.4h1.5v2.0h1.5v0.0h1.5v-2.4h1.5v1.1h1.5v3.0h1.5v0.7h1.5v-5.2h1.5v5.4h1.5v-6.8h1.5v4.3h1.5v1.9h1.5v-4.4h1.5v4.5h1.5v1.0h1.5v-6.1h1.5V1653.2h-1.5v3.4h-1.5v-1.6h-1.5v2.8h-1.5v0.0h-1.5v-4.5h-1.5v2.7h-1.5v-1.7h-1.5v0.9h-1.5v2.6h-1.5v-3.0h-1.5v-1.9h-1.5v-0.1h-1.5v-5.3h-1.5v1.6h-1.5v2.3h-1.5v1.5h-1.5v-1.7h-1.5v5.7h-1.5v2.7h-1.5v-0.6h-1.5v-4.1h-1.5v1.7h-1.5v-4.1h-1.5v1.0h-1.5v-0.4h-1.5v-0.1h-1.5v-6.3h-1.5v3.7h-1.5v2.0h-1.5v1.3h-1.5v1.1h-1.5v1.8h-1.5v0.8h-1.5v-3.5h-1.5v0.9h-1.5v0.0h-1.5v1.8h-1.5v-0.8h-1.5v-0.6h-1.5v6.6h-1.5v-6.4h-1.5v0.8h-1.5v-5.0h-1.5v4.2h-1.5v-3.0h-1.5v-1.4h-1.5v-2.3h-1.5v2.3h-1.5v-0.1h-1.5v0.2h-1.5v2.3h-1.5v3.4h-1.5v-0.7h-1.5v-3.1h-1.5v1.7h-1.5v-1.1h-1.5v-0.7h-1.5v-0.4h-1.5v2.2h-1.5v0.7h-1.5v-3.1h-1.5v4.5h-1.5v-4.3h-1.5v2.0h-1.5v0.2h-1.5v0.3h-1.5v-0.9h-1.5v-0.4h-1.5v-1.0h-1.5v1.1h-1.5v-0.7h-1.5v-1.3h-1.5v4.2h-1.5v-2.7h-1.5v-3.7h-1.5v3.6h-1.5v0.5h-1.5v4.1h-1.5v-0.9h-1.5v3.1h-1.5v-3.8h-1.5v3.0h-1.5v2.7h-1.5v-4.3h-1.5v-4.2h-1.5v4.8h-1.5v0.7h-1.5v-4.1h-1.5v1.2h-1.5v-4.7h-1.5v3.7h-1.5v-0.1h-1.5v-0.5h-1.5v5.6h-1.5v-3.4h-1.5v5.6h-1.5v-2.5h-1.5v1.8h-1.5v-1.1h-1.5v0.0h-1.5v-1.9h-1.5v-2.1h-1.5v-1.7h-1.5v0.3h-1.5v1.1h-1.5v-5.6h-1.5v7.3h-1.5v-1.9h-1.5v2.9h-1.5v3.6h-1.5v-4.1h-1.5v-4.6h-1.5v4.2h-1.5v-3.6h-1.5v-0.1h-1.5v-2.2h-1.5v4.5h-1.5v-1.8h-1.5v-0.6h-1.5v-1.2h-1.5v0.7h-1.5v-0.5h-1.5v2.1h-1.5v-3.8h-1.5v1.9h-1.5v3.7h-1.5v-1.7h-1.5v-3.0h-1.5v6.5h-1.5v-7.8h-1.5v1.3h-1.5v-2.1h-1.5v-2.2h-1.5v2.0h-1.5v4.5h-1.5v-1.5h-1.5v-6.9h-1.5v4.7h-1.5v4.4h-1.5v-2.5h-1.5v1.4h-1.5v3.4h-1.5v-2.0h-1.5v-1.4h-1.5v0.6h-1.5v-1.4h-1.5v0.2h-1.5v0.1h-1.5v0.9h-1.5v0.8h-1.5v-5.3h-1.5v1.8h-1.5v5.6h-1.5v-8.8h-1.5v8.2h-1.5v-3.7h-1.5v4.1h-1.5v-2.1h-1.5v-1.4h-1.5v-1.6h-1.5v-0.9h-1.5v-0.1h-1.5v-0.1h-1.5v0.1h-1.5v-2.8h-1.5v5.8h-1.5v-3.4h-1.5v1.4h-1.5v1.8h-1.5v1.4h-1.5v-1.3h-1.5v9.6h-1.5v-9.5h-1.5v1.3h-1.5v-3.4h-1.5v8.2h-1.5v0.6h-1.5v-6.1h-1.5v0.2h-1.5v-3.1h-1.5v4.8h-1.5v-7.0h-1.5v6.9h-1.5v0.2h-1.5v-5.4h-1.5v2.0h-1.5v0.1h-1.5v-8.7h-1.5v3.5h-1.5v5.5h-1.5v-2.1h-1.5v3.4h-1.5v-0.7h-1.5v5.0h-1.5v-5.6h-1.5v4.9h-1.5v-3.5h-1.5v3.0h-1.5v-1.3h-1.5v2.2h-1.5v-5.7h-1.5v5.1h-1.5v-9.6h-1.5v0.9h-1.5v0.4h-1.5v2.4h-1.5v3.7h-1.5v-3.1h-1.5v4.8h-1.5v2.0h-1.5v0.0h-1.5v1.7h-1.5v-1.0h-1.5v-0.5h-1.5v4.2h-1.5v-2.7h-1.5v0.8h-1.5v-0.0h-1.5v-3.5h-1.5v4.0h-1.5v-4.9h-1.5v6.7h-1.5v-5.8h-1.5v2.6h-1.5v-4.5h-1.5v-2.5h-1.5v3.9h-1.5v1.3h-1.5v-4.1h-1.5v0.3h-1.5v3.0h-1.5v-2.9h-1.5v3.2h-1.5v-4.9h-1.5v3.3h-1.5v-3.9h-1.5v2.6h-1.5v4.7h-1.5v-6.0h-1.5v-1.2h-1.5v-1.4h-1.5v4.9h-1.5v-4.6h-1.5v1.2h-1.5v0.5h-1.5v-4.0h-1.5v5.8h-1.5v2.2h-1.5v1.2h-1.5v-3.8h-1.5v4.4h-1.5v-4.2h-1.5v1.7h-1.5v-2.6h-1.5v-0.9h-1.5v1.2h-1.5v3.0h-1.5v-2.0h-1.5v0.8h-1.5v-0.2h-1.5v-2.7h-1.5v1.1h-1.5v3.7h-1.5v-1.8h-1.5v-0.7h-1.5v4.3h-1.5v0.0h-1.5v-3.5h-1.5v5.6h-1.5v-2.8h-1.5v1.2h-1.5v0.8h-1.5v-3.7h-1.5v1.2h-1.5v-3.4h-1.5v2.5h-1.5v-5.1h-1.5v4.5h-1.5v3.7h-1.5v-0.0h-1.5v-3.5h-1.5v3.2h-1.5v1.5h-1.5v-7.1h-1.5v2.6h-1.5v-2.6h-1.5v-1.8h-1.5v-0.8h-1.5v0.1h-1.5v-2.2h-1.5v5.4h-1.5v-8.2h-1.5v4.0h-1.5v-1.1h-1.5v-0.8h-1.5v4.6h-1.5v-4.0h-1.5v-0.6h-1.5v1.3h-1.5v-0.8h-1.5v-0.4h-1.5v2.3h-1.5v0.7h-1.5v-5.2h-1.5v2.3h-1.5v1.0h-1.5v-1.3h-1.5v-3.2h-1.5v-1.6h-1.5v-0.3h-1.5v-2.2h-1.5v5.6h-1.5v-8.6h-1.5v4.4h-1.5v0.8h-1.5v2.0h-1.5v0.9h-1.5v3.7h-1.5v-2.7h-1.5v5.3h-1.5v-0.2h-1.5v0.1h-1.5v-4.4h-1.5v2.9h-1.5v2.2h-1.5v1.2h-1.5v-5.3h-1.5v3.2h-1.5v0.7h-1.5v-4.3h-1.5v0.5h-1.5v-2.3h-1.5v-0.8h-1.5v4.6h-1.5v-2.9h-1.5v0.2h-1.5v4.2h-1.5v-5.3h-1.5v7.8h-1.5v-1.7h-1.5v0.8h-1.5v-3.7h-1.5v0.2h-1.5v0.4h-1.5v2.7h-1.5v-3.7h-1.5v-4.1h-1.5v1.7h-1.5v3.9h-1.5v-5.1h-1.5v-0.4h-1.5v-0.7h-1.5v0.4h-1.5v3.2h-1.5v-3.0h-1.5v0.5h-1.5v-1.0h-1.5v-0.8h-1.5v9.9h-1.5v-5.1h-1.5v-2.1h-1.5v7.0h-1.5v-3.7h-1.5v-3.6h-1.5v0.8h-1.5v1.1h-1.5v-2.3h-1.5v0.5h-1.5v-3.0h-1.5v5.5h-1.5v-6.5h-1.5v2.7h-1.5v-5.3h-1.5v5.4h-1.5v-0.0h-1.5v-1.4h-1.5v8.9h-1.5v-5.5h-1.5v5.3h-1.5v-0.3h-1.5v-1.6h-1.5v-7.2h-1.5v4.0h-1.5v-3.1h-1.5v0.8h-1.5v0.0h-1.5v-6.8h-1.5v2.7h-1.5v0.1h-1.5v-2.5h-1.5v0.5h-1.5v-0.8h-1.5v1.2h-1.5v0.4h-1.5v-4.0h-1.5v3.2h-1.5v-0.5h-1.5v1.1h-1.5v1.5h-1.5v1.6h-1.5v0.2h-1.5v-1.6h-1.5v3.9h-1.5v-4.2h-1.5v-0.4h-1.5v-2.1h-1.5v-3.6h-1.5v4.5h-1.5v-2.8h-1.5v1.8h-1.5v2.4h-1.5v-0.1h-1.5v7.4h-1.5v-6.8h-1.5v2.6h-1.5v-1.2h-1.5v1.8h-1.5v-1.2h-1.5v4.1h-1.5v-2.9h-1.5v-0.2h-1.5v1.4h-1.5v-2.2h-1.5v-4.9h-1.5v-0.7h-1.5v1.5h-1.5v-1.6h-1.5v-0.3h-1.5v2.7h-1.5v-2.1h-1.5v0.0h-1.5v0.7h-1.5v0.9h-1.5v2.7h-1.5v-5.7h-1.5v2.1h-1.5v-1.2h-1.5v4.2h-1.5v-2.6h-1.5v0.1h-1.5v1.8h-1.5v0.3h-1.5v1.7h-1.5v-3.6h-1.5v4.1h-1.5v-5.4h-1.5v-0.6h-1.5v6.0h-1.5v-5.6h-1.5v-2.5h-1.5v3.8h-1.5v-0.3h-1.5v-5.4h-1.5v6.5h-1.5v-5.3h-1.5v-1.7h-1.5v0.4h-1.5v1.3h-1.5v0.2h-1.5v1.5h-1.5v-3.3h-1.5v5.6h-1.5v-4.1h-1.5v1.7h-1.5v-0.5h-1.5v-1.9h-1.5v-3.5h-1.5v4.1h-1.5v-2.5h-1.5v0.4h-1.5v3.5h-1.5v-5.8h-1.5v0.2h-1.5v-4.9h-1.5v1.7h-1.5v-0.6h-1.5v2.9h-1.5v1.1h-1.5v-4.8h-1.5v3.8h-1.5v-2.4h-1.5v6.5h-1.5v-2.2h-1.5v0.9h-1.5v1.6h-1.5v2.0h-1.5v-6.0h-1.5v0.2h-1.5v-0.9h-1.5v-0.6h-1.5v-3.7h-1.5v5.4h-1.5v-1.7h-1.5v-1.5h-1.5v-2.8h-1.5v-2.2h-1.5v1.1h-1.5v-3.8h-1.5v0.3h-1.5v-0.9h-1.5v-2.8h-1.5v-3.2h-1.5v1.3h-1.5v-1.2h-1.5v4.8h-1.5v2.2h-1.5v-5.7h-1.5v1.3h-1.5v0.5h-1.5v1.1h-1.5v-3.2h-1.5v-1.3h-1.5v-4.3h-1.5v1.5h-1.5v4.4h-1.5v1.3h-1.5v4.2h-1.5v-3.2h-1.5v2.7h-1.5v-1.5h-1.5v1.2h-1.5v-2.7h-1.5v4.9h-1.5v1.7h-1.5v-2.0h-1.5v-1.3h-1.5v2.7h-1.5v-3.4h-1.5v4.7h-1.5v-5.6h-1.5v-1.1h-1.5v0.8h-1.5v-0.0h-1.5v-6.6h-1.5v4.4h-1.5v-2.7h-1.5v1.6h-1.5v-2.2h-1.5v-3.8h-1.5v3.0h-1.5v0.3h-1.5v2.9h-1.5v-1.0h-1.5v0.4h-1.5v-7.5h-1.5v2.3h-1.5v-4.5h-1.5v-4.1h-1.5v-0.8h-1.5Z" fill="#75579c" stroke="#75579c" stroke-width="3.2" stroke-linejoin="round"/>
<path d="M142.5,1612.5V1592.5h1.5v5.7h1.5v2.6h1.5v0.7h1.5v9.1h1.5v-6.4h1.5v-1.3h1.5v2.1h1.5v3.6h1.5v-4.6h1.5v12.4h1.5v-2.9h1.5v-1.4h1.5v4.7h1.5v1.9h1.5v0.6h1.5v1.4h1.5v1.7h1.5v-4.7h1.5v3.0h1.5v-7.7h1.5v6.5h1.5v2.8h1.5v-4.9h1.5v3.6h1.5v0.3h1.5v-0.2h1.5v-1.4h1.5v-2.9h1.5v0.6h1.5v4.3h1.5v-0.7h1.5v-2.0h1.5v-0.7h1.5v-1.8h1.5v6.5h1.5v-3.4h1.5v-8.7h1.5v7.6h1.5v3.7h1.5v-0.3h1.5v-5.9h1.5v7.9h1.5v-1.0h1.5v1.1h1.5v-1.4h1.5v2.0h1.5v-8.1h1.5v2.5h1.5v1.6h1.5v-0.0h1.5v-0.3h1.5v1.5h1.5v3.3h1.5v-3.5h1.5v1.1h1.5v2.6h1.5v2.2h1.5v0.2h1.5v-0.6h1.5v-1.0h1.5v-1.7h1.5v1.1h1.5v-3.5h1.5v5.8h1.5v-2.5h1.5v-4.2h1.5v4.1h1.5v-0.5h1.5v-5.9h1.5v-0.6h1.5v1.0h1.5v1.1h1.5v1.6h1.5v-0.3h1.5v-0.1h1.5v4.1h1.5v-2.3h1.5v-3.1h1.5v4.4h1.5v-1.1h1.5v0.5h1.5v-0.1h1.5v1.1h1.5v0.7h1.5v-1.1h1.5v-3.1h1.5v4.3h1.5v2.9h1.5v-3.0h1.5v3.0h1.5v-1.1h1.5v1.9h1.5v-7.2h1.5v4.0h1.5v-0.6h1.5v-2.5h1.5v5.1h1.5v-2.9h1.5v2.7h1.5v-2.5h1.5v-1.6h1.5v-5.2h1.5v3.6h1.5v-2.5h1.5v3.3h1.5v-3.6h1.5v4.4h1.5v1.2h1.5v0.3h1.5v0.1h1.5v1.4h1.5v-2.5h1.5v7.8h1.5v-4.2h1.5v1.7h1.5v-1.9h1.5v1.6h1.5v-3.3h1.5v3.6h1.5v-1.0h1.5v1.7h1.5v-2.4h1.5v-1.1h1.5v0.8h1.5v-3.0h1.5v3.8h1.5v2.8h1.5v-0.8h1.5v-1.9h1.5v4.5h1.5v-2.9h1.5v-3.8h1.5v1.6h1.5v-1.3h1.5v-0.7h1.5v0.2h1.5v4.9h1.5v-0.8h1.5v-0.5h1.5v2.0h1.5v-4.8h1.5v4.2h1.5v0.2h1.5v-3.0h1.5v-0.6h1.5v9.1h1.5v-5.5h1.5v-3.2h1.5v4.2h1.5v0.5h1.5v-0.3h1.5v-4.2h1.5v3.2h1.5v-0.7h1.5v-1.0h1.5v3.4h1.5v1.1h1.5v-6.9h1.5v5.5h1.5v-7.4h1.5v3.8h1.5v-2.4h1.5v1.7h1.5v-1.6h1.5v2.9h1.5v-1.0h1.5v3.3h1.5v0.5h1.5v4.3h1.5v-6.6h1.5v7.0h1.5v-1.2h1.5v1.6h1.5v-2.3h1.5v-1.0h1.5v-3.6h1.5v1.0h1.5v-1.8h1.5v-1.0h1.5v3.0h1.5v-4.0h1.5v8.3h1.5v-3.7h1.5v1.8h1.5v-5.0h1.5v5.4h1.5v-0.6h1.5v-2.3h1.5v1.6h1.5v-0.0h1.5v1.1h1.5v-6.8h1.5v1.2h1.5v3.3h1.5v0.8h1.5v-2.8h1.5v3.0h1.5v1.8h1.5v-4.2h1.5v6.4h1.5v-3.0h1.5v5.0h1.5v0.7h1.5v-3.9h1.5v-3.5h1.5v7.7h1.5v-2.0h1.5v0.5h1.5v-6.2h1.5v4.9h1.5v2.7h1.5v-3.8h1.5v4.9h1.5v-5.9h1.5v7.9h1.5v-1.9h1.5v-0.5h1.5v2.5h1.5v-3.4h1.5v2.1h1.5v-3.5h1.5v4.7h1.5v-3.9h1.5v-2.0h1.5v2.6h1.5v0.8h1.5v0.3h1.5v-1.6h1.5v-2.1h1.5v1.2h1.5v-0.5h1.5v1.7h1.5v0.7h1.5v0.5h1.5v-0.4h1.5v-8.0h1.5v0.6h1.5v5.5h1.5v-0.8h1.5v-3.5h1.5v4.5h1.5v-1.9h1.5v-1.5h1.5v-2.1h1.5v5.1h1.5v-6.6h1.5v-1.5h1.5v-0.5h1.5v4.0h1.5v-0.5h1.5v-0.3h1.5v-1.1h1.5v0.5h1.5v2.8h1.5v-5.4h1.5v3.3h1.5v3.1h1.5v-4.0h1.5v1.3h1.5v0.5h1.5v-0.6h1.5v1.5h1.5v3.6h1.5v1.5h1.5v-2.3h1.5v0.7h1.5v-3.0h1.5v-5.4h1.5v6.5h1.5v0.8h1.5v-0.8h1.5v4.3h1.5v-3.0h1.5v-2.5h1.5v0.8h1.5v1.2h1.5v2.2h1.5v-3.6h1.5v1.1h1.5v4.6h1.5v-4.8h1.5v5.0h1.5v-7.8h1.5v5.0h1.5v-2.9h1.5v1.0h1.5v5.4h1.5v-2.7h1.5v-1.0h1.5v-5.1h1.5v3.4h1.5v1.6h1.5v-3.2h1.5v4.1h1.5v-6.0h1.5v6.2h1.5v-0.1h1.5v-0.7h1.5v0.5h1.5v1.6h1.5v-0.4h1.5v2.6h1.5v-5.3h1.5v1.7h1.5v0.7h1.5v2.2h1.5v-1.2h1.5v-5.2h1.5v6.0h1.5v-1.6h1.5v-2.3h1.5v1.4h1.5v-6.3h1.5v3.2h1.5v2.5h1.5v-7.4h1.5v-0.1h1.5v4.4h1.5v-0.5h1.5v2.6h1.5v3.4h1.5v2.5h1.5v-4.8h1.5v5.6h1.5v-3.9h1.5v2.6h1.5v0.7h1.5v-1.9h1.5v-0.4h1.5v1.4h1.5v-1.3h1.5v-0.4h1.5v-7.1h1.5v7.5h1.5v-2.6h1.5v-2.7h1.5v4.5h1.5v-2.0h1.5v4.3h1.5v-3.5h1.5v0.0h1.5v-1.6h1.5v0.9h1.5v-0.5h1.5v-2.1h1.5v0.8h1.5v1.0h1.5v-6.2h1.5v6.1h1.5v2.1h1.5v2.9h1.5v-0.6h1.5v1.5h1.5v-0.9h1.5v0.1h1.5v-1.0h1.5v-5.6h1.5v4.4h1.5v7.1h1.5v-5.0h1.5v-3.5h1.5v0.6h1.5v-5.0h1.5v1.9h1.5v2.9h1.5v-0.8h1.5v-1.1h1.5v-2.0h1.5v5.3h1.5v-4.9h1.5v2.6h1.5v2.6h1.5v-2.7h1.5v2.2h1.5v-0.0h1.5v-0.3h1.5v2.6h1.5v-4.5h1.5v5.1h1.5v1.3h1.5v0.4h1.5v-0.6h1.5v-0.7h1.5v-1.0h1.5v-2.4h1.5v5.9h1.5v-1.9h1.5v1.2h1.5v-4.8h1.5v1.4h1.5v0.7h1.5v-0.7h1.5v3.5h1.5v-2.4h1.5v-3.9h1.5v3.6h1.5v1.3h1.5v-0.8h1.5v1.4h1.5v-1.2h1.5v0.0h1.5v2.6h1.5v-1.2h1.5v-1.8h1.5v-1.3h1.5v-0.1h1.5v-0.8h1.5v-0.1h1.5v1.8h1.5v2.7h1.5v-2.9h1.5v-3.0h1.5v6.0h1.5v-4.3h1.5v0.3h1.5v3.0h1.5v1.2h1.5v-1.3h1.5v-0.8h1.5v0.1h1.5v1.4h1.5v-1.7h1.5v-2.5h1.5v1.0h1.5v-2.6h1.5v-1.1h1.5v4.2h1.5v-0.5h1.5v-4.3h1.5v3.3h1.5v1.3h1.5v-6.0h1.5v8.8h1.5v-4.1h1.5v-0.4h1.5v3.6h1.5v0.5h1.5v-3.6h1.5v2.7h1.5v0.3h1.5v-0.8h1.5v-1.8h1.5v2.9h1.5v-0.1h1.5v-0.9h1.5v1.0h1.5v0.5h1.5v-0.4h1.5v-1.5h1.5v0.7h1.5v-2.0h1.5v-0.5h1.5v4.0h1.5v-4.3h1.5v-2.2h1.5v1.1h1.5v0.2h1.5v2.5h1.5v-2.7h1.5v5.0h1.5v-0.3h1.5v4.3h1.5v-1.9h1.5v-3.8h1.5v2.5h1.5v-5.4h1.5v4.2h1.5v-1.1h1.5v-3.3h1.5v1.1h1.5v-1.2h1.5v2.0h1.5v-2.4h1.5v-1.9h1.5v1.2h1.5v0.6h1.5v0.4h1.5v-1.4h1.5v4.0h1.5v-1.8h1.5v-3.6h1.5v2.1h1.5v0.7h1.5v-0.3h1.5v-1.7h1.5v1.2h1.5v-0.9h1.5v-0.4h1.5v2.3h1.5v-1.1h1.5v-0.8h1.5v4.1h1.5v0.5h1.5v-5.2h1.5v-0.5h1.5v3.7h1.5v-2.1h1.5v0.6h1.5v-0.8h1.5v-2.9h1.5v1.2h1.5v5.3h1.5v-1.3h1.5v1.0h1.5v-1.0h1.5v4.2h1.5v-3.5h1.5v4.1h1.5v-2.3h1.5v1.1h1.5v-0.1h1.5v-0.5h1.5v-5.1h1.5v5.8h1.5v-4.2h1.5v2.8h1.5v2.7h1.5v3.7h1.5v-6.1h1.5v3.7h1.5v-2.3h1.5v3.1h1.5v-0.8h1.5v0.1h1.5v-3.2h1.5v-2.3h1.5v4.9h1.5v-0.9h1.5v1.5h1.5v-2.9h1.5v1.7h1.5v-1.2h1.5v-0.5h1.5v-6.2h1.5v4.5h1.5v1.3h1.5v-2.9h1.5v1.7h1.5v5.1h1.5v-10.7h1.5v3.8h1.5v5.1h1.5v-1.6h1.5v-1.5h1.5v2.9h1.5v-0.9h1.5v-2.4h1.5v-0.5h1.5v0.7h1.5V1652.8h-1.5v-0.3h-1.5v1.0h-1.5v-0.3h-1.5v2.7h-1.5v0.7h-1.5v-1.4h-1.5v-1.0h-1.5v1.8h-1.5v1.0h-1.5v-0.6h-1.5v2.9h-1.5v-3.6h-1.5v-2.4h-1.5v0.8h-1.5v-0.2h-1.5v-0.3h-1.5v1.9h-1.5v-2.0h-1.5v3.5h-1.5v-1.8h-1.5v3.0h-1.5v-0.8h-1.5v-2.1h-1.5v1.7h-1.5v-0.4h-1.5v0.3h-1.5v1.8h-1.5v-0.3h-1.5v-3.0h-1.5v2.4h-1.5v1.2h-1.5v-6.1h-1.5v0.2h-1.5v-2.1h-1.5v0.5h-1.5v1.4h-1.5v0.6h-1.5v2.7h-1.5v-5.2h-1.5v3.5h-1.5v-2.0h-1.5v3.3h-1.5v-1.9h-1.5v2.3h-1.5v-1.9h-1.5v1.7h-1.5v-5.3h-1.5v2.8h-1.5v-4.8h-1.5v0.8h-1.5v1.8h-1.5v-2.3h-1.5v1.1h-1.5v-2.1h-1.5v0.4h-1.5v2.1h-1.5v-1.0h-1.5v0.8h-1.5v-1.8h-1.5v3.0h-1.5v-2.6h-1.5v5.8h-1.5v-5.0h-1.5v-3.2h-1.5v6.4h-1.5v-0.7h-1.5v1.3h-1.5v-5.9h-1.5v5.2h-1.5v-2.3h-1.5v-3.3h-1.5v1.6h-1.5v0.1h-1.5v2.9h-1.5v-4.0h-1.5v3.3h-1.5v2.3h-1.5v-0.6h-1.5v-1.6h-1.5v2.2h-1.5v-0.0h-1.5v3.6h-1.5v-0.9h-1.5v-1.7h-1.5v0.5h-1.5v3.2h-1.5v0.1h-1.5v-3.9h-1.5v3.3h-1.5v-3.4h-1.5v1.7h-1.5v-3.5h-1.5v2.8h-1.5v-6.0h-1.5v3.3h-1.5v1.2h-1.5v-4.3h-1.5v2.6h-1.5v0.4h-1.5v-0.1h-1.5v4.0h-1.5v-2.7h-1.5v0.3h-1.5v4.0h-1.5v-2.5h-1.5v0.4h-1.5v-3.2h-1.5v2.1h-1.5v-4.0h-1.5v7.0h-1.5v-6.1h-1.5v2.5h-1.5v-3.3h-1.5v1.3h-1.5v3.5h-1.5v-3.3h-1.5v3.5h-1.5v-1.5h-1.5v-2.9h-1.5v0.1h-1.5v-1.6h-1.5v3.2h-1.5v-5.5h-1.5v3.2h-1.5v4.0h-1.5v-2.3h-1.5v-2.0h-1.5v2.0h-1.5v2.5h-1.5v-2.6h-1.5v-0.0h-1.5v2.8h-1.5v-2.8h-1.5v1.3h-1.5v-0.4h-1.5v1.7h-1.5v-0.8h-1.5v-0.4h-1.5v-1.6h-1.5v-1.1h-1.5v2.8h-1.5v-3.4h-1.5v2.3h-1.5v5.5h-1.5v-4.6h-1.5v2.4h-1.5v1.4h-1.5v-2.8h-1.5v0.7h-1.5v-2.6h-1.5v1.3h-1.5v-0.7h-1.5v-0.4h-1.5v-0.2h-1.5v-0.4h-1.5v1.2h-1.5v-1.1h-1.5v1.7h-1.5v-2.1h-1.5v1.1h-1.5v3.6h-1.5v-4.9h-1.5v2.2h-1.5v-1.0h-1.5v4.1h-1.5v-2.8h-1.5v1.9h-1.5v-1.4h-1.5v-0.7h-1.5v-0.6h-1.5v-4.3h-1.5v2.6h-1.5v-0.3h-1.5v3.3h-1.5v-6.0h-1.5v3.1h-1.5v-0.6h-1.5v-3.1h-1.5v-1.7h-1.5v5.8h-1.5v-7.1h-1.5v6.7h-1.5v-3.4h-1.5v1.8h-1.5v-1.7h-1.5v-0.0h-1.5v0.3h-1.5v-1.0h-1.5v2.5h-1.5v7.2h-1.5v-7.2h-1.5v6.4h-1.5v-4.0h-1.5v1.6h-1.5v0.9h-1.5v-3.7h-1.5v4.5h-1.5v-5.0h-1.5v3.6h-1.5v-2.8h-1.5v-2.0h-1.5v-0.3h-1.5v-1.2h-1.5v-1.5h-1.5v-0.1h-1.5v-0.6h-1.5v-0.4h-1.5v2.8h-1.5v1.4h-1.5v2.6h-1.5v1.8h-1.5v-3.8h-1.5v-1.3h-1.5v1.9h-1.5v-1.1h-1.5v1.6h-1.5v0.7h-1.5v-0.1h-1.5v-0.2h-1.5v-0.5h-1.5v3.2h-1.5v1.3h-1.5v0.7h-1.5v-4.2h-1.5v3.0h-1.5v-0.6h-1.5v-3.6h-1.5v0.9h-1.5v-0.7h-1.5v1.2h-1.5v-4.2h-1.5v-0.4h-1.5v0.2h-1.5v3.7h-1.5v-6.7h-1.5v3.6h-1.5v3.2h-1.5v-0.5h-1.5v-1.5h-1.5v0.9h-1.5v-1.3h-1.5v8.7h-1.5v-5.7h-1.5v1.4h-1.5v2.0h-1.5v0.1h-1.5v1.8h-1.5v-4.2h-1.5v3.9h-1.5v-3.6h-1.5v-0.2h-1.5v-0.5h-1.5v-1.1h-1.5v2.0h-1.5v-3.1h-1.5v-2.8h-1.5v2.6h-1.5v4.1h-1.5v-5.7h-1.5v-1.1h-1.5v0.8h-1.5v0.7h-1.5v-0.5h-1.5v3.6h-1.5v-2.4h-1.5v-5.2h-1.5v5.4h-1.5v-0.2h-1.5v0.6h-1.5v3.4h-1.5v-10.0h-1.5v9.2h-1.5v-2.8h-1.5v-0.2h-1.5v-3.3h-1.5v3.7h-1.5v-1.2h-1.5v1.2h-1.5v-1.2h-1.5v0.4h-1.5v-5.1h-1.5v2.1h-1.5v3.9h-1.5v-1.9h-1.5v0.3h-1.5v-0.5h-1.5v2.6h-1.5v-3.7h-1.5v-1.5h-1.5v1.3h-1.5v1.6h-1.5v-2.3h-1.5v-0.5h-1.5v-6.2h-1.5v7.9h-1.5v-2.3h-1.5v1.3h-1.5v-3.6h-1.5v1.6h-1.5v-2.0h-1.5v5.7h-1.5v-6.0h-1.5v0.4h-1.5v4.8h-1.5v-0.4h-1.5v-5.2h-1.5v10.5h-1.5v-1.3h-1.5v-3.0h-1.5v0.7h-1.5v1.3h-1.5v-2.4h-1.5v4.9h-1.5v-0.5h-1.5v-2.0h-1.5v-3.0h-1.5v5.2h-1.5v2.8h-1.5v-6.1h-1.5v-0.0h-1.5v-2.6h-1.5v3.2h-1.5v-0.1h-1.5v6.4h-1.5v-7.4h-1.5v2.3h-1.5v1.6h-1.5v1.1h-1.5v1.6h-1.5v-1.8h-1.5v-0.4h-1.5v2.9h-1.5v-0.0h-1.5v-1.8h-1.5v-3.8h-1.5v5.1h-1.5v-3.3h-1.5v-0.1h-1.5v0.1h-1.5v-1.3h-1.5v-0.5h-1.5v-0.8h-1.5v-1.0h-1.5v-0.6h-1.5v-0.5h-1.5v7.4h-1.5v0.0h-1.5v-2.7h-1.5v-2.3h-1.5v-4.1h-1.5v-0.9h-1.5v1.3h-1.5v-5.6h-1.5v8.5h-1.5v-1.8h-1.5v-1.3h-1.5v-1.0h-1.5v0.5h-1.5v-3.0h-1.5v3.2h-1.5v-1.8h-1.5v0.7h-1.5v-0.6h-1.5v6.3h-1.5v-6.5h-1.5v3.1h-1.5v-0.6h-1.5v0.3h-1.5v0.1h-1.5v-2.6h-1.5v-2.3h-1.5v1.0h-1.5v0.3h-1.5v4.9h-1.5v-2.2h-1.5v-1.6h-1.5v5.2h-1.5v-2.4h-1.5v5.4h-1.5v-4.0h-1.5v-2.9h-1.5v-5.7h-1.5v5.7h-1.5v-1.9h-1.5v-0.7h-1.5v-3.6h-1.5v2.9h-1.5v-1.8h-1.5v0.5h-1.5v3.6h-1.5v-3.6h-1.5v1.4h-1.5v4.2h-1.5v-2.7h-1.5v2.9h-1.5v1.8h-1.5v-7.8h-1.5v6.7h-1.5v-8.6h-1.5v3.1h-1.5v1.7h-1.5v-2.6h-1.5v3.8h-1.5v1.9h-1.5v-5.4h-1.5v0.4h-1.5v0.1h-1.5v-4.2h-1.5v4.1h-1.5v-3.0h-1.5v1.4h-1.5v-1.7h-1.5v-0.2h-1.5v1.5h-1.5v-0.1h-1.5v-2.0h-1.5v6.9h-1.5v-0.9h-1.5v-3.0h-1.5v4.8h-1.5v-2.3h-1.5v-0.9h-1.5v-2.9h-1.5v-2.2h-1.5v4.8h-1.5v-1.5h-1.5v-1.8h-1.5v2.3h-1.5v-3.2h-1.5v0.7h-1.5v1.2h-1.5v4.6h-1.5v-2.4h-1.5v-7.0h-1.5v9.9h-1.5v-4.1h-1.5v2.4h-1.5v-5.3h-1.5v5.1h-1.5v-9.1h-1.5v-0.5h-1.5v4.0h-1.5v-1.2h-1.5v2.0h-1.5v-2.4h-1.5v4.4h-1.5v-3.3h-1.5v2.6h-1.5v-5.2h-1.5v1.9h-1.5v4.7h-1.5v-1.6h-1.5v-2.0h-1.5v2.7h-1.5v-1.9h-1.5v0.3h-1.5v-2.0h-1.5v1.6h-1.5v2.3h-1.5v0.2h-1.5v-3.1h-1.5v-0.8h-1.5v2.9h-1.5v-6.7h-1.5v3.7h-1.5v-3.7h-1.5v6.8h-1.5v-5.2h-1.5v3.1h-1.5v-0.8h-1.5v-3.2h-1.5v-0.2h-1.5v0.4h-1.5v-2.9h-1.5v3.5h-1.5v2.0h-1.5v-3.9h-1.5v0.6h-1.5v-0.8h-1.5v1.7h-1.5v0.9h-1.5v0.4h-1.5v-0.4h-1.5v0.8h-1.5v1.4h-1.5v-0.5h-1.5v3.5h-1.5v-3.3h-1.5v3.9h-1.5v-0.1h-1.5v2.6h-1.5v-0.8h-1.5v-2.1h-1.5v0.1h-1.5v-7.3h-1.5v3.6h-1.5v-1.8h-1.5v1.4h-1.5v-4.2h-1.5v-0.1h-1.5v1.9h-1.5v0.6h-1.5v1.6h-1.5v0.4h-1.5v-0.2h-1.5v4.6h-1.5v-1.2h-1.5v-6.5h-1.5v2.7h-1.5v-0.2h-1.5v-0.9h-1.5v-0.1h-1.5v6.4h-1.5v-9.5h-1.5v-6.0h-1.5v4.4h-1.5v1.9h-1.5v2.2h-1.5v2.3h-1.5v-6.0h-1.5v1.9h-1.5v2.0h-1.5v-2.2h-1.5v5.7h-1.5v-7.4h-1.5v5.1h-1.5v2.6h-1.5v-6.3h-1.5v4.5h-1.5v-5.5h-1.5v7.4h-1.5v-1.9h-1.5v-2.2h-1.5v1.0h-1.5v-4.7h-1.5v-0.7h-1.5v-4.4h-1.5v4.9h-1.5v3.0h-1.5v-5.8h-1.5v1.7h-1.5v-3.4h-1.5v-5.3h-1.5v4.9h-1.5v-1.6h-1.5v-0.7h-1.5v-3.8h-1.5v-1.5h-1.5v-4.9h-1.5Z" fill="#3aa6c8" stroke="#3aa6c8" stroke-width="3.2" stroke-linejoin="round"/>
<text transform="translate(125.0,1534.5) scale(1.190,1)" font-family="Liberation Sans" font-size="18.4" font-weight="normal" text-anchor="end" fill="#111" >300</text>
<text transform="translate(125.0,1588.3) scale(1.190,1)" font-family="Liberation Sans" font-size="18.4" font-weight="normal" text-anchor="end" fill="#111" >250</text>
<text transform="translate(125.0,1643.7) scale(1.190,1)" font-family="Liberation Sans" font-size="18.4" font-weight="normal" text-anchor="end" fill="#111" >200</text>
<text transform="translate(125.0,1696.5) scale(1.190,1)" font-family="Liberation Sans" font-size="18.4" font-weight="normal" text-anchor="end" fill="#111" >150</text>
<text transform="translate(125.0,1750.3) scale(1.190,1)" font-family="Liberation Sans" font-size="18.4" font-weight="normal" text-anchor="end" fill="#111" >100</text>
<text transform="translate(125.0,1804.7) scale(1.190,1)" font-family="Liberation Sans" font-size="18.4" font-weight="normal" text-anchor="end" fill="#111" >50</text>
<text transform="translate(125.0,1857.5) scale(1.190,1)" font-family="Liberation Sans" font-size="18.4" font-weight="normal" text-anchor="end" fill="#111" >0</text>
<text transform="translate(142.0,1885.5) scale(1.190,1)" font-family="Liberation Sans" font-size="18.4" font-weight="normal" text-anchor="middle" fill="#111" >0</text>
<text transform="translate(290.5,1885.5) scale(1.190,1)" font-family="Liberation Sans" font-size="18.4" font-weight="normal" text-anchor="middle" fill="#111" >20</text>
<text transform="translate(455.4,1885.5) scale(1.190,1)" font-family="Liberation Sans" font-size="18.4" font-weight="normal" text-anchor="middle" fill="#111" >40</text>
<text transform="translate(619.0,1885.5) scale(1.190,1)" font-family="Liberation Sans" font-size="18.4" font-weight="normal" text-anchor="middle" fill="#111" >60</text>
<text transform="translate(783.8,1885.5) scale(1.190,1)" font-family="Liberation Sans" font-size="18.4" font-weight="normal" text-anchor="middle" fill="#111" >80</text>
<text transform="translate(948.9,1885.5) scale(1.190,1)" font-family="Liberation Sans" font-size="18.4" font-weight="normal" text-anchor="middle" fill="#111" >100</text>
<text x="1158.5" y="1554.0" font-family="Liberation Serif" font-size="52.5" font-weight="bold" text-anchor="middle" fill="#000" >D</text>
<text x="541.6" y="1898.5" font-family="Liberation Serif" font-size="33.0" font-weight="bold" text-anchor="middle" fill="#000" >Time (ns)</text>
<path d="M199.6,2059.9 201.3,2112.7 203.1,2143.5 204.8,2183.8 206.5,2161.3 208.2,2140.9 209.9,2136.6 211.6,2124.9 213.3,2133.4 215.1,2126.7 216.8,2150.4 218.5,2142.7 220.2,2124.7 221.9,2140.5 223.6,2153.7 225.3,2151.2 227.0,2142.5 228.8,2144.7 230.5,2125.1 232.2,2083.4 233.9,2083.4 235.6,2133.4 237.3,2168.0 239.0,2167.3 240.7,2164.7 242.4,2155.4 244.2,2150.7 245.9,2136.5 247.6,2125.2 249.3,2120.9 251.0,2130.5 252.7,2140.9 254.4,2154.9 256.1,2173.5 257.9,2190.4 259.6,2181.5 261.3,2190.2 263.0,2195.1 264.7,2172.9 266.4,2158.5 268.1,2159.8 269.9,2115.8 271.6,2082.1 273.3,2064.9 275.0,2096.3 276.7,2137.7 278.4,2172.2 280.1,2179.7 281.8,2157.1 283.5,2143.8 285.3,2130.4 287.0,2150.3 288.7,2160.2 290.4,2160.8 292.1,2144.1 293.8,2148.1 295.5,2170.9 297.2,2172.7 299.0,2171.9 300.7,2157.1 302.4,2163.6 304.1,2170.1 305.8,2134.5 307.5,2126.5 309.2,2137.8 310.9,2145.8 312.7,2153.6 314.4,2160.3 316.1,2173.8 317.8,2169.8 319.5,2148.1 321.2,2152.4 322.9,2170.1 324.6,2167.7 326.4,2156.0 328.1,2164.9 329.8,2151.2 331.5,2136.7 333.2,2141.8 334.9,2142.2 336.6,2173.2 338.4,2172.9 340.1,2175.2 341.8,2169.5 343.5,2170.6 345.2,2161.1 346.9,2167.8 348.6,2170.6 350.3,2141.3 352.0,2149.0 353.8,2150.3 355.5,2147.0 357.2,2156.5 358.9,2162.2 360.6,2150.5 362.3,2160.7 364.0,2167.7 365.8,2159.5 367.5,2175.4 369.2,2139.7 370.9,2112.9 372.6,2094.7 374.3,2105.1 376.0,2123.6 377.7,2145.9 379.4,2148.6 381.2,2157.2 382.9,2155.6 384.6,2158.2 386.3,2144.3 388.0,2135.9 389.7,2139.9 391.4,2145.3 393.1,2190.2 394.9,2172.8 396.6,2178.3 398.3,2161.0 400.0,2188.6 401.7,2184.0 403.4,2171.2 405.1,2183.7 406.8,2196.7 408.6,2181.4 410.3,2159.0 412.0,2140.8 413.7,2121.5 415.4,2138.2 417.1,2143.0 418.8,2138.8 420.6,2135.8 422.3,2152.5 424.0,2164.0 425.7,2170.4 427.4,2152.1 429.1,2145.8 430.8,2146.8 432.5,2164.8 434.2,2172.3 436.0,2166.0 437.7,2169.9 439.4,2174.0 441.1,2107.3 442.8,2035.9 444.5,1983.5 446.2,1997.1 447.9,2066.1 449.7,2116.7 451.4,2181.4 453.1,2181.1 454.8,2180.4 456.5,2176.2 458.2,2167.5 459.9,2186.6 461.6,2187.8 463.4,2196.2 465.1,2177.7 466.8,2173.5 468.5,2143.1 470.2,2147.8 471.9,2149.6 473.6,2162.5 475.3,2163.6 477.1,2120.5 478.8,2070.9 480.5,2058.3 482.2,2092.4 483.9,2124.6 485.6,2134.4 487.3,2146.2 489.0,2118.2 490.8,2116.1 492.5,2154.0 494.2,2167.7 495.9,2178.3 497.6,2159.6 499.3,2156.9 501.0,2178.2 502.8,2163.9 504.5,2144.0 506.2,2139.8 507.9,2125.8 509.6,2123.0 511.3,2143.2 513.0,2152.0 514.7,2173.4 516.5,2156.6 518.2,2183.2 519.9,2157.5 521.6,2165.2 523.3,2160.5 525.0,2174.5 526.7,2182.7 528.4,2196.7 530.1,2196.7 531.9,2175.0 533.6,2196.7 535.3,2187.3 537.0,2165.7 538.7,2169.4 540.4,2174.0 542.1,2185.2 543.8,2153.6 545.6,2162.3 547.3,2156.7 549.0,2172.8 550.7,2164.9 552.4,2163.2 554.1,2147.2 555.8,2146.8 557.5,2166.2 559.3,2165.3 561.0,2164.3 562.7,2142.2 564.4,2091.9 566.1,2067.5 567.8,2091.8 569.5,2122.5 571.2,2114.4 573.0,2086.5 574.7,2112.4 576.4,2158.0 578.1,2151.6 579.8,2162.2 581.5,2152.4 583.2,2167.4 585.0,2158.2 586.7,2146.0 588.4,2135.9 590.1,2124.5 591.8,2135.6 593.5,2150.2 595.2,2177.6 596.9,2160.4 598.6,2183.2 600.4,2178.2 602.1,2161.5 603.8,2163.6 605.5,2177.4 607.2,2192.1 608.9,2169.2 610.6,2168.3 612.3,2163.1 614.1,2165.9 615.8,2157.5 617.5,2166.7 619.2,2174.2 620.9,2171.3 622.6,2154.6 624.3,2171.4 626.0,2146.7 627.8,2130.7 629.5,2106.6 631.2,2109.4 632.9,2138.1 634.6,2150.7 636.3,2138.1 638.0,2130.4 639.8,2104.8 641.5,2092.0 643.2,2135.4 644.9,2147.9 646.6,2159.0 648.3,2166.1 650.0,2175.9 651.7,2148.1 653.4,2157.5 655.2,2139.2 656.9,2144.0 658.6,2139.3 660.3,2128.4 662.0,2124.5 663.7,2128.6 665.4,2145.4 667.1,2161.6 668.9,2142.3 670.6,2148.2 672.3,2162.6 674.0,2136.2 675.7,2135.2 677.4,2150.8 679.1,2141.2 680.9,2165.2 682.6,2161.2 684.3,2148.9 686.0,2160.6 687.7,2153.7 689.4,2173.7 691.1,2154.0 692.8,2161.7 694.5,2149.9 696.3,2128.3 698.0,2153.5 699.7,2190.1 701.4,2185.5 703.1,2187.1 704.8,2180.7 706.5,2180.3 708.2,2186.7 710.0,2159.0 711.7,2172.1 713.4,2158.6 715.1,2179.4 716.8,2175.6 718.5,2182.4 720.2,2189.8 721.9,2175.0 723.7,2174.5 725.4,2171.5 727.1,2169.8 728.8,2173.0 730.5,2154.8 732.2,2143.5 733.9,2140.2 735.6,2146.7 737.4,2170.7 739.1,2143.5 740.8,2166.0 742.5,2156.5 744.2,2143.6 745.9,2130.4 747.6,2143.9 749.4,2145.8 751.1,2169.9 752.8,2153.0 754.5,2188.4 756.2,2148.2 757.9,2123.8 759.6,2105.5 761.3,2116.0 763.0,2145.8 764.8,2151.8 766.5,2186.3 768.2,2168.0 769.9,2155.6 771.6,2166.4 773.3,2170.6 775.0,2174.2 776.8,2184.8 778.5,2174.2 780.2,2176.2 781.9,2164.5 783.6,2166.6 785.3,2147.5 787.0,2148.3 788.7,2144.0 790.4,2143.5 792.2,2151.8 793.9,2166.0 795.6,2146.5 797.3,2144.3 799.0,2143.5 800.7,2150.8 802.4,2155.1 804.1,2169.9 805.9,2166.3 807.6,2141.9 809.3,2160.4 811.0,2152.9 812.7,2146.8 814.4,2152.9 816.1,2159.4 817.8,2164.2 819.6,2156.0 821.3,2144.6 823.0,2140.6 824.7,2155.0 826.4,2136.2 828.1,2116.9 829.8,2132.6 831.5,2153.7 833.3,2148.4 835.0,2163.9 836.7,2142.7 838.4,2141.2 840.1,2142.2 841.8,2121.0 843.5,2114.9 845.2,2126.7 847.0,2157.8 848.7,2138.5 850.4,2177.4 852.1,2177.9 853.8,2145.6 855.5,2181.6 857.2,2168.6 858.9,2159.4 860.7,2164.1 862.4,2164.9 864.1,2149.7 865.8,2123.7 867.5,2090.3 869.2,2115.6 870.9,2167.3 872.6,2177.7 874.4,2167.0 876.1,2177.3 877.8,2172.2 879.5,2170.3 881.2,2136.4 882.9,2116.9 884.6,2131.5 886.3,2148.3 888.1,2151.2 889.8,2161.0 891.5,2167.1 893.2,2152.3 894.9,2175.4 896.6,2164.5 898.3,2148.9 900.0,2141.0 901.8,2113.4 903.5,2107.3 905.2,2127.7 906.9,2148.5 908.6,2169.7 910.3,2174.4 912.0,2175.5 913.8,2186.1 915.5,2187.0 917.2,2163.4 918.9,2172.3 920.6,2163.2 922.3,2163.1 924.0,2135.6 925.7,2116.9 927.4,2135.0 929.2,2154.6 930.9,2160.3 932.6,2171.5 934.3,2150.0 936.0,2160.4 937.7,2133.6 939.4,2116.9 941.1,2125.3 942.9,2142.9 944.6,2145.6 946.3,2159.1 948.0,2153.9 949.7,2144.6 951.4,2142.9 953.1,2103.0 954.8,2058.0 956.6,2050.4 958.3,2084.9 960.0,2117.0 961.7,2105.5 963.4,2137.6 965.1,2174.2 966.8,2185.2 968.5,2188.7 970.3,2191.6 972.0,2185.8 973.7,2189.7 975.4,2189.5 977.1,2167.9 978.8,2158.7 980.5,2167.2 982.2,2162.7 984.0,2150.3 985.7,2144.8 987.4,2089.8 989.1,2040.9 990.8,2098.7 992.5,2153.9 994.2,2097.9 995.9,2067.5" fill="none" stroke="#3f76b8" stroke-width="5.0" stroke-linejoin="round" stroke-linecap="round"/>
<path d="M199.6,2082.7 201.3,2125.3 203.1,2143.5 204.8,2170.2 206.5,2155.8 208.2,2160.3 209.9,2138.4 211.6,2138.0 213.3,2141.7 215.1,2130.9 216.8,2134.4 218.5,2150.3 220.2,2143.5 221.9,2166.4 223.6,2185.7 225.3,2152.3 227.0,2124.5 228.8,2139.3 230.5,2148.9 232.2,2144.9 233.9,2148.2 235.6,2156.7 237.3,2173.1 239.0,2176.9 240.7,2175.8 242.4,2168.3 244.2,2152.6 245.9,2141.8 247.6,2127.5 249.3,2124.8 251.0,2132.3 252.7,2140.2 254.4,2170.3 256.1,2158.5 257.9,2166.0 259.6,2179.6 261.3,2182.4 263.0,2180.5 264.7,2172.1 266.4,2158.9 268.1,2161.3 269.9,2129.0 271.6,2093.3 273.3,2080.0 275.0,2107.1 276.7,2154.3 278.4,2169.8 280.1,2164.3 281.8,2140.7 283.5,2131.4 285.3,2121.7 287.0,2137.5 288.7,2144.8 290.4,2161.2 292.1,2121.8 293.8,2119.6 295.5,2153.1 297.2,2171.4 299.0,2160.7 300.7,2168.7 302.4,2169.4 304.1,2155.1 305.8,2159.0 307.5,2152.1 309.2,2158.6 310.9,2159.7 312.7,2157.0 314.4,2166.7 316.1,2156.2 317.8,2153.9 319.5,2158.6 321.2,2154.4 322.9,2179.3 324.6,2162.7 326.4,2159.4 328.1,2166.3 329.8,2163.4 331.5,2144.2 333.2,2147.4 334.9,2143.3 336.6,2167.1 338.4,2164.7 340.1,2175.6 341.8,2168.1 343.5,2167.1 345.2,2173.4 346.9,2149.8 348.6,2146.5 350.3,2145.0 352.0,2154.9 353.8,2144.2 355.5,2156.3 357.2,2166.8 358.9,2155.1 360.6,2177.5 362.3,2155.4 364.0,2164.3 365.8,2186.1 367.5,2156.2 369.2,2141.6 370.9,2121.0 372.6,2098.3 374.3,2105.9 376.0,2131.3 377.7,2154.6 379.4,2165.5 381.2,2171.8 382.9,2149.4 384.6,2163.9 386.3,2155.3 388.0,2151.1 389.7,2146.4 391.4,2148.2 393.1,2177.4 394.9,2164.0 396.6,2172.9 398.3,2189.6 400.0,2188.9 401.7,2171.2 403.4,2183.8 405.1,2178.2 406.8,2179.9 408.6,2144.8 410.3,2141.5 412.0,2129.3 413.7,2135.9 415.4,2131.9 417.1,2127.1 418.8,2144.7 420.6,2157.7 422.3,2178.0 424.0,2160.1 425.7,2150.1 427.4,2157.1 429.1,2152.0 430.8,2155.1 432.5,2160.4 434.2,2185.2 436.0,2165.8 437.7,2162.9 439.4,2167.7 441.1,2125.3 442.8,2094.3 444.5,2069.2 446.2,2074.1 447.9,2110.5 449.7,2141.4 451.4,2185.7 453.1,2184.6 454.8,2185.6 456.5,2163.4 458.2,2166.8 459.9,2168.2 461.6,2175.8 463.4,2177.8 465.1,2181.7 466.8,2161.0 468.5,2172.6 470.2,2168.0 471.9,2159.6 473.6,2165.2 475.3,2172.7 477.1,2133.3 478.8,2127.9 480.5,2124.9 482.2,2125.5 483.9,2132.9 485.6,2154.7 487.3,2143.8 489.0,2147.0 490.8,2146.0 492.5,2158.4 494.2,2154.0 495.9,2169.6 497.6,2176.5 499.3,2156.2 501.0,2166.0 502.8,2141.5 504.5,2149.2 506.2,2157.7 507.9,2129.1 509.6,2126.5 511.3,2153.8 513.0,2192.5 514.7,2154.8 516.5,2154.7 518.2,2130.6 519.9,2154.5 521.6,2147.4 523.3,2178.6 525.0,2180.3 526.7,2169.0 528.4,2182.4 530.1,2196.7 531.9,2196.7 533.6,2171.9 535.3,2179.6 537.0,2164.4 538.7,2153.0 540.4,2173.2 542.1,2161.6 543.8,2176.7 545.6,2153.9 547.3,2156.1 549.0,2154.3 550.7,2165.2 552.4,2155.0 554.1,2102.5 555.8,2103.3 557.5,2161.6 559.3,2181.4 561.0,2177.6 562.7,2150.1 564.4,2125.6 566.1,2113.1 567.8,2126.3 569.5,2140.3 571.2,2145.1 573.0,2135.9 574.7,2152.8 576.4,2155.2 578.1,2153.6 579.8,2168.7 581.5,2151.6 583.2,2172.3 585.0,2144.3 586.7,2141.6 588.4,2131.0 590.1,2143.5 591.8,2151.3 593.5,2159.5 595.2,2183.2 596.9,2177.3 598.6,2188.5 600.4,2182.0 602.1,2149.4 603.8,2150.3 605.5,2174.0 607.2,2185.4 608.9,2181.6 610.6,2169.3 612.3,2194.7 614.1,2175.6 615.8,2183.4 617.5,2158.4 619.2,2172.0 620.9,2170.2 622.6,2153.0 624.3,2154.9 626.0,2179.6 627.8,2143.6 629.5,2136.3 631.2,2139.4 632.9,2148.4 634.6,2158.9 636.3,2150.5 638.0,2142.5 639.8,2134.4 641.5,2121.9 643.2,2122.0 644.9,2138.9 646.6,2144.1 648.3,2170.7 650.0,2149.9 651.7,2163.2 653.4,2153.3 655.2,2137.3 656.9,2140.7 658.6,2154.2 660.3,2150.0 662.0,2132.6 663.7,2144.4 665.4,2141.1 667.1,2153.0 668.9,2163.3 670.6,2144.7 672.3,2148.1 674.0,2143.2 675.7,2180.0 677.4,2155.5 679.1,2152.7 680.9,2162.2 682.6,2172.3 684.3,2196.5 686.0,2169.0 687.7,2157.2 689.4,2164.0 691.1,2143.4 692.8,2145.5 694.5,2168.8 696.3,2162.5 698.0,2181.6 699.7,2163.2 701.4,2168.5 703.1,2175.7 704.8,2195.8 706.5,2187.1 708.2,2190.3 710.0,2186.2 711.7,2168.4 713.4,2162.9 715.1,2161.6 716.8,2188.1 718.5,2171.0 720.2,2174.3 721.9,2188.6 723.7,2181.9 725.4,2179.3 727.1,2163.7 728.8,2161.7 730.5,2155.9 732.2,2162.5 733.9,2164.6 735.6,2164.5 737.4,2187.0 739.1,2167.4 740.8,2165.1 742.5,2143.5 744.2,2165.8 745.9,2158.5 747.6,2172.6 749.4,2150.2 751.1,2168.1 752.8,2161.7 754.5,2174.2 756.2,2162.3 757.9,2135.8 759.6,2120.7 761.3,2132.0 763.0,2141.3 764.8,2167.1 766.5,2159.8 768.2,2141.6 769.9,2175.1 771.6,2179.1 773.3,2171.6 775.0,2174.1 776.8,2167.5 778.5,2175.9 780.2,2166.9 781.9,2169.5 783.6,2168.2 785.3,2165.0 787.0,2139.3 788.7,2156.1 790.4,2150.5 792.2,2155.5 793.9,2143.1 795.6,2160.6 797.3,2150.5 799.0,2151.1 800.7,2155.8 802.4,2161.4 804.1,2149.0 805.9,2160.7 807.6,2151.6 809.3,2152.6 811.0,2146.9 812.7,2132.4 814.4,2156.3 816.1,2162.6 817.8,2150.1 819.6,2136.4 821.3,2159.3 823.0,2154.7 824.7,2150.6 826.4,2160.5 828.1,2143.5 829.8,2150.3 831.5,2151.2 833.3,2159.4 835.0,2141.4 836.7,2147.2 838.4,2142.3 840.1,2084.9 841.8,2012.1 843.5,1989.6 845.2,2066.3 847.0,2134.5 848.7,2162.6 850.4,2167.7 852.1,2169.3 853.8,2173.6 855.5,2189.4 857.2,2180.7 858.9,2178.7 860.7,2177.6 862.4,2145.5 864.1,2169.4 865.8,2153.4 867.5,2143.5 869.2,2136.3 870.9,2167.3 872.6,2180.1 874.4,2159.1 876.1,2154.4 877.8,2158.6 879.5,2150.5 881.2,2146.5 882.9,2143.5 884.6,2148.5 886.3,2146.1 888.1,2145.7 889.8,2137.1 891.5,2139.9 893.2,2153.7 894.9,2149.8 896.6,2165.7 898.3,2158.4 900.0,2130.4 901.8,2086.3 903.5,2073.8 905.2,2105.1 906.9,2141.2 908.6,2171.5 910.3,2170.3 912.0,2174.1 913.8,2167.3 915.5,2185.6 917.2,2170.6 918.9,2156.1 920.6,2172.4 922.3,2165.7 924.0,2154.9 925.7,2143.5 927.4,2151.6 929.2,2180.8 930.9,2143.5 932.6,2169.7 934.3,2152.9 936.0,2144.3 937.7,2136.1 939.4,2116.9 941.1,2132.7 942.9,2169.2 944.6,2148.0 946.3,2158.6 948.0,2150.3 949.7,2138.1 951.4,2157.4 953.1,2131.7 954.8,2118.0 956.6,2114.0 958.3,2122.6 960.0,2133.6 961.7,2124.5 963.4,2132.1 965.1,2166.0 966.8,2170.8 968.5,2182.8 970.3,2181.1 972.0,2163.0 973.7,2175.6 975.4,2177.0 977.1,2183.5 978.8,2173.1 980.5,2192.5 982.2,2176.6 984.0,2169.9 985.7,2158.0 987.4,2130.4 989.1,2124.5 990.8,2143.8 992.5,2162.0 994.2,2066.0 995.9,2021.9" fill="none" stroke="#bb3e3c" stroke-width="5.0" stroke-linejoin="round" stroke-linecap="round"/>
<path d="M199.6,1991.5 201.3,2075.1 203.1,2143.5 204.8,2168.8 206.5,2161.0 208.2,2132.6 209.9,2096.9 211.6,2092.0 213.3,2120.2 215.1,2139.3 216.8,2133.3 218.5,2141.5 220.2,2135.9 221.9,2145.5 223.6,2159.6 225.3,2123.1 227.0,2097.9 228.8,2122.8 230.5,2141.8 232.2,2137.4 233.9,2140.1 235.6,2156.0 237.3,2167.2 239.0,2171.2 240.7,2174.0 242.4,2156.9 244.2,2134.5 245.9,2104.7 247.6,2080.3 249.3,2071.8 251.0,2089.9 252.7,2117.6 254.4,2149.7 256.1,2176.6 257.9,2194.6 259.6,2196.7 261.3,2191.5 263.0,2196.7 264.7,2176.6 266.4,2180.3 268.1,2172.2 269.9,2153.6 271.6,2123.4 273.3,2117.4 275.0,2133.5 276.7,2170.8 278.4,2173.6 280.1,2172.4 281.8,2156.4 283.5,2144.0 285.3,2143.5 287.0,2147.3 288.7,2161.1 290.4,2145.1 292.1,2144.7 293.8,2146.1 295.5,2163.1 297.2,2171.3 299.0,2156.2 300.7,2179.0 302.4,2174.6 304.1,2171.2 305.8,2153.4 307.5,2151.6 309.2,2154.0 310.9,2178.0 312.7,2148.0 314.4,2152.0 316.1,2150.0 317.8,2162.5 319.5,2150.3 321.2,2165.4 322.9,2150.8 324.6,2166.2 326.4,2157.0 328.1,2168.9 329.8,2157.5 331.5,2144.0 333.2,2145.9 334.9,2161.9 336.6,2166.2 338.4,2161.1 340.1,2171.6 341.8,2184.0 343.5,2161.5 345.2,2175.3 346.9,2157.1 348.6,2157.5 350.3,2151.2 352.0,2145.0 353.8,2141.6 355.5,2155.9 357.2,2167.2 358.9,2165.7 360.6,2154.4 362.3,2171.8 364.0,2167.0 365.8,2164.1 367.5,2175.7 369.2,2154.5 370.9,2136.3 372.6,2113.8 374.3,2122.1 376.0,2144.9 377.7,2154.5 379.4,2151.9 381.2,2149.4 382.9,2150.5 384.6,2153.7 386.3,2138.8 388.0,2124.5 389.7,2139.0 391.4,2156.9 393.1,2153.4 394.9,2157.0 396.6,2164.4 398.3,2181.7 400.0,2179.2 401.7,2170.2 403.4,2172.4 405.1,2160.3 406.8,2160.5 408.6,2151.0 410.3,2147.1 412.0,2131.6 413.7,2124.5 415.4,2132.3 417.1,2140.9 418.8,2135.8 420.6,2154.8 422.3,2153.7 424.0,2155.2 425.7,2167.6 427.4,2142.5 429.1,2138.5 430.8,2140.9 432.5,2167.2 434.2,2176.6 436.0,2190.1 437.7,2165.1 439.4,2174.1 441.1,2117.9 442.8,2064.8 444.5,2031.8 446.2,2040.2 447.9,2093.7 449.7,2130.7 451.4,2184.0 453.1,2179.9 454.8,2171.7 456.5,2173.3 458.2,2165.1 459.9,2171.4 461.6,2196.7 463.4,2182.5 465.1,2168.0 466.8,2190.8 468.5,2162.2 470.2,2157.7 471.9,2168.5 473.6,2152.3 475.3,2165.0 477.1,2141.6 478.8,2111.8 480.5,2107.2 482.2,2122.1 483.9,2148.1 485.6,2142.7 487.3,2154.7 489.0,2140.2 490.8,2138.7 492.5,2149.5 494.2,2177.2 495.9,2167.8 497.6,2172.9 499.3,2179.7 501.0,2163.2 502.8,2190.1 504.5,2145.8 506.2,2110.5 507.9,2064.5 509.6,2057.4 511.3,2108.8 513.0,2142.1 514.7,2154.0 516.5,2138.3 518.2,2155.1 519.9,2156.0 521.6,2166.1 523.3,2165.8 525.0,2177.9 526.7,2154.4 528.4,2186.0 530.1,2190.7 531.9,2186.7 533.6,2174.5 535.3,2175.0 537.0,2169.5 538.7,2194.0 540.4,2176.7 542.1,2174.3 543.8,2169.0 545.6,2195.7 547.3,2169.4 549.0,2167.2 550.7,2147.5 552.4,2181.6 554.1,2149.9 555.8,2146.8 557.5,2166.3 559.3,2175.4 561.0,2183.5 562.7,2150.3 564.4,2132.2 566.1,2124.5 567.8,2135.9 569.5,2147.7 571.2,2147.5 573.0,2135.9 574.7,2146.5 576.4,2157.6 578.1,2162.0 579.8,2153.3 581.5,2153.5 583.2,2182.8 585.0,2169.8 586.7,2150.1 588.4,2127.2 590.1,2116.9 591.8,2127.8 593.5,2146.7 595.2,2159.4 596.9,2165.8 598.6,2175.5 600.4,2165.5 602.1,2156.1 603.8,2147.3 605.5,2166.9 607.2,2147.5 608.9,2163.4 610.6,2174.1 612.3,2171.2 614.1,2158.7 615.8,2163.8 617.5,2156.6 619.2,2185.0 620.9,2180.6 622.6,2169.6 624.3,2185.4 626.0,2159.3 627.8,2143.3 629.5,2125.8 631.2,2131.9 632.9,2156.1 634.6,2168.0 636.3,2157.5 638.0,2146.3 639.8,2147.0 641.5,2143.9 643.2,2146.7 644.9,2145.9 646.6,2152.8 648.3,2160.6 650.0,2145.7 651.7,2164.7 653.4,2145.0 655.2,2162.8 656.9,2163.2 658.6,2139.4 660.3,2097.8 662.0,2090.3 663.7,2107.3 665.4,2136.6 667.1,2138.4 668.9,2157.4 670.6,2146.0 672.3,2133.1 674.0,2151.5 675.7,2161.1 677.4,2164.3 679.1,2170.7 680.9,2153.3 682.6,2151.6 684.3,2160.3 686.0,2157.0 687.7,2161.1 689.4,2158.5 691.1,2158.7 692.8,2155.2 694.5,2169.0 696.3,2162.5 698.0,2175.6 699.7,2170.5 701.4,2165.1 703.1,2178.8 704.8,2177.8 706.5,2182.5 708.2,2188.9 710.0,2182.5 711.7,2176.6 713.4,2157.8 715.1,2168.2 716.8,2149.1 718.5,2174.9 720.2,2190.5 721.9,2196.7 723.7,2194.3 725.4,2185.4 727.1,2182.2 728.8,2162.9 730.5,2126.3 732.2,2109.3 733.9,2126.8 735.6,2147.4 737.4,2141.5 739.1,2136.4 740.8,2158.1 742.5,2156.3 744.2,2151.0 745.9,2156.8 747.6,2161.5 749.4,2163.2 751.1,2166.9 752.8,2185.0 754.5,2163.9 756.2,2130.9 757.9,2078.9 759.6,2048.5 761.3,2076.3 763.0,2132.5 764.8,2152.2 766.5,2154.5 768.2,2157.6 769.9,2162.9 771.6,2180.2 773.3,2166.7 775.0,2176.1 776.8,2179.5 778.5,2196.7 780.2,2173.6 781.9,2169.1 783.6,2181.4 785.3,2168.8 787.0,2139.7 788.7,2111.2 790.4,2097.9 792.2,2109.6 793.9,2130.7 795.6,2136.2 797.3,2134.7 799.0,2124.5 800.7,2137.8 802.4,2151.1 804.1,2162.2 805.9,2163.5 807.6,2145.4 809.3,2145.1 811.0,2156.2 812.7,2163.6 814.4,2143.2 816.1,2149.3 817.8,2164.7 819.6,2155.4 821.3,2168.0 823.0,2171.9 824.7,2148.8 826.4,2148.3 828.1,2143.5 829.8,2156.7 831.5,2147.7 833.3,2150.4 835.0,2137.9 836.7,2138.1 838.4,2147.9 840.1,2133.5 841.8,2117.7 843.5,2115.1 845.2,2140.7 847.0,2167.9 848.7,2166.8 850.4,2173.7 852.1,2195.2 853.8,2181.3 855.5,2186.4 857.2,2188.5 858.9,2172.6 860.7,2186.7 862.4,2173.2 864.1,2152.6 865.8,2152.3 867.5,2143.5 869.2,2156.5 870.9,2159.4 872.6,2178.9 874.4,2166.8 876.1,2164.5 877.8,2161.2 879.5,2152.4 881.2,2147.7 882.9,2128.3 884.6,2134.2 886.3,2155.4 888.1,2144.1 889.8,2154.1 891.5,2141.8 893.2,2174.5 894.9,2150.4 896.6,2175.6 898.3,2149.4 900.0,2134.9 901.8,2105.1 903.5,2092.0 905.2,2123.3 906.9,2143.7 908.6,2155.1 910.3,2168.2 912.0,2177.6 913.8,2164.1 915.5,2170.1 917.2,2170.4 918.9,2156.4 920.6,2171.9 922.3,2171.1 924.0,2151.8 925.7,2143.5 927.4,2151.5 929.2,2158.1 930.9,2149.8 932.6,2168.9 934.3,2175.0 936.0,2169.7 937.7,2150.8 939.4,2135.9 941.1,2137.7 942.9,2143.2 944.6,2163.9 946.3,2149.1 948.0,2161.1 949.7,2139.9 951.4,2138.8 953.1,2117.7 954.8,2101.4 956.6,2095.1 958.3,2110.9 960.0,2123.8 961.7,2105.5 963.4,2127.3 965.1,2149.9 966.8,2162.0 968.5,2176.0 970.3,2178.5 972.0,2189.3 973.7,2187.8 975.4,2181.8 977.1,2179.0 978.8,2190.4 980.5,2182.8 982.2,2166.7 984.0,2149.5 985.7,2141.3 987.4,2149.2 989.1,2124.5 990.8,2147.2 992.5,2163.2 994.2,2097.9 995.9,2067.5" fill="none" stroke="#90b64a" stroke-width="5.0" stroke-linejoin="round" stroke-linecap="round"/>
<path d="M199.6,1970.6 201.3,2063.6 203.1,2143.5 204.8,2175.2 206.5,2159.4 208.2,2154.2 209.9,2130.4 211.6,2131.1 213.3,2135.2 215.1,2135.2 216.8,2144.7 218.5,2146.0 220.2,2136.1 221.9,2161.7 223.6,2157.6 225.3,2136.9 227.0,2109.3 228.8,2130.8 230.5,2153.3 232.2,2138.0 233.9,2139.1 235.6,2156.3 237.3,2170.8 239.0,2171.7 240.7,2156.2 242.4,2146.8 244.2,2156.1 245.9,2133.1 247.6,2116.8 249.3,2113.5 251.0,2123.5 252.7,2147.7 254.4,2151.5 256.1,2181.0 257.9,2189.0 259.6,2181.0 261.3,2170.5 263.0,2184.7 264.7,2188.4 266.4,2156.7 268.1,2174.6 269.9,2160.8 271.6,2118.4 273.3,2113.6 275.0,2129.4 276.7,2167.9 278.4,2169.0 280.1,2168.6 281.8,2158.1 283.5,2134.8 285.3,2121.8 287.0,2135.1 288.7,2150.6 290.4,2141.6 292.1,2129.4 293.8,2128.4 295.5,2153.7 297.2,2188.1 299.0,2177.6 300.7,2186.0 302.4,2173.1 304.1,2162.8 305.8,2153.1 307.5,2151.8 309.2,2158.8 310.9,2167.9 312.7,2154.4 314.4,2165.8 316.1,2155.8 317.8,2148.8 319.5,2151.3 321.2,2160.9 322.9,2153.3 324.6,2166.6 326.4,2156.4 328.1,2153.2 329.8,2113.7 331.5,2085.1 333.2,2092.5 334.9,2135.3 336.6,2173.8 338.4,2166.2 340.1,2176.1 341.8,2171.7 343.5,2157.5 345.2,2180.9 346.9,2151.4 348.6,2163.3 350.3,2152.4 352.0,2128.8 353.8,2129.0 355.5,2134.5 357.2,2182.1 358.9,2178.1 360.6,2157.6 362.3,2164.4 364.0,2170.0 365.8,2163.0 367.5,2167.9 369.2,2148.6 370.9,2136.6 372.6,2125.2 374.3,2130.7 376.0,2154.1 377.7,2155.3 379.4,2151.6 381.2,2165.2 382.9,2163.9 384.6,2152.8 386.3,2142.4 388.0,2132.1 389.7,2142.2 391.4,2151.9 393.1,2156.0 394.9,2157.1 396.6,2162.7 398.3,2184.1 400.0,2183.6 401.7,2186.5 403.4,2172.1 405.1,2164.1 406.8,2170.7 408.6,2154.7 410.3,2134.2 412.0,2091.3 413.7,2067.5 415.4,2090.1 417.1,2123.9 418.8,2139.9 420.6,2150.0 422.3,2140.5 424.0,2154.9 425.7,2169.7 427.4,2151.6 429.1,2145.0 430.8,2148.9 432.5,2168.2 434.2,2166.8 436.0,2164.6 437.7,2167.5 439.4,2159.4 441.1,2130.3 442.8,2089.4 444.5,2057.6 446.2,2066.4 447.9,2108.7 449.7,2152.7 451.4,2177.4 453.1,2166.6 454.8,2177.5 456.5,2163.6 458.2,2185.3 459.9,2167.8 461.6,2174.1 463.4,2169.4 465.1,2181.3 466.8,2189.7 468.5,2184.7 470.2,2172.8 471.9,2157.2 473.6,2169.5 475.3,2162.1 477.1,2117.3 478.8,2070.6 480.5,2062.0 482.2,2098.2 483.9,2131.9 485.6,2154.0 487.3,2159.0 489.0,2145.4 490.8,2146.0 492.5,2158.6 494.2,2162.8 495.9,2168.6 497.6,2163.9 499.3,2177.8 501.0,2165.3 502.8,2171.1 504.5,2151.2 506.2,2143.9 507.9,2112.1 509.6,2108.9 511.3,2138.3 513.0,2172.2 514.7,2185.9 516.5,2155.0 518.2,2157.8 519.9,2157.1 521.6,2152.6 523.3,2148.5 525.0,2161.8 526.7,2192.8 528.4,2196.7 530.1,2196.7 531.9,2196.7 533.6,2190.7 535.3,2194.4 537.0,2176.3 538.7,2144.2 540.4,2166.0 542.1,2162.6 543.8,2170.1 545.6,2160.4 547.3,2163.5 549.0,2150.9 550.7,2145.0 552.4,2161.8 554.1,2146.3 555.8,2150.9 557.5,2181.2 559.3,2177.5 561.0,2161.5 562.7,2146.6 564.4,2127.1 566.1,2113.1 567.8,2129.1 569.5,2126.7 571.2,2131.9 573.0,2124.5 574.7,2136.0 576.4,2170.8 578.1,2181.1 579.8,2179.8 581.5,2177.7 583.2,2173.6 585.0,2151.0 586.7,2160.0 588.4,2153.2 590.1,2143.5 591.8,2146.3 593.5,2159.5 595.2,2160.1 596.9,2173.5 598.6,2165.6 600.4,2162.7 602.1,2166.4 603.8,2155.5 605.5,2172.7 607.2,2183.1 608.9,2180.0 610.6,2175.6 612.3,2174.1 614.1,2163.9 615.8,2158.6 617.5,2170.6 619.2,2167.4 620.9,2185.0 622.6,2126.0 624.3,2152.1 626.0,2167.1 627.8,2146.3 629.5,2136.8 631.2,2140.2 632.9,2154.3 634.6,2156.4 636.3,2152.9 638.0,2156.0 639.8,2145.2 641.5,2143.8 643.2,2144.8 644.9,2130.3 646.6,2144.2 648.3,2154.2 650.0,2154.7 651.7,2154.4 653.4,2164.0 655.2,2145.5 656.9,2144.3 658.6,2130.1 660.3,2087.0 662.0,2067.5 675.7,2090.3 676.1,2120.7 677.4,2169.2 679.1,2148.1 680.9,2173.6 682.6,2170.1 684.3,2181.3 686.0,2174.5 687.7,2162.2 689.4,2161.7 691.1,2139.5 692.8,2162.0 694.5,2167.6 696.3,2162.5 698.0,2170.6 699.7,2175.0 701.4,2186.9 703.1,2176.2 704.8,2175.3 706.5,2164.3 708.2,2160.5 710.0,2155.4 711.7,2170.5 713.4,2160.2 715.1,2168.1 716.8,2180.4 718.5,2180.5 720.2,2189.4 721.9,2196.7 723.7,2170.1 725.4,2177.4 727.1,2176.4 728.8,2160.1 730.5,2158.8 732.2,2154.9 733.9,2160.0 735.6,2152.3 737.4,2173.4 739.1,2176.5 740.8,2149.6 742.5,2164.2 744.2,2175.8 745.9,2156.7 747.6,2142.6 749.4,2148.5 751.1,2157.9 752.8,2159.0 754.5,2157.0 756.2,2126.1 757.9,2088.2 759.6,2063.7 761.3,2087.2 763.0,2118.1 764.8,2146.0 766.5,2166.5 768.2,2177.7 769.9,2167.2 771.6,2178.6 773.3,2184.8 775.0,2179.4 776.8,2189.1 778.5,2156.6 780.2,2153.9 781.9,2169.5 783.6,2169.6 785.3,2161.9 787.0,2149.9 788.7,2149.1 790.4,2143.5 792.2,2147.3 793.9,2154.2 795.6,2141.7 797.3,2116.0 799.0,2090.3 800.7,2108.5 802.4,2155.9 804.1,2146.5 805.9,2142.5 807.6,2162.2 809.3,2123.4 811.0,2150.1 812.7,2164.4 814.4,2163.8 816.1,2146.9 817.8,2171.6 819.6,2143.3 821.3,2145.0 823.0,2144.8 824.7,2145.0 826.4,2155.9 828.1,2143.5 829.8,2146.1 831.5,2144.6 833.3,2156.9 835.0,2150.4 836.7,2157.2 838.4,2156.7 840.1,2141.9 841.8,2133.2 843.5,2125.9 845.2,2148.2 847.0,2165.0 848.7,2153.7 850.4,2166.7 852.1,2167.5 853.8,2183.3 855.5,2172.3 857.2,2174.3 858.9,2178.9 860.7,2182.5 862.4,2186.4 864.1,2163.7 865.8,2158.5 867.5,2143.5 869.2,2148.2 870.9,2163.5 872.6,2176.6 874.4,2182.4 876.1,2161.5 877.8,2172.2 879.5,2148.0 881.2,2154.4 882.9,2143.5 884.6,2134.8 886.3,2148.5 888.1,2155.3 889.8,2143.5 891.5,2163.5 893.2,2164.9 894.9,2143.7 896.6,2170.0 898.3,2158.0 900.0,2154.0 901.8,2118.7 903.5,2114.4 905.2,2137.4 906.9,2141.4 908.6,2181.6 910.3,2161.9 912.0,2171.7 913.8,2174.9 915.5,2174.3 917.2,2196.7 918.9,2187.1 920.6,2171.3 922.3,2175.6 924.0,2160.8 925.7,2143.5 927.4,2159.2 929.2,2155.8 930.9,2158.8 932.6,2176.6 934.3,2159.4 936.0,2158.7 937.7,2140.7 939.4,2124.5 941.1,2137.4 942.9,2165.5 944.6,2142.2 946.3,2139.2 948.0,2158.7 949.7,2156.7 951.4,2139.5 953.1,2135.0 954.8,2117.9 956.6,2113.8 958.3,2127.6 960.0,2131.8 961.7,2124.5 963.4,2142.5 965.1,2165.4 966.8,2167.1 968.5,2184.0 970.3,2177.2 972.0,2183.4 973.7,2187.6 975.4,2184.8 977.1,2184.1 978.8,2190.6 980.5,2186.6 982.2,2146.2 984.0,2155.1 985.7,2148.2 987.4,2133.6 989.1,2124.5 990.8,2145.8 992.5,2161.2 994.2,2108.5 995.9,2082.7" fill="none" stroke="#75579c" stroke-width="5.0" stroke-linejoin="round" stroke-linecap="round"/>
<path d="M199.6,2004.4 201.3,2082.2 203.1,2143.5 204.8,2163.1 206.5,2168.6 208.2,2164.0 209.9,2132.5 211.6,2130.8 213.3,2147.3 215.1,2143.1 216.8,2140.7 218.5,2119.2 220.2,2094.6 221.9,2137.0 223.6,2165.6 225.3,2144.2 227.0,2135.9 228.8,2153.4 230.5,2152.0 232.2,2144.7 233.9,2145.2 235.6,2156.0 237.3,2159.9 239.0,2169.6 240.7,2153.1 242.4,2176.6 244.2,2141.8 245.9,2136.5 247.6,2121.4 249.3,2117.2 251.0,2130.8 252.7,2138.3 254.4,2159.7 256.1,2164.7 257.9,2168.0 259.6,2182.6 261.3,2196.7 263.0,2177.2 264.7,2196.7 266.4,2163.6 268.1,2171.2 269.9,2141.2 271.6,2108.7 273.3,2098.8 275.0,2126.0 276.7,2158.2 278.4,2165.1 280.1,2175.8 281.8,2155.9 283.5,2145.3 285.3,2132.5 287.0,2142.3 288.7,2153.0 290.4,2139.8 292.1,2138.5 293.8,2139.3 295.5,2159.7 297.2,2186.1 299.0,2191.0 300.7,2179.3 302.4,2170.6 304.1,2148.2 305.8,2149.4 307.5,2144.8 309.2,2159.7 310.9,2162.4 312.7,2170.9 314.4,2179.8 316.1,2157.7 317.8,2162.5 319.5,2160.1 321.2,2156.8 322.9,2170.7 324.6,2155.5 326.4,2165.0 328.1,2157.4 329.8,2142.4 331.5,2129.2 333.2,2135.3 334.9,2157.1 336.6,2159.3 338.4,2181.6 340.1,2180.0 341.8,2174.9 343.5,2189.9 345.2,2168.0 346.9,2158.7 348.6,2145.7 350.3,2156.5 352.0,2147.3 353.8,2154.1 355.5,2157.9 357.2,2183.7 358.9,2174.5 360.6,2179.6 362.3,2165.4 364.0,2161.2 365.8,2169.4 367.5,2158.3 369.2,2139.1 370.9,2115.3 372.6,2102.2 374.3,2108.8 376.0,2121.0 377.7,2136.2 379.4,2153.3 381.2,2143.2 382.9,2150.2 384.6,2138.7 386.3,2139.9 388.0,2143.5 389.7,2150.0 391.4,2164.3 393.1,2159.9 394.9,2163.2 396.6,2170.6 398.3,2171.3 400.0,2175.7 401.7,2182.9 403.4,2182.5 405.1,2156.6 406.8,2169.0 408.6,2159.6 410.3,2136.6 412.0,2112.1 413.7,2097.9 415.4,2114.3 417.1,2144.8 418.8,2139.3 420.6,2134.9 422.3,2144.3 424.0,2153.2 425.7,2158.0 427.4,2150.9 429.1,2135.4 430.8,2137.6 432.5,2166.0 434.2,2187.3 436.0,2177.6 437.7,2160.2 439.4,2159.0 441.1,2147.6 442.8,2096.7 444.5,2061.7 446.2,2071.0 447.9,2112.2 449.7,2142.8 451.4,2176.7 453.1,2185.2 454.8,2183.9 456.5,2168.7 458.2,2177.2 459.9,2187.1 461.6,2178.0 463.4,2185.1 465.1,2171.1 466.8,2167.6 468.5,2161.9 470.2,2184.4 471.9,2160.2 473.6,2155.8 475.3,2149.0 477.1,2135.3 478.8,2129.8 480.5,2129.1 482.2,2141.1 483.9,2155.3 485.6,2164.4 487.3,2154.8 489.0,2146.4 490.8,2145.2 492.5,2138.6 494.2,2156.6 495.9,2151.4 497.6,2160.1 499.3,2173.7 501.0,2175.1 502.8,2163.2 504.5,2151.0 506.2,2141.0 507.9,2109.0 509.6,2104.6 511.3,2134.3 513.0,2138.6 514.7,2143.9 516.5,2163.8 518.2,2159.2 519.9,2166.4 521.6,2177.2 523.3,2152.3 525.0,2154.0 526.7,2182.3 528.4,2165.3 530.1,2171.5 531.9,2183.9 533.6,2196.6 535.3,2179.4 537.0,2190.2 538.7,2178.3 540.4,2193.9 542.1,2170.7 543.8,2159.6 545.6,2170.9 547.3,2164.1 549.0,2164.2 550.7,2151.7 552.4,2167.1 554.1,2149.2 555.8,2149.3 557.5,2175.0 559.3,2181.1 561.0,2164.3 562.7,2153.6 564.4,2107.4 566.1,2082.7 567.8,2107.9 569.5,2129.7 571.2,2121.7 573.0,2105.5 574.7,2121.0 576.4,2148.3 578.1,2156.8 579.8,2148.6 581.5,2167.5 583.2,2145.1 585.0,2156.9 586.7,2143.3 588.4,2132.3 590.1,2124.5 591.8,2136.4 593.5,2145.4 595.2,2173.6 596.9,2176.7 598.6,2173.4 600.4,2157.3 602.1,2179.3 603.8,2162.3 605.5,2158.5 607.2,2175.1 608.9,2163.4 610.6,2181.5 612.3,2154.5 614.1,2166.0 615.8,2151.9 617.5,2151.4 619.2,2175.2 620.9,2171.6 622.6,2155.2 624.3,2162.8 626.0,2135.4 627.8,2116.1 629.5,2084.6 631.2,2092.8 632.9,2117.1 634.6,2147.2 636.3,2141.5 638.0,2136.7 639.8,2129.9 641.5,2129.4 643.2,2140.3 644.9,2126.9 646.6,2138.7 648.3,2157.8 650.0,2163.6 651.7,2153.9 653.4,2152.1 655.2,2148.5 656.9,2138.4 658.6,2138.7 660.3,2121.8 662.0,2109.3 663.7,2120.7 665.4,2132.1 667.1,2155.7 668.9,2161.0 670.6,2159.8 672.3,2156.2 674.0,2159.9 675.7,2172.9 677.4,2151.3 679.1,2168.2 680.9,2155.7 682.6,2172.6 684.3,2156.9 686.0,2158.7 687.7,2140.4 689.4,2171.8 691.1,2143.2 692.8,2134.9 694.5,2168.1 696.3,2162.5 698.0,2171.9 699.7,2185.9 701.4,2180.2 703.1,2185.7 704.8,2188.4 706.5,2183.0 708.2,2196.7 710.0,2186.9 711.7,2161.9 713.4,2163.3 715.1,2159.7 716.8,2163.8 718.5,2188.2 720.2,2170.8 721.9,2193.1 723.7,2188.6 725.4,2196.7 727.1,2187.7 728.8,2181.9 730.5,2155.2 732.2,2154.9 733.9,2159.0 735.6,2155.9 737.4,2157.7 739.1,2148.8 740.8,2141.4 742.5,2150.7 744.2,2151.1 745.9,2156.9 747.6,2172.0 749.4,2145.0 751.1,2164.7 752.8,2169.9 754.5,2152.2 756.2,2136.8 757.9,2110.7 759.6,2090.3 761.3,2104.5 763.0,2144.6 764.8,2167.4 766.5,2178.0 768.2,2172.3 769.9,2158.6 771.6,2171.6 773.3,2167.4 775.0,2176.3 776.8,2169.6 778.5,2166.9 780.2,2162.6 781.9,2156.9 783.6,2162.2 785.3,2151.6 787.0,2160.6 788.7,2146.1 790.4,2143.5 792.2,2147.2 793.9,2156.0 795.6,2156.3 797.3,2153.3 799.0,2143.5 800.7,2151.8 802.4,2176.7 804.1,2154.0 805.9,2164.0 807.6,2156.0 809.3,2131.8 811.0,2149.1 812.7,2143.0 814.4,2164.7 816.1,2180.2 817.8,2155.2 819.6,2156.9 821.3,2146.8 823.0,2137.5 824.7,2159.7 826.4,2142.2 828.1,2124.5 829.8,2137.2 831.5,2158.2 833.3,2151.7 835.0,2157.7 836.7,2153.4 838.4,2134.0 840.1,2129.4 841.8,2100.8 843.5,2092.4 845.2,2124.7 847.0,2163.8 848.7,2187.4 850.4,2168.9 852.1,2179.9 853.8,2177.3 855.5,2164.6 857.2,2173.2 858.9,2167.2 860.7,2147.6 862.4,2172.0 864.1,2135.1 865.8,2143.9 867.5,2124.5 869.2,2144.9 870.9,2158.4 872.6,2144.7 874.4,2157.3 876.1,2183.6 877.8,2180.4 879.5,2166.1 881.2,2148.0 882.9,2137.0 884.6,2143.5 886.3,2152.6 888.1,2138.0 889.8,2170.3 891.5,2156.7 893.2,2156.8 894.9,2159.5 896.6,2159.0 898.3,2166.2 900.0,2155.0 901.8,2106.8 903.5,2099.8 905.2,2115.7 906.9,2140.6 908.6,2162.7 910.3,2187.4 912.0,2175.9 913.8,2176.4 915.5,2174.4 917.2,2176.1 918.9,2166.1 920.6,2176.9 922.3,2152.8 924.0,2158.3 925.7,2143.5 927.4,2157.0 929.2,2172.2 930.9,2154.8 932.6,2158.2 934.3,2180.6 936.0,2157.0 937.7,2138.8 939.4,2135.9 941.1,2142.7 942.9,2140.4 944.6,2174.5 946.3,2152.0 948.0,2143.3 949.7,2142.0 951.4,2147.7 953.1,2114.1 954.8,2077.8 956.6,2069.0 958.3,2090.2 960.0,2085.7 961.7,2056.1 963.4,2103.1 965.1,2154.5 966.8,2191.9 968.5,2180.1 970.3,2176.2 972.0,2167.8 973.7,2189.3 975.4,2188.7 977.1,2179.1 978.8,2183.4 980.5,2183.8 982.2,2176.5 984.0,2149.3 985.7,2164.0 987.4,2144.0 989.1,2124.5 990.8,2143.3 992.5,2163.5 994.2,2103.2 995.9,2075.1" fill="none" stroke="#3aa6c8" stroke-width="5.0" stroke-linejoin="round" stroke-linecap="round"/>
<text transform="translate(106.6,1960.1) scale(1.190,1)" font-family="Liberation Sans" font-size="18.4" font-weight="normal" text-anchor="end" fill="#111" >0.7</text>
<text transform="translate(106.6,1998.2) scale(1.190,1)" font-family="Liberation Sans" font-size="18.4" font-weight="normal" text-anchor="end" fill="#111" >0.6</text>
<text transform="translate(106.6,2036.4) scale(1.190,1)" font-family="Liberation Sans" font-size="18.4" font-weight="normal" text-anchor="end" fill="#111" >0.5</text>
<text transform="translate(106.6,2074.5) scale(1.190,1)" font-family="Liberation Sans" font-size="18.4" font-weight="normal" text-anchor="end" fill="#111" >0.4</text>
<text transform="translate(106.6,2112.7) scale(1.190,1)" font-family="Liberation Sans" font-size="18.4" font-weight="normal" text-anchor="end" fill="#111" >0.3</text>
<text transform="translate(106.6,2150.8) scale(1.190,1)" font-family="Liberation Sans" font-size="18.4" font-weight="normal" text-anchor="end" fill="#111" >0.2</text>
<text transform="translate(106.6,2189.0) scale(1.190,1)" font-family="Liberation Sans" font-size="18.4" font-weight="normal" text-anchor="end" fill="#111" >0.1</text>
<text transform="translate(106.6,2227.2) scale(1.190,1)" font-family="Liberation Sans" font-size="18.4" font-weight="normal" text-anchor="end" fill="#111" >0</text>
<text transform="translate(126.0,2254.5) scale(1.190,1)" font-family="Liberation Sans" font-size="18.4" font-weight="normal" text-anchor="middle" fill="#111" >0</text>
<text transform="translate(297.2,2254.5) scale(1.190,1)" font-family="Liberation Sans" font-size="18.4" font-weight="normal" text-anchor="middle" fill="#111" >100</text>
<text transform="translate(468.5,2254.5) scale(1.190,1)" font-family="Liberation Sans" font-size="18.4" font-weight="normal" text-anchor="middle" fill="#111" >200</text>
<text transform="translate(639.8,2254.5) scale(1.190,1)" font-family="Liberation Sans" font-size="18.4" font-weight="normal" text-anchor="middle" fill="#111" >300</text>
<text transform="translate(811.0,2254.5) scale(1.190,1)" font-family="Liberation Sans" font-size="18.4" font-weight="normal" text-anchor="middle" fill="#111" >400</text>
<text transform="translate(982.2,2254.5) scale(1.190,1)" font-family="Liberation Sans" font-size="18.4" font-weight="normal" text-anchor="middle" fill="#111" >500</text>
<text transform="translate(1153.5,2254.5) scale(1.190,1)" font-family="Liberation Sans" font-size="18.4" font-weight="normal" text-anchor="middle" fill="#111" >600</text>
<text x="1154.8" y="1986.3" font-family="Liberation Serif" font-size="52.5" font-weight="bold" text-anchor="middle" fill="#000" >E</text>
<text x="546.6" y="2234.0" font-family="Liberation Serif" font-size="33.0" font-weight="bold" text-anchor="middle" fill="#000" >Residue</text>
<text x="0.0" y="0.0" font-family="Liberation Serif" font-size="37.5" font-weight="bold" text-anchor="middle" fill="#000" transform="translate(28.0,698.4) rotate(-90)">Nanometer</text>
<text x="0.0" y="0.0" font-family="Liberation Serif" font-size="43.1" font-weight="bold" text-anchor="middle" fill="#000" transform="translate(33.0,1898.6) rotate(-90)">Nanometer</text>
<line x1="172.0" y1="2302.0" x2="212.0" y2="2302.0" stroke="#3f76b8" stroke-width="4.2" stroke-linecap="round"/>
<text x="220.8" y="2296.2" font-family="Liberation Serif" font-size="25.3" font-weight="bold" text-anchor="start" fill="#000" >CDPK1-</text>
<text x="220.8" y="2324.0" font-family="Liberation Serif" font-size="25.8" font-weight="bold" text-anchor="start" fill="#000" >RM-1-132</text>
<line x1="375.5" y1="2302.3" x2="417.3" y2="2302.3" stroke="#bb3e3c" stroke-width="4.2" stroke-linecap="round"/>
<text x="427.1" y="2297.9" font-family="Liberation Serif" font-size="25.3" font-weight="bold" text-anchor="start" fill="#000" >CDPK1-</text>
<text x="427.1" y="2324.5" font-family="Liberation Serif" font-size="24.8" font-weight="bold" text-anchor="start" fill="#000" >Omeprazole</text>
<line x1="579.0" y1="2302.3" x2="621.2" y2="2302.3" stroke="#90b64a" stroke-width="4.2" stroke-linecap="round"/>
<text x="627.9" y="2299.4" font-family="Liberation Serif" font-size="25.3" font-weight="bold" text-anchor="start" fill="#000" >CDPK1-</text>
<text x="627.9" y="2327.1" font-family="Liberation Serif" font-size="24.0" font-weight="bold" text-anchor="start" fill="#000" >Pantoprazole</text>
<line x1="783.7" y1="2301.8" x2="824.0" y2="2301.8" stroke="#75579c" stroke-width="4.2" stroke-linecap="round"/>
<text x="834.8" y="2302.8" font-family="Liberation Serif" font-size="25.3" font-weight="bold" text-anchor="start" fill="#000" >CDPK1-</text>
<text x="834.8" y="2331.2" font-family="Liberation Serif" font-size="25.5" font-weight="bold" text-anchor="start" fill="#000" >Betamethasone</text>
<line x1="988.4" y1="2302.0" x2="1026.2" y2="2302.0" stroke="#3aa6c8" stroke-width="4.2" stroke-linecap="round"/>
<text x="1035.3" y="2302.8" font-family="Liberation Serif" font-size="25.3" font-weight="bold" text-anchor="start" fill="#000" >CDPK1-</text>
<text x="1035.3" y="2331.0" font-family="Liberation Serif" font-size="24.6" font-weight="bold" text-anchor="start" fill="#000" >Bromocriptine</text>
</svg>
</body></html>
